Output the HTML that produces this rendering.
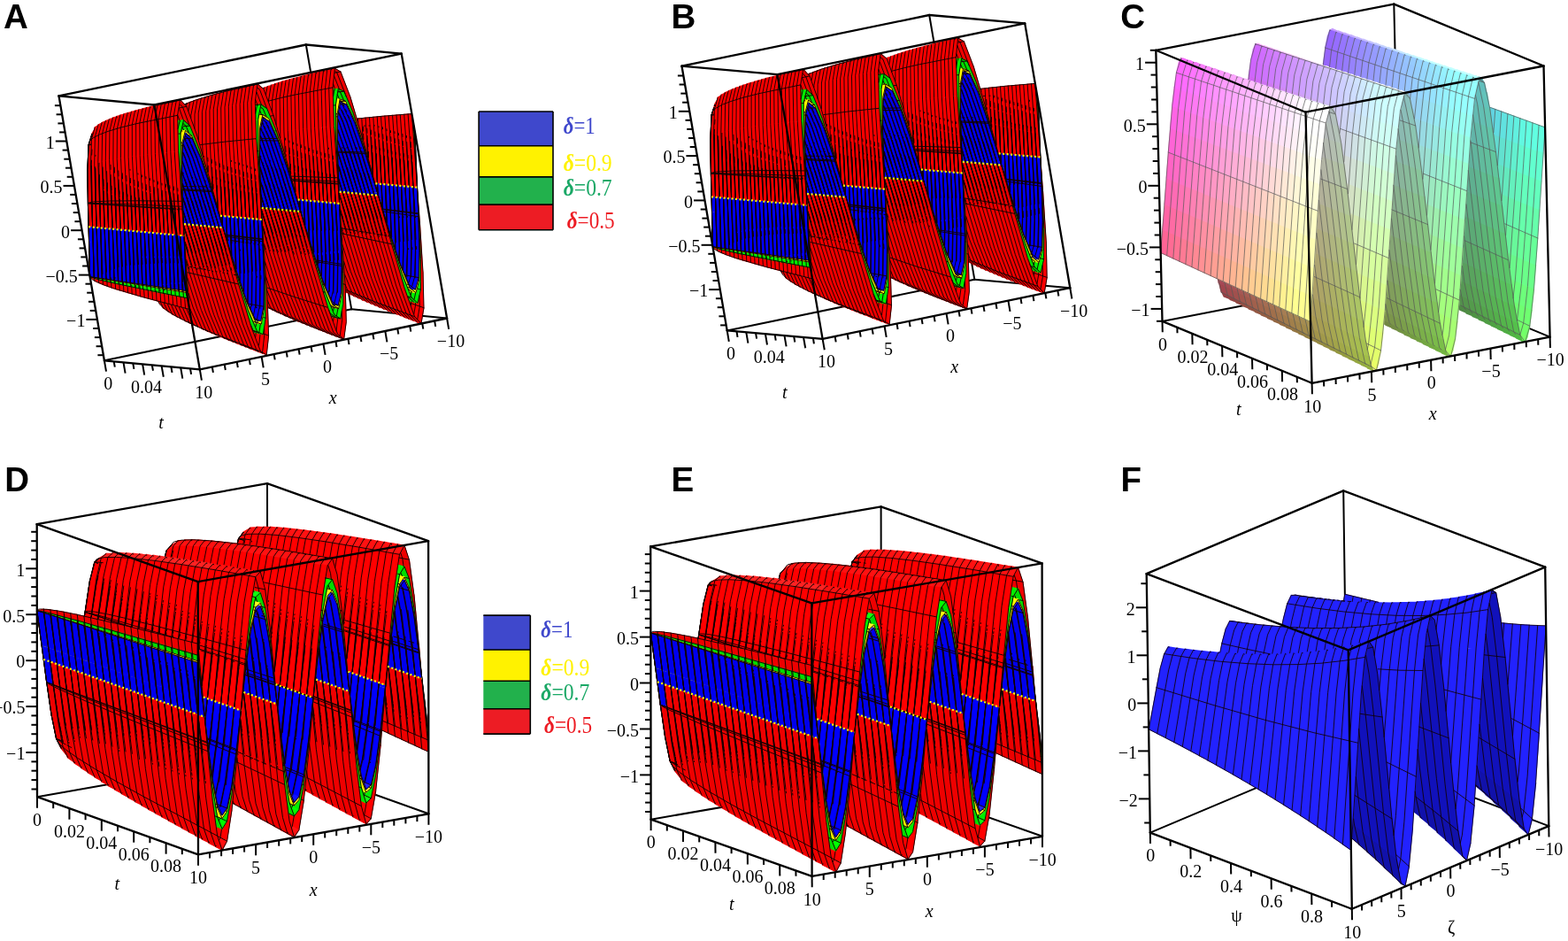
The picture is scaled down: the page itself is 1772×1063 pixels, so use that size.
<!DOCTYPE html><html><head><meta charset="utf-8"><title>Figure</title><style>html,body{margin:0;padding:0;background:#fff;overflow:hidden}svg{display:block}</style></head><body><svg width="1772" height="1063" viewBox="0 0 1772 1063"><g stroke="#000" stroke-width="2" stroke-linecap="round"><line x1="117.9" y1="407.3" x2="397.2" y2="349.3"/><line x1="397.2" y1="349.3" x2="345.8" y2="50.5"/><line x1="397.2" y1="349.3" x2="505.1" y2="359.5"/></g><g><path fill="#e00" d="M175.6 327.3l8.9 20.6-6.5-7.5-8.6-19.1zM180.5 330.3l9.1 21.5-5.8-3.5-9-20.8zM382.7 301.1l10.3 27.2-5.6-1.9-10.1-26.7zM185.3 332.8l9.3 22.1-5.7-2.8-9.2-21.5zM387.4 302.8l10.4 27.6-5.6-1.8-10.2-27.2zM190.1 335.1l9.4 22.6-5.6-2.5-9.3-22.1zM392.1 304.5l10.5 27.9-5.6-1.7-10.3-27.6zM386.4 303.9l-13.1-43.2 5.4 .8 13.2 43.8zM194.9 337.2l9.5 23-5.6-2.2-9.4-22.6zM300.4 345.9l-9.9-25.3 5.4 1.5 10 25.7zM396.8 306.1l10.5 28.3-5.5-1.7-10.4-27.9zM391.1 305.5l-13.2-43.8 5.4 .8 13.3 44.4zM199.6 339.2l9.6 23.4-5.5-2-9.6-23.1zM305.2 348.1l-10-25.7 5.4 1.4 10.1 26.1zM401.5 307.7l10.6 28.7-5.5-1.7-10.5-28.3zM395.8 307.1l-13.3-44.3 5.4 .8 13.4 44.9zM204.4 341.1l9.7 23.8-5.6-1.9-9.6-23.5zM310 350.2l-10.1-26.1 5.5 1.4 10.1 26.5zM406.2 309.3l10.6 29-5.5-1.6-10.5-28.7zM374 215.2l13.7 49.1-5.4-.8-13.6-48.5zM292.1 283.5l13 42.8-5.5-1.4-12.9-42.2zM400.5 308.7l-13.4-44.9 5.4 .8 13.5 45.5zM209.1 342.9l9.8 24.2-5.6-1.8-9.7-23.9zM314.8 352.3l-10.2-26.5 5.5 1.4 10.2 26.8zM410.9 310.8l10.7 29.4-5.5-1.6-10.6-29zM378.5 215.6l13.8 49.8-5.4-.8-13.7-49.2zM296.7 284.6l13.1 43.4-5.5-1.4-13-42.8zM405.2 310.3l-13.5-45.5 5.4 .8 13.6 46zM213.8 344.7l9.9 24.6-5.6-1.8-9.7-24.2zM319.5 354.3l-10.2-26.8 5.5 1.3 10.2 27.2zM415.6 312.3l10.7 29.8-5.5-1.6-10.6-29.4zM383 216.1l13.9 50.3-5.4-.8-13.8-49.7zM301.3 285.7l13.2 43.9-5.4-1.4-13.2-43.3zM409.9 311.8l-13.6-46 5.4 .8 13.7 46.5zM218.6 346.5l9.8 24.9-5.5-1.8-9.8-24.6zM324.3 356.3l-10.3-27.2 5.5 1.3 10.3 27.5zM295.7 285.6l-14.7-52.4 5.2 .2 14.9 53.1zM420.3 313.8l10.8 30.1-5.5-1.6-10.8-29.7zM212.8 345.8l-12.7-41.2 5.4 .9 12.8 41.7zM387.5 216.5l14 50.9-5.4-.8-13.9-50.3zM305.9 286.8l13.3 44.4-5.4-1.4-13.3-43.9zM414.6 313.3l-13.7-46.5 5.4 .8 13.7 47zM223.3 348.2l9.9 25.2-5.5-1.7-9.9-24.9zM329.1 358.2l-10.4-27.5 5.5 1.3 10.4 27.8zM300.4 286.7l-14.9-53 5.2 .2 15 53.7zM425 315.3l10.8 30.4-5.5-1.5-10.8-30.1zM217.5 347.5l-12.8-41.7 5.4 .9 12.9 42.2zM392 216.9l14.1 51.5-5.4-.8-14-50.9zM310.5 287.8l13.4 45-5.4-1.4-13.4-44.4zM419.3 314.9l-13.8-47.1 5.4 .7 13.8 47.6zM228 349.8l10 25.6-5.5-1.7-10-25.2zM333.8 360.1l-10.4-27.8 5.4 1.2 10.5 28.2zM305 287.8l-15-53.7 5.2 .2 15.1 54.3zM429.6 316.8l10.9 30.7-5.4-1.5-10.9-30.4zM222.3 349.2l-13-42.3 5.4 .9 13 42.8zM396.5 217.3l14.2 52-5.4-.7-14.1-51.5zM315.1 288.9l13.5 45.4-5.4-1.3-13.5-44.9zM424 316.3l-13.9-47.5 5.3 .7 14 48.1zM232.7 351.5l10 25.8-5.4-1.6-10.1-25.6zM199.7 255.9l14.8 52.7-5.4-.9-14.7-52zM338.6 362l-10.5-28.2 5.4 1.3 10.5 28.4zM309.6 288.8l-15.1-54.3 5.2 .2 15.2 55zM434.3 318.2l11 31.1-5.5-1.5-10.9-30.7zM227 350.9l-13.1-42.9 5.4 .9 13.1 43.3zM401 217.8l14.3 52.5-5.4-.8-14.2-51.9zM319.7 289.9l13.6 46-5.5-1.3-13.4-45.5zM237.4 353.1l10.1 26.1-5.5-1.6-10.1-25.8zM428.6 317.8l-13.9-48.1 5.3 .8 14.1 48.5zM204.2 256.4l14.9 53.3-5.3-.9-14.8-52.6zM343.3 363.8l-10.5-28.4 5.4 1.2 10.6 28.7zM314.2 289.9l-15.2-55 5.2 .2 15.3 55.6zM439 319.7l11 31.3-5.5-1.4-10.9-31.1zM231.7 352.5l-13.1-43.3 5.3 .8 13.2 43.9zM405.5 218.2l14.4 53.1-5.4-.8-14.3-52.5zM324.3 290.9l13.7 46.5-5.5-1.3-13.5-46zM242.1 354.7l10.2 26.4-5.5-1.6-10.2-26.1zM433.3 319.3l-14-48.6 5.3 .7 14.1 49.1zM208.7 256.9l15.1 53.9-5.4-.9-14.9-53.3zM348 365.6l-10.5-28.7 5.4 1.2 10.6 29.1zM318.8 290.9l-15.3-55.6 5.2 .2 15.4 56.2zM203.4 257.4l-1.2-5.1 5.3 .2 1.1 5.2zM443.6 321.1l11.1 31.7-5.5-1.5-11-31.3zM236.4 354.1l-13.2-43.8 5.3 .8 13.3 44.3zM410 218.6l14.5 53.6-5.4-.7-14.4-53.1zM328.9 291.9l13.8 47-5.5-1.3-13.7-46.4zM246.8 356.2l10.2 26.8-5.5-1.6-10.2-26.4zM438 320.7l-14.1-49 5.3 .7 14.2 49.5zM213.2 257.4l15.2 54.5-5.4-.9-15-53.9zM352.8 367.4l-10.6-29 5.4 1.2 10.7 29.3zM323.4 291.9l-15.4-56.1 5.2 .2 15.5 56.7zM207.9 257.9l-1.2-5.2 5.3 .2 1.2 5.3zM241.1 355.7l-13.3-44.4 5.4 .9 13.3 44.8zM414.5 219l14.5 54.2-5.3-.8-14.5-53.6zM333.5 292.9l13.8 47.5-5.4-1.3-13.8-46.9zM251.5 357.8l10.2 27-5.4-1.5-10.3-26.8zM217.7 257.8l15.3 55.2-5.4-.9-15.1-54.5zM357.5 369.2l-10.7-29.3 5.5 1.2 10.7 29.6zM328 292.9l-15.5-56.7 5.2 .2 15.6 57.3zM212.4 258.4l-1.2-5.3 5.3 .2 1.2 5.3zM245.8 357.3l-13.4-44.9 5.4 .8 13.4 45.4zM338.1 293.9l13.9 48-5.4-1.3-13.9-47.4zM256.2 359.3l10.3 27.4-5.5-1.6-10.3-27zM222.2 258.3l15.4 55.7-5.4-.8-15.2-55.2zM362.2 371l-10.7-29.6 5.4 1.1 10.8 30zM332.6 293.9l-15.7-57.3 5.3 .2 15.7 57.9zM216.9 258.8l-1.2-5.3 5.3 .3 1.2 5.3zM378.2 112.3l-10.8-28 5-1.2 10.9 28.3zM250.5 358.8l-13.5-45.3 5.4 .8 13.5 45.8zM342.7 294.9l14 48.4-5.4-1.2-14-47.9zM260.8 360.8l10.4 27.7-5.5-1.5-10.3-27.4zM226.8 258.8l15.4 56.3-5.4-.8-15.3-55.8zM221.4 259.3l-1.2-5.3 5.3 .2 1.2 5.4zM255.1 360.3l-13.5-45.8 5.4 .9 13.6 46.2zM382.6 111.6l-10.9-28.2 5-1.2 10.9 28.5zM265.5 362.3l10.4 28-5.4-1.5-10.4-27.7zM231.3 259.2l15.5 56.9-5.4-.8-15.4-56.3zM225.9 259.8l-1.2-5.4 5.3 .2 1.2 5.4zM259.8 361.9l-13.6-46.3 5.4 .8 13.7 46.7zM386.9 111l-11-28.5 5.1-1.2 10.9 28.8zM270.2 363.8l10.5 28.2-5.5-1.4-10.4-28zM235.8 259.7l15.6 57.5-5.4-.8-15.5-56.9zM285.4 102.7l11.2 30-5.1 .9-11.1-29.7zM230.4 260.2l-1.2-5.4 5.3 .2 1.2 5.5zM264.5 363.4l-13.7-46.8 5.4 .8 13.8 47.2zM391.2 110.4l-11-28.8 5-1.2 11 29zM240.3 260.2l15.7 58-5.4-.8-15.6-57.5zM234.9 260.7l-1.2-5.5 5.3 .2 1.2 5.6zM239.4 261.2l-1.2-5.5 5.3 .2 1.2 5.5zM204.8 155l-11.4-31.4 5-1.2 11.5 31.7z"/><path fill="#d00" d="M389.8 330.4l-6.7-6.8 5.3 1.7 6.8 6.9zM394.6 332.8l-6.7-6.9 5.3 1.5 6.8 7.1zM399.5 335.1l-6.8-7.1 5.3 1.5 6.8 7.2zM301.3 344.7l6.5 5.3-5.3-1.7-6.4-5.2zM404.3 337.3l-6.8-7.2 5.3 1.5 6.8 7.2zM306.1 346.9l6.5 5.3-5.3-1.6-6.4-5.2zM409.1 339.4l-6.9-7.2 5.3 1.4 6.9 7.3zM310.9 349l6.5 5.4-5.2-1.5-6.5-5.3zM413.8 341.5l-6.8-7.4 5.3 1.4 6.9 7.5zM315.7 351.1l6.5 5.5-5.2-1.5-6.5-5.4zM418.6 343.6l-6.9-7.5 5.3 1.3 6.9 7.6zM320.5 353.1l6.5 5.6-5.2-1.5-6.6-5.5zM423.4 345.6l-6.9-7.6 5.3 1.3 6.9 7.7zM325.2 355l6.6 5.7-5.3-1.4-6.5-5.6zM428.1 347.5l-6.9-7.6 5.3 1.3 7 7.7zM229.7 372.8l-6.2-3.7 5.1 1.3 6.2 3.8zM330 357l6.5 5.7-5.2-1.3-6.6-5.7zM432.9 349.5l-6.9-7.8 5.3 1.3 6.9 7.8zM234.5 374.9l-6.3-3.8 5.1 1.3 6.3 3.8zM334.7 358.9l6.6 5.8-5.2-1.3-6.6-5.8zM437.7 351.4l-7-7.8 5.3 1.2 7 7.9zM239.2 377l-6.2-3.8 5.1 1.2 6.2 3.9zM339.5 360.7l6.6 5.9-5.3-1.3-6.6-5.8zM442.4 353.3l-7-7.9 5.3 1.2 7 8zM244 379l-6.2-3.8 5.1 1.2 6.2 3.9zM344.2 362.6l6.6 6-5.2-1.3-6.6-5.9zM447.2 355.2l-7-8 5.3 1.2 7 8.1zM248.8 381l-6.3-3.9 5.1 1.2 6.3 4zM348.9 364.4l6.7 6.1-5.2-1.3-6.7-6zM451.9 357.1l-7-8.2 5.3 1.2 7 8.2zM253.5 383l-6.2-4 5.1 1.2 6.2 4zM353.7 366.2l6.6 6.1-5.2-1.2-6.6-6zM258.3 384.9l-6.3-4 5.1 1.1 6.3 4.1zM358.4 368l6.7 6.2-5.3-1.2-6.6-6.1zM263 386.8l-6.3-4 5.1 1.1 6.4 4.1zM363.1 369.8l6.7 6.2-5.2-1.2-6.7-6.1zM267.8 388.7l-6.3-4.1 5.1 1.1 6.3 4.2zM272.5 390.6l-6.3-4.2 5.1 1.1 6.3 4.2zM277.3 392.4l-6.4-4.2 5.1 1.1 6.4 4.3zM374.1 77.4l6.8 4.5-4.6 1.6-6.8-4.4zM378.4 76.5l6.8 4.5-4.6 1.6-6.9-4.5zM289.2 103l-7.2-6.4 4.8-1.6 7.2 6.5zM199.5 112.8l7.5 8.5-4.8 1.4-7.6-8.4z"/><path fill="#f00" d="M298.2 98.9l-2.7 18.3-4.9 1.4 2.7-18zM106 273.8l1 43.8-6-4.6-.5-40.8zM302.4 97.3l-2.7 18.6-5 1.2 2.8-18.3zM99.8 256.6l-.9-27.2 5-1.6 1.2 29.2zM102.6 186.6l1.5 41.9-4.9 1.6-1-39zM107.2 143.9l-3 13.6-4.1 6.2 3.2-12.7zM98.8 191.6l.6-28.1 4.1-6.5-.3 30.2zM110.6 274.8l1.3 45.2-5.6-2.3-1.1-43.9zM298.9 151.5l-.2-36.4 5-1.3 .4 37zM306.6 95.8l-2.7 18.9-5 1.1 2.7-18.6zM402.3 185.3l-2.6-51.1 5.1-.6 2.8 51.8zM104.3 257l-1.1-29.2 5.1-.5 1.3 30.1zM106.9 184.7l1.5 43.4-5.2 .5-1.2-42.1zM111.2 140.7l-3.2 14.3-4.7 2.4 3.3-13.8zM102.3 187.2l.5-30.3 4.8-2.7-.4 31.3zM203 134.7l3-16.4 4.9-1.7-3 16.8zM115.1 275.6l1.6 46.3-5.6-1.9-1.4-45.2zM303.2 150.8l-.3-37 5-1.1 .5 37.4zM310.8 94.4l-2.7 19.1-5 1 2.7-18.8zM406.8 185.4l-2.8-51.8 5.1-.5 2.9 52.4zM108.8 257.5l-1.3-30.2 5.2-.3 1.4 30.8zM111.1 183.4l1.6 44.4-5.1 .3-1.5-43.3zM115.3 138.3l-3.2 14.6-4.9 1.9 3.3-14.3zM106.4 185.5l.4-31.4 4.9-2-.3 32.1zM207.1 133.2l3-16.7 4.9-1.5-2.9 17zM119.7 276.4l1.7 47.3-5.5-1.7-1.6-46.3zM307.6 150.1l-.5-37.4 5.1-1.1 .5 37.9zM315 93l-2.6 19.4-5.1 1 2.7-19.2zM411.2 185.6l-2.9-52.4 5.2-.6 3 53.1zM113.3 257.9l-1.4-30.9 5.2-.2 1.5 31.5zM115.4 182.3l1.7 45.3-5.2 .2-1.6-44.4zM119.4 136.2l-3.2 15-4.9 1.5 3.3-14.6zM110.5 184.2l.4-32.1 5-1.8-.3 32.8zM216 129.9l.2 35.7-5.1 .7-.1-35.1zM211.3 131.8l3-17 4.9-1.4-2.9 17.3zM316.9 148.2l2.7 51.1-5.3-.1-2.5-50.4zM415.7 184.9l5.2 .1 1.4 22.4-5.3-.3zM124.2 277.2l1.9 48.1-5.5-1.6-1.7-47.2zM311.9 149.6l-.5-38 5-1.1 .6 38.5zM319.2 91.7l-2.6 19.6-5 1 2.6-19.4zM415.7 185.7l-3-53 5.1-.5 3.1 53.7zM117.8 258.3l-1.5-31.5 5.2-.2 1.6 32.1zM119.6 181.3l1.9 46.2-5.2 .1-1.7-45.3zM114.8 183.1l.3-32.8 4.9-1.5-.2 33.3zM123.5 134.4l-3.2 15.2-4.9 1.4 3.3-15zM220.3 128.7l.2 36.2-5.1 .7-.1-35.7zM215.5 130.6l2.9-17.3 5-1.3-2.9 17.5zM321.2 147.6l2.8 51.8-5.2-.1-2.7-51.1zM420.1 185.1l5.3 .1 1.4 22.6-5.3-.3zM128.8 278l2 48.9-5.5-1.5-1.9-48.1zM316.2 149l-.6-38.5 5.1-1 .6 38.9zM323.4 90.5l-2.6 19.8-5 .9 2.6-19.6zM420.1 185.9l-3.1-53.7 5.2-.4 3.2 54.2zM122.3 258.7l-1.6-32 5.2-.2 1.7 32.6zM123.9 180.4l2 46.9-5.2 .2-1.8-46.2zM119 182.1l.2-33.3 5-1.4-.1 33.8zM127.7 132.8l-3.2 15.4-5 1.2 3.3-15.2zM224.5 127.5l.3 36.7-5.1 .7-.2-36.2zM219.7 129.4l2.9-17.5 5-1.2-2.9 17.7zM325.6 147.1l2.8 52.4-5.2-.1-2.8-51.7zM424.6 185.3l5.2 .1 1.5 22.9-5.3-.4zM133.3 278.7l2.2 49.7-5.5-1.5-2-48.9zM320.5 148.5l-.6-39 5-1 .8 39.4zM424.6 186.1l-3.2-54.3 5.1-.4 3.3 54.8zM327.6 89.3l-2.5 20.1-5.1 .8 2.6-19.8zM126.8 259.1l-1.7-32.5 5.2-.1 1.8 33zM128.2 179.6l2.1 47.7-5.2 .1-2-46.9zM123.3 181.2l.1-33.9 5-1.3 0 34.4zM131.9 131.3l-3.2 15.6-5 1.1 3.2-15.4zM226.3 213.2l-2.4-49.7 5.1-.7 2.6 50.4zM329.3 225.3l-1.6-26.6 5.2 .1 1.7 26.8zM228.7 126.5l.4 37.1-5.1 .6-.3-36.7zM223.9 128.2l2.9-17.7 5-1.1-2.9 17.9zM329.9 146.6l3 53-5.3-.1-2.8-52.3zM429 185.5l5.3 .1 1.5 23.1-5.3-.4zM137.9 279.4l2.3 50.4-5.5-1.4-2.2-49.7zM324.9 147.9l-.8-39.4 5.1-.9 .8 39.8zM429 186.3l-3.3-54.9 5.2-.4 3.4 55.4zM331.8 88.1l-2.4 20.3-5.1 .8 2.5-20zM131.3 259.6l-1.8-33.1 5.2-.1 1.9 33.5zM132.5 178.9l2.2 48.3-5.2 .1-2.1-47.6zM127.6 180.4l0-34.4 5-1.2 .1 34.9zM136.1 129.8l-3.2 15.9-5 1 3.2-15.6zM230.8 213.2l-2.6-50.3 5.1-.7 2.7 51zM333.8 225.7l-1.7-26.9 5.2 .1 1.8 27.2zM233 125.4l.4 37.6-5.1 .6-.3-37.1zM228.1 127.2l2.9-18 5-1.1-2.8 18.2zM334.3 146.2l3 53.5-5.2-.1-3-52.9zM433.5 185.6l5.3 .2 1.5 23.3-5.3-.4zM142.4 280.1l2.5 51.1-5.5-1.4-2.3-50.4zM329.2 147.5l-.8-39.9 5.1-.9 .8 40.3zM433.5 186.4l-3.4-55.4 5.1-.4 3.5 56zM336.1 87l-2.5 20.5-5 .8 2.4-20.3zM135.8 260l-1.9-33.5 5.2-.1 2 34zM136.8 178.2l2.4 49-5.3 0-2.2-48.3zM131.9 179.7l0-34.9 5-1.2 .1 35.4zM140.3 128.5l-3.2 16-5 1 3.2-15.9zM235.2 213.3l-2.7-51 5.2-.6 2.7 51.6zM338.3 226.1l-1.8-27.1 5.3 0 1.7 27.5zM237.3 124.4l.5 38.1-5.2 .6-.4-37.7zM232.4 126.1l2.8-18.1 5-1.1-2.8 18.4zM338.6 145.7l3.2 54.1-5.3 0-3-53.6zM438 185.8l5.2 .2 1.6 23.5-5.3-.3zM147 280.8l2.5 51.7-5.4-1.3-2.5-51zM333.5 147l-.8-40.3 5-.9 1 40.7zM437.9 186.6l-3.4-56 5.1-.4 3.6 56.6zM340.3 85.9l-2.4 20.7-5.1 .8 2.5-20.5zM140.3 260.4l-2-34 5.3 0 2 34.4zM141.1 177.5l2.5 49.7-5.2 0-2.4-49zM239.6 212.5l5.3 .1 1.9 31.2-5.3-.3zM136.2 179l-.1-35.4 5-1.1 .2 35.9zM144.5 127.1l-3.2 16.3-5 .9 3.2-16zM239.6 213.3l-2.7-51.6 5.1-.6 2.9 52.3zM342.7 226.5l-1.7-27.4 5.2 .1 1.8 27.7zM241.5 123.4l.6 38.6-5.1 .5-.5-38.1zM236.6 125.1l2.8-18.3 5.1-1.1-2.8 18.6zM343 145.3l3.2 54.7-5.2-.1-3.2-54.1zM442.4 186l5.3 .2 1.6 23.7-5.3-.3zM151.5 281.5l2.7 52.4-5.5-1.3-2.5-51.8zM337.9 146.5l-1-40.7 5.1-.9 1 41.2zM442.4 186.8l-3.6-56.5 5.2-.5 3.6 57.2zM344.5 84.8l-2.3 21-5.1 .7 2.4-20.7zM144.8 260.8l-2-34.4 5.2-.1 2.1 34.9zM145.5 176.9l2.5 50.3-5.2 0-2.4-49.6zM244.1 212.6l5.2 0 2 31.7-5.3-.4zM140.5 178.4l-.2-35.9 5.1-1 .2 36.2zM148.7 125.9l-3.2 16.4-5 .9 3.2-16.2zM244.1 213.4l-2.9-52.2 5.1-.6 3 52.8zM347.2 227l-1.8-27.8 5.3 .1 1.8 28zM245.8 122.5l.6 38.9-5.1 .6-.6-38.5zM240.9 124.2l2.8-18.6 5-1-2.8 18.8zM347.3 144.8l3.4 55.3-5.3-.1-3.2-54.7zM446.9 186.2l5.2 .2 1.7 24-5.3-.4zM156 282.2l2.8 53-5.4-1.3-2.7-52.4zM342.2 146.1l-1-41.2 5.1-.8 1.1 41.6zM446.8 187l-3.6-57.1 5.1-.4 3.8 57.7zM348.8 83.8l-2.4 21.1-5 .7 2.4-20.9zM149.3 261.3l-2.1-34.9 5.2 0 2.2 35.2zM456.5 358.5l3.4-17.9 5.5 1.8-3.3 18.1zM464.6 302.9l.5 40.2-5.5-1.6-.4-39.9zM149.8 176.3l2.6 50.9-5.2 0-2.5-50.2zM248.5 212.7l5.2 0 2.1 32-5.3-.4zM144.8 177.7l-.2-36.2 5-1.1 .3 36.7zM152.9 124.7l-3.1 16.6-5 .9 3.1-16.5zM248.5 213.5l-3-52.8 5.2-.6 3 53.4zM351.7 227.4l-1.8-28 5.2 .1 1.9 28.2zM250 121.6l.8 39.4-5.2 .5-.6-39zM351.7 144.4l3.4 55.9-5.2-.1-3.4-55.3zM245.2 123.2l2.7-18.7 5-1-2.7 18.9zM451.3 186.4l5.3 .1 1.7 24.3-5.3-.4zM160.6 282.8l2.9 53.7-5.5-1.3-2.8-53zM346.6 145.7l-1.1-41.6 5.1-.9 1.1 42zM451.3 187.2l-3.8-57.7 5.2-.4 3.9 58.3zM353 82.7l-2.3 21.4-5.1 .7 2.4-21.1zM153.8 261.7l-2.2-35.3 5.2 0 2.3 35.7zM461.3 360.4l3.3-18.1 5.5 1.8-3.3 18.2zM469.3 304.2l.5 40.6-5.5-1.7-.5-40.2zM154.1 175.8l2.7 51.4-5.2 0-2.6-50.8zM252.9 212.8l5.3 0 2.1 32.3-5.3-.4zM149.1 177.1l-.3-36.7 5.1-.9 .3 37.1zM157.1 123.5l-3.1 16.8-5 .8 3.1-16.6zM252.9 213.6l-3-53.4 5.1-.5 3.2 53.9zM356.2 227.8l-1.9-28.3 5.3 .1 1.9 28.6zM254.3 120.7l.8 39.8-5.1 .5-.8-39.4zM356 144l3.6 56.4-5.3-.1-3.4-55.8zM249.4 122.3l2.7-18.9 5.1-1-2.7 19.2zM455.8 186.6l5.2 .1 1.8 24.5-5.3-.4zM165.1 283.5l3 54.2-5.4-1.2-2.9-53.6zM350.9 145.3l-1.1-42 5-.9 1.3 42.4zM455.8 187.4l-3.9-58.2 5.2-.4 3.9 58.8zM357.3 81.7l-2.3 21.6-5.1 .7 2.3-21.4zM158.3 262.1l-2.3-35.7 5.3 0 2.3 36.1zM466 362.2l3.3-18.2 5.5 1.8-3.3 18.3zM473.9 305.5l.6 40.9-5.5-1.6-.5-40.6zM158.4 175.2l2.9 52-5.3 0-2.7-51.4zM257.4 212.9l5.2 0 2.2 32.6-5.3-.3zM153.4 176.6l-.3-37.1 5-1 .5 37.5zM161.3 122.4l-3 17-5 .8 3-16.8zM257.4 213.7l-3.2-54 5.2-.5 3.2 54.5zM360.7 228.2l-1.9-28.5 5.2 .1 2 28.8zM258.6 119.8l.9 40.2-5.2 .5-.8-39.8zM360.4 143.6l3.6 57-5.2-.1-3.6-56.4zM169.7 284.2l3 54.8-5.4-1.2-3-54.2zM460.2 186.8l5.3 .2 1.8 24.6-5.3-.3zM253.7 121.4l2.7-19.1 5-.9-2.6 19.3zM377.7 358.2l-3 20-5.5-1.9 3-19.8zM371.9 357.3l-.7-41.3 5.5 1.2 .7 41.7zM355.3 144.9l-1.2-42.5 5-.8 1.3 42.8zM460.2 187.6l-3.9-58.8 5.1-.3 4.1 59.3zM361.5 80.7l-2.2 21.8-5.1 .7 2.3-21.6zM470.7 364l3.3-18.4 5.5 1.8-3.2 18.5zM162.8 262.5l-2.3-36.1 5.2 0 2.4 36.5zM478.5 306.8l.7 41.3-5.5-1.6-.6-41zM162.8 174.7l2.9 52.5-5.2 0-2.8-52zM261.8 212.9l5.3 .1 2.2 32.9-5.3-.3zM472.9 306.3l-3.4-56.8 5.3 .7 3.5 57.3zM157.7 176l-.4-37.5 5.1-.9 .5 37.9zM165.6 121.3l-3 17.1-5.1 .8 3.1-17zM261.8 213.7l-3.2-54.5 5.1-.5 3.3 55.1zM365.2 228.6l-2-28.8 5.3 .1 2 29.1zM471.8 211.3l2.9 39.7-5.4-.7-2.8-39.4zM262.9 119l.9 40.6-5.1 .4-.9-40.2zM174.2 284.8l3.2 55.4-5.5-1.2-3-54.8zM364.7 143.2l3.8 57.5-5.3-.1-3.6-56.9zM258 120.6l2.6-19.3 5.1-1-2.7 19.5zM382.4 359.9l-3 20.2-5.5-2 3-20zM376.6 359l-.7-41.8 5.4 1.3 .9 42.1zM359.6 144.5l-1.3-42.9 5.1-.8 1.4 43.3zM365.8 79.7l-2.2 22-5.1 .7 2.2-21.8zM167.3 262.9l-2.4-36.4 5.2 0 2.5 36.8zM167.1 174.1l3 53.2-5.2 0-2.9-52.6zM266.3 213l5.2 .1 2.3 33.3-5.3-.4zM162.1 175.5l-.5-37.9 5.1-1 .5 38.4zM169.8 120.2l-3 17.3-5 .8 3-17.2zM266.2 213.8l-3.3-55 5.2-.5 3.4 55.6zM369.7 229.1l-2-29.1 5.2 .1 2.1 29.3zM267.2 118.1l.9 41-5.1 .5-.9-40.6zM178.7 285.5l3.3 56-5.4-1.2-3.2-55.4zM262.2 119.7l2.7-19.5 5-.9-2.6 19.7zM387.1 361.5l-2.9 20.4-5.5-2 2.9-20.1zM381.4 360.6l-.9-42.1 5.5 1.2 .9 42.5zM364 144.1l-1.4-43.2 5.1-.8 1.5 43.6zM370.1 78.8l-2.2 22.1-5.1 .7 2.2-21.9zM171.8 263.4l-2.5-36.9 5.3 0 2.4 37.2zM171.5 173.6l3.1 53.7-5.3 0-3-53.1zM270.7 213.1l5.2 .1 2.4 33.6-5.3-.4zM166.4 175l-.5-38.4 5-.9 .6 38.8zM174.1 119.1l-3 17.5-5.1 .7 3-17.3zM270.7 213.9l-3.4-55.6 5.1-.4 3.5 56.1zM374.2 229.5l-2.1-29.4 5.3 .1 2.1 29.6zM281.8 393.9l2.7-21.7 5.5 1.7-2.7 21.9zM183.3 286.1l3.4 56.6-5.5-1.2-3.3-56zM271.4 117.3l1.1 41.4-5.2 .4-.9-40.9zM266.5 118.9l2.6-19.7 5.1-.9-2.6 19.9zM391.8 363.1l-2.9 20.5-5.5-1.9 2.9-20.3zM386.1 362.2l-1-42.5 5.5 1.3 1 42.8zM374.3 77.8l-2.2 22.3-5 .7 2.2-22.1zM176.3 263.8l-2.5-37.2 5.2-.1 2.5 37.7zM386.7 263.5l3.7 58.2-5.5-1.2-3.5-57.7zM175.8 173.1l3.2 54.3-5.2-.1-3.1-53.6zM275.1 213.2l5.3 .1 2.4 33.9-5.3-.4zM378.8 229.1l5.3 .4 2.5 34.8-5.4-.7zM170.7 174.5l-.6-38.7 5.1-.9 .7 39.1zM275.1 214l-3.5-56.1 5.2-.5 3.6 56.7zM178.3 118.1l-2.9 17.6-5.1 .8 3-17.5zM286.5 395.7l2.7-21.9 5.5 1.7-2.6 22.1zM187.8 286.8l3.5 57.1-5.4-1.2-3.4-56.5zM275.7 116.5l1.1 41.7-5.1 .5-1.1-41.4zM270.8 118.1l2.6-19.9 5-.9-2.5 20.1zM378.6 76.9l-2.2 22.5-5 .6 2.1-22.3zM180.7 264.2l-2.5-37.6 5.2 0 2.6 38zM279.6 213.4l5.2 0 2.5 34.2-5.3-.3zM180.1 172.7l3.3 54.7-5.2 0-3.2-54.2zM175.1 174l-.7-39.1 5.1-.9 .7 39.5zM182.6 117.1l-3 17.8-5 .7 2.9-17.7zM291.3 397.5l2.6-22.1 5.5 1.7-2.6 22.3zM298 333.8l1.1 44-5.5-1.6-1.1-43.5zM192.3 287.4l3.6 57.7-5.4-1.2-3.5-57.1zM280 115.7l1.2 42.1-5.2 .5-1.1-41.8zM275.1 117.2l2.5-20 5.1-.8-2.5 20.2zM185.2 264.6l-2.6-37.9 5.3 0 2.6 38.3zM184.5 172.2l3.4 55.3-5.3 0-3.3-54.8zM179.4 173.5l-.7-39.5 5.1-.8 .8 39.8zM186.8 116.1l-2.9 17.9-5.1 .7 3-17.8zM296 399.3l2.6-22.3 5.5 1.7-2.6 22.5zM302.6 335.1l1.2 44.3-5.5-1.5-1.1-44zM196.9 288.1l3.6 58.2-5.4-1.2-3.6-57.6zM297 334.7l-3.8-58.6 5.4 .7 3.8 59zM189.7 265.1l-2.6-38.4 5.2 0 2.7 38.7zM296.3 247.7l2.2 29.9-5.4-.7-2.1-29.6zM188.8 171.7l3.5 55.8-5.2 0-3.4-55.3zM183.8 173l-.8-39.8 5-.9 .9 40.2zM191.1 115.1l-2.9 18.1-5.1 .7 2.9-18zM201.4 288.7l3.8 58.8-5.5-1.2-3.6-58.2zM194.2 265.5l-2.7-38.7 5.2 0 2.8 39zM188.1 172.6l-.9-40.3 5.1-.8 1 40.6zM195.3 114.1l-2.8 18.3-5.1 .6 2.9-18.1zM205.9 289.4l3.9 59.2-5.4-1.1-3.8-58.7zM199.6 113.1l-2.8 18.5-5.1 .6 2.8-18.2zM210.5 290l3.9 59.8-5.4-1.1-3.9-59.3zM203.3 265.5l5.3 .4 1.7 24.9-5.3-.6z"/><path fill="#0e0" d="M105.8 273l.8 41.8-5.5-1.8-.7-40.8zM110.3 273.6l1 42.4-5.4-1.2-.9-41.8zM114.9 274.3l1 42.9-5.4-1.1-1-42.5zM119.4 274.9l1.1 43.4-5.4-1.1-1-42.9zM123.9 275.5l1.3 43.9-5.5-1.1-1.1-43.4zM128.4 276.1l1.4 44.3-5.4-1-1.3-43.9zM133 276.7l1.4 44.7-5.4-1-1.4-44.3zM137.5 277.3l1.4 45.1-5.3-1-1.4-44.7zM142 277.8l1.5 45.6-5.4-1-1.4-45.1zM146.5 278.4l1.6 45.9-5.4-.9-1.5-45.5zM151.1 279l1.6 46.3-5.4-1-1.6-45.9zM155.6 279.6l1.7 46.6-5.4-.9-1.6-46.3zM160.1 280.1l1.8 47-5.4-.9-1.7-46.6zM457.6 338.7l3.7-15.7 5.4 1.4-3.7 15.8zM164.6 280.7l1.9 47.4-5.4-.9-1.8-47zM462.2 340l3.7-15.8 5.4 1.4-3.6 15.8zM169.1 281.3l2 47.7-5.4-.9-1.9-47.4zM466.9 341.3l3.6-15.9 5.4 1.4-3.6 15.9zM476 292.3l-.3 35.1-5.4-1.2 .3-34.9zM470.5 292.1l-2-48.4 5.3 .6 2.1 48.7zM471.8 211.3l1.9 33.8-5.4-.6-1.8-33.6zM173.7 281.8l1.9 48.1-5.3-.9-2-47.7zM379 340.5l-3.3 17.4-5.5-1.4 3.4-17.3zM178.2 282.4l2 48.4-5.4-.8-1.9-48.1zM383.7 341.7l-3.4 17.5-5.4-1.4 3.4-17.5zM182.7 283l2.1 48.7-5.4-.8-2-48.5zM388.3 342.9l-3.3 17.6-5.5-1.4 3.4-17.6zM382.7 342.4l.1-36.3 5.4 .9-.1 36.6zM385.8 258.3l2.2 49.5-5.4-.9-2.1-49.1zM378.8 229.1l5.3 .4 1.6 29.6-5.3-.5zM187.2 283.5l2.2 49.2-5.4-.9-2.1-48.8zM282.9 374.1l3.1-18.9 5.4 1.3-3.1 19.1zM191.7 284.1l2.3 49.5-5.4-.9-2.2-49.1zM287.5 375.4l3.1-19 5.4 1.3-3 19.2zM292.2 376.7l3-19.1 5.5 1.2-3.1 19.3zM196.3 284.6l2.2 49.9-5.3-.9-2.3-49.5zM300.3 321.8l.2 37.8-5.5-1.2-.1-37.6zM294.8 321.6l-2.3-49.8 5.3 .5 2.3 50.2zM296.3 247.7l1.4 25.4-5.3-.5-1.4-25.3zM200.8 285.2l2.3 50.2-5.4-.9-2.2-49.8zM205.3 285.8l2.4 50.5-5.4-.9-2.3-50.2zM209.8 286.3l2.5 50.8-5.4-.8-2.4-50.5zM203.3 265.5l5.3 .4 1.1 21.2-5.3-.5z"/><path fill="#ff0" d="M105.7 272.7l.8 41.2-5.3-.8-.8-40.9zM110.3 273.2l.8 41.5-5.4-.8-.8-41.2zM114.8 273.7l.9 41.7-5.4-.7-.8-41.5zM119.3 274.3l.9 41.9-5.3-.8-.9-41.6zM123.8 274.8l1 42.1-5.4-.7-.9-41.9zM128.3 275.3l1 42.4-5.3-.7-1-42.2zM132.8 275.8l1.1 42.6-5.4-.7-1-42.4zM137.3 276.3l1.1 42.9-5.3-.8-1.1-42.6zM141.8 276.8l1.2 43.1-5.4-.7-1.1-42.9zM146.3 277.3l1.2 43.3-5.3-.7-1.2-43zM150.9 277.9l1.2 43.5-5.4-.7-1.2-43.3zM155.4 278.4l1.2 43.7-5.3-.7-1.2-43.5zM159.9 278.9l1.3 43.9-5.4-.7-1.2-43.7zM164.4 279.4l1.3 44.2-5.3-.7-1.3-44zM460.4 329l3.8-14.6 5.3 1.2-3.8 14.6zM168.9 279.9l1.4 44.4-5.4-.7-1.3-44.2zM474.8 285l-.8 32.2-5.4-.9 .8-32.1zM465 330l3.8-14.6 5.3 1.1-3.8 14.7zM469.3 285.1l-1.3-44.3 5.3 .6 1.3 44.4zM471.8 211.3l1.4 30.8-5.3-.5-1.4-30.7zM173.4 280.4l1.4 44.6-5.3-.7-1.4-44.4zM177.9 280.9l1.5 44.9-5.4-.8-1.4-44.6zM382 331.9l-3.6 16.1-5.4-1.1 3.6-16.1zM182.4 281.4l1.5 45.1-5.3-.7-1.5-44.8zM386.5 332.8l-3.5 16.2-5.4-1.1 3.6-16.2zM381 332.6l.6-33.2 5.4 .7-.6 33.4zM385.4 255.8l1.4 45.1-5.3-.7-1.5-45zM378.8 229.1l5.3 .4 1.2 27.1-5.4-.6zM186.9 281.9l1.6 45.3-5.4-.7-1.5-45zM191.5 282.5l1.5 45.4-5.3-.7-1.6-45.2zM285.7 364.6l3.3-17.6 5.4 1.1-3.3 17.6zM196 283l1.6 45.7-5.4-.7-1.5-45.5zM290.3 365.6l3.3-17.7 5.3 1.1-3.2 17.7zM299.2 315.1l-.4 34.6-5.4-.9 .4-34.4zM293.7 315.2l-1.6-45.6 5.3 .5 1.6 45.8zM296.3 247.7l1 23.2-5.3-.5-1-23.1zM200.5 283.5l1.6 45.9-5.3-.7-1.6-45.7zM205 284l1.7 46.1-5.4-.7-1.6-45.9zM209.5 284.5l1.7 46.4-5.3-.7-1.7-46.2zM203.3 265.5l5.3 .4 .8 19.4-5.3-.5z"/><path fill="#00f" d="M105.7 272.6l.8 41.1-5.3-.6-.8-40.9zM99.9 255.8l5.3 .4 .4 17.2-5.3-.4zM110.2 273.1l.9 41.2-5.4-.6-.8-41zM104.4 256.2l5.3 .4 .4 17.3-5.3-.4zM114.7 273.6l.9 41.4-5.3-.6-.9-41.2zM108.9 256.7l5.3 .4 .5 17.3-5.4-.5zM119.2 274.1l.9 41.6-5.3-.7-.9-41.4zM113.4 257.1l5.3 .4 .5 17.4-5.3-.5zM123.8 274.6l.9 41.7-5.4-.6-.9-41.6zM117.9 257.5l5.3 .4 .5 17.5-5.3-.5zM426.9 207.1l1 28.8-5.4-.6-.9-28.6zM128.3 275.1l.9 41.9-5.3-.7-.9-41.7zM122.4 257.9l5.3 .4 .5 17.6-5.3-.5zM431.4 207.5l1 28.9-5.3-.5-1-28.8zM132.8 275.6l.9 42-5.3-.6-.9-41.9zM126.9 258.3l5.3 .4 .5 17.7-5.3-.5zM432.6 277.2l-.9-41.6 5.3 .5 .9 41.8zM435.9 207.9l1 29-5.3-.5-1-28.9zM137.3 276.1l1 42.2-5.4-.7-.9-42zM131.4 258.8l5.3 .4 .5 17.7-5.3-.5zM333.8 224.9l5.3 .4 .9 25.2-5.3-.5zM437.1 277.9l-.9-41.7 5.3 .5 .9 41.9zM440.4 208.3l1 29.2-5.3-.5-1-29.1zM141.8 276.6l1 42.3-5.3-.6-1-42.2zM135.9 259.2l5.3 .4 .5 17.7-5.3-.4zM344.6 250.3l1 42.2-5.4-.7-.9-42zM447.1 278.5l-1 30.5-5.4-.8 1.1-30.4zM338.3 225.3l5.3 .4 .9 25.3-5.3-.4zM441.6 278.6l-.9-41.9 5.3 .5 1 42.1zM444.9 208.7l1 29.3-5.3-.5-1-29.1zM146.3 277l1 42.6-5.3-.6-1-42.4zM140.4 259.6l5.3 .4 .5 17.8-5.3-.4zM349.1 250.8l1 42.4-5.3-.7-1-42.2zM451.7 279.3l-1.1 30.6-5.3-.9 1-30.5zM342.8 225.7l5.3 .4 .9 25.5-5.3-.5zM446.2 279.3l-1-42.1 5.3 .5 1 42.3zM449.3 209.2l1.1 29.3-5.3-.5-1-29.2zM150.8 277.5l1.1 42.7-5.4-.6-1-42.5zM144.9 260l5.2 .4 .6 17.9-5.3-.4zM251.4 243.5l.7 21.7-5.3-.5-.7-21.6zM353.6 251.3l1.1 42.6-5.4-.7-1-42.4zM456.2 280l-1 30.7-5.4-.9 1.1-30.6zM347.3 226.1l5.3 .4 .9 25.6-5.3-.5zM450.7 280l-1-42.2 5.4 .5 1 42.4zM453.8 209.6l1.2 29.5-5.4-.5-1-29.4zM155.3 278l1.1 42.9-5.3-.6-1.1-42.7zM149.3 260.5l5.3 .3 .6 18-5.3-.4zM252.5 307.1l-1.1-42.7 5.3 .5 1.1 42.8zM353.1 324.6l.9-31.5 5.3 .7-.8 31.6zM255.9 243.9l.7 21.8-5.3-.5-.7-21.7zM358.1 251.8l1.1 42.8-5.3-.7-1.1-42.6zM460.7 280.7l-1 30.8-5.3-.8 1-30.8zM450.7 323.9l3.8-14.1 5.4 1-3.9 14.2zM351.8 226.6l5.3 .4 .9 25.6-5.3-.5zM455.3 280.7l-1-42.4 5.3 .5 1 42.6zM458.3 210l1.2 29.6-5.3-.5-1.2-29.5zM159.8 278.5l1.2 43.1-5.4-.7-1.1-42.9zM153.8 260.9l5.3 .4 .6 18-5.3-.5zM257 307.8l-1.1-42.9 5.3 .5 1.2 43zM357.7 325.4l.8-31.6 5.4 .7-.9 31.8zM260.4 244.3l.7 21.9-5.3-.5-.7-21.8zM362.7 252.3l1.1 43-5.4-.7-1.1-42.8zM465.3 281.4l-1 31-5.4-.9 1-30.9zM455.2 324.8l3.9-14.2 5.3 1.1-3.8 14.2zM356.3 227l5.3 .4 1 25.7-5.4-.5zM459.8 281.5l-1-42.7 5.3 .6 1.1 42.7zM462.8 210.4l1.2 29.7-5.3-.5-1.2-29.6zM164.3 279l1.2 43.2-5.3-.6-1.2-43.1zM158.3 261.3l5.3 .4 .6 18.1-5.3-.5zM261.6 308.4l-1.2-43 5.3 .5 1.2 43.2zM362.2 326.2l.9-31.7 5.3 .7-.8 31.9zM264.9 244.7l.7 22-5.3-.5-.7-21.8zM367.2 252.9l1.1 43.1-5.3-.7-1.1-42.9zM469.8 282.1l-.9 31.1-5.4-.9 1-30.9zM459.8 325.7l3.9-14.3 5.3 1.1-3.8 14.3zM360.8 227.4l5.3 .4 1 25.9-5.3-.5zM464.4 282.2l-1.1-42.8 5.3 .5 1.1 43zM467.3 210.8l1.2 29.9-5.3-.5-1.2-29.7zM168.8 279.5l1.2 43.4-5.3-.6-1.2-43.3zM271.6 309l-.7 32.7-5.4-.8 .7-32.6zM162.8 261.7l5.3 .4 .6 18.2-5.3-.5zM266.1 309.1l-1.2-43.2 5.3 .5 1.2 43.4zM372.3 327.2l-3.6 15.6-5.4-1.1 3.7-15.5zM366.8 327.1l.8-31.9 5.4 .7-.8 32zM269.4 245.2l.8 22-5.4-.5-.7-21.9zM371.7 253.4l1.1 43.3-5.3-.7-1.1-43.1zM474.4 282.8l-1 31.2-5.3-.8 .9-31.1zM464.4 326.5l3.8-14.2 5.4 1-3.9 14.3zM468.9 282.9l-1.1-43 5.3 .5 1.2 43.2zM471.8 211.3l1.2 29.9-5.3-.5-1.2-29.8zM465.7 192.9l5.3 .3 .8 18.9-5.3-.4zM173.3 280l1.3 43.6-5.4-.7-1.2-43.4zM465.7 193.7l-1.5-44.8 5.2 .2 1.6 44.9zM276.1 309.7l-.7 32.8-5.3-.8 .7-32.7zM167.3 262.1l5.3 .4 .7 18.3-5.4-.5zM270.6 309.8l-1.2-43.4 5.4 .5 1.2 43.6zM376.9 328l-3.7 15.7-5.3-1.1 3.6-15.6zM371.4 327.9l.8-32 5.3 .7-.8 32.1zM273.9 245.6l.8 22.1-5.3-.5-.8-22zM376.2 253.9l1.2 43.5-5.4-.7-1.1-43.3zM369.8 228.2l5.3 .4 1 26.1-5.3-.5zM365.3 227.8l5.3 .4 1 26-5.3-.5zM177.8 280.5l1.3 43.7-5.3-.6-1.3-43.6zM280.6 310.4l-.6 33-5.4-.9 .7-32.8zM171.8 262.6l5.3 .4 .7 18.3-5.3-.5zM275.2 310.5l-1.2-43.6 5.3 .5 1.2 43.7zM381.4 328.8l-3.6 15.8-5.3-1.1 3.6-15.7zM375.9 328.7l.8-32.1 5.3 .7-.7 32.2zM278.4 246l.8 22.2-5.3-.5-.8-22.1zM380.7 254.4l1.2 43.7-5.3-.7-1.2-43.5zM374.3 228.7l5.3 .4 1 26.1-5.3-.5zM182.4 281l1.2 43.9-5.3-.6-1.3-43.8zM276 359.5l3.4-17 5.3 1-3.4 17zM285.2 311l-.6 33.2-5.4-.9 .6-33zM176.3 263l5.3 .4 .7 18.4-5.3-.5zM279.7 311.2l-1.2-43.7 5.3 .4 1.3 43.9zM386 329.7l-3.6 15.7-5.4-1 3.7-15.7zM380.5 329.5l.7-32.2 5.4 .7-.7 32.4zM282.9 246.4l.8 22.3-5.3-.4-.8-22.3zM385.2 255l1.3 43.8-5.4-.7-1.2-43.6zM378.8 229.1l5.3 .4 1 26.3-5.3-.5zM186.9 281.5l1.3 44.1-5.4-.7-1.2-43.9zM280.5 360.3l3.4-17 5.4 1-3.4 17.1zM289.7 311.7l-.6 33.3-5.3-.8 .6-33.2zM180.8 263.4l5.3 .4 .7 18.5-5.3-.5zM284.3 311.8l-1.3-43.8 5.3 .4 1.3 44.1zM287.3 246.8l.9 22.4-5.3-.4-.8-22.3zM191.4 282l1.3 44.2-5.3-.6-1.3-44.1zM285.1 361.2l3.4-17.1 5.3 1-3.3 17.2zM294.3 312.4l-.6 33.4-5.4-.8 .6-33.3zM185.3 263.8l5.3 .4 .7 18.6-5.3-.5zM288.8 312.5l-1.3-44 5.3 .5 1.3 44.2zM291.8 247.3l.9 22.4-5.3-.4-.9-22.4zM195.9 282.5l1.4 44.4-5.4-.6-1.3-44.3zM289.7 362.1l3.3-17.2 5.4 1-3.4 17.2zM298.8 313.1l-.5 33.5-5.4-.8 .6-33.4zM189.8 264.2l5.3 .4 .7 18.6-5.3-.4zM293.3 313.2l-1.3-44.2 5.3 .5 1.4 44.4zM296.3 247.7l.9 22.6-5.3-.5-.9-22.5zM200.4 282.9l1.4 44.7-5.3-.7-1.4-44.4zM194.3 264.7l5.3 .4 .7 18.6-5.3-.4zM204.9 283.4l1.4 44.8-5.3-.6-1.4-44.6zM198.8 265.1l5.3 .4 .7 18.7-5.3-.4zM209.4 283.9l1.5 45-5.4-.6-1.4-44.8zM203.3 265.5l5.3 .4 .7 18.8-5.3-.4z"/><path fill="#f22" d="M230.3 371.3l-6.5-3-4.8-2.1 6.5 2.9z"/><path fill="#00e" d="M382.1 217.1l-1-4.2 5.3 .1 1 4.3zM381.1 213.6l-13.2-42.4 5.3 0 13.1 42.6zM386.6 217.5l-1-4.2 5.3 .1 1 4.3zM385.6 214.1l-13.2-42.7 5.2 0 13.2 42.8zM391.1 217.9l-1-4.2 5.3 .1 1 4.3zM390.1 214.5l-13.2-42.9 5.2 0 13.2 43zM395.6 218.4l-1-4.3 5.3 .1 1 4.3zM286.4 192.5l13.3 43-5.3-.2-13.2-42.8zM394.6 214.9l-13.3-43 5.3-.1 13.2 43.2zM374.6 137.5l11.9 35.1-5.2 .1-11.9-35zM400.1 218.8l-1-4.3 5.3 .1 1 4.4zM290.9 192.7l13.3 43.2-5.3-.2-13.2-43zM399 215.3l-13.2-43.2 5.2 0 13.3 43.3zM379.1 137.6l11.9 35.3-5.2 0-11.9-35.1zM404.6 219.2l-1-4.3 5.3 .2 1 4.3zM295.4 193l13.2 43.3-5.2-.2-13.3-43.1zM403.5 215.7l-13.2-43.4 5.2 0 13.3 43.5zM290.1 193.8l-12-35.7 5.2-.2 12 35.9zM206.7 253.5l-12.2-39.6 5.2 0 12.2 39.8zM383.5 137.7l11.9 35.4-5.2 0-11.9-35.2zM409.1 219.6l-1-4.3 5.3 .2 1 4.3zM299.8 193.2l13.3 43.6-5.2-.2-13.3-43.4zM378.3 138.7l-9.5-21.1 5.1-.3 9.6 21.1zM408 216.1l-13.3-43.6 5.2 0 13.4 43.8zM294.6 194l-12.1-35.8 5.2-.2 12.1 36zM211.1 253.9l-12.1-39.8 5.2 .1 12.2 39.9zM387.9 137.7l12 35.6-5.2 0-12-35.4zM413.6 220l-1-4.3 5.3 .2 1 4.3zM304.3 193.5l13.3 43.7-5.2-.2-13.3-43.5zM382.7 138.8l-9.5-21.2 5.2-.3 9.5 21.2zM412.5 216.5l-13.3-43.7 5.2-.1 13.4 44zM299 194.3l-12-36 5.2-.2 12.1 36.2zM452.8 297.8l9.9 24.1-5.3-.5-9.8-24.1zM215.6 254.4l-12.2-40 5.3 0 12.2 40.1zM392.4 137.8l12 35.7-5.3 .1-11.9-35.6zM418.1 220.5l-1-4.4 5.2 .2 1.1 4.4zM308.8 193.7l13.3 43.9-5.2-.2-13.4-43.7zM447.4 298.1l-12.2-37.6 5.3 .3 12.2 37.8zM196.4 178.5l12.2 36.7-5.2 0-12.2-36.6zM417 216.9l-13.4-43.9 5.3 0 13.4 44.1zM303.5 194.5l-12.1-36.1 5.2-.2 12.1 36.3zM427.9 220.3l12.5 41.3-5.3-.4-12.4-41.1zM220.1 254.8l-12.2-40.2 5.2 .1 12.3 40.3zM396.8 137.9l12 35.8-5.2 .1-12-35.7zM286.9 136.5l9.7 22.4-5.2 .3-9.7-22.4zM313.2 193.9l13.4 44.1-5.2-.2-13.4-43.9zM200.9 178.6l12.2 36.8-5.2 .1-12.2-36.8zM308 194.7l-12.1-36.3 5.2-.1 12.1 36.4zM224.6 255.2l-12.2-40.3 5.2 0 12.3 40.5zM291.3 136.5l9.7 22.5-5.1 .3-9.8-22.5zM317.7 194.2l13.4 44.2-5.2-.1-13.4-44.1zM205.3 178.7l12.2 37-5.2 0-12.2-36.9zM370.4 340.7l-9.7-22.7 5.3 .4 9.7 22.8zM312.4 195l-12.1-36.5 5.2-.2 12.1 36.7zM229.1 255.6l-12.3-40.5 5.3 .1 12.3 40.6zM353.8 282.3l12.1 36.9-5.3-.5-12.1-36.7zM322.2 194.4l13.4 44.5-5.2-.2-13.5-44.3zM209.8 178.8l12.2 37.1-5.2 .1-12.2-37.1zM348.4 282.7l-13.5-44.4 5.3 .2 13.5 44.6zM316.9 195.2l-12.2-36.6 5.2-.2 12.2 36.8zM204.6 179.8l-10-23.7 5.2-.3 9.9 23.7zM233.6 256l-12.3-40.6 5.2 0 12.4 40.8zM214.2 178.9l12.3 37.3-5.2 0-12.3-37.2zM209 179.9l-10-23.8 5.2-.3 10 23.8zM238.1 256.5l-12.3-40.9 5.2 .1 12.4 40.9zM279.1 339l9.5 21.4-5.3-.5-9.4-21.4zM218.6 179l12.3 37.5-5.2 0-12.3-37.4zM273.7 339.3l-11.9-35.9 5.3 .4 11.9 36zM242.6 256.9l-12.4-41 5.3 0 12.4 41.2zM253.5 260.3l13.5 44.3-5.3-.4-13.4-44.1zM223.1 179.1l12.3 37.6-5.2 0-12.3-37.5z"/><path fill="#d00" d="M456.6 358.9l-7-8.2 5.3 1.2 7 8.3zM461.4 360.7l-7.1-8.3 5.3 1.2 7.1 8.4zM466.1 362.5l-7-8.3 5.3 1.2 7 8.4zM367.9 371.6l6.7 6.3-5.3-1.2-6.7-6.3zM470.8 364.4l-7-8.5 5.3 1.2 7.1 8.5zM372.6 373.3l6.7 6.4-5.2-1.2-6.7-6.3zM377.3 375.1l6.7 6.4-5.2-1.2-6.7-6.4zM282 394.3l-6.3-4.3 5.1 1.1 6.3 4.3zM382 376.8l6.8 6.5-5.3-1.2-6.7-6.4zM286.8 396.1l-6.4-4.3 5.1 1.1 6.4 4.3zM291.5 397.9l-6.4-4.3 5.1 1 6.4 4.4zM296.2 399.7l-6.4-4.4 5.2 1.1 6.3 4.4zM293.5 102.1l-7.2-6.4 4.8-1.6 7.1 6.5zM203.7 111.8l7.6 8.6-4.9 1.4-7.5-8.5z"/><path fill="#e00" d="M448.3 322.6l11.1 31.9-5.4-1.4-11.1-31.7zM442.6 322.1l-14.2-49.5 5.4 .7 14.3 50zM453 324l11.2 32.2-5.5-1.4-11.1-32zM419 219.4l14.6 54.7-5.3-.7-14.6-54.2zM447.3 323.6l-14.3-50.1 5.4 .8 14.4 50.5zM423.4 219.9l14.8 55.2-5.3-.8-14.7-54.6zM367 372.8l-10.8-30 5.4 1.2 10.8 30.2zM337.2 294.9l-15.8-57.9 5.3 .2 15.8 58.5zM347.3 295.9l14.1 48.9-5.5-1.2-14-48.4zM422.6 220.9l-1.2-5.7 5.2 .2 1.3 5.7zM421.3 216l-16-59.1 5.1-.4 16.2 59.7zM341.8 295.9l-15.9-58.5 5.3 .3 15.9 59zM396.1 108.7l14.4 48.6-5.2 .4-14.2-48.2zM346.4 296.9l-16-59 5.3 .2 16 59.6zM274.9 365.3l10.5 28.5-5.5-1.5-10.4-28.2zM289.7 101.8l11.2 30.2-5.1 .9-11.2-29.9zM269.2 364.9l-13.8-47.2 5.4 .8 13.8 47.6zM323.9 179.1l16.2 60.2-5.2-.2-16.2-59.7zM244.8 260.6l15.8 58.7-5.4-.9-15.7-58zM293.9 100.9l11.3 30.5-5.1 .9-11.2-30.2zM318.8 180.3l-14.5-49.4 5.1-.8 14.5 49.8zM249.3 261.1l15.9 59.2-5.4-.8-15.8-58.6zM298.2 100l11.3 30.8-5 .9-11.3-30.5zM243.9 261.6l-1.2-5.5 5.3 .2 1.2 5.6zM209.1 154.4l-11.5-31.7 5.1-1.2 11.5 32zM247.1 257.3l-14.9-55.2 5.2-.3 15 55.7zM213.4 153.8l-11.5-32 5-1.2 11.6 32.3zM222.7 151.6l14.7 51-5.1 .3-14.7-50.5zM217.7 153.2l-11.5-32.3 5-1.1 11.6 32.6z"/><path fill="#0c0" d="M462.4 340.4l-6.9-7.1 5.1 .7 6.9 7.1zM467 341.7l-6.9-7.1 5.2 .6 6.9 7.2zM368.9 352.2l6.6 5.3-5.1-.6-6.6-5.3zM373.5 353.4l6.6 5.4-5-.6-6.6-5.4zM378 100l6.6 3.7-4.7 1.1-6.6-3.6zM378.2 354.7l6.6 5.4-5.1-.6-6.6-5.4zM382.4 99.5l6.6 3.8-4.7 1.1-6.6-3.7zM283.1 374.6l-6.3-3.6 5 .5 6.3 3.6zM287.8 375.9l-6.4-3.7 5 .5 6.3 3.7zM292.8 124.2l-6.9-5.4 4.8-1.1 6.9 5.4zM292.4 377.2l-6.3-3.7 5 .5 6.3 3.7zM297.2 123.8l-6.9-5.5 4.8-1.1 6.9 5.5zM203.4 135.5l7.2 7.1-4.9 1-7.2-7.1zM207.8 135l7.2 7.2-4.9 1-7.2-7.1z"/><path fill="#dd0" d="M460.5 329.5l-6.8-6.5 5.1 .4 6.8 6.4zM465.1 330.4l-6.8-6.4 5.1 .3 6.8 6.5zM371.7 342.7l6.5 4.9-5-.3-6.5-4.9zM376.3 343.7l6.5 4.9-5-.3-6.6-4.9zM285.9 365l-6.3-3.3 4.9 .2 6.3 3.4zM290.5 366l-6.3-3.3 4.9 .2 6.3 3.3z"/><path fill="#00d" d="M464.5 327l-6.8-6.3 5.1 .3 6.8 6.2zM371.1 339.4l6.5 4.7-4.9-.2-6.6-4.7zM375.7 340.3l6.5 4.7-5-.2-6.5-4.7zM285.4 361.7l-6.3-3.2 4.8 .1 6.3 3.2zM289.9 362.6l-6.3-3.3 4.9 .2 6.3 3.2z"/><path fill="#ff0" d="M465.6 192.4l5.3 .3 .9 19.4-5.3-.4zM465.6 193.2l-1.7-46.2 5.2 .1 1.8 46.4z"/><path fill="#0e0" d="M465.3 190.6l5.3 .2 1.2 21.3-5.3-.4zM465.3 191.4l-2.5-50.5 5.2-.1 2.6 50.8zM203.5 135.9l-3.3 15.9-5.2 .2 3.4-15.9z"/><path fill="#f00" d="M464.7 187l5.3 .2 1.8 24.9-5.3-.4zM464.7 187.8l-4.1-59.3 5.2-.4 4.1 59.9zM369.1 142.9l3.8 58-5.2-.1-3.8-57.5zM373.4 142.5l4 58.5-5.3-.1-3.8-58zM279.6 214.1l-3.6-56.6 5.1-.5 3.7 57.2zM284 213.5l5.3 0 2.5 34.6-5.3-.4zM284 214.3l-3.7-57.2 5.2-.5 3.8 57.7zM279.4 116.4l2.5-20.2 5-.8-2.5 20.4zM283.6 115.7l2.5-20.4 5.1-.9-2.5 20.6zM193.2 171.3l3.5 56.3-5.2 0-3.5-55.8zM198.7 265.9l-2.8-39.1 5.3 0 2.8 39.5zM197.5 170.8l3.7 56.8-5.3 0-3.5-56.3zM192.5 172.1l-1-40.6 5.1-.8 1 40.9zM203.9 112.2l-2.9 18.5-5 .7 2.8-18.4z"/><path fill="#ee0" d="M453.3 300.4l10 24.9-5.3-.7-10-24.8zM447.8 300.6l-12.4-38.8 5.3 .3 12.5 39.1zM427.9 220.3l12.7 42.6-5.3-.4-12.6-42.4zM422.6 220.9l-1-4.5 5.2 .2 1.1 4.5zM370.9 344l-9.7-23.4 5.3 .5 9.7 23.5zM354 283.8l12.3 38.1-5.3-.6-12.3-37.9zM348.6 284.2l-13.7-45.9 5.3 .2 13.7 46.1zM279.6 341.7l9.6 22.2-5.4-.6-9.5-22.1zM274.2 341.9l-12.2-37 5.3 .4 12.2 37.2zM253.6 260.4l13.6 45.7-5.3-.4-13.6-45.5z"/><path fill="#0d0" d="M454.7 308.7l10.5 27.4-5.4-.9-10.4-27.3zM449.2 308.7l-13.1-42.7 5.4 .5 13.1 43zM385.4 128.2l-10.1-23.9 5.1-.8 10.1 24.2zM427.9 220.3l13.4 47-5.3-.5-13.3-46.7zM421.4 216.8l-14.4-50 5.2-.2 14.5 50.4zM389.8 128l-10.1-24.2 5-.7 10.2 24.3zM368.1 353.4l-10.1-25.6 5.3 .8 10.2 25.8zM399.2 126.4l13 41-5.2 .2-12.9-40.7zM394.1 127.7l-10.1-24.3 5.1-.7 10.2 24.5zM372.7 354.7l-10.1-25.8 5.4 .7 10.1 26zM354.8 288.5l13 42-5.4-.9-12.9-41.7zM293.3 122.9l10.4 25.6-5.1 .5-10.4-25.4zM349.4 288.7l-14.5-50.4 5.3 .2 14.5 50.8zM325.6 188.5l14.5 50.8-5.2-.2-14.5-50.4zM297.7 122.5l10.4 25.8-5.2 .5-10.3-25.6zM276.5 349.4l9.9 24.3-5.4-.9-9.8-24.1zM320.3 189.5l-13-41.7 5.1-.5 13.1 42zM302 122.1l10.4 26-5.1 .5-10.4-25.8zM281.1 350.5l9.9 24.5-5.3-1-9.9-24.2zM275.6 350.5l-12.7-40.7 5.3 .6 12.8 40.9zM211.8 170l-10.6-26.9 5.1-.7 10.6 27.1zM253.6 260.8l14.5 50.4-5.4-.6-14.3-50zM248.3 261.4l-1.1-4.9 5.3 .2 1.1 4.9zM247.1 257.3l-13.4-46.7 5.2-.1 13.5 47zM216.1 169.8l-10.6-27.1 5.1-.7 10.7 27.3zM225.6 168.3l13.3 43-5.2 .1-13.2-42.7zM220.5 169.6l-10.6-27.3 5.1-.7 10.7 27.5z"/><path fill="#e00" d="M457.6 325.4l11.3 32.6-5.5-1.5-11.2-32.3zM452 325l-14.4-50.5 5.4 .7 14.4 51zM427.9 220.3l14.9 55.7-5.4-.7-14.7-55.2zM371.7 374.5l-10.8-30.2 5.4 1.2 10.9 30.5zM351.9 296.9l14.1 49.3-5.4-1.2-14.1-48.8zM376.4 376.3l-10.9-30.6 5.4 1.2 11 30.8zM356.5 297.9l14.2 49.8-5.4-1.2-14.2-49.4zM350.9 297.9l-16-59.6 5.3 .2 16.1 60.2zM279.6 366.8l10.5 28.8-5.4-1.5-10.6-28.5zM273.9 366.4l-13.9-47.7 5.4 .8 13.9 48.1zM284.2 368.3l10.7 29-5.5-1.4-10.6-28.8zM278.6 367.8l-14-48.1 5.4 .8 14 48.6zM253.8 261.6l16 59.7-5.4-.8-15.9-59.2zM248.4 262.1l-1.2-5.6 5.3 .2 1.2 5.7z"/><path fill="#00e" d="M387.2 138.8l-9.6-21.2 5.2-.4 9.5 21.4zM422.6 220.9l-1-4.4 5.2 .2 1.1 4.4zM295.7 136.5l9.8 22.6-5.2 .3-9.8-22.6zM213.4 180l-9.9-23.9 5.1-.3 10 23.9zM217.9 180l-10-23.9 5.1-.3 10.1 24z"/><path fill="#ee0" d="M391.2 136.3l-9.7-22 5.1-.4 9.7 22.1zM421.5 217.2l-13.7-45.5 5.3-.1 13.6 45.8zM400.8 135.2l12.2 37.2-5.2 .1-12.2-37zM395.6 136.3l-9.7-22.1 5.1-.4 9.7 22.2zM299.5 133.1l10 23.5-5.2 .3-9.9-23.3zM326.4 193.2l13.7 46.1-5.2-.2-13.8-45.9zM321.1 194l-12.4-37.9 5.2-.3 12.4 38.2zM303.9 133l10 23.6-5.2 .3-9.9-23.4zM247.1 257.3l-12.6-42.5 5.2 0 12.7 42.7zM227.1 176.6l12.6 39-5.3 0-12.5-38.8zM221.9 177.6l-10.2-24.8 5.2-.4 10.2 24.9z"/><path fill="#00e" d="M391.6 138.9l-9.5-21.3 5.1-.4 9.6 21.4zM421.5 217.3l-13.4-44.1 5.2 0 13.5 44.3zM401.2 137.9l12.1 36.1-5.2 0-12.1-35.9zM396 139l-9.5-21.4 5.1-.4 9.6 21.5zM300.1 136.4l9.8 22.8-5.2 .2-9.7-22.6zM326.6 194.6l13.5 44.7-5.2-.2-13.5-44.5zM321.4 195.5l-12.2-36.8 5.2-.2 12.2 36.9zM304.5 136.4l9.8 22.9-5.1 .2-9.8-22.7zM247.1 257.3l-12.4-41.2 5.2 .1 12.5 41.3zM227.5 179.1l12.4 37.8-5.2 .1-12.4-37.7zM222.3 180.1l-10-24 5.2-.3 10 24.1z"/><path fill="#00d" d="M380.5 114.6l6.5 3.2-4.7 .8-6.5-3.2zM385 114.6l6.4 3.2-4.7 .8-6.4-3.3zM295.1 137.8l-6.7-4.7 4.8-.8 6.8 4.8zM206 150.2l6.9 6.2-4.9 .7-6.9-6.2z"/><path fill="#dd0" d="M379.9 111.1l6.5 3.4-4.7 .9-6.5-3.4zM384.3 111l6.5 3.4-4.7 .8-6.5-3.3zM294.6 134.6l-6.8-4.9 4.8-.8 6.8 4.9zM299 134.4l-6.8-4.9 4.8-.8 6.8 4.9zM205.4 146.7l7 6.5-4.9 .7-7-6.4zM209.8 146.6l7 6.4-4.9 .8-7-6.5z"/><path fill="#0e0" d="M378.2 100.4l-2.8 19.2-5.1 .2 2.8-19.1zM282.7 135.8l3-17.4 5.2-.3-3.1 17.5z"/><path fill="#f00" d="M368.4 143.7l-1.5-43.6 5.1-.8 1.5 44zM284.3 114.9l1.2 42.5-5.1 .5-1.2-42.2z"/><path fill="#00f" d="M378.7 229.9l-.9-22.5 5.3 .3 .9 22.6zM381.6 164.1l1.5 44.4-5.3-.3-1.4-44.2zM376.3 164.8l.5-33.4 5.2 0-.4 33.5zM385.2 115l-3.2 17.3-5.2-.2 3.2-17.2zM289.9 221.9l5.3 .3 1.1 26.3-5.3-.4zM289.9 222.7l-1.3-43.6 5.2 .1 1.4 43.8zM294.4 147.6l-.6 32.4-5.2-.1 .6-32.3zM203.2 266.3l-1.2-29.8 5.3 .2 1.2 30zM206 194.4l1.3 43.1-5.3-.2-1.2-43zM200.8 195.1l.8-31.1 5.2 0-.8 31.2z"/><path fill="#ff0" d="M378.7 229.9l-1-23.1 5.3 .2 1 23.3zM381.3 162l1.6 45.8-5.2-.3-1.7-45.5zM376 162.8l.3-34.4 5.2-.1-.2 34.6zM384.6 111.4l-3.1 17.8-5.2-.1 3.1-17.7zM289.8 221.2l5.3 .2 1.2 27.1-5.3-.4zM289.7 221.9l-1.5-44.9 5.3 .1 1.5 45.1zM205.5 147.1l-3.6 14.7-5.2-.1 3.6-14.6zM203.2 266.3l-1.3-30.7 5.2 .2 1.4 30.9zM205.7 192.2l1.4 44.4-5.3-.2-1.4-44.3z"/><path fill="#0e0" d="M378.7 229.9l-1.4-25.3 5.3 .2 1.4 25.5zM380.1 155.4l2.5 50.2-5.3-.2-2.4-49.9zM374.9 156.3l-.3-37.5 5.2-.4 .3 37.8zM382.6 100l-2.8 19.3-5.1 .2 2.8-19.2zM289.4 218.6l5.2 .2 1.7 29.7-5.3-.4zM203.2 266.3l-1.8-33.6 5.2 .2 1.9 33.8zM207.9 135.4l-3.4 16-5.1 .2 3.4-15.9z"/><path fill="#f00" d="M378.7 229.9l-2.1-29.6 5.2 .1 2.2 29.9zM377.8 142.1l4 59.1-5.2-.1-4-58.6zM372.7 143.3l-1.5-44 5.1-.8 1.6 44.4z"/><path fill="#00d" d="M299.6 137.8l-6.8-4.8 4.9-.7 6.7 4.8zM210.4 150.1l6.9 6.3-4.9 .7-6.9-6.3z"/><path fill="#00f" d="M289.2 148.3l3.5-15.7 5.2 .1-3.5 15.8zM210.5 150.6l-3.7 14.3-5.2-.2 3.7-14.3z"/><path fill="#ff0" d="M293.9 144.5l-.5 33.4-5.2-.1 .5-33.2zM288.7 145.3l3.3-16.2 5.2 0-3.3 16.3zM209.9 147l-3.6 14.7-5.2-.1 3.6-14.7zM200.4 192.9l.7-32 5.2-.1-.7 32.2z"/><path fill="#0e0" d="M289.3 219.4l-2.3-49.1 5.3-.2 2.3 49.5zM292.1 134.4l.2 36.6-5.2 .1-.1-36.3zM287 135.5l3.1-17.6 5.1-.3-3 17.7zM204.4 184.9l2.2 48.8-5.3-.2-2.1-48.4zM199.2 185.9l.1-35 5.2-.4-.1 35.3z"/><path fill="#f00" d="M288.5 213.6l5.2 0 2.6 34.9-5.3-.4zM288.5 214.4l-3.8-57.7 5.1-.5 3.9 58.2zM288.6 114.1l1.3 42.9-5.2 .4-1.2-42.5zM203.2 266.3l-2.8-39.4 5.2 0 2.9 39.8zM201.9 170.4l3.7 57.3-5.2 0-3.7-56.8zM196.8 171.7l-1-41 5.1-.8 1.1 41.3z"/></g><path d="M104 151.3l-3.9 12.4-1.2 27.6 .5 38.4 2.2 83M103.5 188.4l.4 41.7 2.3 83.2M107.8 190.6l.6 39.8 2.3 83.6M112.3 197.9l.2 10.3M112.6 211.2l2.6 103.4M116.9 203l.1 7M117.1 216l2.7 99.3M121.4 207.2l.1 5M121.6 219.2l2.7 96.7M125.9 210.4l.1 4.1M126.1 220.5l2.8 96.1M130.4 212.7l.1 4M130.6 223.8l2.8 93.4M134.9 216l.1 3M135.1 225.1l2.8 92.8M139.4 217.2l.1 3.1M139.6 227.4l2.9 91.1M143.9 219.9l.1 2M144.1 228.9l2.9 90.3M148.4 221.1l.1 3M148.6 229.2l2.9 90.7M416.3 171.4l.1 6M328.4 185.9l.1 2M328.6 194l.1 2M240.8 208.5l.1 5.2M152.9 223.4l.1 2M153.1 231.5l3 89M420.8 172.7l.8 26.1M388.7 250l-.3-.9M387.2 245.3l-.9-2.9M385.7 240.5l-1.2-3.9M332.9 187.1l.1 2.1M333.1 195.3l.8 21.2M299.2 262.6l-2.1-6.8M245.3 210.1l.8 25.1M212.2 283l-3-9.6M157.4 223.7l.1 3M157.6 231.8l3 89.4M425.3 174l1.5 43.3M391.8 245.8l-.9-2.9M390.2 241l-6.9-22.1M337.4 188.4l.1 2.1M337.6 196.6l1.5 39.4M303.2 261.5l-7.5-23.8M249.8 211.4l1.5 42.3M216.7 283.6l-.9-2.9M215.2 278.7l-7.7-24.2M161.9 226l.1 2M162.1 233.1l3 88.7M429.8 175.3l2.1 58.7M396.3 246.3l-.3-.9M394.8 241.5l-12.2-38.7M341.9 190.1l.1 2M342.1 197.1l2.1 55.6M308.4 264l-13.6-43.2M254.3 211.7l2.1 58.6M221.2 284.1l-.3-.9M219.7 279.3l-12.5-39.8M166.4 227.3l.1 3M166.6 234.4l3.1 88.1M434.3 176.6l2.6 73.3M400.8 246.9l-.3-1M399.9 244l-17.9-56.8M346.4 191.4l.1 2M346.6 198.4l2.6 71.1M312.3 262.6l-18.2-57.8M258.8 214l2.6 72.9M225.3 283.1l-.9-2.9M223.8 278.3l-17.3-54.9M170.9 227.5l.1 4.1M171.1 234.7l3.1 88.5M438.8 177.9l2.3 59.2 .7 29.1M404.4 244.5l-22.7-72.4M350.9 191.7l.1 3M351.1 199.7l3 85.6M317.7 266l-.3-.9M316.8 263.1l-22.5-71.5M263.3 214.3l3.1 88.4M229.8 283.7l-.9-2.9M228.3 278.9l-22-69.8M175.4 229l.1 4M175.6 235l3.2 88.8M443.3 178.5l2.3 59.1 1 43.4M408.7 244.4l-.3-1M407.8 241.5l-21.6-69.1-4.7-13.4M355.4 194l.1 2M355.6 200l2.1 52.2 1.1 46.1M320.7 261.7l-21.3-68-5.8-17.1M267.8 215.6l2 51.2 1.3 42.6-.1 6.2M233.7 282.3l-.3-1M232.8 279.4l-20.1-64.2-7.1-20.9M179.9 230.3l.1 3M180.1 236.3l3.2 88.2M447.8 179.8l2.3 58.4 1.1 41.4-.4 13.4M413.2 244.9l-22.6-72.3-8.9-25.9M359.9 194.2l.1 3.1M360.1 201.4l2.1 51.4 1.2 42.1-.4 16.5M325.2 262.2l-21.3-68.2-10.1-29.6M272.2 216l3.4 94.1-.3 19M236.7 278l-19.5-62.6-11-32.4M184.4 230.6l.1 4M184.6 237.6l3.2 87.6M452.3 180.1l2.3 58.6 1.1 41.6-.7 23.8M417.7 245.5l-22.6-72.7-12-34.6-1.3-2.8M364.4 195.6l.1 2M364.6 201.7l2.1 51.6 1.3 42.3-.6 27.1M330.7 266l-.9-2.8M329.3 261.3l-20.9-67.1-12.2-35.5-2.1-4.7M276.7 217.3l3.5 93.4-.5 31.3M241.2 278.5l-19.5-62.8-12.3-36.4-3.2-7.3M188.9 231.9l.1 4M189.1 239l3.3 86.8M456.8 181.4l2.3 57.8 1.2 41.8-1.2 31.1M421.9 245l-22.4-72-12-34.7-4.7-10.2M368.9 196.1l.1 3M369.1 203.1l2.1 50.7 1.3 42.5-.7 31.2-.7 3M335.3 266.6l-.3-1M333.8 261.8l-21-67.3-12.1-35.7-6-13.2M281.2 217.6l3.5 93.8-.5 32.4-1 5M245.7 279l-19.6-63.1-12.3-36.5-6.8-15.7M193.4 233.2l.1 4.1M193.6 239.3l3.3 87.2M461.2 181.7l2.4 58.1 1.2 42-.8 30.1-2 7.3M426.8 246.5l-22.8-73.2-12-35-7.8-16.8M373.4 197.4l.1 3M373.6 204.4l2.1 49.9 1.3 42.7-.6 31.3-2.3 9.9M339.8 267.1l-.3-.9M338.3 262.3l-21-67.6-12.2-35.8-8.9-20M285.7 218.9l3.6 93.2-.5 32.5-2.2 11.2M251.3 282.9l-20.7-66.7-12.3-36.7-9.6-22.2M197.8 233.5l.2 4.1M198.1 239.6l3.4 87.6M465.8 183.3l2.4 57 1.2 42.2-.8 30.3-2.9 10.3M431.3 247.1l-22.8-73.6-12.1-35.1-9.6-20.6-1-.4M377.9 197.7l.1 4M378.1 204.8l2.2 50 1.3 42.9-.6 31.4-3 13M377.5 344.1l-.9-.6M344.3 267.7l-.3-1M342.8 262.8l-21-67.9-12.3-35.9-9.7-22-2-1.1M290.2 219.3l3.6 93.5-.4 32.6-3.2 16.4-1.1-.4M255.2 281.5l-20.1-65.1-12.4-36.8-10-23.3-2.6-2M202.3 234.8l.2 4.1M202.6 240.9l3.4 87M469 149.5l3.7 91.3 1.2 42.4-.8 30.4-3.7 13.5-7-5.4-10-23.4-12.4-37-27.1-87.6-12.1-35.2-9.5-20.7-6.5-2.5-3.2 16.5-.4 32.7 4.9 133.9-.6 31.6-3.4 15-6.7-4-9.8-22-12.3-36.2-27.1-87.6-12.2-36.2-9.8-22-6.7-4-3.5 15-.6 31.6 4.9 133.9-.4 32.7-3.2 16.5-6.4-2.5-9.6-20.7-12.1-35.2-27.1-87.6-12.4-37-10-23.4-7-5.4-3.7 13.5-.8 30.4 1.3 42.4 3.6 91.3M104 151.3l-3.9 12.4-1.2 27.6 .5 38.4 2.2 83M103.5 187.1l.4 42.9 2.3 83.5M107.8 190.3l.6 39.9 2.4 84.1M112.2 197.3l.6 33.2 2.5 84.5M116.8 202.5l.2 11.1M117 215.6l2.9 100.2M121.3 206.6l.2 9.2M121.5 218.8l2.9 97.7M125.8 209.8l.2 9.2M126 221.1l3 96.2M130.3 212.5l.2 8M130.5 222.5l3 95.5M134.8 214.7l.2 8.1M135 224.8l3.1 94M139.3 217.9l.2 7.1M139.5 227l3.1 92.5M143.8 219.1l.2 7.2M144 228.3l3.2 91.9M148.3 221.4l.2 6.1M148.5 229.6l3.2 91.4M415.9 162.5l.1 3.1M416.2 171.7l.2 6.2M328.3 185.5l.2 6.1M328.5 193.6l.1 3M240.4 200l.1 1M240.7 208.1l.1 5.1M152.8 222.9l3.5 98.8M420.4 164.4l.1 3M420.7 172.4l.9 27.1M387.7 247.1l-3.3-10.5M332.8 186.8l.2 6M333 194.9l.8 21.1M301.3 269.3l-.3-.9M299.7 264.5l-2.7-8.8M244.9 200.6l.1 2M245.2 209.6l.9 26M212.7 285l-3.6-11.6M157.3 224.1l3.5 98.3M424.9 165.6l.1 3M425.2 173.6l1.7 44.4M393.4 251.5l-.6-1.9M392.2 247.7l-8.9-28.9M337.3 188l.2 6.1M337.5 196.2l1.6 40.4M305.2 268.2l-.8-2.8M303.8 263.4l-8.1-25.7M249.4 202.8l.1 2M249.7 210.8l1.7 43.4M217.3 285.6l-9.7-31M161.8 225.4l3.6 97.8M429.4 167.8l.1 2M429.7 174.9l2.4 60.7M398.3 253.1l-.3-1M396.8 248.3l-14.2-45.6M341.8 189.6l.2 6M342 197.6l2.3 55.7M309.8 268.8l-.3-.9M308.3 264l-13.8-44.2M253.9 204l.1 2M254.2 212.1l2.3 59.7M221.8 286.2l-.9-2.9M220.3 281.3l-13-41.7M166.3 226.6l3.6 97.3M433.9 168l.1 3.1M434.2 176.2l2.9 75.4M401.3 248.8l-.9-2.9M399.8 244l-17.7-57M346.3 190.9l.2 6M346.5 198.9l2.8 70.1M313.4 266.5l-.6-1.9M312.2 262.7l-18-58M258.4 205.3l.1 2M258.7 213.4l2.9 75M226.7 288.1l-.3-1M225.2 283.3l-.9-2.9M223.7 278.5l-17.1-55.1M170.8 227.9l3.7 96.7M438.4 169.7l.1 3.1M438.6 176.8l2.6 61 .9 30.1M406.5 251.5l-.6-1.9M405.3 247.7l-23.5-75.8M350.8 192.1l3.5 92.9M318.2 268.1l-.9-2.9M316.7 263.2l-22.9-73.7M262.9 206.5l.1 2M263.1 213.6l3.5 90.6M229.7 283.8l-.9-2.8M228.2 279l-22.1-70.9M175.3 229.3l3.7 96.1M442.9 171l.1 3M443.1 178l2.6 60.4 1.3 42.4M411.3 253.1l-.3-1M409.2 246.4l-23.3-75.3-4.2-12.4M355.3 193.4l2.5 59.5 1.3 47.1M322.8 268.7l-1-3M321.2 263.8l-22-71.2-5.4-16.2M267.4 207l.1 3M267.6 215.1l2.3 52.3 1.4 49.8M234.3 284.4l-21.8-70.3-7-20.9M179.7 229.5l3.9 96.6M447.4 172.2l.1 2M447.6 179.3l2.6 59.6 1.3 42.6-.3 13.3M413.7 246.9l-23.3-75.6-8.5-25M359.8 193.6l2.5 59.8 1.4 43.3-.2 14.4M326.8 267.6l-23.1-74.8-10-29.7M271.9 209.3l.1 2M272.1 216.3l3.8 95.5-.2 18.5M238.8 285l-21.8-70.7-10.8-32.5M184.2 230.8l3.9 96M451.9 173.5l.1 2M452.1 179.6l2.6 59.9 1.4 42.8-.6 22.6M418.3 247.5l-23.5-76.1-12.5-36.5M364.3 195.2l2.5 58.8 1.5 43.5-.4 25.7M331.3 268.2l-1.5-4.8M329.2 261.4l-21.1-68.5-12.3-36.5-1.2-2.8M276.4 209.5l.1 3.1M276.6 216.6l3.9 96-.3 30M243.4 286l-.6-2M242.2 282.1l-20.7-67.6-12.5-37.5-2-4.7M188.7 231.1l4 96.5M456.4 173.7l.1 3.1M456.6 180.9l2.7 59.2 1.3 43-.7 29.9M424 252l-.6-2M422.8 248.1l-23.5-76.5-12.2-35.8-3.8-8.3M368.8 196.4l2.6 58.1 1.4 43.7-.5 31.1M335.2 266.8l-.3-.9M333.7 262l-21.1-68.9-12.3-36.7-3.3-7.5M296.1 147l-.8-1.8M280.9 210.8l.1 3M281.1 217.9l3.9 95.4-.3 32.3M248.2 287.5l-.8-2.9M246.8 282.7l-20.9-68-12.5-37.6-6-14.3M193.2 232.4l4 95.9M460.9 175.4l.1 3M461.1 182.4l2.7 58.2 1.4 43.3-.7 29M426.8 247l-23.1-75.2-12.2-36-2.1-4.6M388.6 129.3l-2.1-4.6M373.2 196.7l2.7 58.4 1.5 43.9-.5 32.3M339.7 267.4l-.3-1M338.2 262.5l-21.1-69.2-12.4-36.9-3.7-8.5M300.1 146l-1.6-3.7M297.7 140.4l-.9-1.9M285.4 212l.1 3.1M285.6 218.2l4 95.8-.3 33.5M252.8 288.1l-.9-2.9M251.3 283.3l-20.9-68.4-12.6-37.8-6.8-16.3M210.1 158.9l-.8-1.9M197.7 233.7l4.1 95.3M465.3 175.6l.2 4.1M465.6 182.7l2.7 58.5 1.4 43.4-.6 29.3M465.4 329.7l-3.5-2.8M431.9 249.5l-23.7-77.5-12.2-36.2M395.1 133.9l-1.7-3.7M391.7 126.5l-1.2-2.8M388.8 120l-.8-1.8M387.1 116.3l-.8-1.8-2.2-.9M377.7 198l2.7 57.6 1.5 44.2-.4 30.4M378.1 347.6l-3.8-2.4M343.8 266.4l-22.3-72.9-12.4-37.1-4.1-9.5M304.1 145l-1.6-3.7M301.7 139.4l-.5-1M299.2 133.7l-1.9-1.2M289.8 212.5l.2 4M290.1 218.5l4 96.3-.2 33.6M291.3 362.3l-.5 2.9-2.2-.8M257.3 288.7l-.3-1M255.2 281.9l-20.4-66.8-12.5-38-5.9-13.9M215.6 161.4l-1.9-4.6M206 148.1l-.9-.7-.5 2M202.2 235l4.1 94.8M468.7 147.5l4.1 94.3 1.5 43.6-.6 31.4-3.7 13.9-7-5.7-10.1-24.1-12.6-38.2-27.6-90.6-12.3-36.4-9.7-21.4-6.5-2.5-3.1 16.9-.2 33.8 5.6 138-.4 32.6-3.4 15.4-6.7-4.1-10-22.8-12.4-37.3-27.6-90.6-12.5-37.3-9.9-22.8-6.7-4.1-3.4 15.4-.5 32.6 5.7 138-.2 33.8-3.2 16.9-6.4-2.5-9.7-21.4-12.3-36.4-27.6-90.6-12.6-38.2-10.2-24.1-7-5.7-3.6 13.9-.7 31.4 1.5 43.6 4.2 94.3M104 151.3l-3.9 12.4-1.2 27.6 .5 38.4 2.2 83M104 169l-.3 6.1M103.5 181.1l-.4 9.1 .7 39.3 2.6 84.9M108 175.3l-.1 1.1M107.5 188.7l.8 40.9 2.7 86.1M112 184.2l-.2 5.1 .9 40.3 2.9 87.2M116.1 188.9l1 40.9 3.1 88.1M120.6 193.6l1 36.3 3.2 89.1M125 186.3l0 5.1M125.1 197.5l.9 32.5 3.4 90M129.3 189.1l.2 6M129.6 200.1l4.4 120.9M133.8 192.9l.2 6.1M134.1 203l4.5 119M138.3 195.8l.2 6.1M138.6 206l4.6 117M230.4 176.4l0 1M142.8 198.5l.2 6M143.1 208.5l4.7 115.4M410.3 143.2l.2 5M410.6 151.3l.3 6M322.4 156.1l.1 2M322.7 165.3l.3 6.1M323.1 174.5l.1 2M234.8 178.2l.2 4M235.2 187.2l.2 7.1M147 191.3l0 1M147.3 201.4l.2 5.1M147.6 210.5l4.8 114.4M414.8 145.1l.2 5.1M415.1 153.3l1 25.4M388.3 263.7l-.4-1M387.3 260.8l-1.2-3.9M326.9 159l.1 2M327.2 167l.3 7.1M327.6 176.1l.8 20.1M300.3 281.5l-1.8-5.8M239.3 180.1l.2 4.1M239.7 189.2l.9 24.4M214 304l-.7-1.9M212.7 300.2l-2-6.8M151.8 203.4l.2 6.1M152.1 212.6l4.9 113.2M419.3 147l.2 5M419.6 155l1.8 42.3M392.2 262.5l-8-26M331.4 160.9l.1 2M331.7 169l.3 6.1M332 177.1l1.8 39.5M305.2 283.3l-.3-1M304.2 280.3l-7.5-24.9M243.8 182.8l.2 4M244.2 191.8l1.9 44.2M217.3 301l-8.6-28.2M155.9 195.9l.1 1.1M156.3 205l.2 6M156.6 214.1l5 112.7M423.8 149l.2 5M424.1 157.1l3 62.8M396.7 263.3l-.3-1M395.8 260.4l-12.6-41.8M335.9 162.7l.1 2M336.2 170.7l.3 6M336.5 178.7l2.7 57.6M309.8 284l-1-2.9M308.2 279.2l-12.5-41.5M248.3 184.8l.2 4M248.6 192.9l2.8 60.7M222.8 304.7l-.3-1M221.3 299.9l-13.7-45M160.4 197.9l.1 2M160.8 207l.2 6.1M161.1 216.1l5.1 111.6M427.9 142.8l.1 1M428.3 151l.2 4.1M428.6 158.1l3.8 77.8M401.3 264.1l-18.6-61.6M340.3 163.7l.2 3M340.7 172.8l.3 6M341.1 180.8l3.5 73.4M314.3 284.8l-.9-2.9M312.8 280l-18.2-60.4M252.8 186.8l.2 4.1M253.2 194.9l3.7 77.6M226.7 303.6l-.9-2.9M225.2 298.8l-18-59.8M164.9 199.6l.1 2M165.2 208.6l.3 6M165.6 217.5l5.1 111.1M432.4 143.7l.1 2M432.7 151.8l.3 5M433.1 159.8l4.4 91.8M405.2 262.9l-.3-1M404.3 260l-22.1-73.7M344.8 165.7l.2 3M345.2 173.8l4.6 97M318.2 283.7l-.8-2.9M316.8 278.9l-22.5-75M257.3 188.4l.2 4M257.6 196.5l4.4 91.8M231.3 304.4l-.3-.9M230.4 301.5l-23.6-78.6M169.4 201.5l.1 2M169.7 210.6l.3 6M170.1 218.6l5.2 110.9M436.9 145.7l.1 2M437.3 153.8l.2 5.1M437.6 161.9l5.1 105.7M409.7 263.6l-27.5-91.9M349.3 167.4l.2 3.1M349.7 175.5l5.2 109.2M322.8 284.5l-28.7-95.9M261.4 181.4l.1 1M261.8 189.5l.2 5M262.1 197.5l5.1 106.2M235.3 303.3l-.9-2.9M233.8 298.5l-27.2-91M173.9 203.5l.1 2M174.2 211.6l5.3 109.7M179.6 323.4l.3 7.1M441.4 147.6l.1 2M441.7 154.6l.3 5M442.1 162.6l5.4 111.2M414.3 264.4l-28.8-96.6M353.9 169.5l.1 3M354.2 176.5l5.3 109M359.6 288.5l.4 9.2M326.8 283.3l-1.5-4.9M324.7 276.5l-25.9-86.9M298.2 187.7l-.3-1M297.3 184.8l-.3-1M294.8 177.1l-.3-1M265.9 183.4l.1 1M266.3 191.5l.2 4.1M266.6 198.6l5.4 109.9M240.7 307l-.3-.9M239.2 302.2l-27.3-91.7M211.3 208.5l-.9-2.9M209.8 203.7l-.4-.9M207.3 196l-.3-.9M178.4 205.1l.1 3M178.7 213.1l5.3 107.3M184.1 322.4l.4 9M445.9 148.6l.1 2M446.2 156.6l.3 5M446.6 163.7l5.4 109M419.8 268.1l-.3-1M418.2 263.2l-27.4-92.4M390.2 168.9l-.3-1M358.3 170.5l.2 3M358.6 177.6l5.4 107.1M364.1 288.7l.4 8M332.2 287l-.9-2.9M330.7 282.2l-28.3-95.4M270.4 184.1l.1 2M270.8 192.1l.2 5M271.1 200.1l5.4 108.3M243.8 303l-29.3-98.3M182.9 207.1l.1 2M183.2 215.2l5.3 105M188.6 322.2l.5 10.1M450.4 150.6l.1 2M450.7 157.7l.3 5M451.1 164.8l5.4 107.7M422.8 264l-27.9-94.2M362.8 172.2l.2 3M363.2 179.2l5.3 105.3M368.6 287.5l.4 8.1M334.7 281l-27.3-92.2M305.3 182.1l-.3-1M274.9 186.1l.1 1M275.3 194.2l.2 5M275.6 201.2l5.4 106.2M249.2 306.7l-.3-.9M247.2 300l-27.3-92.2M219.3 205.9l-.3-1M217.7 201.1l-.3-1M187.4 208.2l.1 3M187.7 216.3l5.3 102.7M193 321l.6 12.2M454.9 151.4l.1 3M455.2 159.4l.3 5M455.6 166.4l5.4 105.4M461.4 280.7l0 1M428.3 267.6l-1-2.9M426.8 262.8l-26.9-91M367.3 173.2l.2 4.1M367.6 180.3l5.4 103M373.1 287.3l.4 7.2M340.7 286.6l-.8-2.9M339.3 281.8l-26.9-91M279.4 187.1l.1 2M279.7 195.2l.3 5.1M280.1 203.3l5.4 103M253.2 305.6l-.8-2.9M251.8 300.7l-26-88M225.2 210.7l-.3-.9M222.8 203l-.3-.9M191.8 209.7l.2 3M192.2 217.7l5.3 101.4M197.6 321.1l.6 13M459.4 153.4l.1 2M459.7 160.5l5.8 110.1M465.9 279.6l.1 2.1M465 329.7l-.9 4M431.9 265.5l-27.5-93.6M403.2 168l-.3-1M383.3 111.5l-2-4.6M371.4 167.2l.1 1M371.8 174.3l.2 4M372.2 182.4l5.3 101.1M377.6 286.5l.4 7M377.2 348.1l-.6 3.1M375.4 357.5l-.9-.6M345.3 287.4l-.3-.9M344.4 284.5l-1.1-3.8M342.7 278.7l-25.8-87.9M295.4 129.2l-1.6-3.9M283.9 188.8l.1 2M284.3 196.8l.2 5M284.6 203.8l5.4 102.3M290.3 312.2l0 1M289.5 366l-.5 3M288 375.1l-.9-.4M257.8 306.4l-.3-1M255.8 299.5l-26.4-89.7M207.5 146.7l-1.2-2.8M196.3 210.8l.2 4M196.7 218.8l5.3 100.1M202.1 320.9l.7 14.1M463.9 154.5l.1 2M464.2 160.5l.3 6.1M464.6 168.7l5.4 101.7M470.4 278.5l.1 3M469.7 330.9l-1.6 7.1M467.4 341l-6.4-5.7M436.8 267.2l-1.5-4.8M434.8 260.5l-25.5-86.7M408.8 171.9l-.3-1M388.4 113.1l-4-9.4-1.9-.9M378.8 101.2l-.9-.4-1.3 8.1M376.3 176l.2 4M376.6 183l5.4 99.3M382.2 286.3l.3 7.1M381.9 348.9l-1.5 7.9M380 358.8l-6.8-4.7-.4-.9M372.1 351.4l-.4-1M349.3 286.3l-1.5-4.9M347.3 279.4l-25.4-86.5M319.8 186l-.3-.9M300.8 131.4l-3.5-8.4-2.5-1.7M291.4 119l-.9-.6-1.8 9.9M288.4 190.8l.1 2M288.7 197.9l.3 5M289.1 204.9l5.4 100.3M294.8 311.2l.1 4M294.3 366.2l-1.6 10.2-6.6-2.9-2.8-6.6M261.8 305.3l-.9-2.9M259.8 298.5l-25.4-86.6M233.8 209.9l-.3-.9M232.3 205.1l-.3-1M213.3 150.1l-3-7.6-3.2-2.8M204 136.9l-.8-.7-2.1 9.1M200.8 212.8l.2 3.1M201.2 219.9l5.3 98.7M206.6 320.7l.8 15.2M467.6 141.2l5.7 103.5 2.2 47.9-.1 34.5-3.4 15.2-7.1-6.4-10.6-26.7-13.3-42.2-29.2-99.9-12.9-40.2-10.1-23.7-6.6-2.9-2.8 18.5 .3 37.1 8 151.5 .1 35.8-3.1 16.8-6.9-4.6-10.3-25.2-13.1-41.2-29.2-100-13.1-41.2-10.4-25.2-6.8-4.6-3.2 16.8 .2 35.8 7.9 151.5 .4 37.1-2.9 18.5-6.5-2.9-10.1-23.7-12.9-40.2-29.3-99.9-13.2-42.2-10.6-26.7-7.2-6.4-3.4 15.2-.1 34.5 2.2 47.9 5.7 103.5M104 151.3l-3.9 12.4-1.2 27.6 .5 38.4 2.2 83M185.5 348.2l-1.1-.4-3-6.4M107.2 144l-3.7 13.2-1 29.7 1.1 41.3 3.3 89.1M190.6 352l-1.1-.4-4.4-9.5M111.1 140.9l-3.7 13.6-.7 30.6 1.2 42.6 3.8 91.9M195.5 355.1l-1.1-.4-5-11.1M115.1 138.5l-3.6 13.9-.7 31.4 1.5 43.6 3.7 82M116.2 314.5l.2 7.1M200.4 357.9l-1.1-.4-5.9-13.3M120 137.2l-.8-.7-3.6 14.2-.5 32 1.6 44.5 3.8 80M120.8 314.2l.4 9.1M298.9 99.6l-.9-.4-.2 1.1M211.5 117.4l-.9-.5-.4 2M204.2 360l-6.2-13.9M123.3 134.7l-3.5 14.4-.5 32.6 1.8 45.4 3.9 77.7M125.4 313.9l.1 2M125.6 317.9l.3 7.1M302.1 97.6l-1.6 9.9M214.8 115.3l-2 10.1M212.8 364l-1-.4M210 362.8l-1-.4-6.6-15.1M127.5 133.1l-3.6 14.6-.3 33.1 1.9 46.2 4 76.4M130 313.5l0 1M130.2 318.5l.4 8M395.1 332.1l-4-3.4M306.3 96.1l-2.9 18.1M307.7 349.9l-4.2-2.8M219 113.7l-3.2 16.6 0 3M220.4 367.6l-1-.4M215.7 365.6l-1.8-.9-7.2-16.6M132.4 132.2l-.8-.7-3.5 14.9-.2 33.7 2 46.8 4.1 74.6M134.8 318.8l.4 9.2M399.9 334.4l-7.1-6.3-2.7-6.6M311.4 95.1l-.9-.4-2.9 18.3 .1 13.3M312.6 352.2l-6.9-4.6-3.4-8.3M224 112.9l-.9-.6-3.1 16.8 0 16.2M223.3 369l-1.8-.8M219.6 367.4l-.9-.5-7.7-17.8M135.8 130.1l-3.4 15.1-.2 34.1 2.1 47.5 4.2 74.3M139.4 319.3l.5 10.1M404.7 336.6l-7.1-6.4-8-20.1M314.7 93.3l-2.8 18.6 .2 29.2M317.4 354.4l-3.5-2.4M312.2 350.9l-1.7-1.2-8.8-21.6M227.3 111l-3.1 16.9 .1 29.8M230 372l-1.9-.8M224.4 369.5l-.9-.4-9.4-21.9M140 128.7l-3.4 15.3-.1 34.6 2.2 48.2 4.2 72.8M144.2 323.8l.4 7M404.4 134l.3 4M409.5 338.8l-7.2-6.6-10.7-27.2-2.9-9.5M318.9 92l-2.8 18.9 .8 44.7M322.1 356.5l-4.2-3M316.2 352.4l-.9-.6-10.4-25.7-4.3-13.4M232.4 110.3l-.9-.6-3.1 17.1 .3 36.4 .6 12.2M234.8 374.2l-2.8-1.3M230.1 372l-1.9-.8-10.1-24.2-5-15.6M145 128.2l-.8-.8-3.4 15.5 0 35.1 2.4 48.8 4.3 72.4M148.7 322.2l.5 10M408.8 133.5l1.3 23.3M414.3 340.8l-7.2-6.6-10.8-27.6-9.3-30M323.1 90.8l-2.8 19.1 .6 38.2 1.4 25.9M326.9 358.6l-6.8-4.8-10.5-26.1-10-31.9M235.7 108.4l-3 17.4 .3 36.9 1.6 31.1M234.9 374.1l-1.9-.9-10.2-24.5-11-34.8M148.4 126.2l-3.3 15.7 0 35.4 2.5 49.5 4.4 72.3M153.3 322.4l.6 11.1M413.1 133.1l2.5 44.2M419 342.9l-7.1-6.7-10.9-28-15-49M327.3 89.6l-2.7 19.3 .6 38.6 2.6 46.5M331.7 360.7l-4.3-3.1M325.7 356.3l-.9-.6-10.5-26.4-16.2-52.8M240.8 107.8l-.9-.6-3 17.6 .4 37.3 2.8 51.8M244.3 378.3l-1.8-.9M239.6 376.1l-1.8-.9-10.3-24.8-13.3-42.1-3.6-12.7M153.4 125.7l-.8-.7-3.3 15.8 .1 35.9 2.6 50.1 4.5 71.9M157.8 322.8l.7 12M417.5 132.6l3.8 65M423.8 344.9l-7.2-6.8-10.9-28.3-13.7-44.7-8-28.1M332.5 88.9l-1-.5-2.6 19.6 .7 39.1 4 69.3M336.5 362.7l-6.9-5-10.6-26.8-13.6-43.6-8.8-30.8M244.2 106.1l-3 17.7 .5 37.8 4.1 71.6M244.4 378l-1.9-.9-10.3-25.1-13.4-42.6-9.7-34M156.8 123.8l-3.2 16 .2 36.4 2.6 50.6 4.1 62.6M160.6 291.4l.4 7.1M162.6 327l.6 9.1M421.8 132.2l5.4 87.5M428.6 346.9l-7.2-6.9-11-28.7-13.8-45.2-13.4-47.2M335.8 87.3l-2.7 19.8 .8 39.5 5.5 89.9M341.2 364.6l-6.9-5-10.6-27.1-13.7-44.2-14.4-50.6M248.4 104.9l-2.9 18 .5 38.2 5.7 94.1M253.9 382.2l-1.9-.9M248.2 379.5l-.9-.5-10.4-25.4-13.4-43.1-15.7-55M161.9 123.5l-.8-.8-3.3 16.2 .3 36.7 2.8 51.2 4.1 62.2M165.1 292l.4 6M167.3 328.3l.5 9.1M426.2 131.8l6.6 103.7M433.3 348.8l-7.2-7-11-28.9-13.9-45.8-18.4-65.3M340.9 86.7l-.9-.5-2.6 20 .8 39.9 6.9 108.1M346 366.6l-6.9-5.2-10.7-27.3-13.8-44.7-19.7-69.7M252.6 103.8l-2.9 18.2 .6 38.6 3 52.5 4 58.9M258.6 384.2l-6.6-3.3-10.4-25.7-13.5-43.6-20.8-73.2M165.3 121.6l-3.2 16.3 .3 37.2 2.9 51.7 4.7 70.8M171.8 328.6l.7 10M430.5 131.4l7 106.9M438.1 350.8l-7.3-7.1-11-29.3-14-46.3-22.4-79.4M344.2 85.2l-2.5 20.1 .9 40.4 7.4 114.3M350.7 368.5l-6.9-5.2-10.8-27.7-13.8-45.2-22.8-81.2M256.9 102.8l-2.9 18.3 .7 39 3.1 53.1 4.2 61.4M263.4 386.1l-6.6-3.3-10.5-26-13.6-44.1-23.8-84.4M170.3 121.2l-.8-.7-3.2 16.5 .5 37.6 2.9 52.3 4.3 62.4M174.1 291.3l.4 6.1M176.4 328.7l.7 11.2M434.9 131l7.1 107.2M442.8 352.7l-7.2-7.2-11.1-29.7-14.1-46.8-21.6-76.9M349.4 84.6l-.9-.5-2.5 20.4 .9 40.8 7.6 114.5M355.5 370.4l-6.9-5.3-10.9-28-13.9-45.7-22.9-81.6M262 102.4l-.9-.7-2.8 18.5 .7 39.4 3.2 53.7 4.3 61.1M267.2 387.5l-5.7-2.9-10.5-26.3-13.7-44.5-23.4-83.4M213.3 228.5l-.5-2M212.2 224.6l-.2-1M174.5 120.2l-.7-.8-3.2 16.7 .5 38 3.1 52.8 4.3 62M178.6 291.9l.4 5M180.8 327l.2 2.1M181.1 331.1l.6 10M439.2 130.6l7.2 107.3M447.6 354.5l-7.3-7.2-11.2-30-14.1-47.3-21.2-75.8M393.3 192.2l-.9-2.9M352.7 83.1l-2.5 20.5 1.1 41.3 7.6 114.6M360.2 372.3l-6.9-5.4-10.9-28.3-14-46.2-22.1-79.1M305.2 209.5l-.8-2.9M265.4 100.7l-2.8 18.7 .8 39.8 3.3 54.2 4.2 60.7M271.4 282.1l.1 1M272.9 389.9l-1.9-1M267.2 386.9l-.9-.5-10.6-26.6-13.8-45-24.5-87.6M178.7 119.1l-.7-.7-3.1 16.9 .5 38.3 3.2 53.4 4.4 62.6M183.1 291.6l.3 5.1M185.4 327.1l.1 1M185.6 331.2l.8 11.1M443.6 130.3l7.4 108.4M451.4 244.8l.1 1M452.3 356.4l-7.3-7.4-11.2-30.2-14.2-47.8-21.8-78.2M357.9 82.6l-.9-.5-2.5 20.7 1.1 41.6 7.9 115.9M365 374.1l-7-5.4-10.9-28.6-14.1-46.6-21.7-78.1M310.8 213.5l-1.4-4.9M270.5 100.3l-.9-.7-2.8 18.9 .9 40.2 3.4 54.8 4.4 61.3M277.6 391.7l-6.6-3.4-10.7-26.9-13.8-45.5-23.7-85.1M222.3 228.9l-.3-1M183 118.1l-.7-.7-3.1 17 .6 38.7 3.2 53.9 4.5 62.2M187.6 291.2l.4 6.1M190.3 332.5l.7 11M448 129.9l7.5 108.5M455.9 244.5l.1 1M457.1 358.2l-7.3-7.4-11.3-30.6-14.3-48.3-21.4-77M402.3 192.9l-.3-1M361.2 81.1l-2.4 20.9 1.2 42.1 8 115.9M369.7 376l-6.9-5.5-11-28.9-14.2-47.2-22.8-82.3M273.9 98.6l-2.8 19.1 1 40.6 3.4 55.3 4.5 60.8M282.3 393.6l-6.6-3.6-10.7-27.1-13.9-46-23.3-84M227.2 231l-1.3-4.9M187.2 117.1l-.7-.7-3.1 17.2 .7 39 3.4 54.5 4.4 61.8M192.1 291.9l.4 5.1M194.9 333.5l.7 11.2M452.3 129.6l7.6 108.7M460.4 244.3l.1 1M464.8 340.7l-.3 4.1M461.8 360.1l-7.3-7.6-11.4-30.9-14.4-48.7-21.3-77.5M378.4 99.7l-1.8-4.7M366.4 80.6l-.9-.5-2.4 21.1 1.3 42.5 8 116M377.2 358.6l-.6 4M374.5 377.8l-7-5.5-11.1-29.2-14.2-47.7-22.4-81.1M319.3 212.3l-.3-1M290.8 118.3l-2.1-5.7M279 98.4l-.9-.7-2.7 19.2 1 41 3.6 55.8 4.4 60.4M289.2 376.3l-.5 5M285.2 394.4l-4.8-2.6-10.7-27.4-14-46.5-23.9-86.3M230.8 227.8l-.3-1M202.7 135.5l-2.1-5.8M190.8 115.4l-3.1 17.3 .8 39.5 3.4 54.9 4.6 62.4M196.6 291.5l.3 5.1M199.5 334.8l.7 11.1M456.7 129.2l7.8 109.9M464.9 244.1l0 1M469.5 342.4l.1 2-1.8 10.3M466.5 361.9l-7.3-7.6-11.4-31.2-14.5-49.3-21.5-78.2M383.5 100.9l-6-15.3M369.7 79.1l-2.3 21.4 1.3 42.8 8.3 117.2M381.9 359.2l-1.9 14.3M379.2 379.6l-7-5.6-11.1-29.5-14.3-48.1-22.4-81.6M322.8 209l-.3-1M295.1 117.5l-5-13.3M282.4 96.7l-2.7 19.4 1.1 41.3 3.6 56.4 4.6 61M294 377.9l-1.4 12.2M291.8 397.2l-6.6-3.6-10.8-27.7-14.1-46.9-23.5-85.2M235.8 229.9l-.3-1M207.2 135.3l-4.8-13.3M195.8 115.2l-.8-.8-3 17.5 .8 39.8 3.5 55.5 4.6 61.9M201.1 292.1l.4 5M204.1 335.1l.8 12M461.1 128.9l7.9 109.9M469.4 244.8l.1 1M474 334l.3 12.1-2.5 14.5M471.3 363.7l-7.4-7.7-11.4-31.5-14.6-49.7-21.5-78.7M391.1 108.9l-.3-.9M390.1 106.1l-9.4-24.3-1.9-1M375 78.7l-1-.5-2.3 21.5 1.4 43.2 8.4 117.3M386.3 351.7l.3 10.1-2.4 17.6M383.9 381.4l-7-5.7-11.1-29.7-14.4-48.6-22.5-82M328.4 213.5l-.5-1.9M301.5 122.5l-7.9-21.1-3.1-2.5M287.4 96.4l-.8-.7-2.6 19.6 1.1 41.7 3.8 56.9 4.5 60.6M293.9 281.6l.1 1M298.6 369.4l.3 8.1-2.4 21.5-1.9-1.1M292.7 396.9l-2.8-1.6-10.8-28-14.2-47.3-24.6-89.5M213.9 141.2l-7.3-20-2.9-3.1M199.3 113.5l-3 17.6 .9 40.2 3.6 56 4.7 62.5M205.6 291.8l.4 5M208.7 336.2l.8 12.1M465.4 128.6l9 122.1 3.6 56.5 1 40.5-3 17.8-7.4-7.8-11.4-31.8-14.7-50.2-32.4-118.7-14.3-47.8-10.9-28.3-6.6-3.7-2.3 21.7 1.4 43.6 12.7 178.9 1.2 42.1-2.6 19.7-7.1-5.7-11.1-30.1-14.5-49-32.5-118.8-14.4-49-11.2-30.1-7-5.7-2.6 19.7 1.2 42.1 12.6 178.9 1.5 43.6-2.3 21.7-6.7-3.7-10.9-28.3-14.2-47.8-32.5-118.7-14.6-50.2-11.5-31.8-7.4-7.8-2.9 17.8 .9 40.5 3.7 56.5 8.9 122.1" fill="none" stroke="#100" stroke-width="0.95" stroke-linejoin="round" stroke-linecap="round"/><path d="M467.9 149.4l1.1 .1M433.2 236.1l39.5 4.7M458.3 310.9l14.8 2.7M460.2 321.2l2.2 .5M438.9 261.2l1.1 .1M381.7 172.1l31.2 1.6M385.7 117.8l5.6 0M380.5 131.8l1.1 0M331.1 204.3l51.6 3.8M357.7 294l28.4 4.4M376.4 343.9l5.7 1.1M364.4 318.8l1.2 .2M295.9 234.9l43.9 4.1M294 158.7l20 .3M296.4 133l1.1 0M292.3 179.6l1.1 0M255.1 265.2l41.8 4.7M280.8 343.2l17.1 3M287.1 360l1.2 .2M265.5 304.1l1.1 .2M206 214.8l33.5 1.9M209.4 156.4l7.7-.1M100.1 163.7l2.3 0M205.3 164.4l1.1 0M99.4 229.7l79.5 5.6M181.1 235.4l2.3 .2M185.6 235.7l3.4 .2M191.2 236.1l2.3 .1M195.7 236.4l2.2 .1M200.2 236.7l2.2 .2M205.8 237.1l1.1 .1M101.6 312.7l108.9 15.8M467.6 147.5l1.1 0M433.3 236.8l39.5 5M472.5 316.6l1.2 .2M460.7 324.6l2.3 .4M439.1 262.5l1.2 .2M382.6 171l30.1 1.1M384.1 114.5l6.6-.2M380 128.7l1.1 0M331.1 203.8l51.5 3.6M358 295.8l28.5 4.7M374.7 346.8l8 1.7M364.9 321.4l1.1 .2M295.9 234.9l43.9 4.1M294.7 156.4l18.8 0M293.6 129.6l3.3-.1M291.9 177.5l1.1 0M255.2 265.7l41.8 4.9M289.3 347.5l1.1 .2M297.3 349.1l1.2 .2M286.6 363.2l2.3 .5M265.8 305.7l1.1 .2M207 213.8l32.3 1.5M213.2 153l3.3 0M100.1 163.7l2.2-.2M204.8 161.2l1.1 0M99.4 229.7l99.5 6.1M201.1 235.9l5.6 .3M101.6 312.7l109.3 17.8M411.4 142.1l1.1 0M416.9 142l1.1 0M422.4 141.9l1.1 0M466.5 141.2l1.1 0M433.7 239l39.6 5.7M472 326.2l3.4 .9M461.4 335l3.5 .9M386.4 257.9l17 2.9M405.7 261.2l5.7 .9M413.7 262.5l5.7 .9M421.7 263.8l2.2 .4M426.2 264.6l5.7 .9M434.2 265.9l2.3 .3M438.7 266.6l2.3 .4M386.3 166.9l1.1 0M391.9 166.9l1.1 0M401.8 167l1.1 0M407.4 167.1l1.1 0M410.7 167.1l1.1 0M382.2 103.9l6.6-.7M377.2 119l2.2-.2M329.7 202.3l52.5 2.9M386.5 307.2l1.2 .2M375.4 357.5l9.3 2.5M365.2 329.7l2.3 .5M295.9 234.9l43.9 4.1M311 147.9l1.1-.1M289.4 118.5l5.5-.5M290.8 170.6l1.1 0M255.5 267.3l41.9 5.5M297.8 358.6l2.4 .6M286.1 373.5l4.7 1.3M214.1 301.3l2.3 .5M218.7 302.2l2.3 .4M223.3 303l1.1 .2M226.7 303.6l2.3 .4M231.3 304.4l1.1 .2M234.7 305l2.3 .5M243.8 306.7l1.2 .2M251.8 308.1l1.1 .2M256.4 308.9l1.1 .2M264.3 310.3l3.5 .6M207.5 210.4l4.4 .1M214.1 210.5l7.8 .2M224.1 210.7l3.3 .1M229.7 210.8l3.3 .1M236.3 211l2.2 0M207 142.8l7.7-.7M100.1 163.7l2.1-1.1M201.9 151.1l2.2-.2M99.4 229.7l8.9-.1 20 .5 77.9 3.2M101.6 312.7l9.4 3 20.7 4.8 80.2 16.3M404.4 134l26.1-2.6 34.9-2.8M473.2 250.5l1.2 .2M463.7 342.3l15.3 5.4M391.6 327.6l32.1 13.3 44.9 16.8M386.3 263.8l56.2 11.9M409 157l1.1 0M378.5 82.3l6.4-1.4M303.4 114.2l13.8-3.6 15.9-3.5 42.9-8.2M329.2 199.1l52.2 1.7M387.8 320.7l2.3 .7M304.1 348.2l1.2 .6M307.7 349.9l9.7 4.5M319.7 355.5l29.9 12.5 39.1 15.2M302.5 325.2l29.4 10 38.6 12.2M295.9 234.9l43.9 4.1M305.9 131l3.2-.4M208.6 117.8l13.5-5.1 17.8-5.5 22.3-5.8 28.7-6.6M226.5 163.5l27.1-3.3 35.9-3.6M257.2 270.9l1.2 .2M260.7 271.5l10.2 1.6M273.1 273.4l2.3 .4M277.7 274.1l2.3 .3M282.2 274.8l1.2 .2M286.8 275.5l1.1 .2M291.3 276.2l1.2 .1M295.9 276.9l2.2 .3M297.7 377.1l5.9 2M179.1 340.9l1.3 2.8 1.4 1.6 5.2 4.5 8.7 5.6 13.3 7 15.7 7.2 19 8 50.9 19.5M211.9 307.8l57.6 13.2M235.9 202.3l1.1 0M202.4 122l8.5-1.7M100.1 163.7l.6-3.3 .9-1.3 3.8-3.4 7.1-3.7 10.4-3.9 13.7-4.1 17-4.2 47-9.5M99.4 229.7l1-.8 1.1-.3 4.3-.7 18.6-.9 32-.2 48.8 .5M101.6 312.7l1.5 2.1 1.3 1 4.9 2.7 8.3 3.5 11.8 4.1 33.8 10 50.9 13.3" fill="none" stroke="#100" stroke-width="0.95" stroke-linejoin="round" stroke-linecap="round"/><path d="M424.4 207.3 425.4 207.4 426.4 207.5 427.4 207.6 428.4 207.7 429.4 207.8 430.4 207.8 431.4 207.9 432.4 208 433.4 208.1 434.4 208.2 435.4 208.3 436.4 208.4 437.4 208.5 438.4 208.6 439.4 208.7 440.4 208.8 441.4 208.9 442.4 209 443.4 209.1 444.4 209.2 445.4 209.3 446.4 209.3 447.4 209.4 448.4 209.5 449.4 209.6 450.4 209.7 451.4 209.8 452.4 209.9 453.4 210 454.4 210.1 455.4 210.2 456.4 210.3 457.4 210.4 458.4 210.5 459.4 210.6 460.4 210.7 461.4 210.7 462.4 210.8 463.4 210.9 464.4 211 465.4 211.1 466.4 211.2 467.4 211.3 468.4 211.4 469.4 211.5 470.4 211.6 471.4 211.7M383.6 216.7 384.6 216.8 385.6 216.9 386.6 217 387.6 217 388.6 217.1 389.6 217.2 390.6 217.3 391.6 217.4 392.6 217.5 393.6 217.6 394.6 217.7 395.5 217.8 396.5 217.9 397.5 218 398.5 218.1 399.5 218.2 400.5 218.3 401.5 218.4 402.5 218.4 403.5 218.5 404.5 218.6 405.5 218.7 406.5 218.8 407.5 218.9 408.5 219 409.5 219.1 410.5 219.2 411.5 219.3 412.5 219.4 413.5 219.5 414.5 219.6 415.5 219.7 416.5 219.8 417.5 219.9 418.5 219.9 419.5 220 420.5 220.1 421.5 220.2 422.5 220.3 423.5 220.4 424.5 220.5 425.5 220.6 426.5 220.7 427.5 220.8M336.7 225.5 337.7 225.6 338.7 225.7 339.7 225.8 340.7 225.9 341.7 226 342.7 226.1 343.7 226.1 344.7 226.2 345.7 226.3 346.7 226.4 347.7 226.5 348.7 226.6 349.7 226.7 350.7 226.8 351.7 226.9 352.7 227 353.7 227.1 354.7 227.2 355.7 227.3 356.7 227.4 357.7 227.5 358.7 227.6 359.7 227.6 360.7 227.7 361.7 227.8 362.7 227.9 363.7 228 364.7 228.1 365.7 228.2 366.7 228.3 367.7 228.4 368.7 228.5 369.7 228.6 370.7 228.7 371.7 228.8 372.7 228.9 373.7 229 374.7 229.1 375.7 229.1 376.7 229.2 377.7 229.3 378.7 229.4 379.7 229.5 380.7 229.6 381.6 229.7 382.6 229.8 383.6 229.9M295.8 234.9 296.8 235 297.8 235.1 298.8 235.2 299.8 235.3 300.8 235.3 301.8 235.4 302.8 235.5 303.8 235.6 304.8 235.7 305.8 235.8 306.8 235.9 307.8 236 308.8 236.1 309.8 236.2 310.8 236.3 311.8 236.4 312.8 236.5 313.8 236.6 314.8 236.7 315.8 236.8 316.8 236.8 317.8 236.9 318.8 237 319.8 237.1 320.8 237.2 321.8 237.3 322.8 237.4 323.8 237.5 324.8 237.6 325.8 237.7 326.8 237.8 327.8 237.9 328.8 238 329.8 238.1 330.8 238.2 331.8 238.3 332.8 238.3 333.8 238.4 334.8 238.5 335.8 238.6 336.8 238.7 337.8 238.8 338.8 238.9 339.8 239M248.9 243.7 249.9 243.8 250.9 243.9 251.9 244 252.9 244.1 253.9 244.2 254.9 244.3 255.9 244.4 256.9 244.5 257.9 244.5 258.9 244.6 259.9 244.7 260.9 244.8 261.9 244.9 262.9 245 263.9 245.1 264.9 245.2 265.9 245.3 266.9 245.4 267.9 245.5 268.9 245.6 269.9 245.7 270.9 245.8 271.9 245.9 272.9 246 273.9 246 274.9 246.1 275.9 246.2 276.9 246.3 277.9 246.4 278.9 246.5 279.9 246.6 280.9 246.7 281.9 246.8 282.9 246.9 283.9 247 284.9 247.1 285.9 247.2 286.9 247.3 287.9 247.4 288.9 247.4 289.9 247.5 290.9 247.6 291.9 247.7 292.9 247.8 293.9 247.9 294.9 248 295.9 248.1M208.1 253.1 209.1 253.2 210.1 253.3 211.1 253.4 212.1 253.5 213.1 253.6 214.1 253.7 215.1 253.7 216.1 253.8 217.1 253.9 218.1 254 219.1 254.1 220.1 254.2 221.1 254.3 222.1 254.4 223.1 254.5 224.1 254.6 225.1 254.7 226.1 254.8 227.1 254.9 228.1 255 229.1 255.1 230.1 255.1 231 255.2 232 255.3 233 255.4 234 255.5 235 255.6 236 255.7 237 255.8 238 255.9 239 256 240 256.1 241 256.2 242 256.3 243 256.4 244 256.5 245 256.6 246 256.6 247 256.7 248 256.8 249 256.9 250 257 251 257.1 252 257.2M100.3 256.2 101.3 256.3 102.3 256.4 103.3 256.5 104.3 256.6 105.3 256.7 106.3 256.8 107.3 256.9 108.3 257 109.2 257 110.2 257.1 111.2 257.2 112.2 257.3 113.2 257.4 114.2 257.5 115.2 257.6 116.2 257.7 117.2 257.8 118.2 257.9 119.2 258 120.2 258.1 121.2 258.2 122.2 258.3 123.2 258.4 124.2 258.4 125.2 258.5 126.2 258.6 127.2 258.7 128.2 258.8 129.2 258.9 130.2 259 131.2 259.1 132.2 259.2 133.2 259.3 134.2 259.4 135.2 259.5 136.2 259.6 137.2 259.7 138.2 259.8 139.2 259.9 140.2 259.9 141.2 260 142.2 260.1 143.2 260.2 144.2 260.3 145.2 260.4 146.2 260.5 147.2 260.6 148.2 260.7 149.2 260.8 150.2 260.9 151.2 261 152.2 261.1 153.2 261.2 154.2 261.3 155.2 261.4 156.2 261.4 157.2 261.5 158.2 261.6 159.2 261.7 160.2 261.8 161.2 261.9 162.2 262 163.2 262.1 164.2 262.2 165.2 262.3 166.2 262.4 167.2 262.5 168.2 262.6 169.2 262.7 170.2 262.8 171.2 262.8 172.2 262.9 173.2 263 174.2 263.1 175.2 263.2 176.2 263.3 177.2 263.4 178.2 263.5 179.2 263.6 180.2 263.7 181.2 263.8 182.2 263.9 183.2 264 184.2 264.1 185.2 264.2 186.2 264.3 187.2 264.3 188.2 264.4 189.2 264.5 190.2 264.6 191.2 264.7 192.2 264.8 193.2 264.9 194.2 265 195.2 265.1 196.2 265.2 197.2 265.3 198.2 265.4 199.2 265.5 200.2 265.6 201.2 265.7 202.2 265.8 203.2 265.8 204.2 265.9 205.2 266 206.2 266.1 207.2 266.2 208.2 266.3" fill="none" stroke="#ff0" stroke-width="2.2" stroke-dasharray="2 2.5"/><g stroke="#000" stroke-width="2.3" stroke-linecap="round"><line x1="117.9" y1="407.3" x2="66.5" y2="108.4"/><line x1="117.9" y1="407.3" x2="225.8" y2="417.4"/><line x1="66.5" y1="108.4" x2="345.8" y2="50.5"/><line x1="66.5" y1="108.4" x2="174.4" y2="118.5"/><line x1="345.8" y1="50.5" x2="453.7" y2="60.6"/><line x1="225.8" y1="417.4" x2="174.4" y2="118.5"/><line x1="225.8" y1="417.4" x2="505.1" y2="359.5"/><line x1="174.4" y1="118.5" x2="453.7" y2="60.6"/><line x1="505.1" y1="359.5" x2="453.7" y2="60.6"/></g><g stroke="#000" stroke-width="2"><line x1="116.9" y1="401.2" x2="110.4" y2="401.2"/><line x1="115.1" y1="391.2" x2="108.6" y2="391.2"/><line x1="113.4" y1="381.1" x2="106.9" y2="381.1"/><line x1="111.7" y1="371" x2="105.2" y2="371"/><line x1="109.9" y1="360.9" x2="97.4" y2="360.9"/><line x1="108.2" y1="350.9" x2="101.7" y2="350.9"/><line x1="106.5" y1="340.8" x2="100" y2="340.8"/><line x1="104.7" y1="330.7" x2="98.2" y2="330.7"/><line x1="103" y1="320.7" x2="96.5" y2="320.7"/><line x1="101.3" y1="310.6" x2="88.8" y2="310.6"/><line x1="99.6" y1="300.5" x2="93.1" y2="300.5"/><line x1="97.8" y1="290.4" x2="91.3" y2="290.4"/><line x1="96.1" y1="280.4" x2="89.6" y2="280.4"/><line x1="94.4" y1="270.3" x2="87.9" y2="270.3"/><line x1="92.6" y1="260.2" x2="80.1" y2="260.2"/><line x1="90.9" y1="250.2" x2="84.4" y2="250.2"/><line x1="89.2" y1="240.1" x2="82.7" y2="240.1"/><line x1="87.4" y1="230" x2="80.9" y2="230"/><line x1="85.7" y1="219.9" x2="79.2" y2="219.9"/><line x1="84" y1="209.9" x2="71.5" y2="209.9"/><line x1="82.2" y1="199.8" x2="75.7" y2="199.8"/><line x1="80.5" y1="189.7" x2="74" y2="189.7"/><line x1="78.8" y1="179.7" x2="72.3" y2="179.7"/><line x1="77.1" y1="169.6" x2="70.6" y2="169.6"/><line x1="75.3" y1="159.5" x2="62.8" y2="159.5"/><line x1="73.6" y1="149.4" x2="67.1" y2="149.4"/><line x1="71.9" y1="139.4" x2="65.4" y2="139.4"/><line x1="70.1" y1="129.3" x2="63.6" y2="129.3"/><line x1="68.4" y1="119.2" x2="61.9" y2="119.2"/><line x1="117.9" y1="407.3" x2="120" y2="419.6"/><line x1="128.7" y1="408.3" x2="129.8" y2="414.7"/><line x1="139.5" y1="409.3" x2="141.6" y2="421.7"/><line x1="150.3" y1="410.3" x2="151.4" y2="416.8"/><line x1="161.1" y1="411.4" x2="163.2" y2="423.7"/><line x1="171.8" y1="412.4" x2="173" y2="418.8"/><line x1="182.6" y1="413.4" x2="184.8" y2="425.7"/><line x1="193.4" y1="414.4" x2="194.5" y2="420.8"/><line x1="204.2" y1="415.4" x2="206.3" y2="427.7"/><line x1="215" y1="416.4" x2="216.1" y2="422.8"/><line x1="225.8" y1="417.4" x2="227.9" y2="429.7"/><line x1="239.8" y1="414.5" x2="240.9" y2="420.9"/><line x1="253.7" y1="411.6" x2="254.8" y2="418"/><line x1="267.7" y1="408.7" x2="268.8" y2="415.1"/><line x1="281.7" y1="405.8" x2="282.8" y2="412.2"/><line x1="295.6" y1="402.9" x2="297.7" y2="415.3"/><line x1="309.6" y1="400" x2="310.7" y2="406.4"/><line x1="323.6" y1="397.1" x2="324.7" y2="403.5"/><line x1="337.5" y1="394.2" x2="338.6" y2="400.6"/><line x1="351.5" y1="391.3" x2="352.6" y2="397.7"/><line x1="365.4" y1="388.4" x2="367.6" y2="400.8"/><line x1="379.4" y1="385.5" x2="380.5" y2="392"/><line x1="393.4" y1="382.6" x2="394.5" y2="389.1"/><line x1="407.3" y1="379.7" x2="408.4" y2="386.2"/><line x1="421.3" y1="376.9" x2="422.4" y2="383.3"/><line x1="435.3" y1="374" x2="437.4" y2="386.3"/><line x1="449.2" y1="371.1" x2="450.3" y2="377.5"/><line x1="463.2" y1="368.2" x2="464.3" y2="374.6"/><line x1="477.2" y1="365.3" x2="478.3" y2="371.7"/><line x1="491.1" y1="362.4" x2="492.2" y2="368.8"/><line x1="505.1" y1="359.5" x2="507.2" y2="371.8"/></g><g font-family="Liberation Serif, serif" font-size="20" fill="#000"><text x="96.4" y="369.2" text-anchor="end">−1</text><text x="87.8" y="318.9" text-anchor="end">−0.5</text><text x="79.1" y="268.5" text-anchor="end">0</text><text x="70.5" y="218.1" text-anchor="end">0.5</text><text x="61.8" y="167.8" text-anchor="end">1</text><text x="122.3" y="439.7" text-anchor="middle">0</text><text x="165.5" y="443.7" text-anchor="middle">0.04</text><text x="230.2" y="449.8" text-anchor="middle">10</text><text x="300" y="435.3" text-anchor="middle">5</text><text x="369.9" y="420.8" text-anchor="middle">0</text><text x="439.7" y="406.3" text-anchor="middle">−5</text><text x="509.5" y="391.8" text-anchor="middle">−10</text></g><g font-family="Liberation Serif, serif" font-size="20" fill="#000"><text x="182" y="484" text-anchor="middle" font-style="italic">t</text><text x="376.2" y="456.4" text-anchor="middle" font-style="italic">x</text></g><text x="4" y="31.9" font-family="Liberation Sans, Arial, sans-serif" font-weight="bold" font-size="38.5">A</text><g stroke="#000" stroke-width="2" stroke-linecap="round"><line x1="821.7" y1="373.4" x2="1101.3" y2="315.7"/><line x1="1101.3" y1="315.7" x2="1050.2" y2="17"/><line x1="1101.3" y1="315.7" x2="1209.3" y2="325.2"/></g><g><path fill="#e00" d="M879.5 293.4l8.8 20.7-6.5-7.5-8.5-19.1zM884.4 296.4l9.1 21.5-5.8-3.4-9-20.8zM1086.9 267.3l10.2 27.2-5.5-1.9-10.2-26.7zM889.2 298.9l9.3 22.1-5.7-2.7-9.2-21.6zM1091.6 269l10.3 27.5-5.5-1.7-10.3-27.2zM894 301.2l9.4 22.6-5.6-2.4-9.4-22.1zM1096.3 270.6l10.4 27.9-5.5-1.7-10.4-27.5zM1090.5 270l-13-43.2 5.4 .8 13.1 43.8zM898.8 303.3l9.5 23-5.6-2.2-9.4-22.6zM1004.4 312l-9.9-25.3 5.4 1.5 10 25.7zM1101 272.2l10.4 28.3-5.5-1.7-10.4-27.9zM1095.3 271.6l-13.2-43.8 5.4 .8 13.2 44.4zM903.5 305.2l9.6 23.5-5.5-2.1-9.6-23zM1009.2 314.2l-10-25.7 5.5 1.4 10 26.1zM1105.7 273.8l10.5 28.6-5.5-1.6-10.5-28.3zM1100 273.2l-13.3-44.3 5.4 .7 13.3 44.9zM908.3 307.1l9.7 23.9-5.6-2-9.6-23.4zM1014 316.3l-10.1-26.1 5.5 1.3 10.1 26.5zM1110.4 275.3l10.6 29-5.5-1.6-10.6-28.7zM1078.2 181.3l13.7 49.1-5.4-.8-13.6-48.5zM996.1 249.6l13 42.7-5.5-1.4-12.8-42.2zM1104.7 274.8l-13.4-44.9 5.4 .7 13.4 45.5zM913 308.9l9.8 24.2-5.6-1.8-9.6-23.9zM1018.8 318.3l-10.2-26.5 5.5 1.4 10.2 26.8zM1115.1 276.8l10.6 29.4-5.5-1.6-10.6-29zM1082.7 181.7l13.8 49.7-5.4-.8-13.7-49.1zM1000.8 250.6l13 43.4-5.4-1.4-13-42.8zM1109.4 276.3l-13.5-45.5 5.4 .8 13.5 46zM917.8 310.7l9.8 24.5-5.6-1.8-9.7-24.2zM1023.6 320.3l-10.2-26.8 5.4 1.3 10.3 27.1zM1119.7 278.3l10.8 29.7-5.5-1.5-10.7-29.4zM1087.2 182.1l13.9 50.3-5.4-.8-13.8-49.7zM1005.4 251.7l13.2 43.9-5.5-1.4-13.1-43.3zM1114.1 277.8l-13.6-46 5.4 .7 13.6 46.6zM922.5 312.4l9.8 24.9-5.5-1.7-9.8-24.6zM1028.3 322.2l-10.2-27.1 5.4 1.2 10.3 27.5zM999.8 251.6l-14.7-52.3 5.2 .1 14.9 53.1zM1124.4 279.8l10.8 30-5.5-1.5-10.7-29.7zM916.7 311.7l-12.7-41.1 5.4 .9 12.8 41.7zM1091.7 182.5l14 50.8-5.4-.7-13.9-50.3zM1010 252.7l13.3 44.4-5.5-1.3-13.2-43.9zM1118.7 279.3l-13.6-46.5 5.4 .7 13.7 47.1zM927.2 314.1l9.9 25.2-5.5-1.7-9.9-24.9zM1033.1 324.1l-10.3-27.5 5.4 1.3 10.4 27.8zM1004.4 252.7l-14.8-53.1 5.2 .2 15 53.7zM1129.1 281.2l10.9 30.4-5.5-1.5-10.8-30.1zM921.5 313.4l-12.8-41.7 5.3 .9 12.9 42.2zM1096.2 182.9l14.1 51.4-5.4-.7-14-50.9zM1014.6 253.7l13.4 45-5.5-1.3-13.3-44.4zM1123.4 280.8l-13.7-47.1 5.3 .8 13.9 47.5zM931.9 315.7l10 25.5-5.5-1.6-9.9-25.2zM1037.8 326l-10.3-27.8 5.4 1.2 10.4 28.1zM1009 253.7l-14.9-53.7 5.2 .2 15.1 54.3zM1133.8 282.7l10.9 30.7-5.5-1.5-10.8-30.4zM926.2 315.1l-12.9-42.3 5.4 .9 13 42.8zM1100.7 183.3l14.2 51.9-5.4-.7-14.1-51.4zM1019.2 254.8l13.5 45.4-5.5-1.3-13.4-44.9zM1128.1 282.2l-13.8-47.5 5.3 .7 14 48.1zM936.6 317.3l10.1 25.9-5.5-1.7-10-25.5zM903.7 221.8l14.8 52.7-5.4-.9-14.7-52zM1042.6 327.8l-10.5-28.1 5.5 1.2 10.5 28.5zM1013.6 254.8l-15-54.4 5.2 .2 15.2 54.9zM1138.5 284.1l10.9 31-5.5-1.5-10.9-30.7zM930.9 316.7l-13-42.8 5.4 .9 13.1 43.3zM1105.2 183.7l14.3 52.5-5.4-.7-14.2-52zM1023.8 255.8l13.5 45.9-5.4-1.3-13.5-45.4zM1132.8 283.7l-13.9-48.1 5.3 .7 14 48.6zM941.3 318.9l10.1 26.2-5.5-1.6-10-25.9zM908.2 222.3l14.9 53.3-5.4-.9-14.8-52.6zM1047.3 329.6l-10.5-28.4 5.5 1.2 10.5 28.8zM1018.2 255.8l-15.1-55 5.2 .2 15.3 55.5zM1143.1 285.5l11 31.3-5.4-1.4-11-31zM935.6 318.3l-13.1-43.3 5.4 .8 13.2 43.9zM1109.7 184.1l14.4 53-5.4-.7-14.3-52.5zM1028.4 256.8l13.6 46.4-5.4-1.2-13.6-46zM1137.5 285.1l-14-48.5 5.3 .7 14.1 49zM946 320.4l10.2 26.5-5.5-1.5-10.1-26.2zM912.7 222.7l15 53.9-5.4-.8-14.9-53.3zM1052.1 331.4l-10.6-28.7 5.4 1.2 10.7 29zM1022.9 256.8l-15.3-55.6 5.2 .2 15.4 56.1zM907.4 223.3l-1.2-5.1 5.3 .1 1.1 5.2zM1147.8 286.9l11.1 31.7-5.5-1.5-11-31.3zM940.3 319.9l-13.2-43.8 5.4 .8 13.3 44.3zM1114.2 184.4l14.5 53.6-5.4-.7-14.4-53zM1033 257.7l13.7 47-5.4-1.3-13.7-46.4zM1142.2 286.5l-14.1-49 5.3 .7 14.2 49.5zM950.7 322l10.2 26.8-5.5-1.6-10.1-26.5zM917.2 223.2l15.1 54.5-5.4-.8-14.9-54zM1056.8 333.2l-10.6-29 5.4 1.2 10.7 29.3zM1027.5 257.8l-15.4-56.2 5.2 .2 15.5 56.7zM911.9 223.7l-1.2-5.1 5.3 .1 1.2 5.3zM945 321.5l-13.3-44.4 5.4 .9 13.4 44.8zM1118.7 184.8l14.6 54.2-5.4-.7-14.5-53.6zM1037.6 258.7l13.8 47.4-5.4-1.2-13.8-46.9zM955.4 323.5l10.3 27.1-5.5-1.5-10.2-26.8zM921.7 223.6l15.2 55.1-5.3-.8-15.1-54.5zM1061.5 335l-10.6-29.4 5.4 1.2 10.7 29.7zM1032.1 258.7l-15.5-56.7 5.2 .2 15.6 57.3zM916.4 224.2l-1.2-5.3 5.3 .2 1.2 5.3zM949.7 323l-13.3-44.8 5.3 .8 13.5 45.3zM1042.2 259.7l13.9 47.9-5.5-1.2-13.8-47.5zM960.1 325l10.3 27.4-5.5-1.5-10.2-27.1zM926.3 224.1l15.3 55.7-5.4-.8-15.2-55.2zM1066.3 336.7l-10.7-29.6 5.4 1.1 10.8 30zM1036.7 259.7l-15.6-57.3 5.2 .2 15.7 57.9zM1082.6 78.2l-10.9-28 5.1-1.2 10.8 28.2zM920.9 224.6l-1.2-5.3 5.3 .2 1.2 5.4zM954.4 324.5l-13.4-45.3 5.3 .8 13.6 45.8zM1046.8 260.7l14 48.3-5.5-1.2-13.9-47.9zM964.8 326.5l10.3 27.6-5.4-1.4-10.4-27.4zM930.8 224.5l15.4 56.3-5.4-.8-15.3-55.7zM1041.3 260.7l-15.7-57.9 5.2 .2 15.8 58.4zM1086.9 77.5l-10.9-28.2 5-1.3 10.9 28.5zM925.4 225.1l-1.2-5.4 5.3 .2 1.2 5.4zM959.1 326l-13.5-45.7 5.3 .7 13.6 46.3zM969.5 328l10.4 27.9-5.5-1.5-10.4-27.6zM935.3 224.9l15.5 56.9-5.4-.8-15.4-56.3zM929.9 225.5l-1.2-5.4 5.3 .2 1.2 5.4zM1091.2 76.8l-10.9-28.5 5-1.2 11 28.8zM963.8 327.5l-13.6-46.2 5.3 .8 13.7 46.7zM974.1 329.5l10.5 28.2-5.5-1.5-10.4-27.9zM939.8 225.4l15.6 57.4-5.4-.8-15.5-56.8zM989.6 68.5l11.2 29.9-5.1 1-11.1-29.7zM934.4 225.9l-1.2-5.4 5.3 .2 1.2 5.5zM1095.5 76.2l-10.9-28.8 5-1.2 11 29zM968.5 329l-13.7-46.7 5.4 .8 13.7 47.2zM944.3 225.8l15.7 58.1-5.4-.8-15.6-57.5zM993.9 67.5l11.2 30.3-5.1 .9-11.1-30zM938.9 226.4l-1.2-5.5 5.3 .2 1.2 5.5zM943.4 226.8l-1.2-5.5 5.3 .2 1.2 5.6zM908.9 120.7l-11.4-31.4 5-1.2 11.5 31.7z"/><path fill="#d00" d="M1093.9 296.6l-6.7-6.8 5.3 1.6 6.8 7zM1098.8 299l-6.8-7 5.3 1.6 6.8 7zM1103.6 301.2l-6.8-7 5.3 1.5 6.8 7.1zM1005.3 310.8l6.5 5.3-5.3-1.7-6.4-5.2zM1108.4 303.4l-6.8-7.2 5.3 1.5 6.8 7.2zM1010.1 313l6.5 5.3-5.2-1.6-6.5-5.2zM1113.2 305.5l-6.9-7.3 5.3 1.4 6.9 7.4zM1014.9 315l6.5 5.5-5.2-1.5-6.5-5.4zM1118 307.6l-6.9-7.4 5.3 1.3 6.9 7.5zM1019.7 317.1l6.5 5.5-5.2-1.5-6.5-5.4zM1122.7 309.6l-6.8-7.5 5.3 1.3 6.9 7.6zM1024.5 319.1l6.5 5.5-5.2-1.4-6.6-5.5zM1127.5 311.6l-6.9-7.6 5.3 1.3 6.9 7.6zM929.1 335.8l-6.5-2.9 5.1 1.4 6.5 3zM1029.2 321l6.6 5.7-5.2-1.4-6.6-5.6zM1132.3 313.5l-6.9-7.6 5.3 1.2 6.9 7.8zM933.6 338.7l-6.3-3.7 5.2 1.3 6.2 3.8zM1034 322.9l6.6 5.7-5.3-1.3-6.5-5.7zM1137 315.4l-6.9-7.7 5.3 1.2 7 7.9zM938.4 340.8l-6.3-3.7 5.1 1.2 6.3 3.8zM1038.7 324.8l6.6 5.8-5.2-1.3-6.6-5.8zM1141.8 317.3l-7-7.8 5.3 1.2 7 7.9zM943.1 342.9l-6.2-3.8 5.1 1.2 6.3 3.9zM1043.5 326.6l6.6 5.9-5.2-1.3-6.6-5.8zM1146.6 319.2l-7-7.9 5.3 1.2 7 8zM947.9 344.9l-6.2-3.9 5.1 1.2 6.2 3.9zM1048.2 328.4l6.7 6-5.3-1.3-6.6-5.8zM1151.3 321.1l-7-8.1 5.3 1.2 7 8.1zM952.7 346.9l-6.3-4 5.1 1.2 6.3 4zM1053 330.2l6.6 6.1-5.2-1.3-6.7-5.9zM1156 322.9l-7-8.1 5.3 1.2 7.1 8.1zM957.5 348.8l-6.3-4 5.1 1.2 6.3 4zM1057.7 332l6.7 6.1-5.3-1.2-6.6-6zM962.2 350.7l-6.3-4 5.1 1.1 6.3 4.1zM1062.4 333.8l6.7 6.1-5.2-1.1-6.7-6.2zM967 352.6l-6.3-4.1 5.1 1.1 6.3 4.1zM1067.2 335.5l6.7 6.3-5.3-1.2-6.6-6.2zM971.7 354.4l-6.3-4.1 5.1 1.1 6.3 4.2zM976.5 356.3l-6.4-4.2 5.1 1.1 6.4 4.2zM981.2 358.1l-6.3-4.2 5.1 1 6.3 4.3zM1078.5 43.2l6.8 4.5-4.7 1.6-6.8-4.4zM1082.7 42.3l6.9 4.4-4.7 1.7-6.8-4.5zM993.4 68.8l-7.1-6.4 4.7-1.7 7.2 6.5zM997.7 67.8l-7.2-6.4 4.8-1.6 7.2 6.5zM903.6 78.4l7.5 8.5-4.8 1.5-7.5-8.4z"/><path fill="#f00" d="M1006.7 63.6l-2.8 18.6-4.9 1.2 2.7-18.3zM809.9 240l.9 43.7-6-4.6-.4-40.7zM803.7 222.8l-.9-27.2 5-1.6 1.2 29.2zM806.6 152.8l1.5 41.9-5 1.6-1-39zM811.2 110.2l-3 13.5-4.1 6.3 3.2-12.7zM802.7 157.8l.7-28.1 4.1-6.4-.3 30.1zM814.4 240.9l1.3 45.2-5.6-2.3-1.1-43.8zM1010.8 62l-2.6 18.9-5.1 1.1 2.8-18.6zM1106.6 151.5l-2.6-51.1 5.1-.6 2.7 51.7zM808.2 223.2l-1.1-29.2 5.1-.5 1.3 30.1zM810.9 150.9l1.4 43.4-5.1 .5-1.3-42.1zM815.3 106.9l-3.3 14.2-4.7 2.5 3.3-13.8zM806.3 153.4l.5-30.3 4.8-2.7-.4 31.3zM907.1 101l3-16.5 4.9-1.7-3 16.8zM1007.5 117l-.4-36.9 5.1-1.2 .4 37.4zM819 241.7l1.5 46.3-5.5-1.9-1.4-45.2zM1015 60.6l-2.6 19.1-5 1.1 2.6-18.9zM1111 151.6l-2.7-51.7 5.2-.6 2.8 52.4zM812.7 223.6l-1.3-30.1 5.2-.4 1.4 30.9zM815.1 149.6l1.6 44.3-5.2 .4-1.4-43.4zM819.3 104.5l-3.2 14.6-4.9 1.9 3.3-14.3zM810.3 151.7l.5-31.4 4.9-2-.4 32zM911.2 99.4l3-16.7 5-1.5-3 17zM823.6 242.5l1.7 47.2-5.6-1.6-1.5-46.3zM1011.8 116.3l-.4-37.4 5-1.2 .5 38zM1019.2 59.2l-2.6 19.4-5 1 2.6-19.2zM1115.5 151.7l-2.8-52.4 5.1-.5 2.9 53zM817.2 224l-1.4-30.8 5.2-.3 1.5 31.4zM819.4 148.4l1.7 45.3-5.2 .3-1.6-44.4zM823.4 102.4l-3.2 14.9-4.9 1.6 3.3-14.7zM814.5 150.3l.4-32.1 5-1.7-.3 32.7zM920.2 96l.1 35.7-5.1 .8 0-35.2zM915.4 98l3-17 5-1.4-3 17.3zM1021.1 114.3l2.6 51.1-5.2-.1-2.5-50.4zM1120 151.1l5.2 0 1.4 22.4-5.3-.3zM828.1 243.3l1.9 48-5.5-1.5-1.7-47.2zM1016.1 115.7l-.5-38 5.1-1.1 .5 38.5zM1023.4 57.9l-2.6 19.6-5 .9 2.6-19.3zM1119.9 151.9l-2.9-53.1 5.2-.5 3 53.7zM821.7 224.4l-1.5-31.5 5.2-.2 1.6 32zM823.6 147.4l1.9 46.1-5.2 .2-1.7-45.3zM827.6 100.6l-3.3 15.1-4.9 1.4 3.3-14.9zM818.7 149.2l.4-32.7 4.9-1.6-.2 33.3zM924.4 94.8l.2 36.2-5.1 .7-.1-35.7zM919.6 96.7l3-17.2 5-1.4-3 17.5zM1025.5 113.7l2.7 51.7-5.3 0-2.6-51.1zM1124.4 151.2l5.3 .1 1.4 22.6-5.3-.3zM832.7 244l2 48.9-5.5-1.5-1.9-48.1zM1020.4 115.1l-.5-38.4 5-1.1 .7 38.9zM1027.7 56.6l-2.6 19.8-5 1 2.6-19.6zM1124.4 152l-3-53.6 5.1-.5 3.2 54.2zM826.2 224.8l-1.6-32 5.2-.2 1.7 32.5zM827.9 146.5l2 46.9-5.2 .2-1.9-46.2zM823 148.2l.3-33.3 4.9-1.5-.1 33.9zM831.7 98.9l-3.2 15.4-5 1.2 3.3-15.1zM928.6 93.6l.3 36.7-5.1 .7-.2-36.2zM923.8 95.5l3-17.5 5-1.2-2.9 17.7zM1029.8 113.2l2.8 52.3-5.2 0-2.7-51.7zM1128.9 151.3l5.2 .1 1.5 22.9-5.3-.3zM837.2 244.7l2.2 49.6-5.5-1.4-2-48.9zM1024.8 114.6l-.7-39 5.1-1 .7 39.4zM1031.9 55.4l-2.5 20-5.1 .9 2.6-19.8zM1128.9 152.1l-3.2-54.2 5.2-.5 3.2 54.8zM830.7 225.2l-1.7-32.6 5.3-.1 1.7 33zM832.2 145.7l2.1 47.6-5.2 .1-2-46.9zM827.3 147.3l.1-33.9 5.1-1.3-.1 34.4zM835.9 97.3l-3.2 15.7-5 1.1 3.3-15.4zM930.4 179.2l-2.4-49.7 5.1-.6 2.5 50.3zM1033.4 191.3l-1.6-26.5 5.3 0 1.6 26.8zM932.9 92.5l.3 37.2-5.1 .6-.2-36.7zM928.1 94.3l2.9-17.7 5-1.2-2.9 18zM1034.1 112.7l3 52.9-5.3 0-2.8-52.4zM1133.3 151.5l5.3 .1 1.5 23.1-5.3-.3zM841.8 245.4l2.2 50.3-5.4-1.3-2.2-49.7zM1029.1 114l-.7-39.4 5.1-1 .7 39.9zM1133.3 152.3l-3.2-54.8 5.1-.5 3.4 55.4zM1036.1 54.2l-2.5 20.3-5 .8 2.5-20zM835.2 225.6l-1.7-33.1 5.2-.1 1.8 33.5zM836.5 144.9l2.2 48.3-5.2 .1-2.1-47.6zM831.6 146.5l.1-34.4 5-1.3 0 34.9zM840.1 95.9l-3.2 15.8-5 1.1 3.2-15.7zM934.8 179.3l-2.5-50.4 5.2-.6 2.6 50.9zM1037.9 191.7l-1.6-26.8 5.2 0 1.7 27.1zM937.1 91.5l.5 37.6-5.2 .6-.3-37.2zM932.3 93.2l2.9-17.9 5-1.1-2.9 18.1zM1038.5 112.2l3 53.5-5.2 0-3-53zM1137.8 151.7l5.3 .1 1.5 23.3-5.3-.4zM846.3 246l2.4 51.1-5.5-1.3-2.2-50.4zM1033.4 113.5l-.7-39.8 5-1 .9 40.3zM1137.8 152.5l-3.4-55.4 5.2-.5 3.4 56zM1040.4 53l-2.5 20.5-5.1 .9 2.5-20.3zM839.7 226l-1.8-33.6 5.2-.1 1.9 34zM840.8 144.2l2.3 48.9-5.2 .1-2.2-48.3zM835.9 145.7l0-34.9 5-1.1 .1 35.3zM844.3 94.5l-3.2 16-5 1 3.2-15.8zM939.3 179.3l-2.6-51 5.1-.6 2.7 51.6zM1042.4 192.1l-1.7-27.1 5.3 0 1.7 27.4zM941.4 90.4l.5 38.1-5.1 .6-.4-37.6zM936.5 92.2l2.9-18.2 5-1.1-2.8 18.4zM1042.8 111.7l3.2 54.1-5.3 0-3-53.6zM1142.3 151.8l5.2 .1 1.6 23.6-5.3-.4zM850.9 246.7l2.5 51.7-5.5-1.3-2.4-51zM1037.8 113l-.9-40.3 5.1-.9 .9 40.7zM1142.2 152.6l-3.4-56 5.2-.4 3.5 56.5zM1044.6 51.9l-2.4 20.7-5.1 .8 2.5-20.5zM844.2 226.4l-1.9-34 5.2-.1 2 34.4zM845.2 143.5l2.3 49.6-5.2 .1-2.3-49zM943.7 178.5l5.2 0 2 31.3-5.3-.4zM840.2 145l-.1-35.4 5.1-1.1 .1 35.8zM848.5 93.1l-3.1 16.3-5.1 .9 3.2-16zM943.7 179.3l-2.7-51.6 5.1-.6 2.8 52.2zM1046.9 192.5l-1.7-27.4 5.2 0 1.8 27.7zM945.7 89.4l.5 38.5-5.1 .6-.5-38.1zM940.8 91.1l2.8-18.3 5-1.1-2.7 18.6zM1047.2 111.2l3.2 54.7-5.2 0-3.2-54.2zM1146.7 152l5.3 .1 1.6 23.8-5.3-.4zM855.4 247.4l2.6 52.3-5.4-1.2-2.5-51.8zM1042.1 112.5l-.9-40.7 5.1-.9 1 41.1zM1146.7 152.8l-3.5-56.6 5.1-.4 3.7 57.1zM1048.9 50.8l-2.5 20.9-5 .8 2.4-20.7zM848.7 226.8l-2-34.5 5.3 0 2 34.8zM849.5 142.9l2.5 50.2-5.3 0-2.3-49.6zM948.1 178.5l5.3 0 2 31.7-5.3-.4zM844.5 144.3l-.1-35.8 5-1.1 .2 36.3zM852.7 91.9l-3.1 16.4-5 .9 3.1-16.2zM948.1 179.3l-2.8-52.1 5.2-.6 2.9 52.7zM1051.4 192.9l-1.8-27.7 5.3 0 1.8 28zM949.9 88.5l.7 38.9-5.2 .5-.5-38.5zM945.1 90.1l2.8-18.5 5-1-2.8 18.7zM1051.6 110.8l3.3 55.2-5.3 0-3.2-54.7zM1151.2 152.1l5.2 .2 1.7 24-5.3-.4zM859.9 248l2.8 53-5.5-1.2-2.6-52.4zM1046.5 112.1l-1-41.2 5.1-.9 1 41.6zM1151.2 152.9l-3.7-57 5.2-.5 3.7 57.7zM1053.1 49.7l-2.4 21.2-5 .7 2.4-20.9zM853.2 227.1l-2-34.8 5.2-.1 2.1 35.3zM1160.7 324.4l3.4-18 5.5 1.8-3.4 18.1zM1168.8 268.7l.5 40.2-5.5-1.6-.4-39.8zM853.8 142.2l2.6 50.8-5.2 .1-2.5-50.2zM952.6 178.6l5.2 0 2.1 31.9-5.3-.3zM848.8 143.7l-.2-36.3 5.1-1 .2 36.6zM857 90.6l-3.2 16.6-5 .9 3.2-16.4zM952.6 179.4l-2.9-52.8 5.1-.6 3 53.4zM1055.9 193.3l-1.8-28 5.2 0 1.9 28.3zM954.2 87.5l.7 39.4-5.1 .5-.7-38.9zM949.3 89.2l2.8-18.8 5-1-2.7 19zM1055.9 110.3l3.4 55.8-5.2 0-3.3-55.3zM1155.6 152.3l5.3 .1 1.7 24.3-5.3-.4zM864.5 248.7l2.8 53.6-5.4-1.3-2.7-52.9zM1050.8 111.6l-1-41.6 5.1-.8 1.1 41.9zM1155.6 153.1l-3.7-57.6 5.2-.5 3.8 58.2zM1057.4 48.7l-2.4 21.3-5.1 .8 2.4-21.2zM857.7 227.5l-2.1-35.2 5.2-.1 2.2 35.7zM1165.4 326.2l3.4-18.1 5.5 1.8-3.3 18.2zM1173.5 270l.5 40.5-5.5-1.6-.5-40.1zM858.1 141.6l2.7 51.4-5.2 .1-2.6-50.8zM957 178.6l5.3 0 2.1 32.3-5.3-.3zM853.1 143l-.2-36.6 5-1.1 .3 37.1zM861.2 89.4l-3.1 16.8-5 .9 3.1-16.6zM957 179.4l-3-53.3 5.2-.6 3.1 54zM1060.4 193.7l-1.9-28.3 5.3 .1 1.9 28.5zM958.5 86.6l.8 39.7-5.2 .6-.7-39.4zM1060.3 109.9l3.5 56.4-5.3-.1-3.4-55.8zM953.6 88.2l2.7-18.9 5.1-1-2.7 19.2zM1160.1 152.5l5.3 .1 1.7 24.4-5.3-.3zM869 249.3l3 54.2-5.5-1.2-2.8-53.6zM1055.2 111.2l-1.1-42 5.1-.9 1.2 42.4zM1160.1 153.3l-3.8-58.2 5.1-.4 3.9 58.7zM1061.6 47.6l-2.3 21.6-5.1 .7 2.4-21.3zM862.2 227.9l-2.2-35.6 5.2-.1 2.3 36.1zM1170.2 328l3.3-18.3 5.5 1.8-3.3 18.4zM1178.1 271.3l.6 40.9-5.5-1.6-.5-40.6zM862.5 141l2.7 52-5.2 .1-2.7-51.4zM961.5 178.7l5.2 0 2.2 32.6-5.3-.3zM857.4 142.4l-.3-37 5.1-1 .4 37.5zM865.4 88.3l-3 16.9-5.1 .8 3.1-16.7zM961.5 179.5l-3.1-53.9 5.1-.6 3.2 54.5zM1064.9 194l-1.9-28.5 5.2 .1 2 28.8zM962.8 85.7l.8 40.2-5.1 .5-.8-39.8zM1064.6 109.5l3.6 56.9-5.2-.1-3.5-56.3zM957.9 87.3l2.7-19.1 5-.9-2.7 19.3zM1164.6 152.7l5.2 .1 1.8 24.6-5.3-.3zM873.6 249.9l3 54.8-5.4-1.2-3-54.2zM1081.8 324l-3 19.9-5.6-1.9 3.1-19.8zM1059.6 110.7l-1.2-42.4 5-.8 1.3 42.8zM1164.5 153.5l-3.9-58.8 5.2-.4 4 59.3zM1076 323l-.7-41.3 5.5 1.2 .7 41.7zM1065.9 46.6l-2.3 21.7-5.1 .8 2.3-21.6zM866.7 228.3l-2.3-36 5.3-.1 2.3 36.5zM1174.9 329.7l3.3-18.3 5.5 1.7-3.3 18.5zM1182.8 272.5l.6 41.3-5.5-1.6-.6-40.9zM866.8 140.5l2.9 52.5-5.3 .1-2.7-52zM965.9 178.8l5.3 0 2.2 32.9-5.3-.3zM1177.1 272.1l-3.4-56.8 5.4 .7 3.5 57.3zM861.8 141.9l-.4-37.5 5.1-1 .4 37.9zM869.7 87.1l-3.1 17.2-5 .8 3-17zM965.9 179.6l-3.2-54.5 5.2-.5 3.2 55zM1069.4 194.4l-2-28.8 5.3 .1 2 29.1zM1176.1 177l2.9 39.8-5.4-.7-2.8-39.4zM967.1 84.8l.9 40.6-5.2 .5-.8-40.2zM1069 109.1l3.7 57.4-5.3-.1-3.6-56.9zM962.1 86.4l2.7-19.3 5.1-.9-2.7 19.5zM878.1 250.6l3.2 55.3-5.5-1.1-3-54.8zM1086.5 325.6l-3 20.1-5.5-1.9 3-20zM1080.7 324.7l-.7-41.7 5.4 1.2 .8 42.1zM1063.9 110.3l-1.3-42.8 5.1-.8 1.4 43.2zM1070.1 45.6l-2.2 21.9-5.1 .7 2.3-21.7zM871.2 228.7l-2.3-36.4 5.2-.1 2.4 36.9zM871.2 139.9l2.9 53.1-5.2 .1-2.9-52.6zM970.4 178.8l5.2 0 2.3 33.3-5.3-.3zM866.1 141.3l-.4-37.9 5-1 .6 38.3zM873.9 86l-3 17.3-5.1 .8 3.1-17.1zM970.3 179.6l-3.2-55 5.1-.5 3.4 55.6zM1073.9 194.8l-2-29 5.3 0 2 29.4zM971.3 84l1 40.9-5.1 .5-.9-40.6zM882.7 251.2l3.2 55.9-5.4-1.1-3.2-55.4zM966.4 85.6l2.7-19.5 5-1-2.6 19.7zM1091.2 327.2l-3 20.3-5.5-1.9 3-20.1zM1085.4 326.3l-.8-42.1 5.5 1.2 .8 42.5zM1074.4 44.6l-2.2 22.1-5.1 .7 2.2-21.9zM875.7 229.1l-2.4-36.8 5.3-.1 2.4 37.3zM875.5 139.4l3 53.6-5.2 .1-2.9-53.1zM974.8 178.9l5.3 0 2.3 33.6-5.3-.3zM870.5 140.8l-.6-38.3 5.1-1 .6 38.7zM878.2 84.9l-3 17.5-5.1 .8 3-17.3zM974.8 179.7l-3.4-55.6 5.2-.5 3.4 56.1zM1078.4 195.2l-2-29.3 5.2 .1 2.1 29.6zM985.7 359.5l2.8-21.7 5.5 1.7-2.7 21.9zM975.6 83.1l1.1 41.3-5.2 .5-.9-40.9zM887.2 251.8l3.3 56.5-5.4-1.1-3.2-56zM970.7 84.7l2.6-19.7 5.1-.9-2.6 19.9zM1095.9 328.8l-2.9 20.5-5.6-1.9 3-20.3zM1090.1 327.9l-.8-42.5 5.4 1.2 .9 42.9zM1078.7 43.6l-2.2 22.3-5.1 .7 2.2-22.1zM880.2 229.5l-2.4-37.2 5.2 0 2.5 37.5zM1090.9 229.2l3.6 58.2-5.4-1.2-3.6-57.6zM879.8 138.9l3.2 54.2-5.3 0-3-53.7zM979.3 179l5.2 0 2.4 33.9-5.3-.3zM1083 194.8l5.3 .4 2.5 34.8-5.4-.7zM874.8 140.2l-.6-38.7 5.1-.9 .6 39.1zM882.4 83.9l-3 17.6-5 .7 3-17.4zM979.2 179.8l-3.4-56.1 5.1-.5 3.6 56.6zM990.5 361.3l2.7-21.9 5.5 1.7-2.7 22.1zM979.9 82.3l1.1 41.7-5.1 .5-1.1-41.4zM891.7 252.4l3.5 57.1-5.5-1.1-3.3-56.5zM975 83.8l2.6-19.8 5.1-.9-2.6 20zM1082.9 42.7l-2.1 22.4-5.1 .7 2.2-22.3zM884.7 229.9l-2.5-37.6 5.2 0 2.6 37.9zM884.2 138.4l3.2 54.7-5.2 0-3.2-54.2zM983.7 179.1l5.2 0 2.5 34.2-5.3-.3zM879.1 139.7l-.6-39.1 5.1-.9 .7 39.5zM886.7 82.8l-3 17.8-5 .7 2.9-17.6zM995.2 363.1l2.7-22.1 5.5 1.7-2.7 22.3zM1002 299.4l1.1 44-5.5-1.6-1-43.5zM984.2 81.4l1.2 42.1-5.2 .5-1.1-41.7zM896.3 253l3.5 57.7-5.4-1.1-3.5-57.1zM979.3 83l2.6-20 5-.9-2.5 20.2zM889.2 230.3l-2.6-38 5.3 0 2.6 38.3zM888.5 137.9l3.4 55.2-5.3 0-3.2-54.7zM883.5 139.2l-.7-39.5 5.1-.8 .7 39.8zM890.9 81.8l-2.9 17.9-5.1 .8 3-17.8zM1000 364.9l2.6-22.3 5.5 1.7-2.6 22.4zM1006.6 300.6l1.2 44.4-5.5-1.6-1.1-43.9zM900.8 253.7l3.6 58.1-5.4-1.1-3.5-57.6zM983.6 82.2l2.5-20.2 5.1-.9-2.5 20.4zM1001 300.2l-3.7-58.4 5.4 .6 3.7 59zM893.7 230.7l-2.6-38.3 5.2-.1 2.7 38.7zM1000.4 213.3l2.1 29.9-5.3-.6-2.1-29.7zM892.9 137.4l3.4 55.7-5.2 .1-3.4-55.3zM887.8 138.7l-.7-39.8 5-.9 .9 40.2zM895.2 80.8l-2.9 18.1-5.1 .7 2.9-18zM905.3 254.3l3.8 58.7-5.5-1.1-3.6-58.2zM898.2 231.1l-2.7-38.7 5.2 0 2.8 39zM892.2 138.2l-.9-40.2 5.1-.9 .9 40.6zM899.5 79.8l-2.9 18.2-5.1 .7 2.9-18.1zM909.9 254.9l3.8 59.2-5.4-1.1-3.8-58.7zM903.7 78.8l-2.8 18.4-5.1 .7 2.9-18.3zM914.4 255.5l3.9 59.8-5.4-1.1-3.8-59.3zM907.3 231.1l5.3 .3 1.7 24.9-5.3-.6z"/><path fill="#0e0" d="M809.7 239.1l.8 41.8-5.6-1.7-.6-40.8zM814.2 239.8l.9 42.4-5.4-1.3-.8-41.8zM818.7 240.4l1.1 42.9-5.5-1.1-.9-42.4zM823.3 241l1.1 43.4-5.4-1.1-1.1-42.9zM827.8 241.5l1.2 43.9-5.4-1-1.1-43.4zM832.3 242.1l1.3 44.3-5.4-1-1.2-43.8zM836.9 242.7l1.3 44.7-5.4-1-1.3-44.3zM841.4 243.2l1.4 45.1-5.4-.9-1.3-44.7zM845.9 243.8l1.5 45.5-5.4-1-1.4-45.1zM850.4 244.3l1.6 45.9-5.4-.9-1.5-45.5zM855 244.9l1.6 46.2-5.4-.9-1.6-45.8zM859.5 245.4l1.7 46.6-5.4-.8-1.6-46.3zM864 246l1.8 46.9-5.4-.8-1.7-46.7zM1161.8 304.5l3.6-15.7 5.5 1.3-3.7 15.8zM868.5 246.5l1.9 47.3-5.4-.8-1.8-47zM1166.4 305.7l3.7-15.7 5.4 1.3-3.7 15.9zM873.1 247l1.8 47.7-5.3-.8-1.9-47.4zM1171.1 307l3.6-15.9 5.4 1.4-3.6 15.9zM1180.3 258l-.4 35.2-5.4-1.2 .4-35zM1174.7 257.9l-2-48.4 5.4 .6 2 48.7zM1176.1 177l1.9 33.8-5.4-.5-1.8-33.6zM877.6 247.6l1.9 48-5.4-.8-1.8-47.7zM1083.1 306.2l-3.4 17.4-5.4-1.4 3.4-17.3zM882.1 248.1l2 48.4-5.4-.8-1.9-48.1zM1087.8 307.3l-3.4 17.6-5.4-1.4 3.3-17.5zM886.6 248.6l2.1 48.8-5.4-.8-2-48.5zM1092.4 308.5l-3.4 17.6-5.4-1.4 3.4-17.5zM1086.8 308l.1-36.2 5.4 .9-.1 36.5zM1090 224l2.1 49.5-5.3-.9-2.2-49.1zM1083 194.8l5.3 .4 1.6 29.6-5.4-.5zM891.2 249.2l2.1 49.1-5.4-.9-2.1-48.7zM986.8 339.8l3.2-19 5.4 1.3-3.1 19.1zM895.7 249.7l2.2 49.5-5.4-.9-2.1-49.1zM991.5 341l3.1-19 5.4 1.2-3.1 19.2zM900.2 250.2l2.2 49.8-5.3-.8-2.2-49.5zM996.1 342.3l3.1-19.2 5.4 1.3-3 19.3zM1004.3 287.3l.1 37.8-5.4-1.1-.1-37.6zM998.8 287.2l-2.2-49.8 5.3 .5 2.3 50.2zM1000.4 213.3l1.4 25.4-5.3-.5-1.4-25.3zM904.7 250.8l2.3 50.1-5.4-.8-2.2-49.8zM909.3 251.3l2.3 50.5-5.4-.9-2.3-50.1zM913.8 251.8l2.4 50.8-5.4-.8-2.3-50.5zM907.3 231.1l5.3 .3 1.1 21.2-5.3-.5z"/><path fill="#ff0" d="M809.6 238.9l.8 41.1-5.4-.8-.7-40.8zM814.1 239.4l.8 41.4-5.3-.8-.8-41.1zM818.6 239.8l.9 41.7-5.4-.7-.8-41.4zM823.2 240.3l.9 41.9-5.4-.7-.9-41.6zM827.7 240.8l.9 42.2-5.3-.7-.9-41.9zM832.2 241.3l1 42.4-5.4-.7-.9-42.2zM836.7 241.8l1 42.6-5.3-.7-1-42.4zM841.2 242.3l1.1 42.8-5.4-.7-1-42.6zM845.7 242.8l1.1 43-5.3-.7-1.1-42.8zM850.3 243.3l1.1 43.2-5.4-.7-1.1-43zM854.8 243.7l1.1 43.5-5.3-.7-1.1-43.2zM859.3 244.2l1.2 43.7-5.4-.7-1.1-43.4zM863.8 244.7l1.2 43.9-5.3-.7-1.2-43.7zM868.3 245.2l1.3 44.1-5.4-.7-1.2-43.9zM1164.6 294.8l3.8-14.6 5.4 1.1-3.9 14.7zM872.8 245.7l1.3 44.3-5.3-.6-1.3-44.2zM1179 250.8l-.8 32.1-5.4-.9 .8-32zM1169.2 295.8l3.8-14.7 5.3 1.1-3.8 14.7zM1173.5 250.8l-1.3-44.2 5.4 .5 1.3 44.4zM1176.1 177l1.4 30.9-5.4-.5-1.3-30.7zM877.3 246.1l1.4 44.6-5.4-.6-1.3-44.4zM881.9 246.6l1.4 44.8-5.4-.6-1.4-44.6zM1086.1 297.5l-3.6 16.2-5.4-1.2 3.6-16zM886.4 247.1l1.4 45-5.3-.6-1.4-44.8zM1090.6 298.4l-3.5 16.2-5.4-1.1 3.6-16.1zM1085.1 298.2l.6-33.2 5.4 .8-.6 33.3zM1089.5 221.4l1.5 45.2-5.4-.8-1.4-44.9zM1083 194.8l5.3 .4 1.1 27-5.3-.5zM890.9 247.6l1.5 45.2-5.4-.6-1.4-45.1zM895.4 248.1l1.5 45.4-5.3-.6-1.5-45.3zM989.7 330.2l3.3-17.6 5.3 1-3.3 17.7zM899.9 248.6l1.6 45.6-5.4-.6-1.5-45.5zM994.2 331.1l3.4-17.6 5.3 1-3.3 17.7zM1003.2 280.7l-.4 34.5-5.4-.9 .4-34.3zM997.7 280.8l-1.5-45.5 5.3 .4 1.6 45.8zM1000.4 213.3l1 23.2-5.3-.4-1-23.2zM904.4 249l1.6 45.9-5.3-.6-1.6-45.7zM909 249.5l1.6 46.2-5.4-.7-1.6-45.9zM913.5 250l1.6 46.4-5.3-.7-1.6-46.1zM907.3 231.1l5.3 .3 .8 19.4-5.3-.4z"/><path fill="#00f" d="M809.6 238.8l.8 41-5.4-.6-.7-40.8zM803.8 222l5.3 .4 .4 17.2-5.3-.4zM814.1 239.3l.8 41.2-5.3-.6-.8-41.1zM808.3 222.4l5.3 .4 .4 17.3-5.3-.5zM818.6 239.7l.8 41.4-5.3-.6-.8-41.2zM812.8 222.8l5.3 .4 .4 17.3-5.3-.4zM823.1 240.2l.9 41.5-5.4-.6-.8-41.4zM817.3 223.2l5.3 .4 .4 17.4-5.3-.5zM827.6 240.6l.9 41.7-5.3-.6-.9-41.5zM821.8 223.6l5.3 .4 .5 17.4-5.3-.4zM1131.1 173.1l1 28.8-5.3-.5-1-28.6zM832.2 241.1l.8 41.9-5.3-.7-.9-41.6zM826.3 224l5.3 .3 .5 17.6-5.3-.4zM1135.6 173.5l1 28.9-5.3-.5-1-28.8zM836.7 241.6l.9 42-5.4-.6-.8-41.9zM830.8 224.4l5.3 .3 .5 17.7-5.3-.5zM1136.8 243.2l-.9-41.6 5.3 .5 .9 41.8zM1140.1 173.9l1.1 29-5.4-.5-1-28.9zM841.2 242l.9 42.2-5.3-.6-.9-42zM835.3 224.8l5.3 .3 .5 17.7-5.3-.4zM1038 190.9l5.3 .3 .8 25.3-5.3-.5zM1141.3 243.9l-.9-41.8 5.4 .5 .9 42zM1144.6 174.3l1.1 29.1-5.3-.5-1.1-29zM845.7 242.5l1 42.3-5.4-.6-.9-42.2zM839.8 225.2l5.3 .3 .5 17.8-5.3-.5zM1048.7 216.2l1 42.2-5.4-.6-.9-42.1zM1151.3 244.5l-1.1 30.4-5.3-.8 1.1-30.3zM1042.5 191.3l5.3 .3 .9 25.4-5.4-.5zM1145.9 244.6l-.9-41.9 5.3 .4 .9 42.1zM1149.1 174.7l1.1 29.2-5.3-.4-1.1-29.2zM850.2 242.9l1 42.6-5.3-.6-1-42.4zM844.3 225.6l5.3 .3 .5 17.8-5.3-.4zM1053.3 216.7l.9 42.4-5.3-.7-1-42.2zM1155.9 245.1l-1.1 30.6-5.4-.8 1.1-30.5zM1047 191.7l5.3 .3 .9 25.5-5.3-.5zM1150.4 245.2l-.9-42 5.3 .5 1 42.2zM1153.6 175.1l1.1 29.3-5.3-.4-1.1-29.3zM854.7 243.4l1.1 42.7-5.4-.6-1-42.5zM848.8 225.9l5.3 .4 .5 17.9-5.3-.4zM955.4 209.4l.8 21.7-5.4-.5-.7-21.6zM1057.8 217.2l1 42.5-5.4-.6-.9-42.4zM1160.4 245.8l-1 30.7-5.4-.8 1.1-30.6zM1051.5 192.1l5.3 .3 .9 25.6-5.3-.5zM1155 245.9l-1-42.2 5.3 .5 1 42.4zM1158.1 175.5l1.1 29.4-5.3-.4-1.1-29.4zM859.2 243.9l1.1 42.8-5.3-.6-1.1-42.7zM853.3 226.3l5.3 .4 .5 18-5.3-.5zM956.5 272.9l-1.1-42.6 5.4 .4 1 42.9zM1057.2 290.4l.9-31.4 5.3 .6-.8 31.7zM959.9 209.8l.8 21.7-5.3-.4-.8-21.7zM1062.3 217.7l1 42.7-5.3-.6-1-42.6zM1165 246.5l-1 30.8-5.4-.8 1-30.7zM1056 192.5l5.3 .3 .9 25.7-5.3-.5zM1154.8 289.7l3.9-14.1 5.4 1-3.9 14.2zM1159.5 246.6l-1-42.4 5.3 .5 1.1 42.6zM1162.6 175.9l1.1 29.6-5.3-.5-1.1-29.5zM863.7 244.3l1.1 43.1-5.3-.6-1.1-42.9zM857.8 226.7l5.3 .4 .6 18-5.4-.4zM961 273.6l-1-42.8 5.3 .4 1.1 43zM1061.8 291.2l.8-31.6 5.4 .7-.9 31.7zM964.4 210.2l.8 21.8-5.3-.4-.8-21.8zM1066.8 218.2l1.1 42.9-5.4-.7-1-42.7zM1169.5 247.2l-1 30.9-5.3-.8 1-30.8zM1159.4 290.6l3.9-14.2 5.3 1-3.8 14.2zM1060.5 192.8l5.3 .4 .9 25.8-5.3-.5zM1164.1 247.3l-1.1-42.6 5.4 .5 1 42.7zM1167.1 176.3l1.2 29.7-5.3-.5-1.2-29.6zM868.2 244.8l1.2 43.2-5.4-.6-1.1-43zM862.3 227.1l5.3 .4 .6 18.1-5.3-.4zM965.6 274.2l-1.1-43 5.3 .5 1.1 43.2zM1066.3 292l.9-31.7 5.3 .7-.8 31.8zM968.9 210.5l.8 22-5.3-.5-.8-21.8zM1071.3 218.7l1.1 43-5.3-.6-1.1-42.9zM1174.1 247.9l-1 31-5.4-.8 1-31zM1164 291.4l3.9-14.2 5.3 1-3.9 14.3zM1065 193.2l5.3 .4 .9 25.9-5.3-.5zM1168.6 248l-1-42.8 5.3 .5 1.1 42.9zM1171.6 176.7l1.2 29.8-5.3-.5-1.2-29.7zM872.8 245.3l1.1 43.3-5.3-.6-1.2-43.2zM975.6 274.7l-.7 32.8-5.4-.8 .7-32.6zM866.8 227.5l5.3 .4 .6 18.2-5.3-.5zM970.1 274.9l-1.1-43.2 5.3 .5 1.1 43.3zM1070.9 292.8l.8-31.9 5.4 .7-.8 32zM1076.4 292.9l-3.6 15.6-5.4-1 3.6-15.6zM973.4 210.9l.8 22.1-5.3-.5-.8-21.9zM1075.8 219.2l1.2 43.2-5.4-.6-1.1-43.1zM1178.6 248.5l-.9 31.2-5.4-.8 1-31.1zM1168.6 292.3l3.8-14.3 5.4 1-3.9 14.4zM1069.5 193.6l5.3 .4 1 25.9-5.4-.4zM1173.2 248.6l-1.1-42.9 5.3 .5 1.1 43.1zM1176.1 177l1.2 30-5.3-.5-1.2-29.8zM1170.1 158.7l5.2 .3 .8 18.8-5.3-.3zM1170 159.5l-1.4-44.7 5.2 .1 1.5 44.9zM877.3 245.7l1.2 43.6-5.4-.6-1.1-43.4zM980.1 275.4l-.7 32.8-5.3-.8 .7-32.7zM871.3 227.9l5.3 .4 .6 18.2-5.3-.4zM974.6 275.5l-1.1-43.3 5.3 .5 1.2 43.5zM1075.5 293.6l.8-32 5.3 .7-.8 32.1zM1081 293.7l-3.7 15.7-5.3-1.1 3.6-15.6zM977.9 211.3l.8 22.1-5.3-.4-.8-22zM1080.4 219.7l1.1 43.4-5.3-.7-1.2-43.2zM1074 194l5.3 .4 1 26-5.3-.4zM881.8 246.2l1.2 43.7-5.3-.6-1.2-43.5zM984.6 276l-.6 33-5.4-.8 .7-32.8zM875.8 228.3l5.3 .4 .6 18.3-5.3-.4zM979.2 276.2l-1.2-43.5 5.3 .4 1.2 43.7zM1080 294.4l.8-32.1 5.4 .7-.8 32.2zM1085.5 294.5l-3.6 15.7-5.3-1 3.6-15.7zM982.4 211.7l.8 22.2-5.3-.4-.8-22.1zM1084.9 220.1l1.2 43.6-5.4-.6-1.1-43.4zM1078.5 194.4l5.3 .4 1 26.1-5.3-.4zM886.3 246.7l1.2 43.9-5.3-.7-1.2-43.7zM979.9 325.1l3.4-17 5.4 1-3.4 17zM989.2 276.7l-.6 33.1-5.4-.8 .6-33zM880.3 228.7l5.3 .4 .6 18.3-5.3-.4zM983.7 276.8l-1.2-43.6 5.3 .4 1.3 43.9zM1084.6 295.2l.8-32.2 5.3 .6-.7 32.4zM1090.1 295.3l-3.6 15.8-5.4-1.1 3.6-15.7zM986.9 212.1l.9 22.3-5.4-.4-.8-22.2zM1089.4 220.6l1.2 43.8-5.3-.6-1.2-43.6zM1083 194.8l5.3 .4 1 26.2-5.3-.4zM890.8 247.1l1.3 44.1-5.4-.6-1.2-43.9zM984.5 326l3.4-17.1 5.4 1-3.4 17.1zM993.7 277.4l-.6 33.2-5.3-.8 .6-33.1zM884.8 229.1l5.3 .4 .6 18.4-5.3-.4zM988.3 277.5l-1.3-43.9 5.4 .5 1.2 44zM991.4 212.5l.9 22.4-5.3-.5-.9-22.2zM895.3 247.6l1.3 44.2-5.3-.6-1.3-44.1zM989.1 326.8l3.4-17.1 5.3 1-3.3 17.1zM998.3 278l-.6 33.4-5.4-.8 .6-33.3zM889.3 229.5l5.3 .3 .6 18.6-5.3-.5zM992.8 278.2l-1.2-44.1 5.3 .5 1.3 44.2zM995.9 212.9l.9 22.5-5.3-.5-.9-22.4zM899.8 248.1l1.4 44.4-5.4-.6-1.3-44.3zM993.7 327.7l3.3-17.2 5.4 1-3.4 17.2zM1002.8 278.7l-.5 33.5-5.4-.8 .6-33.4zM893.8 229.9l5.3 .3 .7 18.6-5.4-.4zM997.4 278.8l-1.3-44.2 5.3 .5 1.3 44.3zM1000.4 213.3l.9 22.5-5.3-.4-.9-22.5zM904.3 248.5l1.4 44.6-5.3-.6-1.4-44.4zM898.3 230.3l5.3 .3 .7 18.7-5.3-.4zM908.9 249l1.4 44.8-5.4-.7-1.4-44.6zM902.8 230.7l5.3 .3 .7 18.8-5.3-.5zM913.4 249.4l1.4 45-5.3-.6-1.4-44.8zM907.3 231.1l5.3 .3 .7 18.8-5.3-.4z"/><path fill="#00e" d="M1086.4 183.1l-1-4.2 5.2 .1 1 4.3zM1085.3 179.7l-13.1-42.5 5.2 0 13.2 42.6zM1090.9 183.5l-1-4.3 5.2 .2 1 4.3zM1089.8 180l-13.1-42.6 5.2 0 13.2 42.8zM1095.4 183.9l-1-4.3 5.2 .2 1 4.3zM1094.3 180.4l-13.2-42.8 5.3 0 13.2 43zM1074.5 103.4l11.8 35-5.2 0-11.8-34.8zM1099.9 184.3l-1-4.3 5.2 .1 1 4.3zM990.6 158.4l13.2 43-5.3-.2-13.2-42.8zM1098.8 180.8l-13.2-43 5.2 0 13.2 43.1zM1078.9 103.4l11.9 35.1-5.2 .1-11.9-34.9zM1104.4 184.7l-1-4.3 5.2 .1 1 4.3zM995.1 158.6l13.2 43.2-5.3-.2-13.2-42.9zM1103.3 181.2l-13.2-43.2 5.2 0 13.2 43.3zM1083.3 103.5l11.9 35.2-5.2 .1-11.9-35.1zM1108.9 185.1l-1.1-4.3 5.3 .1 1 4.3zM999.5 158.8l13.3 43.4-5.3-.2-13.2-43.1zM1107.8 181.6l-13.3-43.4 5.3 0 13.2 43.5zM994.3 159.7l-12-35.7 5.2-.2 12 35.8zM910.7 219.4l-12.2-39.7 5.3 0 12.1 39.8zM1087.8 103.5l11.9 35.4-5.2 .1-11.9-35.2zM1113.4 185.5l-1.1-4.4 5.3 .2 1 4.3zM1004 159.1l13.3 43.5-5.3-.2-13.2-43.3zM1082.6 104.6l-9.5-21.1 5.1-.3 9.6 21.1zM1112.3 181.9l-13.3-43.5 5.2-.1 13.3 43.8zM998.7 159.9l-12-35.9 5.2-.2 12 36zM915.2 219.8l-12.2-39.8 5.2 0 12.2 39.9zM1092.2 103.6l12 35.5-5.2 .1-12-35.4zM1117.9 185.9l-1.1-4.4 5.3 .2 1 4.3zM1008.5 159.3l13.3 43.7-5.3-.2-13.3-43.5zM1087 104.6l-9.5-21.1 5.2-.4 9.5 21.2zM1116.8 182.3l-13.3-43.7 5.2-.1 13.3 44zM1003.2 160.1l-12-36 5.2-.2 12 36.2zM919.7 220.1l-12.2-39.9 5.2 0 12.2 40.1zM1157.1 263.5l9.8 24.1-5.3-.5-9.8-24zM1096.7 103.6l11.9 35.7-5.2 .1-11.9-35.6zM1122.4 186.3l-1.1-4.4 5.3 .1 1 4.4zM1012.9 159.5l13.4 43.9-5.3-.2-13.3-43.7zM1151.6 263.8l-12.2-37.6 5.3 .3 12.2 37.8zM900.5 144.3l12.2 36.7-5.3 0-12.1-36.5zM1121.3 182.7l-13.4-43.9 5.2-.1 13.4 44.1zM1007.7 160.3l-12.1-36.1 5.2-.2 12.1 36.3zM1132.2 186l12.4 41.3-5.3-.3-12.4-41.1zM924.2 220.5l-12.3-40.1 5.3 0 12.2 40.3zM1101.1 103.7l12 35.8-5.2 .1-12-35.7zM991 102.3l9.8 22.4-5.2 .3-9.7-22.4zM1017.4 159.7l13.4 44.1-5.3-.2-13.3-43.9zM905 144.3l12.1 36.9-5.2 0-12.2-36.7zM1012.1 160.5l-12.1-36.3 5.2-.2 12.2 36.5zM928.7 220.9l-12.3-40.3 5.2 0 12.3 40.5zM995.5 102.2l9.7 22.6-5.1 .3-9.8-22.5zM1021.9 159.9l13.4 44.2-5.3-.1-13.4-44.1zM909.4 144.4l12.2 37-5.2 0-12.2-36.8zM1074.5 306.4l-9.7-22.8 5.3 .4 9.7 22.9zM1016.6 160.7l-12.1-36.4 5.2-.2 12.1 36.6zM933.2 221.3l-12.3-40.4 5.2-.1 12.3 40.7zM1057.9 248l12.1 36.9-5.3-.5-12.1-36.8zM1026.3 160.1l13.5 44.4-5.3-.1-13.4-44.3zM913.8 144.5l12.3 37.1-5.3 .1-12.2-37zM1052.5 248.4l-13.4-44.4 5.2 .1 13.5 44.7zM1021.1 160.9l-12.2-36.6 5.2-.2 12.2 36.8zM908.6 145.5l-9.9-23.6 5.2-.4 9.9 23.7zM937.7 221.7l-12.4-40.6 5.3 0 12.3 40.8zM918.3 144.5l12.2 37.4-5.2 0-12.2-37.2zM913.1 145.6l-10-23.8 5.2-.3 10 23.8zM942.2 222.1l-12.4-40.8 5.2 0 12.4 41zM983.1 304.5l9.5 21.5-5.4-.5-9.4-21.4zM922.7 144.6l12.3 37.5-5.2 0-12.3-37.3zM977.7 304.8l-11.9-35.8 5.3 .3 11.9 36zM946.7 222.5l-12.4-41 5.2 0 12.4 41.2zM957.6 225.9l13.4 44.2-5.3-.3-13.4-44.1zM927.2 144.7l12.3 37.6-5.3 0-12.2-37.4z"/><path fill="#d00" d="M1160.8 324.7l-7-8.2 5.3 1.2 7 8.3zM1165.5 326.5l-7-8.3 5.3 1.2 7 8.3zM1170.3 328.3l-7.1-8.4 5.3 1.2 7.1 8.4zM1071.9 337.3l6.7 6.3-5.2-1.2-6.7-6.2zM1175 330.1l-7.1-8.5 5.3 1.2 7.1 8.5zM1076.6 339l6.8 6.4-5.3-1.2-6.7-6.3zM1081.4 340.7l6.7 6.4-5.2-1.1-6.8-6.4zM986 359.9l-6.4-4.2 5.1 1 6.4 4.3zM1086.1 342.4l6.7 6.5-5.2-1.1-6.7-6.5zM990.7 361.7l-6.4-4.3 5.1 1 6.4 4.4zM995.4 363.5l-6.3-4.4 5.1 1.1 6.3 4.4zM1000.2 365.3l-6.4-4.4 5.1 1 6.4 4.4zM907.9 77.4l7.5 8.6-4.8 1.5-7.6-8.5z"/><path fill="#e00" d="M1152.5 288.3l11.1 32-5.5-1.5-11-31.6zM1146.8 287.9l-14.2-49.5 5.4 .7 14.3 50zM1157.2 289.7l11.1 32.3-5.4-1.5-11.2-31.9zM1123.2 185.2l14.7 54.7-5.4-.7-14.6-54.1zM1151.5 289.3l-14.3-50 5.4 .7 14.3 50.5zM1127.7 185.6l14.7 55.2-5.3-.7-14.7-54.7zM1071 338.5l-10.8-30 5.5 1.2 10.8 30.2zM1051.4 261.6l14 48.9-5.4-1.2-14-48.4zM1126.9 186.6l-1.3-5.6 5.3 .2 1.2 5.6zM1125.6 181.8l-16-59.1 5.1-.5 16.1 59.7zM1045.9 261.7l-15.8-58.5 5.2 .2 15.9 59zM1100.5 74.5l14.3 48.5-5.2 .5-14.2-48.2zM1050.5 262.6l-15.9-59 5.2 .2 16 59.6zM978.8 330.9l10.5 28.5-5.4-1.5-10.5-28.2zM973.2 330.5l-13.8-47.2 5.4 .8 13.8 47.6zM1028.1 144.8l16.2 60.1-5.3-.1-16.1-59.7zM948.8 226.3l15.8 58.6-5.4-.8-15.7-58.1zM998.2 66.6l11.2 30.5-5 1-11.3-30.3zM1023 146l-14.4-49.4 5.1-.8 14.4 49.8zM953.3 226.7l15.9 59.2-5.4-.8-15.8-58.6zM1002.4 65.7l11.4 30.8-5.1 .9-11.3-30.5zM947.9 227.3l-1.2-5.6 5.3 .2 1.2 5.6zM913.2 120l-11.4-31.6 5-1.2 11.5 32zM951.1 222.9l-14.8-55.2 5.2-.3 14.9 55.7zM917.5 119.4l-11.5-32 5.1-1.1 11.5 32.2zM926.8 117.2l14.7 51-5.2 .3-14.6-50.5zM921.9 118.8l-11.6-32.3 5-1.1 11.6 32.6z"/><path fill="#0c0" d="M1166.5 306.1l-6.9-7 5.2 .6 6.9 7.1zM1171.2 307.4l-6.9-7.1 5.1 .6 7 7.2zM1073 317.8l6.6 5.4-5.1-.6-6.6-5.3zM1077.6 319.1l6.6 5.4-5.1-.6-6.6-5.4zM1082.3 65.8l6.7 3.7-4.7 1.2-6.6-3.7zM1082.2 320.3l6.7 5.4-5.1-.6-6.6-5.4zM1086.7 65.3l6.6 3.7-4.7 1.2-6.6-3.7zM987.1 340.2l-6.3-3.6 4.9 .5 6.3 3.6zM991.7 341.5l-6.3-3.7 5 .5 6.3 3.7zM997 89.9l-6.9-5.4 4.8-1.1 6.9 5.4zM996.4 342.7l-6.4-3.7 5 .5 6.3 3.7zM1001.4 89.5l-6.9-5.5 4.8-1.1 6.9 5.5zM907.5 101.1l7.2 7.1-4.9 1.1-7.2-7.1zM911.9 100.6l7.2 7.2-4.9 1-7.2-7.1z"/><path fill="#dd0" d="M1164.7 295.2l-6.8-6.4 5.1 .3 6.8 6.5zM1075.7 308.4l6.6 4.9-5-.3-6.6-4.9zM1080.3 309.3l6.6 4.9-5-.3-6.6-4.8zM989.9 330.6l-6.3-3.3 4.9 .2 6.3 3.3zM994.5 331.6l-6.3-3.4 4.9 .2 6.3 3.4z"/><path fill="#00d" d="M1164.1 291.9l-6.8-6.3 5.1 .2 6.8 6.3zM1168.7 292.7l-6.8-6.2 5.1 .2 6.8 6.2zM1075.2 305.1l6.5 4.7-5-.2-6.5-4.7zM1079.7 305.9l6.6 4.7-5-.1-6.5-4.8zM989.3 327.3l-6.3-3.2 4.9 .1 6.3 3.2zM993.9 328.1l-6.3-3.2 4.9 .1 6.3 3.2z"/><path fill="#dd0" d="M1169.3 296.2l-6.8-6.5 5.1 .3 6.8 6.5z"/><path fill="#ff0" d="M1170 158.2l5.2 .3 .9 19.3-5.3-.3zM1169.9 159l-1.7-46.1 5.3 0 1.7 46.4z"/><path fill="#0e0" d="M1169.7 156.4l5.2 .2 1.2 21.2-5.3-.3zM1169.6 157.2l-2.4-50.5 5.2-.1 2.5 50.8zM907.6 101.5l-3.3 15.9-5.2 .2 3.4-15.8z"/><path fill="#f00" d="M1169 152.8l5.3 .1 1.8 24.9-5.3-.3zM1169 153.6l-4-59.2 5.2-.4 4.1 59.7zM1073.4 108.7l3.7 57.9-5.2 0-3.7-57.5zM1068.3 109.9l-1.4-43.2 5.1-.8 1.4 43.6zM1077.7 108.3l3.9 58.5-5.3-.1-3.7-58zM983.7 179.9l-3.6-56.7 5.2-.5 3.6 57.2zM988.1 179.1l5.3 .1 2.5 34.5-5.3-.3zM988.1 179.9l-3.6-57.1 5.1-.5 3.8 57.7zM987.9 81.4l2.5-20.4 5-.9-2.4 20.6zM897.2 136.9l3.5 56.3-5.2 0-3.4-55.8zM902.7 231.5l-2.8-39.1 5.3 0 2.8 39.4zM901.6 136.4l3.6 56.8-5.3 0-3.5-56.2zM896.5 137.7l-.9-40.5 5.1-.9 1 40.9zM908 77.8l-2.8 18.5-5.1 .7 2.8-18.4z"/><path fill="#ee0" d="M1157.5 266.1l10 24.9-5.3-.6-10-24.8zM1152 266.3l-12.4-38.8 5.3 .4 12.5 39zM1132.2 186l12.6 42.7-5.3-.4-12.6-42.4zM1075 309.7l-9.8-23.5 5.4 .5 9.7 23.6zM1058.1 249.4l12.3 38.1-5.3-.5-12.3-38zM1052.7 249.8l-13.6-45.8 5.2 .1 13.7 46.1zM983.6 307.2l9.5 22.2-5.3-.6-9.5-22.1zM978.1 307.5l-12.1-37 5.3 .4 12.2 37.2zM957.6 226l13.6 45.7-5.3-.4-13.6-45.5z"/><path fill="#0d0" d="M1158.9 274.4l10.4 27.4-5.3-.9-10.4-27.3zM1153.4 274.4l-13-42.7 5.3 .5 13.1 43zM1089.7 94.1l-10.1-24 5.1-.8 10.1 24.2zM1132.2 186l13.4 47-5.4-.5-13.3-46.7zM1126.9 186.6l-1.1-4.8 5.2 .1 1.1 4.9zM1125.7 182.6l-14.4-50 5.2-.3 14.4 50.4zM1094.1 93.8l-10.1-24.1 5.1-.8 10.1 24.3zM1072.2 319.1l-10.1-25.6 5.3 .7 10.1 25.8zM1103.5 92.2l13 40.9-5.2 .3-12.9-40.7zM1098.5 93.5l-10.2-24.3 5.1-.7 10.2 24.4zM1076.8 320.3l-10.1-25.8 5.3 .8 10.2 25.9zM1058.9 254.1l13 42-5.4-.8-12.9-41.7zM997.5 88.6l10.4 25.6-5.1 .6-10.4-25.4zM1053.5 254.4l-14.4-50.4 5.2 .1 14.5 50.8zM1029.7 154.2l14.6 50.7-5.3-.1-14.5-50.4zM1001.9 88.2l10.4 25.8-5.2 .5-10.3-25.6zM980.5 315l9.9 24.3-5.4-.9-9.8-24.1zM1024.5 155.2l-13-41.7 5.1-.5 13.1 42zM1006.3 87.7l10.4 26-5.2 .6-10.3-25.8zM985.1 316.1l9.9 24.4-5.4-.9-9.8-24.3zM979.6 316.1l-12.7-40.7 5.3 .5 12.8 41zM915.8 135.6l-10.5-26.9 5.1-.7 10.6 27.1zM957.7 226.4l14.4 50.3-5.4-.5-14.3-50zM952.3 227l-1.1-4.9 5.3 .2 1.1 4.9zM951.2 222.9l-13.4-46.7 5.2-.1 13.4 47zM920.2 135.4l-10.6-27.1 5.1-.7 10.7 27.3zM929.7 133.9l13.3 43-5.2 .1-13.2-42.7zM924.6 135.2l-10.6-27.3 5.1-.7 10.7 27.4z"/><path fill="#e00" d="M1161.8 291.1l11.2 32.6-5.4-1.5-11.2-32.2zM1156.2 290.7l-14.4-50.5 5.4 .7 14.4 51zM1132.2 186l14.8 55.7-5.3-.7-14.8-55.2zM1075.7 340.2l-10.8-30.2 5.4 1.1 10.9 30.5zM1056 262.6l14.1 49.3-5.4-1.2-14.1-48.9zM1080.5 341.9l-10.9-30.5 5.4 1.1 10.9 30.8zM1060.6 263.5l14.2 49.8-5.4-1.2-14.2-49.3zM1055 263.6l-15.9-59.6 5.2 .1 16.1 60.2zM983.5 332.4l10.6 28.7-5.5-1.4-10.5-28.5zM977.8 331.9l-13.8-47.6 5.4 .8 13.9 48.1zM988.2 333.8l10.6 29-5.5-1.4-10.5-28.7zM982.5 333.4l-13.9-48.1 5.4 .8 14 48.5zM957.8 227.1l16 59.7-5.4-.7-15.9-59.2zM952.5 227.7l-1.3-5.6 5.3 .2 1.2 5.6z"/><path fill="#00e" d="M1091.5 104.7l-9.6-21.2 5.2-.4 9.5 21.3zM1126.9 186.6l-1.1-4.3 5.3 .1 1 4.4zM999.9 102.2l9.8 22.6-5.2 .3-9.8-22.5zM1004.3 102.2l9.8 22.7-5.2 .3-9.7-22.7zM917.5 145.6l-9.9-23.8 5.1-.4 10 24zM922 145.7l-10-23.9 5.1-.4 10 24z"/><path fill="#ee0" d="M1095.5 102.1l-9.7-21.9 5.1-.5 9.7 22.1zM1125.8 183l-13.7-45.5 5.2-.1 13.7 45.7zM1105.1 101l12.2 37.2-5.2 .1-12.2-37zM1099.9 102.1l-9.7-22.1 5.2-.5 9.7 22.2zM1030.5 158.9l13.8 46-5.3-.1-13.7-45.9zM1025.3 159.7l-12.4-37.9 5.2-.3 12.4 38.1zM1008.2 98.7l9.9 23.6-5.2 .3-9.9-23.4zM951.2 222.9l-12.7-42.5 5.3 0 12.6 42.7zM931.2 142.2l12.5 39-5.2 .1-12.5-38.9zM926 143.3l-10.2-24.8 5.2-.5 10.2 24.9z"/><path fill="#00e" d="M1095.9 104.7l-9.5-21.3 5.1-.4 9.6 21.4zM1125.8 183.1l-13.4-44.1 5.2-.1 13.4 44.3zM1105.5 103.7l12.1 36-5.2 .1-12.1-35.9zM1100.4 104.8l-9.6-21.4 5.1-.4 9.6 21.5zM1030.8 160.3l13.5 44.6-5.3-.1-13.4-44.5zM1025.5 161.1l-12.1-36.7 5.2-.2 12.2 36.9zM1008.7 102.1l9.8 22.8-5.1 .3-9.8-22.7zM951.2 222.9l-12.4-41.2 5.2 0 12.4 41.4zM931.6 144.7l12.3 37.8-5.2 .1-12.3-37.7zM926.4 145.8l-10-24.1 5.2-.3 10 24.1z"/><path fill="#00d" d="M1084.9 80.4l6.4 3.2-4.7 .8-6.4-3.2zM1089.3 80.3l6.4 3.3-4.7 .8-6.4-3.3zM999.3 103.5l-6.7-4.7 4.9-.8 6.7 4.8zM910.1 115.8l6.9 6.2-4.9 .7-7-6.2z"/><path fill="#dd0" d="M1084.3 76.9l6.5 3.4-4.7 .9-6.5-3.3zM1088.7 76.8l6.5 3.3-4.7 .9-6.5-3.3zM998.8 100.3l-6.8-4.9 4.9-.8 6.7 4.9zM1003.2 100.2l-6.8-4.9 4.9-.9 6.7 4.9zM909.5 112.3l7 6.5-4.9 .7-7-6.4zM913.9 112.1l7 6.5-4.9 .8-7-6.5z"/><path fill="#0e0" d="M1082.6 66.2l-2.8 19.2-5.2 .2 2.8-19zM986.9 101.6l3.1-17.5 5.1-.3-3.1 17.5z"/><path fill="#f00" d="M1072.6 109.5l-1.4-43.6 5.1-.8 1.5 44zM988.5 80.6l1.2 42.5-5.1 .5-1.2-42.1z"/><path fill="#00f" d="M1082.9 195.6l-.9-22.5 5.3 .3 .9 22.6zM1085.9 129.8l1.4 44.4-5.3-.3-1.4-44.2zM1080.6 130.5l.5-33.4 5.2 0-.4 33.5zM1089.5 80.8l-3.2 17.2-5.2-.1 3.2-17.2zM994 187.6l5.3 .2 1.1 26.3-5.3-.4zM994 188.4l-1.3-43.6 5.3 .1 1.3 43.7zM998.6 113.3l-.6 32.4-5.3-.1 .7-32.3zM907.2 231.9l-1.2-29.9 5.3 .3 1.2 29.9zM910.1 160l1.2 43.1-5.3-.3-1.2-42.9zM904.8 160.7l.9-31.1 5.2 0-.8 31.2z"/><path fill="#ff0" d="M1082.9 195.6l-1-23.1 5.3 .2 1 23.3zM1085.5 127.8l1.7 45.7-5.3-.2-1.6-45.6zM1080.3 128.5l.3-34.3 5.2-.1-.3 34.5zM1088.9 77.2l-3.1 17.7-5.2 0 3.1-17.7zM993.9 186.8l5.3 .2 1.2 27.1-5.3-.4zM993.9 187.6l-1.5-44.9 5.2 0 1.5 45.1zM909.6 112.7l-3.6 14.7-5.2-.1 3.6-14.6zM907.2 231.9l-1.3-30.8 5.3 .3 1.3 30.8zM909.7 157.7l1.4 44.5-5.3-.3-1.3-44.2z"/><path fill="#0e0" d="M1082.9 195.6l-1.3-25.3 5.2 .2 1.4 25.5zM1084.4 121.2l2.4 50.1-5.3-.2-2.3-49.8zM1079.2 122.1l-.3-37.6 5.2-.3 .3 37.8zM1086.9 65.7l-2.8 19.3-5.1 .3 2.8-19.2zM993.5 184.3l5.2 .1 1.7 29.7-5.3-.4zM907.2 231.9l-1.8-33.6 5.2 .1 1.9 33.8zM912 101l-3.4 16-5.1 .2 3.4-15.9z"/><path fill="#f00" d="M1082.9 195.6l-2.1-29.6 5.3 .1 2.1 29.9zM1082.1 107.9l3.9 59-5.2-.1-3.9-58.5zM1077 109.1l-1.5-44 5.1-.8 1.6 44.4z"/><path fill="#00d" d="M1003.8 103.5l-6.8-4.8 4.9-.7 6.7 4.7zM914.5 115.7l7 6.3-5 .7-6.9-6.3z"/><path fill="#00f" d="M993.4 114l3.5-15.7 5.2 .1-3.5 15.8zM914.6 116.1l-3.7 14.4-5.2-.2 3.7-14.3z"/><path fill="#ff0" d="M998.1 110.2l-.5 33.3-5.2 0 .5-33.2zM992.9 111l3.4-16.2 5.1 0-3.3 16.3zM914 112.6l-3.6 14.7-5.2-.1 3.6-14.7zM904.5 158.5l.7-32 5.2-.1-.7 32.1z"/><path fill="#0e0" d="M993.4 185.1l-2.2-49.1 5.2-.2 2.3 49.5zM996.3 100.1l.1 36.5-5.2 .1-.1-36.2zM991.2 101.2l3.1-17.6 5.1-.3-3 17.7zM908.5 150.5l2.1 48.7-5.2-.1-2.1-48.4zM903.3 151.5l.1-35 5.2-.4-.1 35.2z"/><path fill="#f00" d="M992.6 179.2l5.2 .1 2.6 34.8-5.3-.4zM992.6 180l-3.7-57.7 5.1-.4 3.8 58.2zM992.8 79.8l1.3 42.9-5.2 .4-1.2-42.5zM907.2 231.9l-2.8-39.4 5.2 0 2.9 39.7zM905.9 136l3.7 57.3-5.2 0-3.6-56.8zM900.9 137.3l-1-41 5.1-.8 1 41.3z"/></g><path d="M807.7 118.6l-.3 1M806.7 121.7l-2.6 8.2-1.3 27.7 .6 38.4 2.1 82.8M807.5 153.6l.3 42.6 2.2 83.2M811.7 157.8l.6 38.7 2.2 83.6M816.3 165.1l.2 12.3M816.5 179.4l2.6 101.3M820.8 170.1l.2 9M821.1 183.1l2.5 98.2M825.4 174.3l.1 7M825.6 186.3l2.6 95.6M829.9 177.5l.1 6M830.1 188.6l2.6 94M834.4 179.7l.1 5.1M834.6 190.9l2.6 92.3M838.9 183l.1 4M839.1 192.1l2.7 91.7M843.4 184.2l.1 4.1M843.6 194.4l2.7 90.1M847.9 186.5l.1 3.1M848.1 194.7l2.8 90.4M852.4 187l.1 4M852.6 196.1l2.8 89.6M1120.4 132.5l.1 2M1120.7 140.6l0 3M1032.7 157l.1 4M944.8 173.5l.2 5.1M856.9 189.3l.1 3M857.1 197.3l2.8 89.1M1124.9 133.8l.1 2M1125.2 141.8l.7 22.1M1091.7 212.2l-.9-2.8M1090.2 207.5l-1.2-3.9M1037.2 158.3l.9 25.2M1003.3 228.5l-2.4-7.8M949.3 174l.9 27.1M916.8 250.8l-.3-.9M915.3 246l-2.2-6.8M861.4 190.5l.1 3.1M861.6 197.6l2.9 89.4M1129.4 135l.1 2M1129.7 143.1l1.4 41.3M1096.3 212.8l-.3-1M1094.8 208l-7.3-23.1M1041.8 159.5l1.4 41.5M1008.2 230.3l-.3-1M1006.7 225.5l-7.2-22.9M953.8 175.3l1.6 44.3M919.8 246.5l-8.3-26.1M865.9 191.8l.1 3M866.1 198.9l2.9 88.7M1133.9 136.3l.1 2M1134.2 144.4l2 55.6M1100.8 213.3l-.3-1M1099.3 208.5l-12.8-40.6M1046.2 160.1l2.1 57.5M1012.8 230.8l-.3-.9M1011.3 226l-12.1-38.3M958.3 176.5l2.1 59.7M923.7 245.1l-12.5-39.8M870.4 193.1l.1 3M870.6 200.2l3 88.1M1138.4 137.5l.1 2.1M1138.7 144.7l2.4 72.2M1103.8 209l-17.5-55.8M1050.7 161.3l2.6 73M1017.3 231.3l-.3-.9M1015.8 226.5l-17.2-54.8M962.8 177.8l2.6 73.9M928.4 246l-17.9-56.8M874.9 194.3l.1 3.1M875.1 201.5l3 87.4M1142.9 138.8l.1 1M1143.2 146l2.1 57 .7 29.1M1108.3 209.5l-22.7-72.4M1055.3 162.6l2.9 87.6M1021.8 231.9l-.3-1M1020.3 227l-22.2-70.5M967.3 179.1l3.1 89.3M932.9 246.5l-22.6-71.6M879.4 194.7l.1 4M879.6 201.8l3.1 87.7M1147.5 140.5l0 1M1147.7 147.5l2.1 56 1 42.4M1113.2 211.2l-.9-2.8M1111.7 206.5l-21.3-68.2-4.6-13.4M1059.8 163.9l2 54.2 1.1 45M1025.4 229.5l-21.8-69.9-5.9-17.1M971.8 180.4l2.1 52.2 1.2 42.5-.1 6.2M937.4 247l-20.6-66.1-7.1-20.9M883.9 196l.1 4M884.1 202l3.1 88.2M1151.9 140.7l.1 1M1152.2 147.8l2.2 56.3 1 41.4-.4 12.4M1117.7 211.7l-.9-2.8M1116.2 207l-21.3-68.5-9.3-26.8M1064.2 164.2l2.2 54.4 1.1 42.1-.4 16.5M1029.9 230l-21.8-70.2-9.8-28.7M976.3 180.8l3.3 95-.3 19M942.2 248.5l-.9-2.9M940.7 243.7l-19.5-62.6-10.9-32.4M888.4 196.3l.1 5M888.6 203.3l3.1 87.5M1156.4 142l.1 1M1156.6 148.1l2.3 56.5 1.1 41.6-.8 23.7M1122.3 212.3l-.9-2.9M1120.8 207.4l-21.4-68.7-12-34.6-1.3-2.8M1068.7 165.5l2.2 53.6 1.2 42.3-.6 26M1034.3 229.9l-.3-1M1033.4 227l-20.9-67-12.1-35.5-2.1-4.7M980.8 181l3.4 95.4-.5 30.2M946.7 249l-.9-2.9M945.2 244.2l-19.5-62.8-12.2-36.4-2.9-6.7M892.9 197.5l.1 4.1M893.1 203.6l3.2 87.8M1160.9 142.2l.1 2.1M1161.2 149.3l2.2 55.8 1.1 41.8-.9 30-.6 2.1M1126.8 212.8l-.9-2.9M1125.3 207.9l-21.5-69-12-34.8-4.7-10.2M1073.2 165.9l2.2 53.7 1.2 42.4-.7 31.2-.7 3M1038.8 230.4l-.3-1M1037.9 227.5l-20.9-67.3-12.1-35.7-5.5-12.2M985.3 182.3l3.4 94.8-.5 32.3-1 5.1M951.3 249.5l-1-2.9M949.7 244.7l-19.5-63.1-12.3-36.5-6.8-15.7M897.4 198.8l.1 4.1M897.6 204.9l3.2 87.2M1165.4 143.5l.1 1M1165.7 150.7l2.2 54.9 1.2 42-.9 30.1-2 7.3M1131.3 213.3l-.9-2.9M1129.8 208.4l-21.5-69.3-12-34.9-8.3-17.8M1077.7 167.2l2.2 52.9 1.3 42.6-.7 31.3-2.3 9.9M1042.4 228l-20.9-67.6-12.2-35.8-8.5-19M989.8 182.6l3.5 95.1-.5 32.5-2.2 11.2M954.7 246.6l-20.1-64.8-12.3-36.7-9.5-22.2M901.9 199.1l.1 4.1M902.1 205.2l3.3 87.5M1169.9 144.1l.1 2M1170.2 151.1l2.2 55 1.2 42.1-.8 30.3-3.2 11.4M1135.2 211.8l-.3-.9M1133.7 207l-21-67.7-12-35.1-9.5-20.6-2.2-.8M1082.2 167.5l2.2 53.1 1.3 42.8-.6 31.4-3 12.9M1081.6 309.7l-1.9-1.1M1046.9 228.5l-21-67.9-12.2-35.9-9.7-22-2.9-1.7M994.3 183.9l3.5 94.5-.4 32.6-3.3 16.4-1-.5M959.2 247.1l-20.1-65.1-12.3-36.8-10-23.2-2.6-2.1M906.4 200.4l.1 3M906.6 206.4l3.3 87M1173.4 115.3l3.6 91.3 1.2 42.3-.9 30.4-3.7 13.6-7-5.5-10-23.4-12.3-37-27.1-87.6-12-35.2-9.6-20.7-6.5-2.4-3.2 16.4-.4 32.7 4.8 133.8-.7 31.6-3.4 15-6.7-4-9.8-22-12.2-36.1-27.1-87.7-12.2-36.1-9.8-22-6.7-4-3.5 15-.6 31.6 4.8 133.8-.5 32.7-3.2 16.4-6.4-2.4-9.6-20.7-12.1-35.2-27-87.6-12.4-37-10-23.4-7-5.5-3.7 13.6-.8 30.4 1.2 42.3 3.6 91.3M807.7 118.6l-.3 1M806.7 121.7l-2.6 8.2-1.3 27.7 .6 38.4 2.1 82.8M807.5 152.3l-.3 5.2 .6 38.7 2.2 83.4M811.7 158.5l.6 37.9 2.3 84M816.2 165.5l.6 31.1 2.4 84.5M820.8 169.6l2.9 112.2M825.3 173.7l3 108.9M829.8 176.9l3 106.4M834.3 179.6l3.1 104.4M838.8 181.7l3.1 103M843.3 183.9l3.2 101.5M847.8 185.1l3.2 101M852.3 187.3l3.3 99.5M1120.3 132.8l.2 5.1M1120.6 140.9l.1 3.1M1032.4 147.5l.1 4.1M1032.6 156.6l.2 5.1M944.7 172l.2 7.2M856.8 188.8l3.4 98.7M1124.8 134.5l.2 5M1125.1 142.5l.7 21M1092.2 214.1l-3.3-10.5M1036.9 149.7l.1 3.1M1037.1 157.9l.8 23.1M1004.7 233.4l-.3-1M1003.2 228.5l-2.4-7.8M949 165.1l0 1M949.2 174.3l.9 26.3M916.7 250.9l-.3-1M915.8 248l-3-9.7M861.3 191l3.4 97.2M1129.3 134.7l.2 6M1129.6 142.7l1.5 41.3M1096.7 214.6l-8.9-28.8M1041.4 150.9l.1 3.1M1041.6 159.1l1.7 42.4M1010.2 237l-.3-.9M1008.7 232.2l-.9-2.8M1007.3 227.5l-7.8-24.9M953.5 166.7l0 1M953.7 175.7l1.7 43.3M921.2 251.4l-9.6-31M865.8 191.2l3.5 97.7M1133.8 136.9l.2 5.1M1134.1 144l2.2 56.7M1102.8 220l-.3-.9M1101.3 215.2l-14.8-47.4M1045.9 151.6l.1 4M1046.1 159.6l2.3 58.6M1014.8 237.6l-.3-1M1013.3 232.8l-.9-2.9M1011.8 228l-12.6-40.3M958.2 177l2.4 60.6M925.8 252l-14.5-46.6M870.3 193.4l3.5 96.2M1138.3 137.1l.2 5.1M1138.6 145.2l2.7 71.3M1105.8 215.8l-.9-2.9M1104.3 210.9l-18.2-58.9M1050.4 153.8l.1 3M1050.7 161.8l2.7 73.1M1017.8 233.4l-.9-2.9M1016.3 228.5l-17.6-56.9M962.5 169.1l0 1M962.7 177.2l2.9 76M929.2 249.1l-18.5-59.9M874.8 193.7l3.6 96.7M1142.8 138.7l.2 5M1143.1 145.7l2.3 58.1 .9 29.1M1109.7 214.4l-.3-1M1108.2 209.5l-22.5-72.6M1054.9 155l.1 3M1055.1 162.1l3.3 88.7M1021.7 232l-23.4-75.7M967.2 178.4l3.4 90.6M933.7 249.6l-23.5-75.8M879.2 194l3.7 97.1M1147.3 140l.2 5M1147.6 147l2.4 57.3 1.2 43.4M1115.2 218l-.3-.9M1113.7 213.2l-23.5-76.2-4.6-13.3M1059.4 155.2l.1 3M1059.6 163.3l2.4 55.4 1.2 46.1M1026.3 232.5l-22.9-74.1-5.8-17.1M971.5 171.8l0 1M971.7 179.8l2.2 53.3 1.4 49.8M938.3 250.1l-21.7-70.3-7-20.9M883.7 195.2l3.8 96.6M1151.8 140.2l.2 5M1152 147.3l2.5 57.5 1.2 42.6-.3 12.3M1118.3 213.8l-23.6-76.6-8.9-25.9M1063.9 156.4l.1 3.1M1064.1 163.6l2.4 55.7 1.3 43.2-.2 14.4M1030.3 231.5l-22.5-72.9-9.6-28.8M976 173l0 1M976.2 180.1l3.7 97.4-.2 18.5M944.3 255.6l-.3-1M942.8 250.7l-21.8-70.7-10.8-32.5M888.2 196.5l3.8 96M1156.3 141.4l.2 5.1M1156.6 148.5l2.4 56.9 1.3 42.8-.6 22.5M1122.8 214.3l-23.7-77-12.5-36.5M1068.4 158l.1 3M1068.6 165l2.4 54.8 1.4 43.4-.5 25.8M1034.2 230.1l-21.9-71.4-12.3-36.5-1.2-2.8M980.5 174.3l0 1M980.7 181.3l3.8 96.9-.3 30.1M947.7 252.6l-.3-1M946.2 247.8l-20.7-67.6-12.4-37.5-2-4.7M892.7 197.7l3.9 95.5M1160.8 142.7l.2 5.1M1161.1 149.8l2.4 56.1 1.4 43-.7 28.9M1126.7 212.9l-23.1-75.5-12.2-35.8-3.8-8.2M1072.9 158.2l.1 4M1073.1 166.3l2.4 54 1.5 43.7-.6 32.1M1039.9 234.5l-.6-2M1038.7 230.6l-21.9-71.7-12.4-36.8-4.5-10.2M985 175.5l0 1M985.2 181.6l3.9 97.4-.4 32.2M952.2 253.1l-.2-.9M950.8 248.3l-20.8-67.9-12.5-37.7-5.7-13.3M897.2 198l3.9 95.9M1165.3 143.2l.2 5M1165.6 150.2l2.5 56.2 1.3 43.3-.7 29M1132.8 218.5l-.9-2.8M1130.7 211.8l-22.7-74.2-12.2-36-3.3-7.4M1091.6 92.4l-1.6-3.7M1077.4 159.4l.1 3.1M1077.6 166.5l2.4 54.3 1.5 43.9-.5 30.2M1044.8 236l-.9-2.9M1043.3 231.1l-22.1-72.1-12.3-36.9-5-11.3M1002.7 108l-1.2-2.8M989.4 175.7l.1 2M989.7 182.8l3.9 96.9-.3 32.4M956.8 253.7l-.3-1M955.3 248.9l-20.9-68.4-12.5-37.8-2-4.8M919.1 136l-3.6-8.6M914.6 125.5l-1.2-2.8M901.7 199.3l4 95.3M1169.8 144.5l2.8 62.5 1.4 43.4-.7 29.2M1169.6 295.5l-3.9-3.2M1136.7 217.2l-.3-1M1135.3 212.3l-22.8-74.6-13.1-38M1098.2 96.9l-1.7-3.7M1095.2 90.4l-1.2-2.7M1091 81.2l-.4-1-1.1-.4M1081.9 160.7l.1 3M1082.1 167.8l2.5 53.5 1.5 44.1-.5 30.4M1082.9 310.1l-.3 1.1M1082.2 313.2l-3.9-2.3M1048.5 234l-22.8-74.8-12.4-37.1-5.4-12.3M1006.7 107l-1.2-2.9M1003.4 99.4l-2.9-1.7M993.9 177.2l.1 1M994.1 183.2l4.1 97.2-.3 33.6M995.3 327.8l-.6 3-3.2-1.3M959.2 247.5l-20.3-66.8-12.5-38-5.5-12.9M920.1 127.9l-2.3-5.5M910 113.7l-.8-.7-.5 2M906.2 199.5l4 95.8M1173.1 113.3l4 94.2 1.4 43.7-.6 31.3-3.7 13.9-7-5.7-10.1-24.1-12.6-38.2-27.6-90.5-12.2-36.4-9.7-21.4-6.5-2.6-3.1 17-.3 33.7 5.5 138-.4 32.5-3.4 15.5-6.8-4.2-9.9-22.7-12.4-37.4-27.6-90.5-12.4-37.4-9.9-22.7-6.7-4.2-3.4 15.5-.5 32.5 5.5 138-.2 33.7-3.2 17-6.5-2.6-9.6-21.4-12.3-36.4-27.5-90.5-12.6-38.2-10.2-24.1-7-5.7-3.6 13.9-.7 31.3 1.4 43.7 4.1 94.2M807.7 118.6l-.3 1M806.7 121.7l-2.6 8.2-1.3 27.7 .6 38.4 2.1 82.8M808 135.2l-.3 5.1M807.5 146.3l-.4 10.1 .7 39.3 2.4 84.8M811.5 153.8l.7 41.9 2.6 86.1M815.9 150.4l-.1 5 .8 40.4 2.9 87.1M820.1 155l1 40.8 3 88.2M824.6 159.7l.9 36.2 3.2 89.1M828.9 152.3l.1 6.1M829.1 163.5l.9 32.6 3.3 89.9M833.3 156.1l.2 6M833.6 167.1l4.3 119.9M837.8 159.9l.2 6.1M838.1 170l4.4 117.9M842.3 161.8l.2 6.1M842.6 173l4.5 115.9M934.4 140.4l.1 2M846.5 154.4l0 1M846.8 164.4l.2 6.1M847.1 175.5l4.6 114.3M1114.7 112.4l.3 6M1115.1 121.5l.1 2M1026.8 127.3l.2 5.1M1027.1 136.5l.2 5.1M938.9 142.2l.1 3M939.2 152.2l.3 7.1M851 157.2l0 1M851.3 167.3l.2 6.1M851.6 177.5l4.7 113.2M1119.2 114.3l.3 6.1M1119.6 123.5l.8 20.4M1092.7 230.7l-.3-1M1091.8 227.8l-1.3-3.8M1031.3 129.1l.2 5M1031.6 138.1l.9 23.2M1003.8 245.5l-1.2-3.9M943.4 144l.1 4.1M943.7 153.2l.3 8.1M944 163.3l.7 17.2M917.3 268l-2.7-8.7M855.4 159.1l.1 1M855.8 169.3l.2 6.1M856.1 178.5l4.8 113.2M1123.4 108.1l.1 2M1123.7 116.1l.3 6M1124.1 124.2l1.7 40.2M1097 230.5l-.6-1.9M1095.7 226.6l-7-23.1M1035.8 131l.2 5.1M1036.1 140.1l1.8 41.5M1009.3 249.2l-1-2.9M1007.7 244.4l-6.9-23M947.9 147l.1 3.1M948.2 155.2l1.9 45.7M921.2 266.9l-.8-3M919.8 262l-7.1-23.3M859.9 161.8l.1 1M860.3 170.9l.2 7M860.6 180.9l4.8 111.7M1127.9 110l.1 2M1128.2 117.1l.3 7.1M1128.6 126.2l2.6 57.8M1101.2 230.2l-.3-.9M1100.3 227.3l-12.6-41.7M1040 124.8l0 1M1040.3 133l.2 5.1M1040.6 141.1l2.7 60.1M1013.2 248l-13.7-45.4M952.4 148.7l.1 3M952.7 156.8l2.8 63.7M926.7 270.5l-.9-2.8M925.2 265.8l-13.6-45.1M864.4 163.7l.1 2M864.8 172.8l.2 6.1M865.1 182l4.9 111.5M1132.4 110.9l.1 3.1M1132.7 119.1l.3 6.1M1133.1 127.2l3.5 74.7M1105.5 230l-18.8-62.4M1044.4 126.7l.1 1M1044.8 134.7l.2 5M1045.1 142.8l3.7 77.3M1017.8 248.8l-18.8-62.3M956.8 149.6l.2 4.1M957.2 158.8l3.6 78.5M931.3 271.3l-.3-.9M929.2 264.6l-18-59.8M868.9 165.7l.1 2M869.3 174.9l.2 6.1M869.6 183l5 111.4M1136.9 112.8l.1 3M1137.2 120.8l.3 6.1M1137.6 128.9l4.1 87.7M1109.7 229.8l-.3-.9M1108.8 226.9l-22.3-74.6M1048.9 127.6l.1 2M1049.3 136.7l.2 4.1M1049.6 144.8l4.3 90.9M1023 251.5l-.7-1.9M1021.7 247.6l-23-76.8M961.4 152.3l.1 3M961.7 160.3l4.3 92.8M935.2 270.2l-.8-2.9M933.8 265.3l-23-76.6M873.4 167.3l.1 2M873.7 176.4l.3 6M874 184.4l5.2 110.9M1141.3 113.7l.2 3.1M1141.7 121.8l.3 6.1M1142.1 129.9l4.8 102.6M1114.3 230.5l-28.1-93.9M1053.4 130.4l.1 1M1053.8 138.4l.2 4M1054.1 146.4l5 105.1M1026.3 248.4l-27.4-92M965.8 153.3l.2 4M966.2 161.3l5 108.1M939.2 269.1l-1.4-4.8M937.2 262.3l-26.6-89M877.9 169.3l.1 2M878.2 177.4l.3 7.1M878.6 186.5l5.2 109.6M1145.8 115.6l.2 2.9M1146.2 123.5l5.3 110.8M1151.7 240.5l.3 6.1M1118.2 229.3l-.9-2.8M1116.8 224.5l-26.5-88.8M1089.8 133.8l-.3-1M1057.9 131.3l.1 1M1058.3 139.4l.2 5M1058.6 147.4l4.9 100.9M1063.6 250.3l.4 10.2M1031.8 252l-1-2.9M1030.3 247.2l-27-90.8M1002.7 154.5l-1.2-3.9M970.3 155.3l.2 3M970.7 163.4l5.3 110.9M943.2 267.9l-.3-1M942.3 265l-27-90.7M914.7 172.4l-.3-1M913.8 169.5l-.9-2.9M912.3 164.7l-.3-1M882.4 170.2l.1 3.1M882.7 179.4l5.3 108.6M888.1 291l.3 6M1150.3 116.5l.2 3M1150.7 124.6l5.3 108.9M1156.2 238.6l.3 7M1122.8 230.1l-28.3-95.3M1062.4 133.3l.1 1M1062.7 140.4l.3 5.1M1063.1 148.5l4.9 99M1068.1 250.5l.4 9M1035.7 250.9l-.3-1M1034.8 248l-26.5-89.6M1007.7 156.4l-.9-2.9M1006.2 151.6l-.3-1M1005.3 148.7l-.3-1M974.8 156.9l.2 3M975.1 163.9l5.4 109.2M949.3 273.5l-.4-.9M947.8 268.7l-1.5-4.9M945.7 261.8l-26.2-88.4M917.3 166.6l-.3-1M886.9 171.8l.1 3M887.2 180.9l.3 6M887.6 188.9l4.9 98.9M892.6 290.9l.4 7M1154.8 118.5l.2 3.1M1155.2 125.6l5.3 106.7M1160.7 238.4l.3 6.1M1126.7 228.9l-27.8-94.2M1066.9 134l.1 2M1067.2 141l.3 6M1067.6 149l4.9 98.3M1072.6 249.3l.4 9M1040.3 251.6l-1.5-4.8M1038.3 244.8l-25.8-87.3M1011.3 153.6l-.3-1M979.3 157.9l.2 4M979.7 165.9l5.3 106.2M952.4 269.5l-.6-1.9M951.2 265.6l-26.4-89.3M924.2 174.4l-.9-2.8M922.7 169.7l-.3-1M920.3 162l-.3-.9M891.4 173.8l.1 2.1M891.7 181.9l5.3 104.7M897.1 289.7l.4 9.1M1159.3 119.3l.2 4M1159.7 127.3l5.3 103.8M1165.2 237.2l.3 6.1M1131.9 231.5l-28-94.8M1071.4 135l.1 2M1071.7 143.1l.3 5M1072.1 150.1l4.9 95.9M1077.1 248l.4 9.2M1044.2 250.4l-.8-2.9M1042.8 245.5l-26.5-89.9M1015.7 153.6l-.3-.9M1014.8 150.7l-.3-.9M983.8 158.9l.2 4.1M984.1 166l5.4 105.9M957.8 273.1l-.9-2.9M955.8 266.4l-25.9-88.1M929.3 176.4l-.3-1M927.8 171.6l-.3-1M895.8 174.8l.2 3.1M896.2 183l5.3 103.7M901.6 289.7l.5 10M1163.4 113.2l.1 1.1M1163.8 121.3l.2 3M1164.2 128.3l5.3 102.1M1169.7 236.4l.3 6M1169 296.4l-.7 3M1136.7 233.2l-.9-2.9M1135.3 228.4l-26.9-91.7M1087.6 77.4l-2-4.7M1075.9 137l.1 2M1076.2 144.1l.3 5.1M1076.6 151.2l4.9 94.1M1081.6 247.3l.4 9M1081.2 313.8l-.6 3.1M1079.5 323.1l-.9-.5M1050.3 256l-.3-1M1048.2 249.3l-1.4-4.9M1046.3 242.5l-24.4-83.1M1020.8 155.6l-.3-1M999.6 94.9l-1.6-3.8M987.9 152.5l.1 1M988.3 160.5l.2 4M988.6 167.5l5.4 103.2M994.2 276.8l.1 2M993.6 330.6l-.6 4M992 340.7l-.9-.4M961.5 271l-27.2-92.6M933.7 176.5l-.9-3M932.2 171.6l-.3-1M931.3 168.7l-.3-1M911.6 112.3l-1.5-3.7M900.3 176.4l.2 3M900.7 184.4l5.3 101M906.2 289.4l.5 11.1M1168.3 122.3l.2 3.1M1168.7 129.4l5.3 100.7M1174.2 235.2l.3 6M1173.8 296.6l-1.6 7.1M1171.5 306.7l-6.3-5.6M1164.1 299.4l-.4-.9M1141.3 233.9l-.3-.9M1140.4 231l-27-92.4M1092.8 78.9l-4.1-9.4-1.8-.9M1083.2 67l-1-.5-1.6 10.3M1080.4 137.7l.1 2M1080.7 144.7l.3 6M1081.1 152.7l4.9 92.3M1086.1 247l.4 9.1M1086 314.6l-1.5 7.8M1084.1 324.4l-6.8-4.6-1.5-3.7M1052.2 248l-27.3-93.3M1024.3 152.7l-.3-1M1005 97.1l-3.4-8.4-2.6-1.7M994.7 84.1l-1.6 8.9M992.8 161.5l.2 4M993.1 168.6l5.4 102.2M998.7 275.8l.3 5M998.2 331.8l-1.6 10.2-6.5-2.9-2.8-6.6M965.8 270.8l-.9-2.9M964.4 266l-25.1-85.6M938.7 178.4l-.8-2.9M937.3 173.6l-.4-1M917.4 115.7l-3-7.6-3.1-2.8M907.3 101.8l-2.3 10.1M904.8 177.4l.2 3M905.2 185.5l5.3 99.7M910.6 288.2l.7 13.2M1172 107l5.6 103.5 2.2 47.9-.2 34.4-3.4 15.2-7.1-6.4-10.6-26.7-13.3-42.2-29.1-99.8-12.9-40.2-10.1-23.7-6.5-2.9-2.9 18.5 .3 37 7.8 151.5 .1 35.7-3.1 16.9-6.9-4.7-10.3-25.2-13.1-41.2-29.2-99.9-13-41.2-10.4-25.2-6.8-4.7-3.1 16.9 0 35.7 7.8 151.5 .3 37-2.8 18.5-6.6-2.9-10-23.7-12.9-40.2-29.2-99.8-13.2-42.2-10.6-26.7-7.1-6.4-3.5 15.2-.1 34.4 2.1 47.9 5.7 103.5M807.7 118.6l-.3 1M806.7 121.7l-2.6 8.2-1.3 27.7 .6 38.4 2.1 82.8M888.3 314l-3.4-7.3M811.2 110.2l-3.8 13.2-.9 29.7 1 41.3 3.2 89M894.4 318.2l-1-.4-4.4-9.5M815.1 107.1l-3.7 13.6-.8 30.6 1.3 42.6 3.6 91.8M899.4 321.3l-1.1-.5-5.4-12M819.9 105.3l-.8-.6-3.6 13.9-.7 31.3 1.4 43.6 3.8 86.1M820 281.6l.3 6.1M904.3 324l-1.1-.4-5.9-13.3M823.2 102.7l-3.6 14.1-.5 32 1.5 44.5 3.9 83M824.7 282.3l.3 7.1M914.8 83.1l-.2 1M908.1 326.1l-6.6-14.9M827.3 100.8l-3.5 14.5-.5 32.5 1.7 45.3 4 80.8M829.4 282.9l.3 8.1M1006.4 63.9l-1.5 8.9M918.9 81.5l-1.8 9.1M913.9 328.9l-1-.4-7-16.1M831.5 99.2l-3.5 14.6-.4 33.1 1.8 46.1 3.6 68.4M833.1 263.4l.4 9.1M834 283.5l.4 9M1099.2 298.3l-4-3.4M1010.6 62.3l-3 19.1M1011.7 316l-.8-.5M1009.2 314.3l-1.7-1.1M924 80.5l-.9-.6-3.2 16.5 0 2.1M924.3 333.6l-1-.4M919.6 331.6l-1.8-.8-7.6-17.6M836.4 98.3l-.7-.7-3.5 14.9-.3 33.6 2 46.8 3.6 67.5M837.6 262.4l.4 8.1M838.6 284.8l.5 9.2M1104 300.6l-7.1-6.4-2.6-6.6M1014.8 60.9l-2.9 18.3 0 12.3M1016.6 318.3l-2.6-1.8M1012.3 315.4l-2.6-1.7-3-7.4M927.3 78.5l-3.2 16.7 0 16.2M926.3 334.6l-3.7-1.7-8.1-18.7M839.8 96.1l-3.4 15.1-.2 34.1 2.1 47.5 3.7 66.1M842.1 262l.4 7.1M843.3 285.2l.5 10.2M1108.8 302.7l-7.1-6.4-8-20.1M1019.9 59.9l-.9-.4-2.9 18.6 .2 27.2M1021.4 320.4l-3.5-2.3M1016.2 316.9l-1.7-1.2-8.8-21.5M931.5 77.1l-3.1 16.9 0 28.7M933 337.6l-1-.5M928.3 335.5l-.9-.5-9.3-21.9M844.8 95.5l-.8-.7-3.4 15.2-.1 34.6 2.2 48.2 3.8 65.7M846.6 261.5l.4 7.1M847.9 285.7l.5 11M1108.8 100.2l.1 3M1113.6 304.9l-7.1-6.6-10.7-27.2-3.3-10.5M1023.2 58.2l-2.8 18.8 .4 37.7 .4 8.1M1026.2 322.5l-4.3-2.9M1020.2 318.4l-.9-.6-10.4-25.7-4.2-13.4M935.7 75.7l-3.1 17.2 .2 36.4 .5 11.1M938.7 340.1l-3.8-1.7M933.1 337.5l-1-.4-10.1-24.2-5.3-16.6M848.2 93.4l-3.3 15.5-.1 35 2.3 48.8 3.9 65.4M851.1 261.1l.4 6M852.7 290.1l.4 8M1113.1 99.7l1.2 22.3M1118.4 306.9l-7.2-6.6-10.7-27.6-8.7-28.1M1027.4 56.9l-2.8 19.1 .5 38.2 1.3 25.4M1029.2 323.4l-5.1-3.7-10.5-26-10-31.9M939.9 74.5l-3.1 17.3 .3 36.9 1.5 30.1M943.5 342.1l-1-.4M937.8 339.5l-.9-.4-10.2-24.5-11-34.7M852.5 92.2l-3.4 15.6 0 35.5 2.5 49.4 3.9 65.2M855.7 261.9l.3 5.1M857.2 290.3l.5 9.1M1117.5 99.2l2.4 43.2M1123.2 308.9l-7.2-6.7-10.8-27.9-15-49M1031.6 55.7l-2.7 19.3 .5 38.6 2.5 45.5M1035.7 326.6l-6.9-4.9-10.5-26.4-16.2-52.8M945 73.9l-.9-.7-3 17.6 .3 37.3 2.7 50.8M948.2 344.2l-3.7-1.8M942.6 341.5l-.9-.5-10.3-24.8-13.2-42-3.7-12.7M857.5 91.7l-.8-.8-3.3 15.9 .1 35.8 2.5 50.1 4 64.8M860.2 261.5l.3 5M861.7 288.6l.7 12M1121.8 98.8l3.8 64.9M1127.9 310.9l-7.2-6.8-10.8-28.3-13.7-44.7-7.4-26.1M1035.8 54.5l-2.7 19.5 .7 39.1 3.9 68.3M1040.5 328.6l-6.9-5-10.6-26.7-13.5-43.7-8.8-30.8M948.4 72.1l-3 17.7 .4 37.7 4 71.6M953 346.1l-6.6-3.2-10.3-25.1-13.3-42.5-9.7-34M860.9 89.7l-3.3 16 .2 36.3 2.6 50.6 4.1 64.6M864.7 260.2l.3 5.1M866.3 289.7l.7 12.2M1126.2 98.3l5.2 85.5M1132.7 312.9l-7.2-7-10.9-28.6-13.8-45.2-13.1-46.2M1040.1 53.4l-2.7 19.7 .7 39.5 5.5 90.8M1045.3 330.5l-6.9-5-10.7-27.1-13.6-44.1-14.3-50.7M953.5 71.5l-.9-.6-3 18 .5 38.1 5.6 94.1M957.8 348.1l-6.6-3.3-10.4-25.4-13.4-43-15.6-55.1M865.9 89.3l-.8-.7-3.2 16.1 .2 36.8 2.7 51.1 4.2 64.2M869.2 260.8l.3 4M870.9 290l.1 1M871.2 294.1l.5 9M1130.5 97.9l6.6 104.6M1137.5 314.8l-7.3-7-10.9-29-13.9-45.7-18.4-65.3M1044.3 52.3l-2.6 19.9 .8 39.9 6.7 108.1M1050 332.5l-6.9-5.2-10.7-27.4-13.7-44.6-19.4-68.7M956.8 69.8l-2.9 18.1 .6 38.6 2.9 52.5 3.9 58.8M961.6 349.5l-5.7-2.8-10.4-25.7-13.5-43.6-20.7-73.2M869.4 87.4l-3.3 16.4 .4 37.1 2.8 51.7 4.2 63.8M873.7 260.4l.3 4M875.7 294.4l.6 10M1134.9 97.4l7.1 110.9M1142.2 316.7l-7.2-7.1-11.1-29.3-13.9-46.3-20.7-73.5M1088.8 158.5l-1.4-4.8M1049.5 51.6l-.9-.4-2.6 20.1 .8 40.4 7.2 112.2M1054.8 334.3l-7-5.2-10.7-27.6-13.8-45.2-22.5-80.2M1000.2 174.1l-.8-2.9M961.9 69.3l-.8-.6-2.9 18.3 .6 39 3.1 53.1 4 60.4M966.4 247.6l.1 1.1M967.3 351.9l-2.8-1.5M961.6 349l-.9-.5-10.5-26-13.6-44-24.2-86.3M874.3 87l-.7-.7-3.2 16.5 .4 37.6 2.9 52.2 4.3 63.4M878.2 260.1l.3 4M880.4 295.5l.6 10.1M1139.2 97l7.3 111.1M1147 318.6l-7.3-7.2-11.1-29.7-14-46.7-21.8-77.9M1092.3 155.1l-.3-.9M1052.8 50.1l-2.5 20.3 .9 40.8 7.3 112.5M1059.5 336.2l-6.9-5.3-10.8-28-13.9-45.6-23.1-82.6M1004.3 172.8l-.3-1M965.3 67.6l-2.8 18.5 .7 39.4 3.1 53.6 4.2 61.1M970.9 247.2l.1 1M972 353.7l-6.6-3.4-10.5-26.3-13.6-44.5-23.9-85.2M916.3 190.3l-.3-.9M877.9 85.2l-3.2 16.7 .4 37.9 3.1 52.9 4.2 62.9M882.7 259.6l.2 4M884.9 295.7l.7 11.1M1143.6 96.6l7.4 111.3M1151.7 320.4l-7.2-7.3-11.2-29.9-14.1-47.3-21.4-76.8M1097.2 157.2l-.2-1M1057.1 49l-2.6 20.6 1.1 41.2 7.4 112.6M1064.3 338.1l-7-5.4-10.8-28.3-14-46.2-23.1-82.9M970.4 67.2l-.8-.7-2.9 18.7 .8 39.8 3.3 54.2 4.2 60.6M975.4 246.8l.1 1M976.8 355.6l-6.6-3.5-10.6-26.6-13.7-45-23.1-82.7M922.2 195.9l-.8-2.9M882.9 84.9l-.8-.7-3.1 16.8 .5 38.3 3.1 53.4 4.4 63.6M887.2 259.3l.2 4.1M889.4 294.8l.1 1M889.6 297.8l.6 10.2M1148 96.2l7.5 111.4M1156.5 322.2l-7.3-7.3-11.2-30.3-14.2-47.8-21.5-77.2M1061.3 48l-2.5 20.7 1.1 41.6 7.5 112.8M1069 339.9l-6.9-5.4-11-28.6-14-46.7-22.7-81.9M973.8 65.5l-2.8 18.9 .9 40.1 3.3 54.8 4.3 60.2M979.9 246.6l.1 1M977.8 355.4l-2.9-1.5-10.6-26.9-13.8-45.5-23.1-83.1M926.8 196.5l-.5-1.9M925.8 192.6l-.3-.9M886.4 83.1l-3.1 17 .5 38.7 3.2 53.9 4.5 63.2M891.7 259.9l.3 4M893.9 294.1l.1 1M894.2 298.1l.7 11M1152.3 95.8l7.7 111.5M1161.2 324.1l-7.3-7.5-11.2-30.6-14.3-48.2-21.6-78.1M1106.3 157.8l-.3-1M1065.6 47l-2.5 20.9 1.2 42 7.7 113.9M1073.8 341.7l-7-5.5-11-28.9-14.1-47.1-22.7-82.3M1018.4 176l-.5-2M979 65.1l-.9-.7-2.8 19.1 .9 40.5 3.4 55.4 4.3 59.7M984.4 246.2l.1 1M986.3 359.2l-6.7-3.5-10.6-27.2-13.9-45.9-23.8-85.9M930.7 194.7l-.2-1M891.4 82.8l-.8-.7-3.1 17.2 .7 39 3.3 54.4 4.4 62.8M896.1 258.5l.4 5.1M898.8 299.1l.7 11.2M1156.7 95.5l7.7 111.6M1169 306.5l-.3 4.1M1166 325.9l-7.4-7.6-11.3-30.9-14.3-48.7-21.6-78.5M1082.8 65.6l-1.9-4.7M1069.8 46l-2.4 21.1 1.2 42.4 7.9 114M1081.2 324.3l-.7 5M1078.5 343.5l-7-5.5-11-29.2-14.2-47.6-23.4-85.1M994.7 83.1l-1.8-4.7M982.3 63.4l-2.7 19.3 1 40.9 3.5 55.8 4.4 60.4M988.9 245.9l.1 1M993.2 341.9l-.6 5M985.3 357.9l-.9-.5-10.7-27.4-14-46.4-23.8-86.3M906.8 101.2l-1.8-4.9M894.9 81.1l-3.1 17.3 .7 39.4 3.4 55 4.6 63.3M900.7 259.1l.3 4M903.4 300.4l.7 11.1M1161.1 95.1l7.9 112.8M1173.7 308.1l0 2.1-1.7 10.3M1170.7 327.7l-7.3-7.7-11.4-31.2-14.5-49.2-21.1-77.3M1087.4 65.8l-5.5-14.4M1074.1 45l-2.4 21.3 1.3 42.8 7.9 114.1M1086 325.9l-1.8 12.2M1083.2 345.3l-7-5.6-11-29.5-14.3-48.1-23.4-85.4M999.3 83.3l-5-13.3M987.5 63.1l-.9-.7-2.7 19.4 1 41.4 3.6 56.3 4.5 60M993.4 246.5l.1 1M997.9 343.5l-1.3 12.2M995.8 362.8l-6.7-3.6-10.8-27.8-14-46.8-23.4-85.2M939.3 193.5l-.3-.9M911.3 100.9l-4.8-13.2M899.9 80.8l-.7-.7-3.1 17.4 .8 39.8 3.4 55.5 4.7 62.9M905.2 258.7l.3 5M908 300.6l.8 12M1165.5 94.7l8 112.9M1178.2 299.8l.3 12-2.5 14.5M1175.4 329.4l-7.3-7.7-11.4-31.5-14.6-49.7-21.2-77.7M1095.1 73.8l-.3-1M1094 71l-9-23.4-1.9-1M1079.3 44.5l-.9-.5-2.4 21.5 1.4 43.2 8.1 115.2M1090.4 318.3l.3 9.2-2.3 16.5M1088 347.1l-7-5.7-11.1-29.8-14.4-48.5-23-84.3M1005.8 88.3l-7.9-21.2-3.1-2.5M990.9 61.4l-2.7 19.6 1.1 41.7 3.7 56.9 4.5 60.5M997.9 245.2l.1 2M1002.6 334l.2 9-2.3 21.5-1.9-1M995.7 361.9l-1.9-1-10.8-28-14.1-47.3-24.5-89.5M918 106.8l-7.2-20-3.7-3.9M903.4 79.1l-3 17.6 .8 40.1 3.6 56 4.7 63.5M909.7 259.3l.3 4.1M912.6 301.7l.8 12.1M1169.8 94.4l8.8 122 3.7 56.5 .9 40.5-3 17.8-7.4-7.8-11.5-31.8-14.6-50.2-32.3-118.7-14.2-47.7-10.9-28.3-6.7-3.7-2.3 21.7 1.4 43.6 12.5 178.7 1.2 42.1-2.7 19.7-7-5.7-11.2-30.1-14.4-49-32.4-118.7-14.4-49-11.1-30.1-7.1-5.7-2.6 19.7 1.1 42.1 12.5 178.7 1.4 43.6-2.3 21.7-6.6-3.7-10.9-28.3-14.2-47.7-32.4-118.7-14.6-50.2-11.5-31.8-7.3-7.8-3 17.8 .9 40.5 3.6 56.5 8.8 122" fill="none" stroke="#100" stroke-width="0.95" stroke-linejoin="round" stroke-linecap="round"/><path d="M1172.3 115.2l1.1 .1M1137.4 202.2l39.6 4.4M1162.5 276.7l14.8 2.6M1164.4 287l2.2 .4M1143.1 226.9l1.2 .1M1086 138.1l31.2 1.3M1089 83.6l6.6-.1M1084.8 97.5l1.1 0M1035.3 170.3l51.6 3.5M1061.9 259.9l28.4 4.1M1080.4 309.5l5.8 1.1M1068.5 284.4l1.2 .2M1000 200.8l43.9 3.8M998.2 124.5l20 .2M1000.6 98.7l1.1 0M996.5 145.2l1.1 .1M959.2 231l41.7 4.5M984.8 308.8l17.1 3M990 325.3l2.3 .5M969.5 269.7l1.1 .2M911.2 180.6l32.4 1.7M913.5 122l7.7-.1M804.1 129.9l2.2 0M909.4 130l1.1 0M803.4 196l70.5 4.4M876.2 200.5l2.2 .2M880.7 200.8l2.2 .2M885.1 201.1l3.4 .2M890.7 201.4l2.3 .2M895.2 201.7l2.3 .2M899.7 202l2.2 .1M904.2 202.3l2.2 .1M909.8 202.6l1.1 .1M805.5 278.8l109 15.2M1172 113.3l1.1 0M1137.5 202.8l39.6 4.7M1176.7 282.3l1.2 .2M1164.9 290.3l2.3 .4M1096.9 222l1.1 .2M1143.4 228.2l1.1 .2M1085.7 136.9l31.2 1M1089.5 80.3l5.5-.2M1084.3 94.5l1.1 0M1035.3 169.9l51.5 3.2M1062.1 261.6l28.5 4.6M1079.9 312.7l6.9 1.5M1069 287.1l1.1 .2M1000 200.8l43.9 3.8M998.9 122.2l18.8-.2M997.8 95.3l3.3-.2M996.1 143.1l1.1 0M959.3 231.5l41.8 4.7M989.9 312.4l1.1 .2M1001.3 314.6l1.2 .2M990.6 328.7l2.2 .5M969.8 271.3l1.1 .1M911 179.6l32.4 1.3M917.3 118.7l3.3-.1M804.1 129.9l2.2-.1M908.9 126.8l1.1 0M803.4 196l80.5 4.3M886.1 200.4l16.8 .9M905.1 201.5l2.3 .1M909.6 201.7l1.1 .1M805.5 278.8l109.3 17.2M1111.3 108.4l2.2 0M1117.9 108.2l1.1 0M1170.9 107.1l1.1-.1M1137.9 205l39.7 5.5M1176.2 291.9l3.4 .9M1165.6 300.7l3.5 .9M1090.5 224l11.4 1.8M1104.2 226.2l21.7 3.4M1128.1 230l10.3 1.6M1141.8 232.2l3.4 .5M1087.3 132.8l2.2 0M1092.8 132.8l1.1 0M1098.3 132.8l1.2 0M1115 132.9l1.1 0M1086.6 69.7l6.5-.7M1081.5 84.8l2.2-.2M1035 168.4l51.4 2.5M1090.7 272.9l1.1 .2M1079.5 323.1l9.3 2.6M1070.4 295.5l1.2 .3M1000 200.8l43.9 3.8M1014.1 113.6l2.2-.1M992.6 84.3l6.5-.7M994.9 136.2l1.1 0M959.5 233.1l41.9 5.3M1001.8 324.1l2.3 .6M882.5 306.2l1.3 .9M990.1 339.1l4.6 1.2M915.8 266.8l4.6 .8M922.7 268l5.7 1M931.8 269.6l1.2 .2M935.2 270.2l1.2 .2M939.8 271l1.1 .2M943.2 271.6l1.2 .2M947.8 272.4l1.1 .2M955.8 273.7l1.1 .2M960.3 274.5l1.2 .2M963.8 275.1l1.1 .2M969.5 276.1l2.3 .3M911.5 176.1l8.9 .2M922.6 176.3l3.4 0M928.2 176.4l2.2 0M933.7 176.5l8.9 .1M910.1 108.6l8.7-.9M804.1 129.9l2.1-1.1M906 116.7l2.2-.2M803.4 196l8.8-.3 20 .4 78 2.7M805.5 278.8l9.3 3 20.8 4.7 80.3 15.8M1107.7 100.4l27.2-3 34.9-3M1177.5 216.2l1.1 .2M1167.9 308.1l15.3 5.3M1095.7 293.7l32.2 13.2 44.9 16.5M1091.6 230.1l55.1 11.3M1113.3 122.8l1.1-.1M1082.9 48.1l6.4-1.4M1007.6 80.4l13.8-3.6 16-3.7 42.9-8.4M1033.3 165.2l52.4 1.3M1093 286.7l1.2 .3M1008.1 314.3l1.2 .6M1011.7 316l9.7 4.4M1023.8 321.5l29.8 12.4 39.1 14.9M1006.5 291.2l29.4 9.9 38.6 11.9M1000 200.8l43.9 3.8M1010.1 96.7l3.2-.4M913.8 83.6l13.5-5.1 17.9-5.6 22.3-5.9 27.6-6.5M930.6 129.6l27.1-3.5 35.9-3.8M961.3 236.8l9.1 1.3M972.6 238.5l2.3 .3M977.2 239.2l2.3 .3M981.7 239.8l1.2 .2M986.3 240.5l1.1 .1M990.8 241.1l1.2 .2M994.2 241.6l1.2 .2M998.8 242.3l3.4 .5M1001.7 342.6l5.8 2M882.5 306.2l1.8 3.7 1.4 1.6 5.2 4.5 8.7 5.6 12.1 6.3 15.7 7.1 19 7.9 52.2 19.7M915.9 273.6l57.6 13M940 167.9l1.1 0M906.5 87.7l8.5-1.8M804.1 129.9l.6-3.2 .9-1.4 3.8-3.3 7.1-3.9 10.4-3.9 13.7-4.2 17-4.3 47.1-9.8M803.4 196l.9-.9 1.1-.3 4.3-.7 18.6-1.1 32.1-.4 48.8 .3M805.5 278.8l1.4 2.2 1.3 1 4.9 2.7 8.4 3.4 11.7 4 33.8 9.8 51 13" fill="none" stroke="#100" stroke-width="0.95" stroke-linejoin="round" stroke-linecap="round"/><path d="M1128.7 173.4 1129.7 173.4 1130.7 173.5 1131.7 173.6 1132.7 173.7 1133.7 173.8 1134.7 173.9 1135.7 174 1136.7 174.1 1137.7 174.1 1138.7 174.2 1139.7 174.3 1140.7 174.4 1141.7 174.5 1142.7 174.6 1143.7 174.7 1144.7 174.8 1145.7 174.8 1146.7 174.9 1147.7 175 1148.7 175.1 1149.7 175.2 1150.7 175.3 1151.7 175.4 1152.7 175.5 1153.7 175.5 1154.7 175.6 1155.7 175.7 1156.7 175.8 1157.7 175.9 1158.7 176 1159.7 176.1 1160.7 176.2 1161.7 176.2 1162.7 176.3 1163.7 176.4 1164.7 176.5 1165.7 176.6 1166.7 176.7 1167.7 176.8 1168.7 176.9 1169.7 176.9 1170.7 177 1171.7 177.1 1172.7 177.2 1173.7 177.3 1174.7 177.4 1175.7 177.5M1087.8 182.7 1088.8 182.8 1089.8 182.9 1090.8 182.9 1091.8 183 1092.8 183.1 1093.8 183.2 1094.8 183.3 1095.8 183.4 1096.8 183.5 1097.8 183.6 1098.8 183.6 1099.8 183.7 1100.8 183.8 1101.8 183.9 1102.8 184 1103.8 184.1 1104.8 184.2 1105.8 184.3 1106.8 184.3 1107.8 184.4 1108.8 184.5 1109.8 184.6 1110.8 184.7 1111.8 184.8 1112.8 184.9 1113.8 185 1114.8 185 1115.8 185.1 1116.8 185.2 1117.8 185.3 1118.8 185.4 1119.8 185.5 1120.8 185.6 1121.8 185.7 1122.8 185.7 1123.8 185.8 1124.8 185.9 1125.8 186 1126.8 186.1 1127.8 186.2 1128.8 186.3 1129.8 186.4 1130.8 186.4 1131.8 186.5M1040.9 191.5 1041.9 191.6 1042.9 191.7 1043.9 191.7 1044.9 191.8 1045.9 191.9 1046.9 192 1047.9 192.1 1048.9 192.2 1049.9 192.3 1050.9 192.4 1051.9 192.4 1052.9 192.5 1053.9 192.6 1054.9 192.7 1055.9 192.8 1056.9 192.9 1057.9 193 1058.9 193.1 1059.9 193.1 1060.9 193.2 1061.9 193.3 1062.9 193.4 1063.9 193.5 1064.9 193.6 1065.9 193.7 1066.9 193.8 1067.9 193.8 1068.9 193.9 1069.9 194 1070.9 194.1 1071.9 194.2 1072.9 194.3 1073.9 194.4 1074.9 194.5 1075.9 194.5 1076.9 194.6 1077.9 194.7 1078.9 194.8 1079.9 194.9 1080.9 195 1081.9 195.1 1082.9 195.2 1083.9 195.2 1084.9 195.3 1085.9 195.4 1086.9 195.5 1087.9 195.6M999.9 200.8 1000.9 200.9 1001.9 201 1002.9 201.1 1003.9 201.2 1004.9 201.2 1005.9 201.3 1006.9 201.4 1007.9 201.5 1008.9 201.6 1009.9 201.7 1010.9 201.8 1011.9 201.9 1012.9 201.9 1013.9 202 1014.9 202.1 1015.9 202.2 1016.9 202.3 1017.9 202.4 1018.9 202.5 1019.9 202.6 1020.9 202.6 1021.9 202.7 1022.9 202.8 1023.9 202.9 1024.9 203 1025.9 203.1 1026.9 203.2 1027.9 203.3 1028.9 203.3 1029.9 203.4 1030.9 203.5 1031.9 203.6 1032.9 203.7 1033.9 203.8 1034.9 203.9 1035.9 204 1036.9 204 1037.9 204.1 1038.9 204.2 1039.9 204.3 1040.9 204.4 1041.9 204.5 1042.9 204.6 1043.9 204.7M953 209.6 954 209.7 955 209.8 956 209.9 957 210 958 210 959 210.1 960 210.2 961 210.3 962 210.4 963 210.5 964 210.6 965 210.7 966 210.7 967 210.8 968 210.9 969 211 970 211.1 971 211.2 972 211.3 973 211.4 974 211.4 975 211.5 976 211.6 977 211.7 978 211.8 979 211.9 980 212 981 212.1 982 212.1 983 212.2 984 212.3 985 212.4 986 212.5 987 212.6 988 212.7 989 212.8 990 212.8 991 212.9 992 213 993 213.1 994 213.2 995 213.3 996 213.4 997 213.4 998 213.5 999 213.6 1000 213.7M912.1 218.9 913.1 219 914.1 219.1 915.1 219.2 916.1 219.3 917.1 219.4 918.1 219.5 919.1 219.5 920.1 219.6 921.1 219.7 922.1 219.8 923.1 219.9 924.1 220 925.1 220.1 926.1 220.2 927.1 220.2 928.1 220.3 929.1 220.4 930.1 220.5 931.1 220.6 932.1 220.7 933.1 220.8 934.1 220.9 935.1 220.9 936.1 221 937.1 221.1 938.1 221.2 939.1 221.3 940.1 221.4 941.1 221.5 942.1 221.5 943.1 221.6 944.1 221.7 945.1 221.8 946.1 221.9 947.1 222 948.1 222.1 949.1 222.2 950.1 222.2 951.1 222.3 952.1 222.4 953.1 222.5 954.1 222.6 955.1 222.7 956.1 222.8M804.1 222.4 805.1 222.5 806.1 222.6 807.1 222.7 808.1 222.7 809.1 222.8 810.1 222.9 811.1 223 812.1 223.1 813.1 223.2 814.1 223.3 815.1 223.4 816.1 223.4 817.1 223.5 818.1 223.6 819.1 223.7 820.1 223.8 821.1 223.9 822.1 224 823.1 224.1 824.1 224.1 825.1 224.2 826.1 224.3 827.1 224.4 828.1 224.5 829.1 224.6 830.1 224.7 831.1 224.8 832.1 224.8 833.1 224.9 834.1 225 835.1 225.1 836.1 225.2 837.1 225.3 838.1 225.4 839.1 225.5 840.1 225.5 841.1 225.6 842.1 225.7 843.1 225.8 844.1 225.9 845.1 226 846.1 226.1 847.1 226.2 848.1 226.2 849.1 226.3 850.1 226.4 851.1 226.5 852.1 226.6 853.1 226.7 854.1 226.8 855.1 226.9 856.1 226.9 857.1 227 858.1 227.1 859.1 227.2 860.1 227.3 861.1 227.4 862.1 227.5 863.1 227.6 864.1 227.6 865.1 227.7 866.1 227.8 867.1 227.9 868.1 228 869.1 228.1 870.1 228.2 871.1 228.3 872.1 228.3 873.1 228.4 874.1 228.5 875.1 228.6 876.1 228.7 877.1 228.8 878.1 228.9 879.1 229 880.1 229 881.1 229.1 882.1 229.2 883.1 229.3 884.1 229.4 885.1 229.5 886.1 229.6 887.1 229.6 888.1 229.7 889.1 229.8 890.1 229.9 891.1 230 892.1 230.1 893.1 230.2 894.1 230.3 895.1 230.3 896.1 230.4 897.1 230.5 898.1 230.6 899.1 230.7 900.1 230.8 901.1 230.9 902.1 231 903.1 231 904.1 231.1 905.1 231.2 906.1 231.3 907.1 231.4 908.1 231.5 909.1 231.6 910.1 231.7 911.1 231.7 912.1 231.8" fill="none" stroke="#ff0" stroke-width="2.2" stroke-dasharray="2 2.5"/><g stroke="#000" stroke-width="2.3" stroke-linecap="round"><line x1="821.7" y1="373.4" x2="770.5" y2="74.7"/><line x1="821.7" y1="373.4" x2="929.6" y2="382.9"/><line x1="770.5" y1="74.7" x2="1050.2" y2="17"/><line x1="770.5" y1="74.7" x2="878.5" y2="84.1"/><line x1="1050.2" y1="17" x2="1158.2" y2="26.4"/><line x1="929.6" y1="382.9" x2="878.5" y2="84.1"/><line x1="929.6" y1="382.9" x2="1209.3" y2="325.2"/><line x1="878.5" y1="84.1" x2="1158.2" y2="26.4"/><line x1="1209.3" y1="325.2" x2="1158.2" y2="26.4"/></g><g stroke="#000" stroke-width="2"><line x1="820.6" y1="367.4" x2="814.1" y2="367.4"/><line x1="818.9" y1="357.3" x2="812.4" y2="357.3"/><line x1="817.2" y1="347.2" x2="810.7" y2="347.2"/><line x1="815.4" y1="337.2" x2="808.9" y2="337.2"/><line x1="813.7" y1="327.1" x2="801.2" y2="327.1"/><line x1="812" y1="317" x2="805.5" y2="317"/><line x1="810.3" y1="307" x2="803.8" y2="307"/><line x1="808.6" y1="296.9" x2="802.1" y2="296.9"/><line x1="806.8" y1="286.8" x2="800.3" y2="286.8"/><line x1="805.1" y1="276.8" x2="792.6" y2="276.8"/><line x1="803.4" y1="266.7" x2="796.9" y2="266.7"/><line x1="801.7" y1="256.6" x2="795.2" y2="256.6"/><line x1="799.9" y1="246.6" x2="793.4" y2="246.6"/><line x1="798.2" y1="236.5" x2="791.7" y2="236.5"/><line x1="796.5" y1="226.4" x2="784" y2="226.4"/><line x1="794.8" y1="216.4" x2="788.3" y2="216.4"/><line x1="793.1" y1="206.3" x2="786.6" y2="206.3"/><line x1="791.3" y1="196.2" x2="784.8" y2="196.2"/><line x1="789.6" y1="186.2" x2="783.1" y2="186.2"/><line x1="787.9" y1="176.1" x2="775.4" y2="176.1"/><line x1="786.2" y1="166" x2="779.7" y2="166"/><line x1="784.5" y1="156" x2="778" y2="156"/><line x1="782.7" y1="145.9" x2="776.2" y2="145.9"/><line x1="781" y1="135.8" x2="774.5" y2="135.8"/><line x1="779.3" y1="125.8" x2="766.8" y2="125.8"/><line x1="777.6" y1="115.7" x2="771.1" y2="115.7"/><line x1="775.8" y1="105.6" x2="769.3" y2="105.6"/><line x1="774.1" y1="95.5" x2="767.6" y2="95.5"/><line x1="772.4" y1="85.5" x2="765.9" y2="85.5"/><line x1="821.7" y1="373.4" x2="823.8" y2="385.8"/><line x1="832.5" y1="374.4" x2="833.5" y2="380.8"/><line x1="843.3" y1="375.3" x2="845.4" y2="387.6"/><line x1="854.1" y1="376.3" x2="855.1" y2="382.7"/><line x1="864.9" y1="377.2" x2="867" y2="389.5"/><line x1="875.7" y1="378.2" x2="876.7" y2="384.6"/><line x1="886.5" y1="379.1" x2="888.6" y2="391.4"/><line x1="897.2" y1="380" x2="898.3" y2="386.5"/><line x1="908" y1="381" x2="910.2" y2="393.3"/><line x1="918.9" y1="381.9" x2="919.9" y2="388.3"/><line x1="929.6" y1="382.9" x2="931.8" y2="395.2"/><line x1="943.6" y1="380" x2="944.7" y2="386.4"/><line x1="957.6" y1="377.1" x2="958.7" y2="383.5"/><line x1="971.6" y1="374.2" x2="972.7" y2="380.6"/><line x1="985.6" y1="371.3" x2="986.7" y2="377.7"/><line x1="999.6" y1="368.5" x2="1001.7" y2="380.8"/><line x1="1013.5" y1="365.6" x2="1014.6" y2="372"/><line x1="1027.5" y1="362.7" x2="1028.6" y2="369.1"/><line x1="1041.5" y1="359.8" x2="1042.6" y2="366.2"/><line x1="1055.5" y1="356.9" x2="1056.6" y2="363.3"/><line x1="1069.5" y1="354" x2="1071.6" y2="366.4"/><line x1="1083.5" y1="351.1" x2="1084.6" y2="357.6"/><line x1="1097.4" y1="348.3" x2="1098.5" y2="354.7"/><line x1="1111.4" y1="345.4" x2="1112.5" y2="351.8"/><line x1="1125.4" y1="342.5" x2="1126.5" y2="348.9"/><line x1="1139.4" y1="339.6" x2="1141.5" y2="351.9"/><line x1="1153.4" y1="336.7" x2="1154.5" y2="343.1"/><line x1="1167.4" y1="333.8" x2="1168.4" y2="340.2"/><line x1="1181.3" y1="331" x2="1182.4" y2="337.4"/><line x1="1195.3" y1="328.1" x2="1196.4" y2="334.5"/><line x1="1209.3" y1="325.2" x2="1211.4" y2="337.5"/></g><g font-family="Liberation Serif, serif" font-size="20" fill="#000"><text x="800.2" y="335.4" text-anchor="end">−1</text><text x="791.6" y="285" text-anchor="end">−0.5</text><text x="783" y="234.7" text-anchor="end">0</text><text x="774.4" y="184.3" text-anchor="end">0.5</text><text x="765.8" y="134" text-anchor="end">1</text><text x="826" y="405.8" text-anchor="middle">0</text><text x="869.2" y="409.6" text-anchor="middle">0.04</text><text x="934" y="415.3" text-anchor="middle">10</text><text x="1003.9" y="400.8" text-anchor="middle">5</text><text x="1073.9" y="386.4" text-anchor="middle">0</text><text x="1143.8" y="372" text-anchor="middle">−5</text><text x="1213.7" y="357.6" text-anchor="middle">−10</text></g><g font-family="Liberation Serif, serif" font-size="20" fill="#000"><text x="886.8" y="449.5" text-anchor="middle" font-style="italic">t</text><text x="1078.7" y="421.3" text-anchor="middle" font-style="italic">x</text></g><text x="758.4" y="31.9" font-family="Liberation Sans, Arial, sans-serif" font-weight="bold" font-size="38.5">B</text><g stroke="#000" stroke-width="2" stroke-linecap="round"><line x1="1313.5" y1="362.9" x2="1582.4" y2="310.7"/><line x1="1582.4" y1="310.7" x2="1575.3" y2="4.6"/><line x1="1582.4" y1="310.7" x2="1751.6" y2="380.6"/></g><g><path fill="#9764ef" d="M1495 71.6l7.8 2.6-2.5 23.3-7.9-2.7z"/><path fill="#9665fb" d="M1494.7 72.4l2.7-18.8 7.8 2.5-2.6 18.9z"/><path fill="#924044" d="M1382.7 335.5l-2.6-5.5 7.7 3.1 2.6 5.5z"/><path fill="#9665ff" d="M1507.7 43.1l-2.7 13.8-7.9-2.6 2.8-13.7z"/><path fill="#c69bff" d="M1505.6 31.8l7.3 3.1-3 2-7.4-3z"/><path fill="#9667ff" d="M1502.6 33.3l7.8 2.6-2.9 8.1-7.8-2.7z"/><path fill="#a1454d" d="M1384.8 322.6l2.7 11.3-7.8-3.3-2.7-11.2z"/><path fill="#976bef" d="M1502 74.1l7.9 2.6-2.6 23.3-7.8-2.6z"/><path fill="#966cfc" d="M1501.8 74.8l2.6-18.8 7.9 2.5-2.7 18.9z"/><path fill="#a64755" d="M1376.6 320.1l-2.8-16.5 7.8 3.2 2.9 16.6z"/><path fill="#924543" d="M1389.7 339l-2.6-5.5 7.8 3 2.6 5.5z"/><path fill="#966dff" d="M1514.8 45.5l-2.8 13.8-7.8-2.6 2.7-13.7z"/><path fill="#c5a2ff" d="M1512.6 34.2l7.4 3-3.1 2.1-7.3-3.1z"/><path fill="#966fff" d="M1509.6 35.7l7.8 2.6-2.9 8-7.8-2.6z"/><path fill="#a14b4d" d="M1391.9 326.1l2.7 11.3-7.8-3.3-2.8-11.3z"/><path fill="#9773ef" d="M1509.1 76.6l7.8 2.6-2.5 23.4-7.9-2.6z"/><path fill="#9673fc" d="M1508.8 77.3l2.7-18.9 7.8 2.5-2.7 19z"/><path fill="#a64d54" d="M1383.7 323.5l-2.9-16.5 7.9 3.2 2.8 16.6z"/><path fill="#934943" d="M1396.8 342.5l-2.6-5.5 7.8 3 2.5 5.5z"/><path fill="#9675ff" d="M1521.8 47.9l-2.8 13.8-7.8-2.6 2.8-13.7z"/><path fill="#c5a9ff" d="M1519.6 36.5l7.4 3.1-3 2-7.4-3.1z"/><path fill="#9677ff" d="M1516.6 38l7.8 2.6-2.9 8.1-7.8-2.6z"/><path fill="#a1504d" d="M1398.9 329.5l2.7 11.3-7.8-3.2-2.7-11.3z"/><path fill="#977aef" d="M1516.1 79.1l7.8 2.5-2.5 23.6-7.8-2.7z"/><path fill="#967bfc" d="M1515.8 79.8l2.7-19 7.8 2.5-2.6 19.1z"/><path fill="#a65254" d="M1390.7 327l-2.8-16.7 7.8 3.2 2.9 16.7z"/><path fill="#934e43" d="M1403.8 346l-2.5-5.6 7.7 3.1 2.6 5.5z"/><path fill="#967cff" d="M1528.8 50.2l-2.7 13.9-7.9-2.6 2.8-13.8z"/><path fill="#c5b0ff" d="M1526.7 38.8l7.3 3.1-3 2-7.4-3z"/><path fill="#967eff" d="M1523.7 40.3l7.8 2.6-2.9 8.1-7.8-2.6z"/><path fill="#a1554c" d="M1406 332.9l2.7 11.4-7.8-3.2-2.7-11.4z"/><path fill="#9782ef" d="M1523.1 81.6l7.9 2.5-2.6 23.7-7.8-2.7z"/><path fill="#4f8445" d="M1642.5 347.3l-2.6-7.7 7.8 3.2 2.6 7.7z"/><path fill="#9682fc" d="M1522.9 82.3l2.6-19.1 7.9 2.5-2.7 19.2z"/><path fill="#a65754" d="M1397.8 330.4l-2.8-16.7 7.8 3.2 2.9 16.8z"/><path fill="#935343" d="M1410.9 349.5l-2.6-5.6 7.8 3.1 2.6 5.5z"/><path fill="#9684ff" d="M1535.9 52.6l-2.8 13.9-7.8-2.6 2.7-13.8z"/><path fill="#c5b7ff" d="M1533.7 41.2l7.4 3-3.1 2.1-7.3-3.1z"/><path fill="#cf64f1" d="M1418.7 87.4l-2.6 22.6-7.8-2.6 2.6-22.6z"/><path fill="#9686ff" d="M1530.7 42.7l7.8 2.6-2.9 8.1-7.8-2.6z"/><path fill="#a15a4c" d="M1413.1 336.3l2.7 11.5-7.9-3.3-2.7-11.4z"/><path fill="#9789f0" d="M1530.2 84l7.8 2.6-2.5 23.7-7.9-2.6z"/><path fill="#cf65fd" d="M1413.3 67.5l7.8 2.5-2.7 18.1-7.8-2.6z"/><path fill="#4f8945" d="M1649.6 350.8l-2.6-7.7 7.8 3.2 2.6 7.7z"/><path fill="#ffadff" d="M1428.8 51.7l-3.1 1-7.1-3.1 3-1zM1397.8 85.9l7.7 2.7-2.9 6.3-7.8-2.7z"/><path fill="#cf66ff" d="M1415.8 55.5l7.8 2.5-2.8 12.8-7.8-2.6z"/><path fill="#d168ff" d="M1415.6 56.1l2.9-7 7.8 2.6-2.9 7.1z"/><path fill="#a65d54" d="M1404.9 333.8l-2.9-16.8 7.9 3.2 2.8 16.9z"/><path fill="#968afd" d="M1529.9 84.8l2.7-19.2 7.8 2.5-2.6 19.3z"/><path fill="#935843" d="M1418 353l-2.6-5.6 7.7 3.1 2.6 5.5z"/><path fill="#54904d" d="M1651.7 333.2l2.7 13.8-7.8-3.3-2.8-13.7z"/><path fill="#968bff" d="M1542.9 54.9l-2.8 14-7.8-2.5 2.8-14z"/><path fill="#c5beff" d="M1540.7 43.5l7.4 3-3 2.1-7.4-3.1z"/><path fill="#cf6cf1" d="M1425.7 89.8l-2.5 22.8-7.9-2.7 2.6-22.6z"/><path fill="#968eff" d="M1537.7 45l7.8 2.6-2.9 8.1-7.8-2.6z"/><path fill="#a1604c" d="M1420.1 339.8l2.7 11.5-7.8-3.3-2.7-11.4z"/><path fill="#9791f0" d="M1537.2 86.5l7.9 2.6-2.6 23.8-7.8-2.6z"/><path fill="#4f8e44" d="M1656.7 354.4l-2.7-7.8 7.8 3.2 2.7 7.8z"/><path fill="#cf6cfe" d="M1420.3 69.9l7.8 2.5-2.6 18.2-7.9-2.6z"/><path fill="#579255" d="M1643.5 330.7l-2.9-19.1 7.8 3.2 2.9 19.2z"/><path fill="#ff6495" d="M1321.5 262l-2.6 27.1-7.8-3.3 2.5-27z"/><path fill="#ffb4ff" d="M1435.8 54l-3.1 1.1-7.1-3.2 3.1-1z"/><path fill="#cf6dff" d="M1422.8 57.8l7.9 2.5-2.8 12.9-7.8-2.5z"/><path fill="#d16fff" d="M1422.6 58.5l2.9-7.1 7.8 2.7-2.9 7.1z"/><path fill="#a66254" d="M1411.9 337.2l-2.8-16.8 7.8 3.2 2.9 16.9z"/><path fill="#9691fd" d="M1537 87.3l2.6-19.3 7.8 2.5-2.6 19.3z"/><path fill="#935d43" d="M1425 356.5l-2.5-5.6 7.7 3 2.6 5.7z"/><path fill="#54954c" d="M1658.7 336.7l2.8 13.8-7.8-3.3-2.8-13.8z"/><path fill="#9693ff" d="M1549.9 57.3l-2.7 14-7.8-2.5 2.7-14z"/><path fill="#c4c5ff" d="M1547.8 45.8l7.3 3.1-3 2-7.4-3z"/><path fill="#ff64a4" d="M1315.8 230.3l7.8 3.1-2.5 29.3-7.8-3.2z"/><path fill="#cf73f1" d="M1432.8 92.3l-2.6 22.8-7.8-2.6 2.5-22.7z"/><path fill="#9695ff" d="M1544.8 47.3l7.8 2.6-2.9 8.2-7.8-2.6z"/><path fill="#a1654c" d="M1427.2 343.2l2.7 11.6-7.8-3.3-2.8-11.5z"/><path fill="#9798f0" d="M1544.3 89l7.8 2.6-2.5 23.9-7.9-2.7z"/><path fill="#4f9344" d="M1663.7 357.9l-2.6-7.8 7.8 3.1 2.6 7.9z"/><path fill="#579855" d="M1650.5 334.1l-2.9-19.2 7.9 3.2 2.9 19.3z"/><path fill="#ce74fe" d="M1427.3 72.3l7.9 2.5-2.7 18.3-7.8-2.6z"/><path fill="#ff6b94" d="M1328.5 265.1l-2.5 27.3-7.9-3.3 2.6-27.2z"/><path fill="#ffbaff" d="M1442.8 56.3l-3 1.1-7.2-3.1 3.1-1.1z"/><path fill="#cf75ff" d="M1429.9 60.2l7.8 2.5-2.8 12.9-7.8-2.5z"/><path fill="#ff64b4" d="M1317.9 200.9l7.8 2.9-2.4 30.3-7.8-3.1z"/><path fill="#a66754" d="M1419 340.7l-2.9-16.9 7.9 3.2 2.8 17z"/><path fill="#d177ff" d="M1429.7 60.9l2.9-7.1 7.7 2.6-2.9 7.1z"/><path fill="#9699fd" d="M1544 89.7l2.6-19.3 7.9 2.5-2.7 19.4z"/><path fill="#936142" d="M1432.1 360l-2.6-5.6 7.8 3 2.5 5.7z"/><path fill="#549b4c" d="M1665.8 340.1l2.8 13.9-7.9-3.3-2.7-13.8z"/><path fill="#969aff" d="M1557 59.6l-2.8 14.1-7.8-2.5 2.7-14.1z"/><path fill="#c4ccff" d="M1554.8 48.1l7.4 3.1-3.1 2-7.3-3z"/><path fill="#ff6ba4" d="M1322.8 233.3l7.9 3.1-2.5 29.4-7.8-3.2z"/><path fill="#cf7af1" d="M1439.8 94.8l-2.6 22.9-7.8-2.7 2.6-22.8z"/><path fill="#969dff" d="M1551.8 49.6l7.8 2.6-2.9 8.2-7.8-2.6z"/><path fill="#59995e" d="M1647.3 315.6l-3-23.8 7.8 3.2 3 23.9z"/><path fill="#a16a4c" d="M1434.2 346.7l2.8 11.5-7.9-3.2-2.7-11.6z"/><path fill="#ff64c5" d="M1317.6 201.6l2.4-29.9 7.9 2.9-2.5 30z"/><path fill="#4f9844" d="M1670.8 361.4l-2.6-7.8 7.8 3.1 2.6 7.9z"/><path fill="#979ff0" d="M1551.3 91.5l7.8 2.5-2.5 24.1-7.8-2.7z"/><path fill="#579d54" d="M1657.6 337.6l-2.9-19.3 7.8 3.2 2.9 19.4z"/><path fill="#ce7bfe" d="M1434.4 74.7l7.8 2.5-2.7 18.4-7.8-2.6z"/><path fill="#ff7394" d="M1335.6 268.2l-2.5 27.4-7.9-3.3 2.5-27.3z"/><path fill="#ffc1ff" d="M1449.9 58.7l-3.1 1-7.1-3.1 3-1zM1424 101l-2.8 12.5-7.9-2.5 2.8-12.5z"/><path fill="#cf7cff" d="M1436.9 62.5l7.8 2.5-2.8 13-7.8-2.5z"/><path fill="#ff6bb4" d="M1324.9 203.8l7.9 2.9-2.4 30.4-7.9-3.1z"/><path fill="#a66d53" d="M1426 344.1l-2.8-17 7.8 3.2 2.9 17.1z"/><path fill="#d17fff" d="M1436.7 63.2l2.9-7.1 7.8 2.6-2.9 7.2z"/><path fill="#936642" d="M1439.2 363.5l-2.6-5.7 7.7 3.1 2.6 5.7z"/><path fill="#96a0fd" d="M1551 92.2l2.7-19.4 7.8 2.5-2.6 19.5z"/><path fill="#54a04c" d="M1672.9 343.6l2.7 13.9-7.8-3.3-2.8-13.9z"/><path fill="#ff64d6" d="M1330 146.9l-2.4 28.4-7.9-2.8 2.5-28.4z"/><path fill="#95a2ff" d="M1564 62l-2.8 14.1-7.8-2.5 2.8-14.1z"/><path fill="#728243" d="M1558.5 364.3l-2.6-6.8 7.8 3.2 2.6 6.7z"/><path fill="#ff72a4" d="M1329.9 236.3l7.8 3.1-2.4 29.5-7.9-3.1z"/><path fill="#c4d3ff" d="M1561.8 50.4l7.4 3.1-3 2-7.4-3z"/><path fill="#cf82f2" d="M1446.9 97.3l-2.6 22.9-7.9-2.6 2.6-22.9z"/><path fill="#599e5e" d="M1654.3 319l-3-23.9 7.9 3.1 3 24z"/><path fill="#96a5ff" d="M1558.8 52l7.8 2.5-2.9 8.3-7.8-2.6z"/><path fill="#a16f4b" d="M1441.3 350.1l2.7 11.6-7.8-3.2-2.7-11.6z"/><path fill="#ff6bc5" d="M1324.6 204.5l2.5-30 7.8 2.8-2.4 30.1z"/><path fill="#4f9d44" d="M1677.8 364.9l-2.6-7.8 7.8 3.1 2.6 8z"/><path fill="#ff64e5" d="M1324.4 119.3l7.9 2.6-2.6 25.7-7.8-2.7z"/><path fill="#57a354" d="M1664.7 341l-2.9-19.4 7.8 3.2 2.9 19.5z"/><path fill="#ce83fe" d="M1441.4 77.1l7.8 2.5-2.6 18.4-7.8-2.6z"/><path fill="#ff7a94" d="M1342.6 271.3l-2.5 27.5-7.8-3.3 2.5-27.4z"/><path fill="#ff72b4" d="M1332 206.6l7.8 3-2.4 30.5-7.8-3.1z"/><path fill="#a67253" d="M1433.1 347.6l-2.8-17.1 7.8 3.2 2.9 17.1z"/><path fill="#ffc8ff" d="M1456.9 61l-3.1 1.1-7.1-3.2 3.1-1zM1431 103.3l-2.8 12.6-7.8-2.6 2.8-12.5z"/><path fill="#cf84ff" d="M1444 64.9l7.8 2.5-2.8 13-7.8-2.5z"/><path fill="#936b42" d="M1446.2 367l-2.6-5.7 7.8 3.1 2.6 5.7z"/><path fill="#d186ff" d="M1443.7 65.6l2.9-7.2 7.8 2.7-2.9 7.1z"/><path fill="#96a8fe" d="M1558.1 94.7l2.6-19.5 7.8 2.5-2.6 19.6z"/><path fill="#ff64f3" d="M1326.7 98.1l7.9 2.6-2.6 21.9-7.9-2.6z"/><path fill="#54a54c" d="M1679.9 347l2.8 14-7.9-3.3-2.7-14z"/><path fill="#ff6bd6" d="M1337.1 149.5l-2.5 28.6-7.8-2.8 2.4-28.5z"/><path fill="#5b9f69" d="M1651 295.8l-3.1-27.5 7.8 3 3.1 27.6z"/><path fill="#64dabd" d="M1685.3 181.5l7.8 2.9-2.4 32.2-7.8-3z"/><path fill="#95a9ff" d="M1571 64.3l-2.7 14.2-7.8-2.5 2.7-14.2z"/><path fill="#728743" d="M1565.6 367.8l-2.6-6.8 7.7 3.2 2.6 6.8z"/><path fill="#ff7aa4" d="M1336.9 239.3l7.9 3.1-2.5 29.7-7.8-3.2z"/><path fill="#c4daff" d="M1568.9 52.8l7.3 3-3 2.1-7.4-3.1z"/><path fill="#cf89f2" d="M1453.9 99.7l-2.6 23.1-7.8-2.6 2.6-23z"/><path fill="#59a45e" d="M1661.4 322.3l-3-24 7.8 3.2 3.1 24.1z"/><path fill="#ff65ff" d="M1326.5 98.9l2.7-17.3 7.8 2.5-2.7 17.3z"/><path fill="#a1744b" d="M1448.4 353.5l2.7 11.7-7.9-3.2-2.7-11.7z"/><path fill="#96acff" d="M1565.9 54.3l7.8 2.6-2.9 8.2-7.8-2.6z"/><path fill="#61d3e0" d="M1680 149.1l2.5-28.7 7.8 2.6-2.4 28.9z"/><path fill="#ee70f7" d="M1337.7 65.5l6.9 3.1-3.1 .1-6.9-3.1z"/><path fill="#ff72c5" d="M1331.7 207.4l2.4-30.1 7.9 2.8-2.5 30.2z"/><path fill="#ff66ff" d="M1339.5 73l-2.8 11.9-7.8-2.6 2.8-11.9z"/><path fill="#66e1ab" d="M1698.1 218.8l-2.4 32.1-7.9-3.1 2.4-31.9z"/><path fill="#4fa244" d="M1684.9 368.5l-2.6-7.9 7.8 3.2 2.6 7.9z"/><path fill="#ff68ff" d="M1334.4 65l7.8 2.7-2.9 6.1-7.8-2.7z"/><path fill="#ff6be5" d="M1331.5 121.8l7.8 2.6-2.5 25.9-7.9-2.8z"/><path fill="#57a854" d="M1671.7 344.4l-2.9-19.4 7.9 3.2 2.9 19.5z"/><path fill="#7b8f4b" d="M1562.6 361.7l-2.8-12.9 7.9 3.3 2.7 12.9z"/><path fill="#ce8aff" d="M1448.5 79.5l7.8 2.5-2.7 18.5-7.8-2.6z"/><path fill="#ff8194" d="M1349.7 274.5l-2.5 27.6-7.9-3.3 2.5-27.5z"/><path fill="#63dacf" d="M1687.4 151.1l7.8 2.7-2.4 31.3-7.8-2.9z"/><path fill="#a67753" d="M1440.2 351l-2.9-17.1 7.9 3.2 2.8 17.2z"/><path fill="#ff7ab4" d="M1339 209.5l7.9 3-2.4 30.6-7.9-3z"/><path fill="#68e99a" d="M1692.8 280.6l2.4-30.5 7.8 3.2-2.4 30.5z"/><path fill="#ffceff" d="M1463.9 63.3l-3 1.1-7.2-3.1 3.1-1.1zM1425 133.2l2.7-18.2 7.8 2.5-2.7 18.2z"/><path fill="#cf8bff" d="M1451 67.2l7.8 2.5-2.8 13.1-7.8-2.5z"/><path fill="#937042" d="M1453.3 370.5l-2.6-5.7 7.8 3.1 2.5 5.7z"/><path fill="#d18eff" d="M1450.8 67.9l2.9-7.2 7.7 2.7-2.9 7.2z"/><path fill="#54aa4c" d="M1687 350.4l2.7 14.1-7.8-3.3-2.8-14z"/><path fill="#96affe" d="M1565.1 97.2l2.7-19.6 7.8 2.5-2.7 19.6z"/><path fill="#ff6cf3" d="M1333.8 100.6l7.8 2.5-2.6 22.1-7.8-2.7z"/><path fill="#ff72d6" d="M1344.1 152.2l-2.4 28.6-7.9-2.8 2.5-28.6z"/><path fill="#5ca076" d="M1652.2 242l3.2 30.1-7.8-3.1-3.2-29.9z"/><path fill="#5ba569" d="M1658.1 299l-3.2-27.6 7.9 3.1 3.1 27.7z"/><path fill="#64e1bd" d="M1692.3 184.3l7.8 2.9-2.3 32.4-7.9-3z"/><path fill="#7f9253" d="M1559.5 349.5l-2.9-18.3 7.8 3.2 2.9 18.4z"/><path fill="#728c43" d="M1572.6 371.3l-2.6-6.8 7.8 3.2 2.6 6.8z"/><path fill="#95b1ff" d="M1578.1 66.7l-2.8 14.2-7.8-2.5 2.8-14.2z"/><path fill="#ff81a4" d="M1344 242.3l7.8 3.1-2.4 29.8-7.9-3.2z"/><path fill="#6af18a" d="M1700.1 283l7.9 3.3-2.5 27.7-7.9-3.3z"/><path fill="#c4e1ff" d="M1575.9 55.1l7.4 3-3.1 2.1-7.3-3.1z"/><path fill="#59a95e" d="M1668.5 325.7l-3.1-24.1 7.9 3.1 3 24.2z"/><path fill="#a17a4b" d="M1455.4 357l2.7 11.7-7.8-3.3-2.7-11.6z"/><path fill="#cf91f2" d="M1460.9 102.2l-2.5 23.2-7.9-2.7 2.6-23.1z"/><path fill="#ff6cff" d="M1333.5 101.3l2.7-17.3 7.8 2.5-2.7 17.4z"/><path fill="#96b4ff" d="M1572.9 56.6l7.8 2.6-2.9 8.3-7.8-2.6z"/><path fill="#61dae0" d="M1687.1 151.8l2.4-28.8 7.8 2.6-2.4 29z"/><path fill="#ee75f7" d="M1344.8 67.8l6.8 3.1-3.1 .1-6.8-3.1z"/><path fill="#ff7ac5" d="M1338.7 210.3l2.5-30.3 7.8 2.9-2.4 30.3z"/><path fill="#66e9ab" d="M1705.1 221.8l-2.4 32.2-7.8-3.1 2.4-32.1z"/><path fill="#ff6dff" d="M1346.6 75.3l-2.8 12-7.9-2.6 2.9-11.9z"/><path fill="#4fa743" d="M1692 372l-2.7-7.9 7.8 3.2 2.7 7.9z"/><path fill="#57ad54" d="M1678.8 347.9l-2.9-19.6 7.8 3.3 2.9 19.6z"/><path fill="#ff70ff" d="M1341.5 67.3l7.7 2.7-2.9 6.2-7.8-2.7z"/><path fill="#ff73e5" d="M1338.5 124.4l7.8 2.6-2.5 25.9-7.8-2.7z"/><path fill="#7b954b" d="M1569.6 365.2l-2.7-12.9 7.8 3.2 2.8 13z"/><path fill="#ce92ff" d="M1455.5 81.9l7.8 2.5-2.6 18.6-7.9-2.6z"/><path fill="#ff8994" d="M1356.7 277.6l-2.5 27.7-7.8-3.3 2.5-27.6z"/><path fill="#6df97c" d="M1705 313.2l7.9 3.4-2.7 23.8-7.8-3.5z"/><path fill="#62e1cf" d="M1694.4 153.8l7.8 2.7-2.4 31.4-7.8-2.9z"/><path fill="#a67d53" d="M1447.2 354.4l-2.8-17.2 7.8 3.3 2.9 17.2z"/><path fill="#ff81b4" d="M1346.1 212.4l7.8 2.9-2.4 30.8-7.8-3z"/><path fill="#68f09a" d="M1699.8 283.8l2.5-30.6 7.8 3.2-2.4 30.6z"/><path fill="#ffd5ff" d="M1471 65.6l-3.1 1.1-7.1-3.1 3-1.1zM1432 135.6l2.7-18.3 7.8 2.5-2.6 18.4z"/><path fill="#cf93ff" d="M1458 69.6l7.8 2.5-2.7 13.1-7.9-2.5z"/><path fill="#937542" d="M1460.3 374l-2.5-5.7 7.7 3.1 2.6 5.7z"/><path fill="#d196ff" d="M1457.8 70.3l2.9-7.2 7.8 2.6-2.9 7.2z"/><path fill="#96b7fe" d="M1572.2 99.6l2.6-19.6 7.8 2.5-2.6 19.7z"/><path fill="#ff73f3" d="M1340.8 103l7.8 2.6-2.5 22.1-7.9-2.6z"/><path fill="#5ca576" d="M1659.3 245l3.2 30.2-7.9-3-3.2-30.1z"/><path fill="#ff7ad6" d="M1351.2 154.8l-2.5 28.8-7.8-2.8 2.4-28.7z"/><path fill="#5baa69" d="M1665.1 302.3l-3.1-27.7 7.8 3 3.2 27.9z"/><path fill="#64e9bd" d="M1699.3 187.1l7.9 2.9-2.4 32.5-7.8-3z"/><path fill="#7f9853" d="M1566.5 353l-2.8-18.4 7.8 3.2 2.9 18.5z"/><path fill="#72ff6a" d="M1704.5 370.3l2.9-12.8 7.9 3.6-2.9 12.9z"/><path fill="#729143" d="M1579.7 374.8l-2.6-6.8 7.8 3.2 2.6 6.8z"/><path fill="#ff89a3" d="M1351 245.3l7.9 3.1-2.5 29.9-7.8-3.2z"/><path fill="#95b8ff" d="M1585.1 69l-2.7 14.3-7.9-2.5 2.8-14.3z"/><path fill="#6af88a" d="M1707.2 286.2l7.8 3.3-2.5 27.8-7.8-3.3z"/><path fill="#a17f4b" d="M1462.5 360.4l2.7 11.8-7.8-3.3-2.8-11.7z"/><path fill="#59af5e" d="M1675.5 329.1l-3-24.3 7.9 3.2 3 24.3z"/><path fill="#c4e8ff" d="M1582.9 57.4l7.4 3-3 2.1-7.4-3.1z"/><path fill="#cf98f2" d="M1468 104.6l-2.6 23.3-7.8-2.6 2.5-23.2z"/><path fill="#ff74ff" d="M1340.5 103.8l2.7-17.4 7.9 2.5-2.7 17.5z"/><path fill="#96bcff" d="M1579.9 58.9l7.8 2.6-2.9 8.3-7.7-2.6z"/><path fill="#61e2e0" d="M1694.1 154.5l2.4-28.9 7.9 2.6-2.4 29.1z"/><path fill="#6fff71" d="M1717.7 343.1l-2.8 18.7-7.8-3.6 2.7-18.7z"/><path fill="#ff81c5" d="M1345.8 213.1l2.4-30.3 7.8 2.8-2.4 30.5z"/><path fill="#ed7bf7" d="M1351.8 70.1l6.8 3.1-3 .1-6.9-3.1z"/><path fill="#66f0ab" d="M1712.2 224.7l-2.4 32.4-7.9-3.1 2.4-32.3z"/><path fill="#4fac43" d="M1699 375.5l-2.6-7.9 7.8 3.2 2.6 8z"/><path fill="#ff75ff" d="M1353.6 77.7l-2.8 12-7.8-2.6 2.8-12z"/><path fill="#57b354" d="M1685.8 351.3l-2.9-19.6 7.9 3.2 2.9 19.7z"/><path fill="#54b04b" d="M1694 353.9l2.8 14.1-7.8-3.3-2.8-14.1z"/><path fill="#ff7ae5" d="M1345.5 126.9l7.9 2.6-2.5 26.1-7.9-2.8z"/><path fill="#ff77ff" d="M1348.5 69.7l7.8 2.7-3 6.1-7.7-2.7z"/><path fill="#7b9a4b" d="M1576.7 368.7l-2.7-13 7.8 3.3 2.7 13z"/><path fill="#ff9094" d="M1363.8 280.7l-2.5 27.8-7.9-3.3 2.5-27.7z"/><path fill="#ce99ff" d="M1462.5 84.3l7.9 2.5-2.7 18.6-7.8-2.6z"/><path fill="#6dff7c" d="M1712.1 316.5l7.8 3.4-2.6 23.9-7.9-3.5z"/><path fill="#62e9cf" d="M1701.4 156.5l7.9 2.7-2.4 31.5-7.9-2.8z"/><path fill="#a68253" d="M1454.3 357.9l-2.9-17.3 7.9 3.2 2.8 17.4z"/><path fill="#ff89b4" d="M1353.1 215.3l7.9 2.9-2.4 30.9-7.9-3z"/><path fill="#68f89a" d="M1706.9 287l2.4-30.7 7.9 3.1-2.5 30.8z"/><path fill="#81995d" d="M1568.2 315.3l3 23.2-7.9-3.2-3-23.2z"/><path fill="#937a42" d="M1467.4 377.5l-2.6-5.7 7.8 3.1 2.6 5.7z"/><path fill="#ffdbff" d="M1478 68l-3.1 1-7.1-3.1 3.1-1.1z"/><path fill="#cf9bff" d="M1465.1 71.9l7.8 2.5-2.8 13.2-7.8-2.5z"/><path fill="#54b54b" d="M1701.1 357.3l2.8 14.2-7.9-3.3-2.7-14.1z"/><path fill="#d19dff" d="M1464.8 72.6l2.9-7.2 7.8 2.6-2.9 7.3z"/><path fill="#5ea583" d="M1651.1 242.9l-3.2-31.2 7.9 2.8 3.2 31.3z"/><path fill="#ff7af4" d="M1347.8 105.5l7.9 2.5-2.6 22.3-7.8-2.7z"/><path fill="#96befe" d="M1579.2 102.1l2.6-19.7 7.9 2.5-2.7 19.8z"/><path fill="#5caa76" d="M1666.3 248.1l3.2 30.3-7.8-3.1-3.2-30.2z"/><path fill="#ff81d6" d="M1358.2 157.5l-2.4 28.9-7.9-2.9 2.5-28.8z"/><path fill="#77ff67" d="M1712 373l7.8 3.9-3.1 6.5-7.8-3.9z"/><path fill="#5baf69" d="M1672.2 305.6l-3.1-27.9 7.8 3.1 3.1 27.9z"/><path fill="#64f0bd" d="M1706.4 189.9l7.8 2.9-2.3 32.7-7.9-3z"/><path fill="#7f9d53" d="M1573.6 356.4l-2.9-18.5 7.9 3.3 2.8 18.5z"/><path fill="#72ff69" d="M1711.6 373.8l2.9-12.9 7.8 3.7-2.9 12.9zM1718.6 377.3l2.9-12.9 7.9 3.6-2.9 13z"/><path fill="#739642" d="M1586.7 378.4l-2.6-6.9 7.8 3.2 2.6 6.8z"/><path fill="#ff90a3" d="M1358.1 248.3l7.8 3.1-2.4 30-7.9-3.1z"/><path fill="#a1844b" d="M1469.5 363.9l2.8 11.8-7.9-3.3-2.7-11.8z"/><path fill="#6aff8a" d="M1714.2 289.4l7.9 3.3-2.5 27.9-7.9-3.3z"/><path fill="#95c0ff" d="M1592.1 71.3l-2.7 14.4-7.8-2.6 2.7-14.3z"/><path fill="#59b45d" d="M1682.6 332.4l-3-24.3 7.8 3.2 3 24.4z"/><path fill="#c3efff" d="M1590 59.7l7.3 3-3 2.1-7.4-3.1z"/><path fill="#cfa0f2" d="M1475 107.1l-2.6 23.4-7.8-2.7 2.6-23.2z"/><path fill="#ff7bff" d="M1347.6 106.2l2.7-17.4 7.8 2.5-2.7 17.5z"/><path fill="#96c3ff" d="M1587 61.2l7.8 2.6-2.9 8.3-7.8-2.5z"/><path fill="#6fff70" d="M1724.7 346.5l-2.7 18.8-7.9-3.6 2.8-18.8zM1731.8 349.9l-2.8 18.8-7.8-3.5 2.7-18.9z"/><path fill="#61e9e0" d="M1701.2 157.2l2.4-29.1 7.8 2.7-2.4 29.2z"/><path fill="#ff89c5" d="M1352.8 216l2.4-30.4 7.9 2.8-2.4 30.6z"/><path fill="#4fb243" d="M1706.1 379.1l-2.6-8 7.8 3.2 2.6 8z"/><path fill="#ed81f7" d="M1358.8 72.5l6.9 3.1-3.1 0-6.9-3.1z"/><path fill="#66f8ab" d="M1719.2 227.7l-2.4 32.5-7.8-3.2 2.4-32.3z"/><path fill="#57b853" d="M1692.9 354.8l-2.9-19.7 7.8 3.2 2.9 19.8z"/><path fill="#ff7dff" d="M1360.6 80l-2.8 12.1-7.8-2.6 2.8-12z"/><path fill="#ff81e6" d="M1352.6 129.4l7.8 2.7-2.5 26.1-7.8-2.7z"/><path fill="#ff7fff" d="M1355.5 72l7.8 2.7-2.9 6.2-7.8-2.7z"/><path fill="#7b9f4b" d="M1583.8 372.2l-2.8-13 7.9 3.2 2.7 13.1z"/><path fill="#97c5f1" d="M1586.5 103.8l7.8 2.6-2.5 24.5-7.8-2.7z"/><path fill="#ff9893" d="M1370.8 283.8l-2.5 28-7.8-3.3 2.5-27.9z"/><path fill="#cea0ff" d="M1469.6 86.7l7.8 2.5-2.7 18.7-7.8-2.6z"/><path fill="#6dff7b" d="M1719.1 319.9l7.9 3.3-2.6 24-7.9-3.5z"/><path fill="#a68752" d="M1461.4 361.3l-2.9-17.3 7.8 3.2 2.9 17.4z"/><path fill="#62f0cf" d="M1708.5 159.1l7.8 2.8-2.4 31.6-7.8-2.8z"/><path fill="#ff90b4" d="M1360.2 218.2l7.8 2.9-2.4 31-7.8-3z"/><path fill="#68ff9a" d="M1713.9 290.2l2.5-30.8 7.8 3.1-2.4 30.9z"/><path fill="#819e5c" d="M1575.2 318.6l3 23.3-7.8-3.2-3-23.3z"/><path fill="#947f41" d="M1474.5 381.1l-2.6-5.8 7.7 3.1 2.6 5.8z"/><path fill="#ffe2ff" d="M1485 70.3l-3 1-7.1-3.1 3-1z"/><path fill="#cfa2ff" d="M1472.1 74.3l7.8 2.5-2.8 13.2-7.8-2.6z"/><path fill="#54ba4b" d="M1708.2 360.8l2.7 14.3-7.8-3.4-2.8-14.2z"/><path fill="#5eab83" d="M1658.2 245.9l-3.2-31.3 7.8 2.8 3.2 31.4z"/><path fill="#d1a5ff" d="M1471.9 75l2.9-7.3 7.8 2.6-3 7.3z"/><path fill="#ff82f4" d="M1354.9 108l7.8 2.5-2.6 22.3-7.8-2.6z"/><path fill="#96c6ff" d="M1586.2 104.6l2.7-19.8 7.8 2.5-2.6 19.8z"/><path fill="#5cb076" d="M1673.4 251.1l3.2 30.4-7.9-3.1-3.2-30.2z"/><path fill="#ff89d6" d="M1365.2 160.1l-2.4 29-7.8-2.8 2.4-28.9z"/><path fill="#77ff66" d="M1719 376.5l7.8 3.9-3 6.6-7.8-3.9z"/><path fill="#5bb569" d="M1679.2 308.8l-3.1-27.9 7.9 3 3.1 28.1z"/><path fill="#98cbe2" d="M1591.3 130.1l7.8 2.6-2.4 28.2-7.9-2.7z"/><path fill="#7fa253" d="M1580.7 359.9l-2.9-18.6 7.8 3.2 2.9 18.7z"/><path fill="#64f7bd" d="M1713.4 192.7l7.9 2.9-2.4 32.8-7.8-3z"/><path fill="#739b42" d="M1593.8 381.9l-2.6-6.9 7.8 3.2 2.6 6.9z"/><path fill="#77f768" d="M1716.8 382.1l6.9 4.4-3.2-.1-6.9-4.3z"/><path fill="#ff97a3" d="M1365.1 251.3l7.9 3.1-2.5 30.2-7.8-3.2z"/><path fill="#a1894a" d="M1476.6 367.3l2.7 11.9-7.8-3.3-2.7-11.8z"/><path fill="#6aff89" d="M1721.3 292.6l7.9 3.3-2.6 28.1-7.8-3.4zM1728.4 295.8l7.8 3.3-2.5 28.2-7.9-3.4z"/><path fill="#59ba5d" d="M1689.6 335.8l-3-24.4 7.9 3.1 3 24.5z"/><path fill="#95c7ff" d="M1599.2 73.7l-2.8 14.4-7.8-2.6 2.8-14.3z"/><path fill="#cfa7f3" d="M1482 109.6l-2.5 23.4-7.8-2.6 2.5-23.4z"/><path fill="#c3f6ff" d="M1597 62l7.4 3-3.1 2.1-7.3-3z"/><path fill="#ff83ff" d="M1354.6 108.7l2.7-17.5 7.8 2.5-2.6 17.6z"/><path fill="#96cbff" d="M1594 63.5l7.8 2.6-2.9 8.4-7.8-2.6z"/><path fill="#61f0e0" d="M1708.2 159.9l2.4-29.2 7.9 2.6-2.5 29.3z"/><path fill="#ff90c5" d="M1359.9 218.9l2.4-30.6 7.8 2.8-2.4 30.8z"/><path fill="#4fb743" d="M1713.2 382.6l-2.7-8 7.8 3.2 2.7 8.1z"/><path fill="#66ffab" d="M1726.3 230.6l-2.4 32.6-7.9-3.1 2.4-32.5zM1733.3 233.6l-2.4 32.7-7.8-3.1 2.4-32.6zM1740.4 236.5l-2.4 32.9-7.9-3.1 2.4-32.8z"/><path fill="#ec87f6" d="M1365.9 74.8l6.8 3.1-3.1 .1-6.8-3.1z"/><path fill="#57bd53" d="M1700 358.2l-3-19.8 7.9 3.3 2.9 19.8z"/><path fill="#ff84ff" d="M1367.7 82.4l-2.8 12.1-7.8-2.6 2.8-12.1z"/><path fill="#9ad3d2" d="M1604 162.9l-2.4 30.8-7.9-2.8 2.4-30.8z"/><path fill="#7ba44b" d="M1590.8 375.7l-2.7-13.1 7.8 3.3 2.8 13.1z"/><path fill="#ff89e6" d="M1359.6 132l7.9 2.6-2.5 26.3-7.9-2.8z"/><path fill="#ff87ff" d="M1362.6 74.3l7.7 2.7-2.9 6.2-7.8-2.7z"/><path fill="#97ccf2" d="M1593.5 106.3l7.9 2.5-2.6 24.6-7.8-2.6z"/><path fill="#ff9f93" d="M1377.9 287l-2.5 28-7.9-3.3 2.5-27.9z"/><path fill="#839f68" d="M1567 316.1l-3.1-27 7.9 3.1 3.1 27.1z"/><path fill="#cea8ff" d="M1476.6 89.1l7.8 2.5-2.6 18.7-7.9-2.5z"/><path fill="#6cff7b" d="M1726.2 323.2l7.8 3.4-2.6 24-7.8-3.5z"/><path fill="#a68d52" d="M1468.4 364.8l-2.8-17.4 7.8 3.2 2.9 17.5z"/><path fill="#62f8cf" d="M1715.5 161.8l7.9 2.8-2.4 31.8-7.9-2.9z"/><path fill="#68ff99" d="M1721 293.4l2.4-31 7.9 3.2-2.5 31zM1728 296.6l2.5-31.1 7.8 3.1-2.4 31.2z"/><path fill="#ff97b4" d="M1367.2 221.1l7.9 2.9-2.4 31.1-7.9-3z"/><path fill="#948341" d="M1481.5 384.6l-2.6-5.8 7.8 3.1 2.6 5.8z"/><path fill="#81a45c" d="M1582.3 321.9l3 23.4-7.9-3.3-3-23.3z"/><path fill="#54c04b" d="M1715.2 364.2l2.8 14.4-7.8-3.4-2.8-14.2z"/><path fill="#ffe9ff" d="M1492.1 72.6l-3.1 1-7.1-3.1 3-1z"/><path fill="#cfaaff" d="M1479.1 76.6l7.8 2.5-2.7 13.3-7.9-2.6z"/><path fill="#9cdac0" d="M1598.7 225l2.4-32.1 7.8 2.9-2.4 32.2z"/><path fill="#5fab90" d="M1654.7 215.3l-3.3-31.1 7.9 2.7 3.2 31.2z"/><path fill="#5eb083" d="M1665.2 248.9l-3.2-31.4 7.8 2.8 3.3 31.5z"/><path fill="#d0adff" d="M1478.9 77.3l2.9-7.3 7.8 2.6-2.9 7.3z"/><path fill="#5cb576" d="M1680.4 254.1l3.2 30.6-7.8-3.1-3.2-30.4z"/><path fill="#ff89f4" d="M1361.9 110.4l7.9 2.6-2.6 22.4-7.9-2.7z"/><path fill="#96cdff" d="M1593.3 107l2.6-19.8 7.8 2.5-2.6 19.9z"/><path fill="#ff90d6" d="M1372.3 162.7l-2.5 29.2-7.8-2.8 2.4-29.1z"/><path fill="#5bba69" d="M1686.3 312.1l-3.1-28.1 7.8 3.1 3.1 28.2z"/><path fill="#7fa853" d="M1587.7 363.3l-2.9-18.6 7.9 3.2 2.9 18.7z"/><path fill="#73a042" d="M1600.9 385.4l-2.6-6.9 7.8 3.2 2.6 6.9z"/><path fill="#98d3e2" d="M1598.3 132.6l7.9 2.6-2.5 28.4-7.8-2.7z"/><path fill="#64ffbd" d="M1720.5 195.6l7.8 2.8-2.3 33-7.9-3zM1727.5 198.4l7.9 2.8-2.4 33.1-7.8-3zM1734.6 201.2l7.8 2.8-2.3 33.2-7.9-2.9z"/><path fill="#ff9fa3" d="M1372.2 254.3l7.8 3.1-2.4 30.3-7.9-3.2z"/><path fill="#a18f4a" d="M1483.7 370.8l2.7 11.9-7.8-3.3-2.8-11.9z"/><path fill="#59bf5d" d="M1696.7 339.2l-3-24.6 7.8 3.2 3.1 24.6z"/><path fill="#9ee1ae" d="M1606.1 227.2l7.8 3-2.4 32.2-7.8-3.1z"/><path fill="#95cfff" d="M1606.2 76l-2.7 14.5-7.9-2.6 2.8-14.4z"/><path fill="#cfaef3" d="M1489.1 112l-2.6 23.6-7.8-2.7 2.5-23.4z"/><path fill="#c3fdff" d="M1604 64.3l7.4 3-3 2.1-7.4-3z"/><path fill="#ff8aff" d="M1361.7 111.2l2.6-17.6 7.9 2.5-2.7 17.6z"/><path fill="#96d3ff" d="M1601 65.8l7.8 2.6-2.9 8.4-7.7-2.6z"/><path fill="#61f8e1" d="M1715.2 162.6l2.5-29.3 7.8 2.6-2.4 29.4z"/><path fill="#ff97c5" d="M1366.9 221.8l2.4-30.7 7.9 2.8-2.4 30.8z"/><path fill="#57c353" d="M1707 361.7l-2.9-19.9 7.9 3.2 2.9 20z"/><path fill="#ec8cf6" d="M1372.9 77.1l6.8 3.1-3 .1-6.9-3.1z"/><path fill="#7baa4a" d="M1597.9 379.2l-2.8-13.1 7.9 3.2 2.7 13.2z"/><path fill="#ff8cff" d="M1374.7 84.7l-2.8 12.2-7.8-2.6 2.8-12.1z"/><path fill="#85a074" d="M1563.6 289.9l-3.2-29.7 7.9 3 3.2 29.7z"/><path fill="#9adad2" d="M1611 165.5l-2.4 31-7.8-2.8 2.4-30.9z"/><path fill="#ff90e6" d="M1366.7 134.5l7.8 2.6-2.5 26.4-7.8-2.7z"/><path fill="#ff8eff" d="M1369.6 76.6l7.8 2.7-3 6.2-7.7-2.6z"/><path fill="#a0e99d" d="M1611 261.6l7.9 3.1-2.5 30.9-7.8-3.2z"/><path fill="#ffa793" d="M1385 290.1l-2.6 28.1-7.8-3.3 2.5-28z"/><path fill="#97d3f2" d="M1600.6 108.8l7.8 2.5-2.5 24.7-7.9-2.6z"/><path fill="#83a567" d="M1574.1 319.4l-3.1-27.1 7.8 3.1 3.1 27.2z"/><path fill="#ceafff" d="M1483.6 91.5l7.9 2.5-2.7 18.8-7.8-2.6z"/><path fill="#a69252" d="M1475.5 368.2l-2.9-17.5 7.9 3.3 2.8 17.5z"/><path fill="#62ffcf" d="M1722.6 164.5l7.8 2.8-2.4 31.9-7.8-2.9zM1729.6 167.2l7.9 2.7-2.4 32.1-7.9-2.9z"/><path fill="#948841" d="M1488.6 388.1l-2.6-5.8 7.8 3.1 2.5 5.8z"/><path fill="#ff9fb4" d="M1374.3 223.9l7.8 3-2.4 31.2-7.8-3z"/><path fill="#81a95c" d="M1589.3 325.1l3 23.6-7.8-3.3-3-23.4z"/><path fill="#9ce1c0" d="M1605.7 227.9l2.4-32.2 7.9 2.9-2.4 32.3z"/><path fill="#cfb1ff" d="M1486.2 78.9l7.8 2.5-2.8 13.4-7.8-2.6z"/><path fill="#ffefff" d="M1499.1 74.9l-3.1 1.1-7.1-3.2 3.1-1z"/><path fill="#5fb090" d="M1661.7 218.2l-3.2-31.2 7.8 2.7 3.2 31.3z"/><path fill="#5eb683" d="M1672.3 251.9l-3.2-31.5 7.8 2.8 3.2 31.7z"/><path fill="#5dbb75" d="M1687.5 257.1l3.2 30.7-7.9-3.1-3.2-30.5z"/><path fill="#d0b5ff" d="M1485.9 79.6l2.9-7.3 7.8 2.6-2.9 7.4z"/><path fill="#ff91f4" d="M1369 112.9l7.8 2.5-2.6 22.5-7.8-2.6z"/><path fill="#a2f18c" d="M1623.8 298.1l-2.5 28.3-7.8-3.4 2.5-28.2z"/><path fill="#96d5ff" d="M1600.3 109.5l2.6-19.9 7.9 2.5-2.7 20z"/><path fill="#ff97d6" d="M1379.3 165.4l-2.4 29.2-7.9-2.8 2.5-29.1z"/><path fill="#5bc069" d="M1693.3 315.4l-3.1-28.2 7.9 3 3.1 28.3z"/><path fill="#7fad52" d="M1594.8 366.8l-2.9-18.7 7.8 3.2 2.9 18.8z"/><path fill="#73a542" d="M1607.9 389l-2.6-7 7.8 3.2 2.6 7z"/><path fill="#a7fb73" d="M1618.6 349.2l7.9 3.5-2.8 19.5-7.8-3.6z"/><path fill="#98dae3" d="M1605.4 135.2l7.8 2.6-2.5 28.5-7.8-2.8z"/><path fill="#a1944a" d="M1490.7 374.2l2.7 12-7.8-3.3-2.7-11.9z"/><path fill="#ffa6a3" d="M1379.2 257.4l7.9 3-2.5 30.4-7.8-3.2z"/><path fill="#59c45d" d="M1703.8 342.5l-3.1-24.6 7.9 3.2 3 24.7z"/><path fill="#9ee9ae" d="M1613.1 230.1l7.8 3-2.3 32.4-7.9-3.1z"/><path fill="#95d6ff" d="M1613.3 78.3l-2.8 14.5-7.8-2.5 2.7-14.4z"/><path fill="#cfb6f3" d="M1496.1 114.5l-2.5 23.6-7.9-2.6 2.6-23.6z"/><path fill="#c3ffff" d="M1611.1 66.6l7.3 3-3 2.1-7.4-3zM1618.1 68.9l7.4 3-3.1 2.1-7.3-3z"/><path fill="#ff92ff" d="M1368.7 113.6l2.7-17.6 7.8 2.5-2.7 17.7z"/><path fill="#96daff" d="M1608.1 68.1l7.8 2.6-2.9 8.4-7.8-2.5z"/><path fill="#61ffe1" d="M1722.3 165.3l2.4-29.5 7.8 2.7-2.4 29.5zM1729.3 167.9l2.5-29.5 7.8 2.6-2.4 29.7zM1736.4 170.6l2.4-29.6 7.8 2.6-2.4 29.8z"/><path fill="#ff9fc5" d="M1374 224.7l2.4-30.9 7.8 2.9-2.4 30.9z"/><path fill="#ec92f6" d="M1379.9 79.4l6.9 3.1-3.1 .1-6.8-3.1z"/><path fill="#a4f97e" d="M1618.3 349.9l2.6-24.3 7.8 3.3-2.6 24.5z"/><path fill="#7baf4a" d="M1604.9 382.7l-2.7-13.2 7.8 3.3 2.8 13.2z"/><path fill="#85a574" d="M1570.7 293l-3.2-29.7 7.8 2.9 3.2 29.9z"/><path fill="#9ae1d2" d="M1618.1 168.2l-2.4 31.1-7.9-2.8 2.4-31z"/><path fill="#ff93ff" d="M1381.7 87l-2.8 12.3-7.8-2.6 2.8-12.2z"/><path fill="#ff98e6" d="M1373.7 137.1l7.8 2.6-2.5 26.4-7.8-2.7z"/><path fill="#a0f09d" d="M1618.1 264.7l7.8 3.1-2.4 31-7.9-3.2z"/><path fill="#ff96ff" d="M1376.7 79l7.7 2.6-2.9 6.3-7.8-2.7z"/><path fill="#ffae93" d="M1392 293.2l-2.5 28.3-7.8-3.3 2.5-28.2z"/><path fill="#83aa67" d="M1581.1 322.7l-3.1-27.2 7.9 3 3.1 27.4z"/><path fill="#97dbf2" d="M1607.6 111.2l7.8 2.6-2.5 24.8-7.8-2.7z"/><path fill="#ceb7ff" d="M1490.7 93.9l7.8 2.5-2.6 18.8-7.9-2.5z"/><path fill="#a79752" d="M1482.5 371.7l-2.8-17.6 7.8 3.3 2.9 17.6z"/><path fill="#948d41" d="M1495.6 391.6l-2.5-5.8 7.7 3.1 2.6 5.9z"/><path fill="#81af5c" d="M1596.4 328.4l3 23.6-7.9-3.2-3-23.6z"/><path fill="#ffa6b4" d="M1381.3 226.8l7.9 3-2.4 31.4-7.9-3.1z"/><path fill="#abff6a" d="M1623.3 371.4l7.8 3.6-2.8 13.8-7.9-3.6zM1630.4 374.8l7.8 3.6-2.9 13.9-7.8-3.6zM1637.4 378.3l7.9 3.6-2.9 14-7.8-3.7z"/><path fill="#61b09d" d="M1658.2 187.7l-3.2-29.6 7.8 2.5 3.2 29.8z"/><path fill="#9ce9c0" d="M1612.8 230.9l2.4-32.4 7.8 2.9-2.4 32.4z"/><path fill="#ceb9ff" d="M1493.2 81.3l7.8 2.5-2.8 13.3-7.8-2.5z"/><path fill="#fff6ff" d="M1506.1 77.2l-3 1.1-7.1-3.1 3-1.1zM1473.2 117.2l-2.8 12.8-7.8-2.5 2.8-12.8z"/><path fill="#5fb690" d="M1668.7 221.1l-3.2-31.3 7.9 2.6 3.2 31.5z"/><path fill="#5ebb83" d="M1679.3 254.9l-3.2-31.6 7.8 2.8 3.3 31.8z"/><path fill="#5dc075" d="M1694.5 260.2l3.2 30.8-7.8-3.1-3.2-30.7z"/><path fill="#a2f88c" d="M1630.9 301.3l-2.5 28.3-7.9-3.3 2.5-28.3z"/><path fill="#d0bcff" d="M1493 82l2.9-7.4 7.8 2.7-3 7.3z"/><path fill="#ff98f4" d="M1376 115.3l7.8 2.6-2.5 22.5-7.9-2.6z"/><path fill="#96dcff" d="M1607.3 112l2.7-20 7.8 2.4-2.6 20.1z"/><path fill="#ff9fd6" d="M1386.4 168l-2.5 29.4-7.8-2.8 2.4-29.3z"/><path fill="#5bc569" d="M1700.4 318.6l-3.1-28.3 7.8 3.1 3.1 28.4z"/><path fill="#7fb252" d="M1601.8 370.2l-2.8-18.8 7.8 3.3 2.9 18.8z"/><path fill="#73aa42" d="M1615 392.5l-2.6-7 7.8 3.2 2.6 7z"/><path fill="#a7ff72" d="M1625.7 352.6l7.8 3.5-2.7 19.6-7.9-3.6zM1632.7 356l7.9 3.5-2.7 19.6-7.9-3.5zM1639.8 359.4l7.8 3.5-2.7 19.7-7.8-3.6z"/><path fill="#98e2e3" d="M1612.4 137.7l7.8 2.7-2.4 28.5-7.9-2.7z"/><path fill="#a1994a" d="M1497.8 377.7l2.7 12-7.8-3.3-2.7-11.9z"/><path fill="#ffaea3" d="M1386.3 260.4l7.8 3-2.4 30.6-7.9-3.2z"/><path fill="#9ef0ae" d="M1620.1 233l7.9 3-2.4 32.5-7.8-3.1z"/><path fill="#95deff" d="M1620.3 80.7l-2.8 14.5-7.8-2.5 2.8-14.5z"/><path fill="#cfbdf3" d="M1503.2 116.9l-2.6 23.8-7.8-2.7 2.5-23.6z"/><path fill="#ff99ff" d="M1375.7 116.1l2.7-17.7 7.8 2.4-2.6 17.8z"/><path fill="#aa995b" d="M1479.3 354.8l-3-22.4 7.9 3.1 3 22.6z"/><path fill="#96e2ff" d="M1615.1 70.4l7.8 2.6-2.9 8.5-7.8-2.6z"/><path fill="#ffa6c5" d="M1381 227.6l2.4-31 7.9 2.8-2.4 31.1z"/><path fill="#87a581" d="M1567.2 264l-3.2-31.1 7.8 2.9 3.2 31.2z"/><path fill="#a4ff7e" d="M1625.3 353.3l2.6-24.4 7.9 3.3-2.6 24.6z"/><path fill="#7bb44a" d="M1612 386.2l-2.7-13.2 7.8 3.3 2.7 13.2z"/><path fill="#eb98f6" d="M1387 81.8l6.8 3.1-3.1 0-6.8-3.1z"/><path fill="#85aa74" d="M1577.7 296.2l-3.2-29.9 7.9 3 3.2 30z"/><path fill="#9ae9d2" d="M1625.1 170.9l-2.4 31.2-7.8-2.8 2.4-31.2z"/><path fill="#ff9bff" d="M1388.8 89.4l-2.8 12.2-7.8-2.5 2.8-12.2z"/><path fill="#ff9fe6" d="M1380.7 139.6l7.9 2.6-2.5 26.6-7.9-2.7z"/><path fill="#a0f89c" d="M1625.1 267.7l7.9 3.1-2.4 31.2-7.9-3.3z"/><path fill="#ffb593" d="M1399.1 296.4l-2.5 28.3-7.9-3.3 2.5-28.2z"/><path fill="#ff9eff" d="M1383.7 81.3l7.7 2.7-2.9 6.2-7.8-2.7z"/><path fill="#83af67" d="M1588.2 326l-3.1-27.4 7.8 3.1 3.2 27.4z"/><path fill="#97e2f2" d="M1614.6 113.7l7.9 2.5-2.5 24.9-7.9-2.6z"/><path fill="#cebeff" d="M1497.7 96.3l7.8 2.4-2.6 19-7.8-2.6z"/><path fill="#a79d52" d="M1489.6 375.1l-2.9-17.6 7.9 3.2 2.8 17.8z"/><path fill="#b1ff67" d="M1635.7 391.7l-3 7.6-7.8-3.9 3-7.5z"/><path fill="#62afa8" d="M1659.4 134.4l3.1 27-7.8-2.6-3.1-26.8z"/><path fill="#949241" d="M1502.7 395.2l-2.6-5.9 7.8 3.1 2.6 5.9z"/><path fill="#81b45c" d="M1603.4 331.7l3.1 23.7-7.9-3.2-3-23.7z"/><path fill="#62ffd0" d="M1736.7 169.9l7.8 2.7-2.4 32.2-7.8-2.9z"/><path fill="#ffaeb4" d="M1388.4 229.7l7.8 2.9-2.4 31.6-7.8-3.1z"/><path fill="#61b59d" d="M1665.2 190.5l-3.2-29.8 7.9 2.6 3.2 29.9z"/><path fill="#9cf0c0" d="M1619.8 233.8l2.4-32.5 7.9 2.9-2.4 32.6z"/><path fill="#5fbb90" d="M1675.8 224l-3.2-31.5 7.8 2.7 3.2 31.6z"/><path fill="#cec0ff" d="M1500.2 83.6l7.9 2.5-2.8 13.4-7.8-2.5z"/><path fill="#fffcff" d="M1513.2 79.5l-3.1 1.1-7.1-3.1 3-1.1z"/><path fill="#5ec083" d="M1686.4 258l-3.3-31.9 7.9 2.8 3.2 32z"/><path fill="#5dc675" d="M1701.6 263.2l3.2 30.9-7.9-3.1-3.2-30.7z"/><path fill="#a2ff8c" d="M1637.9 304.4l-2.5 28.5-7.8-3.3 2.5-28.4zM1645 307.6l-2.5 28.6-7.9-3.3 2.5-28.5zM1652 310.8l-2.5 28.7-7.8-3.3 2.5-28.6z"/><path fill="#d0c4ff" d="M1500 84.3l2.9-7.3 7.8 2.6-2.9 7.3z"/><path fill="#ffa0f5" d="M1383 117.8l7.9 2.5-2.6 22.7-7.8-2.6z"/><path fill="#ffa6d6" d="M1393.4 170.7l-2.4 29.5-7.9-2.9 2.5-29.3z"/><path fill="#96e3ff" d="M1614.4 114.4l2.6-20.1 7.8 2.5-2.6 20.2z"/><path fill="#73af41" d="M1622.1 396l-2.6-6.9 7.7 3.1 2.6 7z"/><path fill="#7fb852" d="M1608.9 373.7l-2.9-18.9 7.9 3.3 2.8 18.9z"/><path fill="#98e9e3" d="M1619.4 140.3l7.9 2.6-2.5 28.7-7.8-2.7z"/><path fill="#a29e4a" d="M1504.8 381.2l2.8 12-7.9-3.3-2.7-12z"/><path fill="#ffb5a3" d="M1393.3 263.4l7.9 3-2.5 30.7-7.8-3.2z"/><path fill="#ac9a66" d="M1476 333.1l-3.1-26.4 7.9 3.1 3.1 26.5z"/><path fill="#9ef7ae" d="M1627.2 236l7.8 2.9-2.3 32.7-7.9-3.1z"/><path fill="#95e5ff" d="M1627.3 83l-2.7 14.6-7.8-2.5 2.7-14.6z"/><path fill="#cfc5f4" d="M1510.2 119.4l-2.6 23.8-7.8-2.6 2.6-23.7z"/><path fill="#c2ffff" d="M1625.1 71.2l7.4 3-3 2.1-7.4-3zM1632.2 73.5l7.3 3-3 2.1-7.4-3zM1639.2 75.8l7.4 3-3 2.1-7.4-3.1zM1646.2 78l7.4 3.1-3 2-7.4-3zM1653.3 80.3l7.3 3-3 2.1-7.4-3z"/><path fill="#ffa1ff" d="M1382.8 118.5l2.7-17.8 7.8 2.5-2.7 17.9z"/><path fill="#aa9e5b" d="M1486.4 358.2l-3-22.5 7.9 3.1 2.9 22.7z"/><path fill="#96e9ff" d="M1622.1 72.7l7.8 2.6-2.8 8.5-7.8-2.6z"/><path fill="#ffaec6" d="M1388.1 230.4l2.4-31 7.8 2.8-2.4 31.2z"/><path fill="#87ab81" d="M1574.2 267.1l-3.2-31.2 7.9 2.8 3.2 31.3z"/><path fill="#a4ff7d" d="M1632.4 356.7l2.6-24.6 7.8 3.4-2.6 24.7zM1639.4 360.1l2.6-24.7 7.9 3.4-2.6 24.8z"/><path fill="#7bba4a" d="M1619.1 389.7l-2.8-13.2 7.9 3.2 2.7 13.3z"/><path fill="#85b074" d="M1584.8 299.3l-3.2-29.9 7.8 2.9 3.2 30.1z"/><path fill="#eb9df6" d="M1394 84.1l6.8 3.1-3 0-6.9-3.1z"/><path fill="#9af0d2" d="M1632.2 173.5l-2.4 31.4-7.9-2.9 2.4-31.2z"/><path fill="#ffa2ff" d="M1395.8 91.7l-2.8 12.3-7.8-2.5 2.8-12.3z"/><path fill="#ffa7e6" d="M1387.8 142.1l7.8 2.7-2.5 26.6-7.8-2.7z"/><path fill="#a0ff9c" d="M1632.2 270.8l7.8 3.1-2.4 31.3-7.8-3.3zM1639.2 273.8l7.9 3.1-2.4 31.4-7.9-3.2zM1646.3 276.9l7.8 3.1-2.4 31.5-7.8-3.2z"/><path fill="#ffbd93" d="M1406.1 299.5l-2.5 28.5-7.8-3.3 2.5-28.4z"/><path fill="#83b567" d="M1595.3 329.2l-3.1-27.4 7.8 3.1 3.1 27.5z"/><path fill="#ffa6ff" d="M1390.7 83.6l7.8 2.7-3 6.3-7.7-2.7z"/><path fill="#97eaf2" d="M1621.7 116.1l7.8 2.6-2.5 25-7.8-2.7z"/><path fill="#a7a251" d="M1496.7 378.6l-2.9-17.7 7.8 3.2 2.9 17.8z"/><path fill="#cec6ff" d="M1504.7 98.6l7.9 2.5-2.7 19.1-7.8-2.6z"/><path fill="#b1ff66" d="M1642.7 395.2l-3 7.6-7.8-3.8 3-7.6z"/><path fill="#949740" d="M1509.8 398.7l-2.6-5.9 7.8 3.1 2.5 5.9z"/><path fill="#62b5a9" d="M1666.4 137l3.2 27-7.9-2.5-3.1-27z"/><path fill="#82b95c" d="M1610.5 335l3 23.8-7.8-3.3-3-23.7z"/><path fill="#efffab" d="M1629.4 399l3.2-1 7.2 4.4-3.2 1z"/><path fill="#ffb5b4" d="M1395.4 232.6l7.9 2.9-2.4 31.7-7.9-3.1z"/><path fill="#d0cce5" d="M1504.7 170l2.4-27.6 7.9 2.6-2.5 27.7z"/><path fill="#61bb9d" d="M1672.3 193.3l-3.2-29.9 7.8 2.5 3.2 30z"/><path fill="#9cf7c0" d="M1626.9 236.7l2.4-32.6 7.8 2.8-2.4 32.8z"/><path fill="#5fc090" d="M1682.8 226.9l-3.2-31.6 7.8 2.6 3.3 31.8z"/><path fill="#5ec683" d="M1693.4 261l-3.2-32 7.8 2.8 3.3 32.1z"/><path fill="#cec8ff" d="M1507.3 85.9l7.8 2.5-2.8 13.5-7.8-2.5z"/><path fill="#ffffff" d="M1520.2 81.8l-3.1 1.1-7.1-3.1 3.1-1.1zM1527.2 84.1l-3 1.1-7.1-3.1 3-1.1zM1534.3 86.4l-3.1 1.1-7.1-3.1 3.1-1.1zM1541.3 88.7l-3.1 1.1-7.1-3.1 3.1-1.1zM1548.3 91l-3 1.1-7.1-3.1 3-1.1zM1555.4 93.3l-3.1 1-7.1-3 3.1-1.1zM1562.4 95.6l-3.1 1-7.1-3.1 3.1-1zM1569.4 97.9l-3 1-7.1-3.1 3-1zM1576.5 100.2l-3.1 1-7.1-3.1 3.1-1zM1583.5 102.4l-3.1 1.1-7.1-3.1 3.1-1zM1475.1 111.2l7.8 2.6-2.9 6.6-7.8-2.7zM1474.3 150.2l2.6-18.7 7.8 2.5-2.6 18.7zM1487.3 121.8l-2.8 12.9-7.8-2.5 2.7-12.8zM1482.2 113.5l7.7 2.6-2.9 6.6-7.8-2.7zM1494.3 124.1l-2.8 13-7.8-2.5 2.8-12.9z"/><path fill="#d0ccff" d="M1507 86.6l2.9-7.3 7.8 2.6-2.9 7.4z"/><path fill="#ffa7f5" d="M1390.1 120.2l7.8 2.6-2.6 22.7-7.8-2.6z"/><path fill="#ffaed7" d="M1400.4 173.3l-2.4 29.6-7.8-2.8 2.4-29.5z"/><path fill="#73b441" d="M1629.1 399.6l-2.6-7 7.8 3.2 2.6 7z"/><path fill="#96ebff" d="M1621.4 116.9l2.6-20.2 7.9 2.5-2.6 20.2z"/><path fill="#7fbd52" d="M1616 377.1l-2.9-18.9 7.8 3.2 2.9 19.1z"/><path fill="#a2a449" d="M1511.9 384.6l2.7 12.2-7.8-3.3-2.7-12.1z"/><path fill="#98f0e3" d="M1626.5 142.8l7.8 2.7-2.4 28.8-7.9-2.7z"/><path fill="#ffbca3" d="M1400.4 266.4l7.8 3-2.4 30.8-7.9-3.2z"/><path fill="#ac9f66" d="M1483.1 336.4l-3.1-26.5 7.8 3.1 3.1 26.6z"/><path fill="#9effae" d="M1634.2 238.9l7.9 3-2.4 32.7-7.8-3.1zM1641.3 241.8l7.8 3-2.3 32.9-7.9-3.1zM1648.3 244.7l7.9 3-2.4 33-7.8-3.1z"/><path fill="#d2d3d4" d="M1512 171.9l7.8 2.7-2.4 30.6-7.8-2.8z"/><path fill="#95edff" d="M1634.4 85.3l-2.8 14.7-7.8-2.5 2.7-14.7z"/><path fill="#cfccf4" d="M1517.2 121.8l-2.5 24-7.8-2.7 2.5-23.8z"/><path fill="#aaa45b" d="M1493.4 361.6l-2.9-22.6 7.8 3.1 3 22.8z"/><path fill="#ffa8ff" d="M1389.8 121l2.7-17.9 7.8 2.5-2.7 17.9z"/><path fill="#96f1ff" d="M1629.2 75l7.8 2.6-2.9 8.5-7.8-2.6z"/><path fill="#ffb5c6" d="M1395.1 233.3l2.4-31.2 7.9 2.8-2.4 31.4z"/><path fill="#88ab8e" d="M1575.3 208.1l3.3 31.3-7.9-2.8-3.2-31.2z"/><path fill="#7bbf49" d="M1626.1 393.2l-2.7-13.3 7.8 3.3 2.8 13.3z"/><path fill="#87b081" d="M1581.3 270.1l-3.2-31.3 7.8 2.8 3.2 31.4z"/><path fill="#85b573" d="M1591.8 302.5l-3.2-30.1 7.9 3 3.2 30.2z"/><path fill="#eba3f6" d="M1401 86.4l6.9 3.1-3.1 0-6.8-3z"/><path fill="#9af8d2" d="M1639.2 176.2l-2.4 31.5-7.8-2.9 2.4-31.3z"/><path fill="#63b4b2" d="M1658.3 135.3l-3-23 7.8 2.4 3.1 23z"/><path fill="#ffc492" d="M1413.2 302.6l-2.5 28.6-7.9-3.3 2.5-28.5z"/><path fill="#ffaaff" d="M1402.9 94l-2.8 12.4-7.9-2.6 2.8-12.3z"/><path fill="#ffaee7" d="M1394.8 144.7l7.9 2.6-2.5 26.8-7.9-2.7z"/><path fill="#83ba67" d="M1602.3 332.5l-3.1-27.5 7.9 3 3.1 27.7z"/><path fill="#97f1f3" d="M1628.7 118.6l7.9 2.5-2.6 25.1-7.8-2.6z"/><path fill="#d3dac3" d="M1516.9 204.4l7.9 2.8-2.4 32.1-7.9-2.9z"/><path fill="#a7a751" d="M1503.7 382.1l-2.8-17.8 7.8 3.2 2.9 17.9z"/><path fill="#cecdff" d="M1511.8 101l7.8 2.5-2.6 19.1-7.9-2.5z"/><path fill="#949c40" d="M1516.8 402.2l-2.5-5.9 7.7 3.2 2.6 5.9z"/><path fill="#82bf5b" d="M1617.6 338.3l3 23.9-7.9-3.3-3-23.8z"/><path fill="#62baa9" d="M1673.5 139.5l3.1 27.1-7.8-2.5-3.2-27z"/><path fill="#ffbcb4" d="M1402.5 235.5l7.8 2.9-2.4 31.8-7.8-3.1z"/><path fill="#d0d3e5" d="M1511.7 172.7l2.5-27.8 7.8 2.6-2.5 27.9z"/><path fill="#61c09d" d="M1679.3 196l-3.2-30 7.8 2.5 3.3 30.2z"/><path fill="#9cffc0" d="M1633.9 239.6l2.4-32.7 7.9 2.8-2.4 32.9zM1641 242.5l2.4-32.8 7.8 2.8-2.4 33zM1648 245.5l2.4-33 7.8 2.8-2.3 33.1z"/><path fill="#5fc690" d="M1689.9 229.8l-3.2-31.8 7.8 2.7 3.2 31.9z"/><path fill="#cecfff" d="M1514.3 88.3l7.8 2.4-2.8 13.6-7.8-2.6z"/><path fill="#d5e1b1" d="M1529.7 241.5l-2.4 32.3-7.8-3.1 2.4-32.2z"/><path fill="#7fc252" d="M1623 380.6l-2.9-19 7.9 3.2 2.9 19.1z"/><path fill="#ffb5d7" d="M1407.5 176l-2.4 29.7-7.9-2.8 2.5-29.6z"/><path fill="#d0d3ff" d="M1514.1 89l2.9-7.4 7.8 2.6-3 7.4z"/><path fill="#ffaff5" d="M1397.1 122.7l7.8 2.5-2.5 22.8-7.9-2.6z"/><path fill="#ae9f72" d="M1484.3 284.3l3.2 29.4-7.8-3.1-3.2-29.3z"/><path fill="#96f2ff" d="M1628.5 119.3l2.6-20.2 7.8 2.5-2.6 20.3z"/><path fill="#a2a949" d="M1519 388.1l2.7 12.2-7.8-3.3-2.8-12.2z"/><path fill="#98f8e3" d="M1633.5 145.4l7.9 2.6-2.5 28.9-7.8-2.7z"/><path fill="#aca466" d="M1490.1 339.7l-3.1-26.6 7.9 3.1 3.1 26.7z"/><path fill="#ffc4a3" d="M1407.4 269.4l7.9 3.1-2.5 30.8-7.8-3.1z"/><path fill="#d2dad5" d="M1519 174.6l7.9 2.7-2.4 30.7-7.9-2.9z"/><path fill="#95f4ff" d="M1641.4 87.6l-2.8 14.8-7.8-2.6 2.8-14.6z"/><path fill="#aaa95a" d="M1500.5 365l-3-22.7 7.9 3.1 3 22.9z"/><path fill="#cfd4f4" d="M1524.3 124.3l-2.6 24-7.8-2.6 2.5-23.9z"/><path fill="#d7e99f" d="M1524.4 304.1l2.5-31.1 7.8 3.1-2.4 31.3z"/><path fill="#ffb0ff" d="M1396.9 123.4l2.6-17.9 7.9 2.5-2.7 18z"/><path fill="#ffbcc6" d="M1402.2 236.2l2.4-31.3 7.8 2.8-2.4 31.4z"/><path fill="#88b08e" d="M1582.4 210.9l3.2 31.4-7.8-2.8-3.3-31.3z"/><path fill="#96f9ff" d="M1636.2 77.3l7.8 2.6-2.9 8.5-7.8-2.5z"/><path fill="#87b681" d="M1588.3 273.1l-3.2-31.4 7.9 2.8 3.2 31.6z"/><path fill="#85bb73" d="M1598.9 305.7l-3.2-30.2 7.8 2.9 3.2 30.4z"/><path fill="#eaa9f6" d="M1408.1 88.7l6.8 3.1-3.1 .1-6.8-3.1z"/><path fill="#9affd2" d="M1646.2 178.9l-2.3 31.6-7.9-2.9 2.4-31.5zM1653.3 181.5l-2.4 31.8-7.8-2.9 2.3-31.6zM1660.3 184.2l-2.4 31.9-7.8-2.9 2.4-31.7z"/><path fill="#ffcc92" d="M1420.2 305.8l-2.5 28.7-7.8-3.3 2.5-28.6z"/><path fill="#63bab2" d="M1665.4 137.8l-3.1-23 7.8 2.3 3.1 23.1z"/><path fill="#83c067" d="M1609.4 335.8l-3.1-27.7 7.8 3.1 3.1 27.8z"/><path fill="#ffb5e7" d="M1401.9 147.2l7.8 2.6-2.5 26.9-7.8-2.7z"/><path fill="#ffb2ff" d="M1409.9 96.4l-2.8 12.4-7.8-2.6 2.8-12.3z"/><path fill="#ffb5ff" d="M1404.8 88.2l7.7 2.7-2.9 6.3-7.7-2.7z"/><path fill="#a7ad51" d="M1510.8 385.5l-2.9-17.8 7.9 3.2 2.8 17.9z"/><path fill="#97f9f3" d="M1635.8 121.1l7.8 2.5-2.5 25.2-7.9-2.7z"/><path fill="#d3e1c3" d="M1524 207.2l7.8 2.8-2.4 32.2-7.8-2.9z"/><path fill="#94a140" d="M1523.9 405.8l-2.6-5.9 7.8 3.1 2.6 5.9z"/><path fill="#ced5ff" d="M1518.8 103.4l7.8 2.5-2.6 19.2-7.8-2.6z"/><path fill="#82c45b" d="M1624.6 341.5l3 24.1-7.8-3.3-3-23.9z"/><path fill="#daf18f" d="M1531.8 306.6l7.9 3.2-2.5 28.8-7.9-3.3z"/><path fill="#62c0a9" d="M1680.5 142l3.2 27.3-7.9-2.6-3.1-27.1z"/><path fill="#ffc4b4" d="M1409.5 238.4l7.9 2.9-2.4 31.9-7.9-3.1z"/><path fill="#dffa74" d="M1542.3 365.6l-2.7 20.4-7.8-3.6 2.7-20.3z"/><path fill="#d0dae5" d="M1518.7 175.3l2.5-27.8 7.8 2.6-2.4 27.9z"/><path fill="#61c69d" d="M1686.4 198.8l-3.3-30.2 7.9 2.6 3.2 30.3z"/><path fill="#ced7ff" d="M1521.3 90.6l7.9 2.5-2.8 13.6-7.8-2.6z"/><path fill="#d5e9b1" d="M1536.8 244.4l-2.4 32.5-7.9-3.1 2.4-32.4z"/><path fill="#ffbcd7" d="M1414.5 178.6l-2.4 29.8-7.8-2.8 2.4-29.7z"/><path fill="#aea572" d="M1491.4 287.4l3.2 29.5-7.9-3.1-3.2-29.4z"/><path fill="#ffb6f5" d="M1404.1 125.1l7.9 2.5-2.6 23-7.8-2.6z"/><path fill="#d0dbff" d="M1521.1 91.3l2.9-7.4 7.8 2.6-2.9 7.4z"/><path fill="#96faff" d="M1635.5 121.8l2.6-20.3 7.8 2.4-2.6 20.5z"/><path fill="#a2ae49" d="M1526 391.6l2.8 12.2-7.9-3.3-2.7-12.2z"/><path fill="#98ffe3" d="M1640.6 148l7.8 2.6-2.4 29-7.9-2.7z"/><path fill="#acaa65" d="M1497.2 343l-3.1-26.7 7.8 3.1 3.1 26.8z"/><path fill="#ffcba3" d="M1414.5 272.4l7.8 3.1-2.4 31-7.9-3.2z"/><path fill="#dcf980" d="M1536.7 337.8l7.9 3.3-2.6 25.2-7.9-3.4z"/><path fill="#63b8b9" d="M1662 115.5l-2.9-18 7.8 2.2 3 18.1z"/><path fill="#d2e1d5" d="M1526.1 177.2l7.8 2.7-2.4 30.8-7.8-2.8z"/><path fill="#95fcff" d="M1648.4 89.9l-2.7 14.8-7.8-2.5 2.7-14.7z"/><path fill="#aaae5a" d="M1507.6 368.4l-3-22.9 7.8 3.2 3 22.9z"/><path fill="#d7f09f" d="M1531.5 307.3l2.4-31.2 7.9 3.1-2.5 31.3z"/><path fill="#cfdbf4" d="M1531.3 126.7l-2.5 24.1-7.9-2.6 2.6-24z"/><path fill="#89b09b" d="M1574.2 208.9l-3.2-30 7.9 2.6 3.2 30.1z"/><path fill="#ffb7ff" d="M1403.9 125.9l2.7-18 7.8 2.5-2.7 18z"/><path fill="#ffc4c6" d="M1409.2 239.1l2.4-31.5 7.8 2.8-2.3 31.6z"/><path fill="#88b68e" d="M1589.4 213.6l3.2 31.6-7.8-2.8-3.2-31.5z"/><path fill="#96ffff" d="M1643.2 79.6l7.8 2.5-2.8 8.6-7.8-2.5zM1642.5 124.3l2.6-20.4 7.9 2.4-2.6 20.5zM1650.3 81.9l7.8 2.5-2.9 8.7-7.8-2.6zM1649.6 126.7l2.6-20.5 7.8 2.5-2.6 20.5zM1656.6 129.2l2.6-20.6 7.8 2.5-2.6 20.6z"/><path fill="#87bb81" d="M1595.4 276.2l-3.2-31.6 7.8 2.8 3.2 31.7z"/><path fill="#85c073" d="M1605.9 308.9l-3.1-30.4 7.8 2.9 3.2 30.5z"/><path fill="#e3ff6b" d="M1536.3 399.9l2.9-14.8 7.8 3.6-2.8 14.8zM1543.4 403.4l2.8-14.8 7.9 3.6-2.9 14.8zM1550.5 406.9l2.8-14.9 7.8 3.6-2.8 14.9z"/><path fill="#ffd392" d="M1427.3 308.9l-2.5 28.8-7.9-3.3 2.5-28.7z"/><path fill="#eaaef6" d="M1415.1 91l6.8 3.1-3 .1-6.9-3.1z"/><path fill="#83c567" d="M1616.4 339.1l-3.1-27.8 7.9 3.1 3.1 27.9z"/><path fill="#63bfb3" d="M1672.4 140.3l-3.1-23.1 7.9 2.3 3 23.2z"/><path fill="#ffbde7" d="M1408.9 149.7l7.8 2.6-2.4 27-7.9-2.7z"/><path fill="#ffb9ff" d="M1416.9 98.7l-2.8 12.4-7.8-2.5 2.8-12.4z"/><path fill="#a7b251" d="M1517.8 389l-2.8-17.9 7.8 3.2 2.9 18z"/><path fill="#ffbdff" d="M1411.8 90.5l7.8 2.7-3 6.3-7.7-2.6z"/><path fill="#d3e9c3" d="M1531 209.9l7.8 2.9-2.3 32.3-7.9-2.9z"/><path fill="#97fff3" d="M1642.8 123.5l7.8 2.5-2.5 25.3-7.8-2.6zM1649.8 126l7.9 2.5-2.5 25.4-7.9-2.7zM1656.9 128.4l7.8 2.5-2.5 25.5-7.8-2.6z"/><path fill="#94a640" d="M1531 409.3l-2.6-5.9 7.7 3.1 2.6 6z"/><path fill="#cedcff" d="M1525.9 105.8l7.8 2.4-2.7 19.3-7.8-2.6z"/><path fill="#daf88f" d="M1538.9 309.7l7.8 3.2-2.5 29-7.8-3.4z"/><path fill="#62c5a9" d="M1687.5 144.5l3.2 27.4-7.8-2.5-3.2-27.3z"/><path fill="#ffcbb4" d="M1416.6 241.2l7.8 3-2.4 32-7.8-3.1z"/><path fill="#dfff74" d="M1549.4 369l-2.7 20.4-7.9-3.5 2.7-20.4zM1556.4 372.3l-2.7 20.6-7.8-3.6 2.7-20.4z"/><path fill="#d0e2e5" d="M1525.8 178l2.4-28 7.9 2.6-2.5 28.1z"/><path fill="#cedeff" d="M1528.4 92.9l7.8 2.5-2.8 13.6-7.8-2.5z"/><path fill="#afa57f" d="M1483.2 285.1l-3.2-30.9 7.9 2.8 3.2 31.1z"/><path fill="#d5f0b1" d="M1543.8 247.3l-2.4 32.6-7.8-3.1 2.4-32.5z"/><path fill="#aeaa72" d="M1498.4 290.4l3.2 29.7-7.8-3.1-3.2-29.5z"/><path fill="#ffc4d7" d="M1421.6 181.2l-2.4 30-7.9-2.8 2.4-29.9z"/><path fill="#ffbdf6" d="M1411.2 127.6l7.8 2.5-2.5 23-7.9-2.6z"/><path fill="#d0e3ff" d="M1528.1 93.6l2.9-7.4 7.8 2.5-2.9 7.5z"/><path fill="#a2b349" d="M1533.1 395l2.7 12.3-7.8-3.3-2.7-12.2z"/><path fill="#acaf65" d="M1504.2 346.3l-3.1-26.8 7.9 3 3.1 27z"/><path fill="#ffd3a2" d="M1421.5 275.4l7.9 3.1-2.4 31.1-7.9-3.2z"/><path fill="#98ffe4" d="M1647.6 150.5l7.8 2.6-2.4 29.2-7.8-2.7zM1654.6 153.1l7.9 2.6-2.5 29.2-7.8-2.7z"/><path fill="#dcff80" d="M1543.8 341.1l7.8 3.3-2.6 25.3-7.8-3.5zM1550.8 344.3l7.9 3.4-2.6 25.3-7.9-3.4z"/><path fill="#63bdba" d="M1669.1 118l-3-18.2 7.8 2.3 3 18.2z"/><path fill="#8ab0a7" d="M1570.7 179.7l-3.1-27.4 7.8 2.4 3.2 27.5z"/><path fill="#d2e9d5" d="M1533.1 179.9l7.8 2.7-2.4 30.9-7.8-2.8z"/><path fill="#aab45a" d="M1514.6 371.8l-3-23 7.9 3.2 3 23z"/><path fill="#95ffff" d="M1655.5 92.2l-2.8 14.9-7.8-2.5 2.7-14.8zM1662.5 94.6l-2.7 14.9-7.9-2.5 2.8-14.9z"/><path fill="#d7f89f" d="M1538.5 310.5l2.5-31.4 7.8 3.1-2.4 31.5z"/><path fill="#cfe2f4" d="M1538.3 129.2l-2.5 24.2-7.8-2.6 2.5-24.1z"/><path fill="#89b59b" d="M1581.3 211.7l-3.2-30.1 7.8 2.5 3.2 30.3z"/><path fill="#eaff67" d="M1543.8 402.6l7.8 3.8-3 8.6-7.8-3.8zM1550.8 406.1l7.9 3.8-3 8.6-7.9-3.8z"/><path fill="#ffbfff" d="M1410.9 128.3l2.7-18.1 7.8 2.5-2.6 18.1z"/><path fill="#ffcbc6" d="M1416.3 242l2.3-31.6 7.9 2.8-2.4 31.7z"/><path fill="#88bb8e" d="M1596.5 216.4l3.2 31.7-7.8-2.8-3.3-31.6z"/><path fill="#87c081" d="M1602.4 279.2l-3.2-31.7 7.9 2.8 3.2 31.9z"/><path fill="#85c673" d="M1613 312l-3.2-30.5 7.8 3 3.2 30.6z"/><path fill="#ffda92" d="M1434.3 312l-2.5 29-7.8-3.4 2.5-28.8z"/><path fill="#e9b4f6" d="M1422.1 93.3l6.9 3.1-3.1 .1-6.8-3.1z"/><path fill="#63c4b3" d="M1679.4 142.9l-3-23.3 7.8 2.3 3.1 23.4z"/><path fill="#ffc4e7" d="M1415.9 152.3l7.9 2.6-2.5 27.1-7.8-2.7z"/><path fill="#a7b751" d="M1524.9 392.5l-2.9-18.1 7.9 3.3 2.8 18.1z"/><path fill="#d3f0c3" d="M1538 212.7l7.9 2.8-2.4 32.5-7.8-2.9z"/><path fill="#94ab40" d="M1538 412.8l-2.6-5.9 7.8 3.1 2.6 6z"/><path fill="#ffc4ff" d="M1418.9 92.8l7.7 2.7-2.9 6.4-7.8-2.7z"/><path fill="#daff8e" d="M1545.9 312.9l7.9 3.2-2.5 29-7.9-3.3z"/><path fill="#cee4ff" d="M1532.9 108.1l7.8 2.5-2.6 19.3-7.9-2.5z"/><path fill="#ffd2b4" d="M1423.6 244.1l7.9 3-2.4 32.1-7.9-3.1z"/><path fill="#62b9bc" d="M1665.9 100.6l-2.9-12.3 7.8 2.1 2.9 12.4z"/><path fill="#d0e9e5" d="M1532.8 180.6l2.5-28 7.8 2.6-2.4 28.1z"/><path fill="#afab7f" d="M1490.3 288.2l-3.2-31.1 7.8 2.9 3.2 31.2z"/><path fill="#cee6ff" d="M1535.4 95.2l7.8 2.5-2.7 13.7-7.9-2.5z"/><path fill="#d5f7b1" d="M1550.9 250.2l-2.4 32.7-7.9-3.1 2.4-32.6z"/><path fill="#aeb072" d="M1505.5 293.5l3.2 29.8-7.9-3.1-3.1-29.7z"/><path fill="#ffcbd7" d="M1428.6 183.9l-2.4 30-7.8-2.8 2.4-29.9z"/><path fill="#a2b948" d="M1540.2 398.5l2.7 12.3-7.8-3.3-2.8-12.3z"/><path fill="#ffc5f6" d="M1418.2 130l7.9 2.5-2.6 23.1-7.8-2.6z"/><path fill="#d0eaff" d="M1535.2 95.9l2.9-7.4 7.8 2.5-2.9 7.5z"/><path fill="#acb565" d="M1511.3 349.6l-3.1-27 7.9 3.1 3 27.1z"/><path fill="#ffdaa2" d="M1428.6 278.4l7.8 3.1-2.4 31.2-7.8-3.1z"/><path fill="#63c3ba" d="M1676.1 120.4l-3-18.2 7.9 2.2 2.9 18.3z"/><path fill="#8ab5a7" d="M1577.8 182.3l-3.2-27.5 7.9 2.5 3.1 27.6z"/><path fill="#d2f0d5" d="M1540.2 182.5l7.8 2.7-2.4 31.1-7.8-2.8z"/><path fill="#aab95a" d="M1521.7 375.2l-3-23.1 7.8 3.2 3 23.1z"/><path fill="#d7ff9f" d="M1545.6 313.6l2.4-31.5 7.9 3.1-2.5 31.6zM1552.6 316.8l2.5-31.6 7.8 3.1-2.4 31.7zM1559.7 319.9l2.4-31.7 7.9 3.1-2.5 31.9z"/><path fill="#cfeaf5" d="M1545.4 131.6l-2.6 24.3-7.8-2.6 2.5-24.2z"/><path fill="#89bb9b" d="M1588.3 214.5l-3.2-30.3 7.8 2.6 3.3 30.4z"/><path fill="#ffc6ff" d="M1418 130.7l2.6-18.1 7.9 2.5-2.7 18.2z"/><path fill="#ffd2c6" d="M1423.3 244.9l2.4-31.8 7.8 2.9-2.4 31.8z"/><path fill="#88c08e" d="M1603.5 219.2l3.2 31.9-7.8-2.9-3.2-31.7z"/><path fill="#c1ffff" d="M1660.3 82.6l7.4 3-3 2.1-7.4-3z"/><path fill="#ffff95" d="M1548.4 413.8l7.4 4.3-3.1 2-7.4-4.3z"/><path fill="#87c681" d="M1609.5 282.3l-3.2-31.9 7.8 2.8 3.2 32z"/><path fill="#96ffff" d="M1657.3 84.2l7.8 2.5-2.9 8.7-7.8-2.6z"/><path fill="#ffe292" d="M1441.4 315.2l-2.5 29-7.9-3.3 2.5-28.9z"/><path fill="#e9baf6" d="M1429.2 95.7l6.8 3-3.1 .1-6.8-3.1z"/><path fill="#ffcce7" d="M1423 154.8l7.8 2.6-2.5 27.2-7.8-2.7z"/><path fill="#a7bd50" d="M1532 395.9l-2.9-18.1 7.8 3.3 2.9 18.2z"/><path fill="#94b03f" d="M1545.1 416.4l-2.6-6 7.8 3.2 2.5 6z"/><path fill="#d3f7c3" d="M1545.1 215.5l7.8 2.8-2.3 32.6-7.9-2.9z"/><path fill="#ffccff" d="M1425.9 95.1l7.7 2.7-2.9 6.4-7.7-2.7z"/><path fill="#d9ff8e" d="M1553 316l7.8 3.3-2.5 29.1-7.8-3.3zM1560 319.2l7.9 3.2-2.5 29.3-7.9-3.3z"/><path fill="#ceebff" d="M1539.9 110.5l7.9 2.5-2.7 19.4-7.8-2.6z"/><path fill="#dfff73" d="M1563.5 375.7l-2.7 20.6-7.9-3.5 2.7-20.6z"/><path fill="#ffdab4" d="M1430.7 247l7.8 2.9-2.4 32.3-7.8-3z"/><path fill="#62bfbc" d="M1672.9 103l-2.8-12.4 7.8 2.1 2.8 12.4z"/><path fill="#d0f1e6" d="M1539.9 183.3l2.4-28.2 7.9 2.6-2.5 28.3z"/><path fill="#b1ab8c" d="M1486.8 257.9l-3.3-31.3 7.9 2.7 3.2 31.4z"/><path fill="#afb07f" d="M1497.3 291.3l-3.2-31.2 7.9 2.8 3.2 31.3z"/><path fill="#d5ffb1" d="M1557.9 253.1l-2.4 32.9-7.8-3.1 2.4-32.8zM1565 256l-2.4 33-7.9-3.1 2.4-32.9zM1572 258.9l-2.4 33.1-7.8-3.1 2.4-32.9z"/><path fill="#ceedff" d="M1542.4 97.6l7.9 2.4-2.8 13.8-7.8-2.6z"/><path fill="#aeb571" d="M1512.6 296.6l3.1 29.9-7.8-3.1-3.2-29.8z"/><path fill="#a2be48" d="M1547.2 402l2.7 12.4-7.8-3.4-2.7-12.3z"/><path fill="#ffd3d7" d="M1435.7 186.5l-2.5 30.2-7.8-2.8 2.4-30.1z"/><path fill="#ffccf6" d="M1425.3 132.4l7.8 2.6-2.6 23.2-7.8-2.6z"/><path fill="#d0f2ff" d="M1542.2 98.2l2.9-7.5 7.8 2.6-2.9 7.6z"/><path fill="#8bb4b1" d="M1574.4 155.6l-3.1-23.7 7.8 2.4 3.1 23.7z"/><path fill="#acba65" d="M1518.4 352.9l-3.1-27.1 7.8 3.1 3.1 27.2z"/><path fill="#ffe1a2" d="M1435.6 281.4l7.9 3.1-2.4 31.4-7.9-3.2z"/><path fill="#dcff7f" d="M1557.9 347.6l7.8 3.4-2.5 25.4-7.9-3.4z"/><path fill="#5db1b3" d="M1674.9 87.3l2.7 6.1-7.7-1.9-2.7-6.1z"/><path fill="#aabf5a" d="M1528.7 378.6l-3-23.2 7.9 3.2 3 23.2z"/><path fill="#8abaa7" d="M1584.8 185l-3.1-27.6 7.8 2.4 3.2 27.7z"/><path fill="#d2f8d5" d="M1547.2 185.2l7.8 2.7-2.4 31.2-7.8-2.9z"/><path fill="#95ffff" d="M1669.5 96.9l-2.7 14.9-7.8-2.5 2.7-14.9z"/><path fill="#cff1f5" d="M1552.4 134.1l-2.5 24.3-7.9-2.6 2.6-24.3z"/><path fill="#89c09b" d="M1595.4 217.3l-3.2-30.4 7.8 2.5 3.2 30.5z"/><path fill="#ffdac6" d="M1430.4 247.7l2.3-31.8 7.9 2.8-2.4 32z"/><path fill="#88c68e" d="M1610.6 222l3.2 32-7.8-2.8-3.3-31.9z"/><path fill="#c1ffff" d="M1667.3 84.9l7.4 3-3 2.1-7.4-3z"/><path fill="#96ffff" d="M1664.3 86.5l7.8 2.5-2.8 8.7-7.8-2.6z"/><path fill="#ffe992" d="M1448.4 318.3l-2.4 29.2-7.9-3.3 2.5-29.1z"/><path fill="#a7c250" d="M1539 399.4l-2.8-18.2 7.8 3.3 2.9 18.2z"/><path fill="#e9bff6" d="M1436.2 98l6.8 3-3 .1-6.9-3.1z"/><path fill="#ffd3e7" d="M1430 157.3l7.8 2.6-2.4 27.3-7.9-2.7z"/><path fill="#ffd0ff" d="M1438 105.7l-2.8 12.5-7.8-2.5 2.8-12.5z"/><path fill="#d3ffc3" d="M1552.1 218.3l7.9 2.8-2.4 32.7-7.8-2.9zM1559.2 221l7.8 2.9-2.3 32.8-7.9-2.9zM1566.2 223.8l7.9 2.8-2.4 33-7.8-2.9z"/><path fill="#ffd4ff" d="M1432.9 97.4l7.8 2.7-3 6.4-7.7-2.7z"/><path fill="#cef3ff" d="M1547 112.9l7.8 2.4-2.6 19.5-7.9-2.5z"/><path fill="#ffe1b4" d="M1437.7 249.9l7.8 2.9-2.3 32.4-7.9-3z"/><path fill="#d0f8e6" d="M1546.9 185.9l2.5-28.3 7.8 2.6-2.4 28.4z"/><path fill="#b2ab99" d="M1483.2 227.3l-3.2-30.2 7.9 2.6 3.2 30.3z"/><path fill="#b1b08c" d="M1493.8 260.8l-3.2-31.4 7.8 2.7 3.3 31.5z"/><path fill="#afb57f" d="M1504.4 294.3l-3.2-31.3 7.8 2.8 3.2 31.5z"/><path fill="#aebb71" d="M1519.6 299.6l3.2 30-7.9-3-3.1-29.9z"/><path fill="#cef5ff" d="M1549.5 99.9l7.8 2.4-2.8 13.8-7.8-2.5z"/><path fill="#ffdad7" d="M1442.7 189.1l-2.4 30.4-7.9-2.9 2.5-30.2z"/><path fill="#ffd4f6" d="M1432.3 134.9l7.8 2.5-2.5 23.3-7.9-2.6z"/><path fill="#acc065" d="M1525.4 356.2l-3.1-27.2 7.9 3.1 3.1 27.3z"/><path fill="#d0faff" d="M1549.2 100.6l2.9-7.6 7.8 2.6-2.9 7.6z"/><path fill="#8bbab1" d="M1581.4 158.1l-3.1-23.7 7.8 2.3 3.1 23.9z"/><path fill="#ffe9a2" d="M1442.7 284.4l7.8 3.1-2.4 31.5-7.8-3.2z"/><path fill="#aac45a" d="M1535.8 381.9l-3-23.2 7.9 3.2 3 23.3z"/><path fill="#8ac0a7" d="M1591.9 187.6l-3.2-27.7 7.8 2.5 3.2 27.8z"/><path fill="#d2ffd5" d="M1554.2 187.8l7.9 2.7-2.4 31.3-7.9-2.8zM1561.3 190.5l7.8 2.7-2.4 31.4-7.8-2.8zM1568.3 193.1l7.9 2.7-2.4 31.6-7.9-2.9z"/><path fill="#cff9f5" d="M1559.5 136.5l-2.6 24.5-7.8-2.6 2.5-24.4z"/><path fill="#89c69b" d="M1602.4 220l-3.2-30.5 7.8 2.6 3.3 30.6z"/><path fill="#ffe1c6" d="M1437.4 250.6l2.4-31.9 7.8 2.8-2.4 32.1z"/><path fill="#fff191" d="M1455.5 321.4l-2.5 29.3-7.8-3.3 2.4-29.2z"/><path fill="#e8c5f5" d="M1443.2 100.3l6.9 3-3.1 .1-6.8-3.1z"/><path fill="#ffdae8" d="M1437.1 159.9l7.8 2.6-2.5 27.4-7.8-2.7z"/><path fill="#ffd7ff" d="M1445.1 108l-2.8 12.6-7.8-2.5 2.7-12.6z"/><path fill="#ffdcff" d="M1440 99.7l7.7 2.7-2.9 6.4-7.8-2.6zM1439.1 138l2.6-18.3 7.9 2.5-2.7 18.4z"/><path fill="#ffe9b4" d="M1444.7 252.8l7.9 2.9-2.4 32.5-7.8-3z"/><path fill="#cefaff" d="M1554 115.2l7.8 2.5-2.6 19.6-7.8-2.6z"/><path fill="#8bb8b9" d="M1582.9 118.5l3 19-7.8-2.3-3-18.9z"/><path fill="#b2b099" d="M1490.3 230.1l-3.2-30.3 7.8 2.6 3.2 30.4z"/><path fill="#d0ffe6" d="M1554 188.6l2.4-28.4 7.8 2.6-2.4 28.5zM1561 191.2l2.4-28.5 7.9 2.6-2.5 28.6zM1568 193.9l2.5-28.7 7.8 2.6-2.4 28.8z"/><path fill="#b1b68c" d="M1500.9 263.7l-3.3-31.5 7.9 2.7 3.2 31.7z"/><path fill="#afbb7f" d="M1511.4 297.4l-3.2-31.5 7.9 2.9 3.2 31.6z"/><path fill="#aec071" d="M1526.7 302.7l3.1 30.1-7.8-3.1-3.2-30z"/><path fill="#cefdff" d="M1556.5 102.2l7.8 2.4-2.7 13.9-7.9-2.5z"/><path fill="#ffe1d7" d="M1449.7 191.8l-2.4 30.4-7.8-2.8 2.4-30.3z"/><path fill="#acc565" d="M1532.5 359.5l-3.1-27.3 7.8 3.1 3.1 27.4z"/><path fill="#ffdbf6" d="M1439.3 137.3l7.9 2.5-2.6 23.4-7.8-2.6z"/><path fill="#d0ffff" d="M1556.3 102.9l2.9-7.6 7.8 2.6-2.9 7.6zM1563.3 105.2l2.9-7.6 7.8 2.6-2.9 7.6zM1570.3 107.5l2.9-7.6 7.8 2.6-2.9 7.6z"/><path fill="#fff0a2" d="M1449.7 287.5l7.9 3-2.4 31.7-7.9-3.2z"/><path fill="#8bbfb1" d="M1588.4 160.7l-3.1-23.9 7.9 2.4 3.1 23.9z"/><path fill="#8ac5a7" d="M1598.9 190.3l-3.2-27.8 7.9 2.4 3.2 27.9z"/><path fill="#cffff5" d="M1566.5 138.9l-2.5 24.6-7.9-2.6 2.6-24.5z"/><path fill="#ffe9c6" d="M1444.4 253.5l2.4-32.1 7.9 2.8-2.4 32.2z"/><path fill="#fff891" d="M1462.5 324.6l-2.4 29.4-7.9-3.3 2.5-29.3z"/><path fill="#e8cbf5" d="M1450.3 102.6l6.8 3-3.1 .1-6.8-3.1z"/><path fill="#ffe2e8" d="M1444.1 162.4l7.8 2.6-2.4 27.5-7.9-2.7z"/><path fill="#ffdfff" d="M1452.1 110.3l-2.8 12.7-7.8-2.6 2.8-12.6z"/><path fill="#ffe3ff" d="M1447 102l7.7 2.7-2.9 6.4-7.7-2.6z"/><path fill="#fff0b4" d="M1451.8 255.6l7.8 3-2.3 32.7-7.9-3.1z"/><path fill="#ceffff" d="M1561 117.6l7.9 2.5-2.7 19.6-7.8-2.5zM1563.5 104.5l7.9 2.5-2.8 13.8-7.8-2.5zM1568.1 120l7.8 2.4-2.6 19.7-7.9-2.5zM1570.6 106.8l7.8 2.5-2.8 13.9-7.8-2.5zM1575.1 122.3l7.8 2.5-2.6 19.8-7.8-2.6z"/><path fill="#b3b0a5" d="M1491.5 175.2l3.1 27.9-7.8-2.5-3.2-27.9z"/><path fill="#8bbeb9" d="M1589.9 120.8l3 19.1-7.8-2.3-3-19z"/><path fill="#b2b599" d="M1497.3 232.9l-3.2-30.4 7.9 2.6 3.2 30.5z"/><path fill="#b1bb8c" d="M1507.9 266.7l-3.2-31.7 7.8 2.7 3.3 31.8z"/><path fill="#afc07f" d="M1518.5 300.5l-3.2-31.6 7.8 2.8 3.2 31.7z"/><path fill="#aec671" d="M1533.7 305.8l3.2 30.2-7.9-3.1-3.1-30.1z"/><path fill="#ffe9d7" d="M1456.8 194.4l-2.4 30.6-7.9-2.9 2.4-30.4z"/><path fill="#ffe3f7" d="M1446.4 139.7l7.8 2.6-2.5 23.4-7.9-2.6z"/><path fill="#fff8a2" d="M1456.8 290.5l7.8 3-2.4 31.8-7.8-3.2z"/><path fill="#8bc5b1" d="M1595.5 163.2l-3.1-23.9 7.8 2.3 3.1 24.1z"/><path fill="#8ababc" d="M1581.9 119.4l-2.9-13.3 7.8 2.1 2.9 13.4z"/><path fill="#cffff6" d="M1573.5 141.4l-2.5 24.6-7.8-2.6 2.5-24.5zM1580.6 143.8l-2.6 24.8-7.8-2.6 2.5-24.7z"/><path fill="#fff0c6" d="M1451.5 256.4l2.4-32.2 7.8 2.8-2.4 32.3z"/><path fill="#ffe4ff" d="M1446.1 140.5l2.7-18.4 7.8 2.4-2.7 18.5z"/><path fill="#ffff91" d="M1469.6 327.7l-2.5 29.5-7.8-3.3 2.4-29.4zM1476.7 330.8l-2.5 29.7-7.9-3.3 2.5-29.6zM1483.7 334l-2.5 29.8-7.8-3.4 2.5-29.6z"/><path fill="#ffe9e8" d="M1451.1 164.9l7.9 2.6-2.5 27.6-7.8-2.7z"/><path fill="#e8d0f5" d="M1457.3 104.9l6.8 3-3 0-6.9-3z"/><path fill="#ffe6ff" d="M1459.1 112.6l-2.8 12.7-7.8-2.5 2.8-12.7z"/><path fill="#ffebff" d="M1454 104.3l7.8 2.7-2.9 6.4-7.8-2.6zM1453.2 142.9l2.6-18.5 7.8 2.5-2.6 18.5z"/><path fill="#fff7b4" d="M1458.8 258.5l7.9 3-2.4 32.8-7.8-3.1z"/><path fill="#b3b5a5" d="M1498.5 177.7l3.2 28.1-7.9-2.6-3.1-27.9z"/><path fill="#8bc3b9" d="M1597 123.2l3 19.1-7.9-2.3-3-19z"/><path fill="#b2bb99" d="M1504.4 235.7l-3.2-30.5 7.8 2.5 3.2 30.7z"/><path fill="#b1c08c" d="M1515 269.6l-3.3-31.8 7.9 2.7 3.2 31.9z"/><path fill="#afc67e" d="M1525.5 303.5l-3.2-31.7 7.9 2.8 3.2 31.9z"/><path fill="#fff0d8" d="M1463.8 197l-2.4 30.7-7.8-2.8 2.4-30.6z"/><path fill="#ffffa2" d="M1463.8 293.5l7.9 3-2.4 31.9-7.9-3.2zM1470.9 296.5l7.8 3.1-2.4 32-7.8-3.2zM1477.9 299.5l7.9 3.1-2.4 32.1-7.9-3.2z"/><path fill="#ffeaf7" d="M1453.4 142.2l7.8 2.5-2.5 23.6-7.8-2.6z"/><path fill="#8ac0bc" d="M1588.9 121.8l-2.9-13.4 7.8 2.1 2.9 13.4z"/><path fill="#fff7c6" d="M1458.5 259.3l2.4-32.4 7.9 2.8-2.4 32.5z"/><path fill="#fff1e8" d="M1458.2 167.4l7.8 2.6-2.5 27.8-7.8-2.7z"/><path fill="#b4b4af" d="M1490.4 176l-3.1-24.3 7.8 2.3 3.1 24.5z"/><path fill="#e7d6f5" d="M1464.4 107.2l6.8 3-3.1 0-6.8-3z"/><path fill="#ffeeff" d="M1466.2 114.9l-2.8 12.8-7.8-2.5 2.7-12.8z"/><path fill="#fff3ff" d="M1461.1 106.6l7.7 2.7-2.9 6.5-7.8-2.7zM1460.2 145.3l2.6-18.5 7.9 2.5-2.7 18.6z"/><path fill="#ffffb4" d="M1465.9 261.4l7.8 2.9-2.3 33-7.9-3.1zM1472.9 264.3l7.9 2.9-2.4 33.1-7.8-3.1zM1480 267.2l7.8 2.9-2.3 33.2-7.9-3.1z"/><path fill="#b3bba5" d="M1505.5 180.3l3.2 28.2-7.8-2.6-3.2-28.1z"/><path fill="#84b5b6" d="M1585.8 109.3l-2.7-7.1 7.8 1.9 2.7 7.1z"/><path fill="#b2c099" d="M1511.4 238.5l-3.2-30.7 7.8 2.6 3.3 30.8z"/><path fill="#b1c68c" d="M1522 272.5l-3.2-31.9 7.8 2.7 3.3 32.1z"/><path fill="#ceffff" d="M1577.6 109.1l7.8 2.5-2.7 14-7.8-2.5z"/><path fill="#fff8d8" d="M1470.9 199.6l-2.4 30.9-7.9-2.8 2.4-30.7z"/><path fill="#ffffff" d="M1590.5 104.7l-3 1-7.1-3 3-1.1zM1481.3 152.6l2.7-18.8 7.8 2.5-2.7 18.8z"/><path fill="#fff1f7" d="M1460.4 144.6l7.9 2.5-2.6 23.7-7.8-2.6z"/><path fill="#d0ffff" d="M1577.4 109.8l2.9-7.6 7.8 2.5-2.9 7.7z"/><path fill="#ffffc6" d="M1465.6 262.1l2.4-32.4 7.8 2.8-2.4 32.6zM1472.6 265l2.4-32.6 7.8 2.8-2.3 32.8zM1479.7 267.9l2.4-32.7 7.8 2.8-2.4 32.8z"/><path fill="#fff8e8" d="M1465.2 170l7.8 2.5-2.4 27.9-7.9-2.7z"/><path fill="#b4bab0" d="M1497.4 178.6l-3.1-24.5 7.9 2.4 3.1 24.5z"/><path fill="#e7dcf5" d="M1471.4 109.5l6.8 3-3.1 0-6.8-3z"/><path fill="#fffaff" d="M1468.1 108.9l7.7 2.6-2.9 6.6-7.7-2.7zM1467.2 147.8l2.7-18.7 7.8 2.5-2.6 18.7z"/><path fill="#b3c0a5" d="M1512.6 182.8l3.2 28.4-7.9-2.6-3.2-28.2z"/><path fill="#b2c699" d="M1518.5 241.3l-3.3-30.8 7.9 2.6 3.2 30.9z"/><path fill="#ffffd8" d="M1477.9 202.3l-2.4 30.9-7.8-2.8 2.4-30.8zM1485 204.9l-2.4 31.1-7.9-2.8 2.4-31zM1492 207.5l-2.4 31.2-7.8-2.8 2.4-31.1z"/><path fill="#fff9f7" d="M1467.5 147l7.8 2.5-2.5 23.8-7.9-2.6z"/><path fill="#b4b9b8" d="M1494.1 154.9l-3-19.7 7.8 2.2 3 19.8z"/><path fill="#ffffe9" d="M1472.2 172.5l7.9 2.6-2.5 27.9-7.8-2.7zM1479.3 175l7.8 2.6-2.4 28.1-7.9-2.7zM1486.3 177.5l7.9 2.6-2.5 28.2-7.8-2.7z"/><path fill="#b4bfb0" d="M1504.5 181.1l-3.1-24.5 7.8 2.3 3.1 24.7z"/><path fill="#e6e1f5" d="M1478.4 111.7l6.8 3.1-3 0-6.9-3.1z"/><path fill="#fffdff" d="M1480.2 119.5l-2.8 12.9-7.8-2.5 2.8-12.8z"/><path fill="#b3c5a5" d="M1519.6 185.4l3.2 28.4-7.8-2.5-3.2-28.4z"/><path fill="#fffff8" d="M1474.5 149.5l7.9 2.5-2.6 23.8-7.8-2.6zM1481.6 151.9l7.8 2.5-2.5 23.9-7.9-2.6zM1488.6 154.3l7.8 2.5-2.5 24-7.8-2.6z"/><path fill="#b4beb8" d="M1501.1 157.4l-3-19.9 7.8 2.3 3 19.9z"/><path fill="#b4c5b0" d="M1511.5 183.7l-3.1-24.7 7.8 2.4 3.1 24.7z"/><path fill="#e6e7f5" d="M1485.5 114l6.8 3.1-3.1 0-6.8-3.1z"/><path fill="#b2bbbc" d="M1497.9 138.3l-2.9-14.2 7.8 2.1 2.9 14.3z"/><path fill="#b4c3b8" d="M1508.1 159.8l-3-19.9 7.9 2.3 3 19.9z"/><path fill="#acb3b8" d="M1499.8 118.8l2.7 8.1-7.7-2-2.8-8z"/><path fill="#e6ecf5" d="M1492.5 116.3l6.8 3.1-3.1 0-6.8-3.1z"/><path fill="#ffffff" d="M1489.2 115.8l7.8 2.6-3 6.6-7.7-2.7zM1488.3 155l2.7-18.8 7.8 2.4-2.6 19zM1501.3 126.4l-2.7 13-7.9-2.5 2.8-12.9z"/><path fill="#b3c0bc" d="M1504.9 140.7l-2.9-14.3 7.8 2.1 2.9 14.4z"/><path fill="#acb8b8" d="M1506.8 121.1l2.8 8.1-7.8-2-2.8-8.1z"/><path fill="#e5f2f5" d="M1499.5 118.6l6.8 3.1-3-.1-6.9-3z"/><path fill="#ffffff" d="M1496.2 118l7.8 2.6-2.9 6.7-7.8-2.7z"/></g><path d="M1503.8 34.4l-1-.5-5.1 20.1-2.3 19.2M1419.6 50.4l-.9-.8-5.2 18.4-2.6 22M1381.2 330.8l-.9-.6-3.5-14.6M1335.3 66.4l-.6-.8-5.3 16.5-4.7 37.6-4.4 52.4-8.6 113.4M1510.8 36.8l-1-.6-5.1 20.2-2.2 19.3M1426.6 52.7l-.8-.7-5.2 18.4-2.7 22.1M1388.3 334.2l-1-.6-3.5-14.6M1342.4 68.7l-.7-.8-5.2 16.6-4.8 37.7-4.4 52.7-8.6 113.8M1517.8 39.1l-.9-.6-5.2 20.3-2.1 18.9M1433.6 55.1l-.8-.8-5.2 18.5-2.6 22.2M1395.3 337.7l-.9-.6-3.5-14.7M1349.4 71l-.7-.8-5.2 16.6-4.7 38-4.4 52.9-8.6 114.3M1524.9 41.4l-1-.5-5.1 20.3-2.2 19M1440.7 57.4l-.9-.8-5.1 18.6-2.7 22.3M1402.4 341.2l-1-.6-3.4-14.8M1356.4 73.4l-.6-.8-5.3 16.6-4.7 38.1-4.4 53.1-8.6 114.8M1531.9 43.8l-.9-.6-5.2 20.4-2.2 19.1M1447.7 59.7l-.8-.7-5.2 18.6-2.7 22.4M1409.4 344.7l-.9-.6-3.7-15.9M1363.5 75.7l-.7-.8-5.2 16.7-4.8 38.3-4.3 53.3-8.6 115.2M1538.9 46.1l-.9-.6-5.2 20.5-2.1 19.2M1454.7 62.1l-.8-.8-5.2 18.7-2.6 21.9M1416.5 348.1l-.9-.6-3.7-15.9M1370.5 78l-.7-.8-5.2 16.8-4.7 38.4-4.4 53.6-8.6 115.7M1546 48.4l-1-.6-5.1 20.7-2.1 18.2M1461.8 64.4l-.8-.8-5.2 18.8-2.6 22M1423.6 351.6l-1-.6-3.7-16M1377.5 80.4l-.6-.9-5.3 16.9-4.7 38.5-4.4 53.8-8.5 116.2M1553 50.8l-.9-.6-5.2 20.7-2 18.2M1468.7 66.6l-.7-.7-5.2 18.9-2.5 21.1M1430.6 355.1l-.9-.6-3.7-16.1M1384.6 82.7l-.7-.9-5.2 17-4.7 38.7-4.4 54-8.6 116.6M1560 53.1l-.9-.6-5.2 20.8-1.9 17.9M1475.7 68.9l-.7-.7-5.2 18.9-2.4 21.2M1437.7 358.6l-1-.6-3.7-16.1M1391.6 85l-.6-.8-5.3 17-4.7 38.8-4.4 54.2-8.5 117.2M1567.1 55.4l-1-.6-5.1 20.9-2 17.9M1482.8 71.3l-.7-.7-5.2 18.9-2.5 21.3M1444.8 362.1l-1-.6-3.8-16.6M1398.6 87.3l-.6-.8-5.2 17.1-4.8 39-4.3 54.4-8.5 117.6M1574.1 57.7l-.9-.6-5.2 21-2 18M1489.8 73.6l-.7-.7-5.2 19-2.5 21.4M1451.8 365.6l-.9-.6-3.8-16.7M1405.7 89.6l-.7-.8-5.2 17.1-4.7 39.2-4.4 54.7-8.5 118M1581.1 60l-.9-.6-5.1 21-2 18.2M1496.8 75.9l-.7-.7-5.2 19.1-2.4 20.9M1458.9 369.1l-1-.6-3.8-16.8M1412.7 91.9l-.6-.8-5.3 17.2-4.7 39.3-4.3 54.9-8.5 118.6M1588.2 62.3l-1-.6-5.1 21.1-2 18.3M1503.9 78.2l-.7-.7-5.2 19.2-2.4 21M1465.9 372.6l-.9-.6-4-17.8M1419.7 94.3l-.6-.9-5.2 17.3-4.7 39.5-4.4 55.1-8.5 119M1595.2 64.7l-.9-.7-5.2 21.2-1.8 17.3M1510.9 80.5l-.7-.7-5.2 19.3-2.4 21.1M1474 376.7l-1.9-1.2-4.1-17.9M1426.8 96.6l-.7-.9-5.2 17.3-4.7 39.7-4.3 55.3-8.5 119.6M1602.3 67l-1-.7-5.1 21.3-2.6 23.9M1517.9 82.8l-.7-.7-5.2 19.3-2.9 26.3M1480.1 379.6l-1-.6-4-18M1433.8 98.9l-.6-.9-5.3 17.4-4.7 39.8-4.3 55.6-8.5 120M1656.8 350.2l-2.6-3.4-4-19.8M1609.3 69.3l-1-.7-5.1 21.4-4.7 44M1571.6 366.1l-1.4-1.4-4.4-20.9M1525 85.1l-.7-.7-5.2 19.4-5.1 46.6M1487.1 383.1l-.9-.6-5-22.1M1440.8 101.2l-.6-.9-5.2 17.5-4.7 39.9-4.4 55.8-8.4 120.6M1689.8 123.4l-1.9 26.2M1663.9 353.8l-2.6-3.5-6.4-31.7-2.4-18M1616.3 71.6l-.9-.7-5.2 21.5-4.6 43.2-2.3 31.4M1579.4 370.4l-2.1-2.2-6.4-30-2.9-20.9M1532 87.4l-.7-.7-5.2 19.5-4.6 41.7-2.7 34.9M1494.2 386.6l-1-.6-6.2-28.2-3.6-24.8M1447.9 103.5l-.7-.9-5.2 17.5-4.7 40.2-4.3 56-8.4 121M1696.8 126l-4.4 60.7M1670.9 357.3l-2.6-3.5-6.3-31.9-7.4-55.1M1623.4 73.9l-1-.7-5.1 21.6-4.6 43.3-4.7 64.1M1586.5 373.9l-2.2-2.2-6.3-30.1-8-59.1M1539 89.7l-.7-.7-5.1 19.6-4.7 41.8-5 68.3M1501.3 390.1l-1-.6-6.3-28.3-8.4-61.8M1454.9 105.8l-.6-.9-5.3 17.6-4.6 40.3-4.4 56.3-8.4 121.5M1703.9 128.5l-6.9 98M1678 360.8l-2.6-3.5-6.4-32-6.8-50.4-5.1-44M1630.4 76.2l-1-.7-5.1 21.7-4.6 43.5-7.2 102.3M1592.8 376.7l-1.4-1.5-6.3-30.2-6.8-49.2-5.8-48.7M1546.1 92l-.7-.7-5.2 19.6-4.7 42.1-7.5 106.4M1508.3 393.6l-.9-.6-6.3-28.4-6.8-48-6.3-53.1M1461.9 108.1l-.6-.9-5.2 17.7-4.7 40.4-4.3 56.5-8.4 122M1710.9 131.1l-9.3 134.7M1684.4 363.4l-1.9-2.6-6.4-32.2-6.8-50.6-10-85.4M1637.4 78.5l-.9-.7-5.2 21.7-4.6 43.8-9.7 138.9M1599.9 380.2l-1.4-1.5-6.4-30.3-6.8-49.5-10.5-89.7M1553.1 94.3l-.7-.7-5.2 19.7-4.6 42.2-10.1 143.1M1515.4 397.1l-1-.6-6.3-28.5-6.7-48.2-11-93.6M1469 110.3l-.7-.8-5.2 17.7-4.7 40.6-4.3 56.8-8.4 122.5M1717.9 133.7l-11.8 168.9M1691.5 366.9l-2-2.6-6.3-32.3-6.9-50.8-14.3-122.2M1644.5 80.8l-1-.7-5.1 21.8-4.6 43.9-12.3 174.2M1607 383.7l-1.5-1.5-6.3-30.5-6.8-49.6-14.9-126.2M1560.2 96.6l-.8-.8-5.1 19.9-4.7 42.3-12.6 179.2M1522.4 400.7l-.9-.7-6.3-28.7-6.8-48.3-15.5-131.1M1476 112.6l-.6-.9-5.3 17.9-4.6 40.8-4.3 56.9-8.4 123M1725 136.2l-8.4 123.6-4.3 57.1-2.3 20M1698.5 370.4l-1.9-2.6-6.4-32.4-6.8-51.1-14.1-120.6-4.7-33.7M1651.5 83l-1-.6-5.1 21.9-4.6 44.1-12.7 180.9-2.5 23.3M1614 387.2l-1.4-1.5-6.4-30.6-6.8-49.8-14-120.7-5.3-38.9M1567.2 98.9l-.7-.8-5.2 19.9-4.6 42.6-12.7 180.9-2.9 28M1529.5 404.2l-.9-.7-6.3-28.8-6.8-48.6-14.1-120.6-5.9-44M1483 114.9l-.6-.9-5.2 17.9-4.7 41-4.3 57.2-8.4 123.5M1732 138.8l-8.4 124-4.2 57.5-5 42.1M1705.6 374l-1.9-2.7-6.4-32.6-6.9-51.2-14-121.2-6.8-48.8-2.2-10M1658.5 85.3l-.9-.6-5.1 21.9-4.6 44.3-12.7 181.6-4.6 42.8-.8 3M1621.1 390.7l-1.5-1.5-6.3-30.7-6.8-50.1-14.1-121.2-6.8-50-2.6-12.9M1574.2 101.2l-.7-.8-5.2 20-4.6 42.7-12.6 181.6-4.6 44.3-1.4 6M1536.6 407.7l-1-.6-6.3-29-6.8-48.8-14-121.1-6.9-51.3-3.3-16.7M1490.1 117.2l-.7-.9-5.2 18-4.7 41.1-4.2 57.4-8.4 124M1739.1 141.4l-8.4 124.5-4.3 57.7-4.7 41.2-3.7 13.1M1712.7 377.5l-2-2.7-6.4-32.7-6.8-51.5-14.1-121.6-6.8-49.1-5.8-27M1665.6 87.6l-1-.6-5.1 22-4.6 44.5-12.6 182.3-4.7 42.9-4.1 16.1M1628.9 395l-2.2-2.2-6.3-30.9-6.8-50.3-14.1-121.7-6.8-50.3-6.4-30.9M1581.3 103.4l-.8-.7-5.1 20-4.7 42.9-12.6 182.4-4.6 44.5-4.4 19M1543.6 411.2l-.9-.6-6.3-29.1-6.8-49-14.1-121.7-6.8-51.4-6.4-32.7-.7-.9M1497.1 119.5l-.6-.9-5.2 18-4.7 41.3-4.3 57.7-8.3 124.5M1746.1 143.9l-8.3 125.1-4.3 57.9-4.7 41.4-5.2 18.1-5.8-8.1-6.4-32.8-6.8-51.7-14.2-122.2-6.7-49.2-6.3-29.2-5.8-4-5.1 22.2-4.6 44.6-12.6 183.1-4.6 43.1-5.2 20.1-5.7-6-6.4-31-6.8-50.5-14.1-122.3-6.8-50.5-6.4-31-5.7-6-5.2 20.1-4.6 43.1-12.6 183.1-4.6 44.6-5.1 22.2-5.8-4-6.3-29.2-6.7-49.2-14.2-122.2-6.8-51.7-6.4-32.8-5.8-8.1-5.2 18.1-4.7 41.4-4.3 57.9-8.3 125.1" fill="none" stroke="#555" stroke-width="0.7" stroke-linejoin="round" stroke-linecap="round"/><path d="M1684.5 121.5l61.6 22.4M1700.7 252.8l37.1 16.2M1714.7 361.4l14.1 6.9M1650.7 345l67.1 33.3M1655.2 271.7l49.4 22.1M1662.3 161l28.1 10.6M1672.1 91.5l5.3 1.7M1497.7 54l168.8 57.4M1608.4 196.1l49.3 19.6M1622.9 326.8l26.4 12.3M1636 400.6l3.5 1.7M1567.4 336.6l60 28.7M1573 236.9l40.5 16.7M1582.1 135.9l17.6 6.1M1418.7 49.6l168.9 55.4M1514.4 145.3l63.4 22.9M1530.6 275l38.8 16.6M1544.7 388.1l15.9 7.8M1380.3 330.2l169.4 83.9M1485.5 312.6l51.2 23.1M1492.6 202.1l29.9 11.4M1502.3 126.7l7 2.3M1329.4 82.1l168.9 56.9M1320.3 172.1l169 66.2M1311.7 285.5l169.3 77.9" fill="none" stroke="#555" stroke-width="0.7" stroke-linejoin="round" stroke-linecap="round"/><g stroke="#000" stroke-width="2.3" stroke-linecap="round"><line x1="1313.5" y1="362.9" x2="1306.3" y2="56.8"/><line x1="1313.5" y1="362.9" x2="1482.6" y2="432.8"/><line x1="1306.3" y1="56.8" x2="1575.3" y2="4.6"/><line x1="1306.3" y1="56.8" x2="1475.5" y2="126.7"/><line x1="1575.3" y1="4.6" x2="1744.5" y2="74.5"/><line x1="1482.6" y1="432.8" x2="1475.5" y2="126.7"/><line x1="1482.6" y1="432.8" x2="1751.6" y2="380.6"/><line x1="1475.5" y1="126.7" x2="1744.5" y2="74.5"/><line x1="1751.6" y1="380.6" x2="1744.5" y2="74.5"/></g><g stroke="#000" stroke-width="2"><line x1="1313.5" y1="362.8" x2="1307" y2="362.8"/><line x1="1313.1" y1="348.9" x2="1300.6" y2="348.9"/><line x1="1312.8" y1="335" x2="1306.3" y2="335"/><line x1="1312.5" y1="321.1" x2="1306" y2="321.1"/><line x1="1312.2" y1="307.2" x2="1305.7" y2="307.2"/><line x1="1311.8" y1="293.3" x2="1305.3" y2="293.3"/><line x1="1311.5" y1="279.4" x2="1299" y2="279.4"/><line x1="1311.2" y1="265.5" x2="1304.7" y2="265.5"/><line x1="1310.9" y1="251.6" x2="1304.4" y2="251.6"/><line x1="1310.5" y1="237.6" x2="1304" y2="237.6"/><line x1="1310.2" y1="223.7" x2="1303.7" y2="223.7"/><line x1="1309.9" y1="209.8" x2="1297.4" y2="209.8"/><line x1="1309.6" y1="195.9" x2="1303.1" y2="195.9"/><line x1="1309.2" y1="182" x2="1302.7" y2="182"/><line x1="1308.9" y1="168.1" x2="1302.4" y2="168.1"/><line x1="1308.6" y1="154.2" x2="1302.1" y2="154.2"/><line x1="1308.3" y1="140.3" x2="1295.8" y2="140.3"/><line x1="1307.9" y1="126.4" x2="1301.4" y2="126.4"/><line x1="1307.6" y1="112.5" x2="1301.1" y2="112.5"/><line x1="1307.3" y1="98.5" x2="1300.8" y2="98.5"/><line x1="1307" y1="84.6" x2="1300.5" y2="84.6"/><line x1="1306.6" y1="70.7" x2="1294.1" y2="70.7"/><line x1="1306.3" y1="56.8" x2="1299.8" y2="56.8"/><line x1="1313.5" y1="362.9" x2="1313.8" y2="375.3"/><line x1="1330.4" y1="369.8" x2="1330.5" y2="376.3"/><line x1="1347.3" y1="376.8" x2="1347.6" y2="389.3"/><line x1="1364.2" y1="383.8" x2="1364.4" y2="390.3"/><line x1="1381.1" y1="390.8" x2="1381.4" y2="403.3"/><line x1="1398" y1="397.8" x2="1398.2" y2="404.3"/><line x1="1415" y1="404.8" x2="1415.3" y2="417.3"/><line x1="1431.9" y1="411.8" x2="1432" y2="418.3"/><line x1="1448.8" y1="418.8" x2="1449.1" y2="431.3"/><line x1="1465.7" y1="425.8" x2="1465.9" y2="432.3"/><line x1="1482.6" y1="432.8" x2="1482.9" y2="445.2"/><line x1="1496.1" y1="430.1" x2="1496.2" y2="436.6"/><line x1="1509.5" y1="427.5" x2="1509.7" y2="434"/><line x1="1523" y1="424.9" x2="1523.1" y2="431.4"/><line x1="1536.4" y1="422.3" x2="1536.6" y2="428.8"/><line x1="1549.9" y1="419.7" x2="1550.2" y2="432.2"/><line x1="1563.3" y1="417.1" x2="1563.5" y2="423.6"/><line x1="1576.8" y1="414.5" x2="1576.9" y2="421"/><line x1="1590.2" y1="411.9" x2="1590.4" y2="418.4"/><line x1="1603.7" y1="409.3" x2="1603.8" y2="415.8"/><line x1="1617.1" y1="406.7" x2="1617.4" y2="419.2"/><line x1="1630.6" y1="404.1" x2="1630.7" y2="410.6"/><line x1="1644" y1="401.5" x2="1644.2" y2="408"/><line x1="1657.5" y1="398.9" x2="1657.6" y2="405.4"/><line x1="1670.9" y1="396.2" x2="1671.1" y2="402.7"/><line x1="1684.4" y1="393.6" x2="1684.7" y2="406.1"/><line x1="1697.8" y1="391" x2="1698" y2="397.5"/><line x1="1711.3" y1="388.4" x2="1711.4" y2="394.9"/><line x1="1724.7" y1="385.8" x2="1724.9" y2="392.3"/><line x1="1738.2" y1="383.2" x2="1738.3" y2="389.7"/><line x1="1751.6" y1="380.6" x2="1751.9" y2="393.1"/></g><g font-family="Liberation Serif, serif" font-size="20" fill="#000"><text x="1299.6" y="357.2" text-anchor="end">−1</text><text x="1298" y="287.6" text-anchor="end">−0.5</text><text x="1296.4" y="218.1" text-anchor="end">0</text><text x="1294.8" y="148.5" text-anchor="end">0.5</text><text x="1293.1" y="79" text-anchor="end">1</text><text x="1314.1" y="395.6" text-anchor="middle">0</text><text x="1347.9" y="409.6" text-anchor="middle">0.02</text><text x="1381.7" y="423.6" text-anchor="middle">0.04</text><text x="1415.6" y="437.5" text-anchor="middle">0.06</text><text x="1449.4" y="451.5" text-anchor="middle">0.08</text><text x="1483.2" y="465.5" text-anchor="middle">10</text><text x="1550.5" y="452.5" text-anchor="middle">5</text><text x="1617.7" y="439.4" text-anchor="middle">0</text><text x="1685" y="426.4" text-anchor="middle">−5</text><text x="1752.2" y="413.4" text-anchor="middle">−10</text></g><g font-family="Liberation Serif, serif" font-size="20" fill="#000"><text x="1399.8" y="468.7" text-anchor="middle" font-style="italic">t</text><text x="1619.3" y="474.3" text-anchor="middle" font-style="italic">x</text></g><text x="1266.2" y="31.9" font-family="Liberation Sans, Arial, sans-serif" font-weight="bold" font-size="38.5">C</text><g stroke="#000" stroke-width="2" stroke-linecap="round"><line x1="42" y1="900.2" x2="302.3" y2="854.3"/><line x1="302.3" y1="854.3" x2="302" y2="546.2"/><line x1="302.3" y1="854.3" x2="484.4" y2="919.3"/></g><g><path fill="#f00" d="M263.9 632.7l5-24.5 8.4-4.7-5 26.4zM271.3 629.7l5.4-26.4 8.4-.5-5.4 27.2zM278.9 629.9l5.4-27.3 8.4 .2-5.4 27.9zM286.5 630.5l5.4-27.9 8.4 .5-5.5 28.5zM294 631.4l5.5-28.4 8.4 .7-5.5 28.9zM195.9 616.7l-5 25-8.3 3 5-23.3zM301.6 632.5l5.5-28.9 8.4 .8-5.5 29.4zM309.2 633.6l5.5-29.3 8.4 .9-5.5 29.9zM203.7 615.9l-5.4 25.8-8.3-.2 5.3-25.1zM316.8 634.9l5.5-29.8 8.3 1-5.5 30.3zM211.3 615.9l-5.4 26.4-8.4-.7 5.5-25.9zM324.3 636.2l5.6-30.2 8.3 1.1-5.5 30.7zM218.9 616.2l-5.4 27-8.4-1.1 5.5-26.4zM331.9 637.6l5.5-30.6 8.4 1.2-5.5 31zM226.5 616.7l-5.5 27.5-8.3-1.2 5.4-27zM90.1 734.4l5.5-43.4 8.4-.7-5.5 46.7zM109.2 652.8l-5.2 38.3-8.3 .7 5.2-35.7zM339.5 639.1l5.5-31.1 8.4 1.3-5.5 31.4zM101.2 656.8l5-22.1 8.4-4.8-5.1 23.7zM234.1 617.4l-5.5 27.9-8.4-1.3 5.5-27.5zM97.7 736.9l5.6-46.7 8.3 1.3-5.5 48.1zM117 652.7l-5.5 39.6-8.3-1.3 5.4-38.3zM347.1 640.5l5.5-31.4 8.4 1.3-5.5 31.8zM105.3 739.5l5.6-48.1 8.3 1.5-5.5 49.3zM241.7 618.2l-5.5 28.3-8.4-1.4 5.5-27.9zM108.6 653.4l5.4-23.7 8.3-.6-5.3 24.5zM124.6 653.2l-5.5 40.5-8.4-1.6 5.5-39.5zM354.7 642.1l5.5-31.8 8.4 1.3-5.6 32.1zM112.9 742.1l5.6-49.3 8.3 1.7-5.5 50.3zM249.3 619.1l-5.5 28.7-8.4-1.4 5.5-28.4zM116.2 653.4l5.4-24.5 8.3 .1-5.4 25.1zM132.2 654l-5.5 41.3-8.4-1.7 5.5-40.5zM362.3 643.6l5.5-32.2 8.4 1.4-5.6 32.5zM120.5 744.7l5.6-50.3 8.3 1.8-5.6 51.2zM256.9 620l-5.6 29.2-8.3-1.5 5.5-28.8zM123.7 653.9l5.5-25.1 8.3 .5-5.4 25.6zM139.8 655l-5.5 42-8.4-1.8 5.5-41.3zM369.8 645.1l5.6-32.5 8.3 1.4-5.5 32.9zM128 747.3l5.6-51.1 8.4 1.8-5.6 52.1zM264.5 621.1l-5.6 29.4-8.3-1.5 5.5-29.1zM131.3 654.7l5.5-25.6 8.3 .7-5.4 26zM386 647.6l-5.6 50.7-8.4-2.2 5.6-50.1zM147.4 656.1l-5.6 42.7-8.3-1.9 5.5-42zM377.4 646.7l5.6-32.8 8.3 1.4-5.5 33.2zM135.6 750l5.6-52.1 8.4 2-5.6 52.8zM272 622.1l-5.5 29.9-8.4-1.6 5.6-29.5zM138.9 655.6l5.5-25.9 8.3 .8-5.5 26.4zM393.5 649.3l-5.5 51.2-8.4-2.2 5.6-50.7zM382.2 755.2l5.2-55.6 8.4 2.2-5.2 56.2zM155 657.3l-5.6 43.3-8.4-1.9 5.6-42.7zM385 648.3l5.5-33.2 8.4 1.4-5.5 33.6zM143.2 752.6l5.6-52.8 8.4 1.9-5.6 53.7zM279.6 623.3l-5.5 30.1-8.4-1.6 5.6-29.8zM146.5 656.7l5.5-26.4 8.3 1-5.5 26.8zM401.1 650.9l-5.5 51.7-8.4-2.2 5.5-51.2zM389.8 757.9l5.2-56.1 8.4 2.2-5.2 56.7zM162.5 658.5l-5.5 44-8.4-2 5.6-43.3zM150.8 755.3l5.6-53.6 8.4 2-5.6 54.3zM392.6 649.9l5.5-33.5 8.4 1.4-5.5 33.9zM287.2 624.4l-5.5 30.5-8.4-1.6 5.5-30.2zM154 657.9l5.5-26.8 8.4 1-5.5 27.2zM408.7 652.5l-5.6 52.3-8.3-2.3 5.5-51.7zM397.4 760.6l5.2-56.7 8.3 2.3-5.1 57.2zM417.7 889.4l-5.8 31.7-8.4-4.2 5.8-31.5zM170.1 659.8l-5.5 44.6-8.4-2 5.5-44zM158.4 757.9l5.6-54.3 8.4 2-5.6 55.1zM400.2 651.6l5.5-33.9 8.4 1.4-5.6 34.2zM294.8 625.6l-5.5 30.9-8.4-1.7 5.5-30.5zM161.6 659.2l5.5-27.2 8.4 1.1-5.5 27.5zM416.3 654.2l-5.6 52.7-8.4-2.2 5.6-52.2zM405 763.3l5.2-57.2 8.3 2.2-5.1 57.8zM425.3 893.2l-5.8 32-8.4-4.2 5.8-31.8zM177.7 661.2l-5.5 45.2-8.4-2.1 5.5-44.6zM166 760.6l5.6-55.1 8.3 2-5.6 55.8zM407.8 653.2l5.5-34.2 8.4 1.5-5.6 34.5zM416.5 890l5.7-51.8 8.4 3.5-5.7 52.1zM302.4 626.8l-5.6 31.2-8.3-1.7 5.5-30.8zM169.2 660.5l5.5-27.6 8.4 1.2-5.5 27.9zM423.9 655.9l-5.6 53.2-8.4-2.2 5.6-52.8zM412.6 766l5.1-57.7 8.4 2.2-5.2 58.3zM290.6 706.2l5.6-49.1 8.4 1.7-5.6 49.5zM306.8 709.6l-5.6 60.1-8.4-2.8 5.6-59.4zM185.3 662.6l-5.6 45.7-8.3-2 5.5-45.2zM173.5 763.2l5.7-55.7 8.3 2-5.6 56.5zM415.3 654.9l5.6-34.5 8.4 1.4-5.6 34.9zM310 628l-5.6 31.6-8.3-1.7 5.5-31.2zM176.8 661.8l5.5-27.9 8.4 1.2-5.6 28.3zM431.5 657.5l-5.6 53.8-8.4-2.3 5.6-53.2zM298.2 708.2l5.6-49.5 8.4 1.6-5.6 50.1zM314.4 711.7l-5.6 60.7-8.4-2.8 5.6-60zM192.9 664l-5.6 46.3-8.4-2.1 5.6-45.7zM181.1 765.9l5.6-56.4 8.4 2-5.6 57.1zM422.9 656.5l5.6-34.8 8.3 1.5-5.5 35.1zM317.5 629.3l-5.5 31.8-8.4-1.7 5.6-31.5zM184.4 663.2l5.5-28.2 8.4 1.2-5.6 28.6zM305.8 710.3l5.6-50.1 8.4 1.7-5.6 50.6zM322 713.8l-5.6 61.3-8.4-2.8 5.6-60.6zM200.5 665.5l-5.6 46.8-8.4-2.1 5.6-46.3zM188.7 768.5l5.6-57.1 8.4 2.1-5.6 57.8zM430.5 658.2l5.5-35.1 8.4 1.4-5.5 35.5zM325.1 630.6l-5.5 32.1-8.4-1.7 5.6-31.8zM191.9 664.7l5.6-28.6 8.3 1.3-5.5 28.9zM313.4 712.4l5.6-50.6 8.3 1.7-5.5 51.1zM329.6 716l-5.6 61.8-8.4-2.8 5.6-61.2zM322.2 929.8l5.7-33.3 8.4 3.9-5.8 33.6zM208.1 666.9l-5.6 47.4-8.4-2.1 5.6-46.8zM196.3 771.2l5.6-57.7 8.4 2.1-5.6 58.3zM332.7 631.9l-5.5 32.4-8.4-1.7 5.5-32.2zM199.5 666.1l5.6-28.9 8.3 1.4-5.5 29.2zM321 714.5l5.5-51 8.4 1.7-5.5 51.5zM337.2 718.1l-5.6 62.4-8.4-2.7 5.6-61.9zM329.8 933.8l5.7-33.6 8.4 3.9-5.8 33.9zM215.6 668.4l-5.5 47.9-8.4-2.1 5.6-47.4zM203.9 773.9l5.6-58.4 8.4 2.1-5.6 59zM340.3 633.2l-5.5 32.8-8.4-1.8 5.5-32.5zM207.1 667.6l5.5-29.2 8.4 1.4-5.5 29.5zM344.7 720.2l-5.6 63-8.3-2.7 5.6-62.5zM328.6 716.7l5.5-51.6 8.4 1.7-5.6 52.1zM223.2 670l-5.5 48.4-8.4-2.1 5.5-47.9zM211.5 776.5l5.6-59 8.4 2.1-5.6 59.7zM347.9 634.5l-5.6 33.1-8.3-1.8 5.5-32.7zM214.7 669.1l5.5-29.5 8.4 1.4-5.5 29.8zM336.2 718.8l5.5-52.1 8.4 1.7-5.6 52.6zM230.8 671.5l-5.6 48.9-8.3-2.1 5.5-48.4zM219.1 779.2l5.6-59.6 8.3 2.1-5.6 60.2zM355.5 635.9l-5.6 33.3-8.3-1.7 5.5-33.1zM226.9 781.1l8.4 2.7-.7 5.7-8.4-2.8zM222.3 670.6l5.5-29.8 8.4 1.4-5.6 30.1zM238.4 673.1l-5.6 49.4-8.3-2.2 5.5-48.9zM226.6 781.8l5.6-60.2 8.4 2.2-5.6 60.8zM363.1 637.2l-5.6 33.7-8.4-1.8 5.6-33.4zM234.5 783.7l8.4 2.8-.7 5.7-8.4-2.7zM229.9 672.2l5.5-30.1 8.4 1.4-5.6 30.4zM246 674.7l-5.6 49.8-8.4-2.1 5.6-49.4zM234.2 784.5l5.6-60.8 8.4 2.1-5.6 61.4zM254.9 911.2l-5.7 35.4-8.4-4.2 5.8-35zM242.1 786.4l8.4 2.7-.7 5.8-8.4-2.7zM237.4 673.8l5.6-30.5 8.4 1.5-5.6 30.7zM253.6 676.2l-5.6 50.4-8.4-2.1 5.6-49.9zM241.8 787.2l5.6-61.4 8.4 2.1-5.6 62zM262.5 915l-5.7 35.7-8.4-4.2 5.7-35.4zM249.7 789.1l8.3 2.7-.7 5.9-8.3-2.8zM245 675.3l5.6-30.7 8.3 1.5-5.5 31zM261.1 677.8l-5.5 50.9-8.4-2.2 5.6-50.3zM249.4 789.8l5.6-62 8.4 2.2-5.6 62.6zM257.2 791.7l8.4 2.8-.7 5.9-8.3-2.8zM252.6 676.9l5.5-31 8.4 1.5-5.5 31.3zM268.7 679.5l-5.5 51.3-8.4-2.2 5.5-50.8zM260.2 678.5l5.5-31.3 8.4 1.5-5.5 31.6z"/><path fill="#f11" d="M282.6 596l-4.9 8.4-8.3 4.3 5-7.9zM290.4 595.1l-5.3 8.6-8.3 .3 5.4-8.5zM298 594.9l-5.4 8.8-8.2-.4 5.4-8.7zM305.6 595.1l-5.4 9-8.3-.8 5.5-8.9zM313.2 595.5l-5.4 9.1-8.3-1 5.5-9zM188.1 621.9l5-6.5 8.2-4.7-5 6.8zM320.8 596.1l-5.5 9.3-8.2-1.2 5.5-9.1zM195.5 617l5.3-6.9 8.2-.4-5.3 7.2zM328.4 596.8l-5.5 9.4-8.2-1.3 5.5-9.3zM203 616.3l5.5-7.1 8.1 .4-5.4 7.2zM336 597.6l-5.5 9.5-8.3-1.4 5.5-9.3zM343.6 598.4l-5.5 9.7-8.3-1.4 5.5-9.5zM210.6 616.3l5.4-7.2 8.2 .7-5.4 7.3zM351.2 599.4l-5.5 9.7-8.3-1.5 5.5-9.6zM218.2 616.6l5.4-7.3 8.2 .9-5.4 7.5zM119.9 625.5l-5 5.3-8.1 4.3 5-5zM358.8 600.4l-5.6 9.8-8.2-1.5 5.5-9.7zM225.7 617.2l5.5-7.5 8.2 1.1-5.4 7.6zM366.4 601.4l-5.6 9.9-8.2-1.5 5.5-9.8zM233.3 617.9l5.5-7.6 8.2 1.2-5.5 7.7zM373.9 602.5l-5.5 10-8.3-1.6 5.6-9.9zM240.9 618.7l5.5-7.7 8.2 1.3-5.5 7.7zM381.5 603.6l-5.5 10.1-8.3-1.6 5.5-10zM248.5 619.6l5.5-7.8 8.2 1.4-5.5 7.8zM389.1 604.7l-5.5 10.2-8.3-1.6 5.5-10.1zM256.1 620.5l5.5-7.8 8.2 1.4-5.5 7.9zM396.7 605.9l-5.5 10.3-8.3-1.7 5.5-10.2zM263.6 621.5l5.6-7.9 8.2 1.5-5.5 8zM404.3 607.1l-5.6 10.4-8.2-1.7 5.5-10.3zM271.2 622.6l5.5-8 8.3 1.5-5.6 8.1zM411.9 608.3l-5.6 10.5-8.3-1.7 5.6-10.4zM278.8 623.7l5.5-8 8.3 1.5-5.6 8.2zM398.2 922.6l5.8-6.6 8.2 4.6-5.8 6.7zM419.5 609.5l-5.6 10.6-8.3-1.7 5.6-10.5zM286.4 624.9l5.5-8.2 8.2 1.6-5.5 8.2zM405.8 926.8l5.8-6.7 8.2 4.6-5.8 6.7zM427 610.7l-5.5 10.7-8.3-1.7 5.6-10.6zM294 626.1l5.5-8.2 8.2 1.6-5.5 8.3zM434.6 612l-5.5 10.7-8.3-1.7 5.5-10.7zM301.5 627.3l5.6-8.3 8.2 1.6-5.5 8.4zM442.2 613.3l-5.5 10.8-8.3-1.7 5.5-10.8zM309.1 628.5l5.6-8.3 8.2 1.6-5.5 8.5zM316.7 629.8l5.5-8.4 8.3 1.6-5.6 8.5zM330.9 933.4l-5.8 8.8-8.3-4.6 5.8-8.7zM324.3 631.1l5.5-8.5 8.3 1.7-5.6 8.5zM338.4 937.5l-5.7 8.8-8.3-4.6 5.8-8.7zM331.9 632.4l5.5-8.6 8.3 1.7-5.6 8.6zM339.4 633.7l5.6-8.7 8.2 1.8-5.5 8.7zM347 635l5.6-8.7 8.2 1.7-5.5 8.8zM249.1 638l-5.6 6.5-8.1-1.8 5.5-6.5zM235.4 952.4l5.8-10.8 8.3 4.4-5.8 10.9zM256.7 639.2l-5.6 6.6-8.1-1.9 5.5-6.5zM243 956.5l5.8-10.8 8.3 4.4-5.8 10.9zM264.3 640.4l-5.6 6.7-8.2-1.9 5.6-6.6zM271.8 641.7l-5.5 6.7-8.2-1.9 5.6-6.6zM279.4 643l-5.5 6.7-8.2-1.9 5.6-6.6z"/><path fill="#d00" d="M68.4 845.4l-4.8-11 8.3 9.4 4.8 12zM76 856.2l-4.9-12.1 8.3 5.6 4.9 12.4z"/><path fill="#e00" d="M66.4 815.5l4.9 28.9-8.4-9.6-4.8-26.9zM74 820.4l4.9 30-8.3-5.7-5-29.1zM83.6 862.5l-4.9-12.5 8.3 5 5 12.8zM57.5 808.5l-5-38 8.4 4.6 5 41zM81.5 824.9l5.1 30.8-8.4-5.1-5-30.1zM91.2 868.1l-5-12.8 8.4 4.6 5 13.1zM337.4 889.4l-5-18.8 8.3 3.8 5.1 19.1zM65.1 816.2l-5-41 8.3 3.5 5.1 42.4zM57.4 747.1l3.1 28.7-8.4-4.7-3-26.6zM433.9 772.6l5.1 56-8.4-3.5-5.1-55.4zM89.1 829.2l5.1 31.5-8.4-4.8-5.1-30.8zM98.8 873.3l-5-13.1 8.3 4.4 5 13.4zM345 893.7l-5-19.1 8.3 3.8 5.1 19.3zM72.7 821.2l-5.1-42.4 8.4 3.4 5.1 43.4zM441.4 775.5l5.2 56.6-8.4-3.4-5.1-56zM96.7 833.3l5 32.1-8.3-4.6-5.1-31.5zM106.4 878.3l-5-13.3 8.3 4.3 5 13.5zM352.6 897.9l-5.1-19.2 8.4 3.7 5.1 19.5zM46.8 729.2l-5.5-39.9 8.4-1.7 5.4 43zM342.8 839.1l5.1 40.1-8.3-3.9-5.1-39.7zM80.3 825.7l-5.1-43.4 8.4 3.2 5.1 44.4zM72.6 752.5l3.1 30.4-8.4-3.4-3.1-29.6zM449 778.5l5.2 57.1-8.4-3.4-5.1-56.6zM432.8 773.4l-1.8-23.4 8.4 2.7 1.8 23.6zM104.3 837.4l5 32.6-8.3-4.4-5.1-32.1zM114 883.2l-5-13.6 8.3 4.1 5 13.9zM360.2 902.2l-5.1-19.5 8.4 3.7 5 19.7zM350.4 842.6l5.1 40.6-8.3-3.9-5.2-40.1zM54.3 730.7l-5.3-43 8.4 .6 5.3 44.4zM87.9 830l-5.1-44.4 8.4 3.2 5.1 45.3zM80.2 755.3l3.1 30.9-8.4-3.2-3.1-30.4zM456.6 781.4l5.2 57.7-8.4-3.4-5.2-57.2zM440.4 776.3l-1.8-23.6 8.3 2.7 1.8 23.8zM111.9 841.4l5 33.1-8.3-4.3-5.1-32.7zM121.6 887.9l-5-13.9 8.3 4.2 5 14zM367.8 906.4l-5.1-19.7 8.4 3.7 5 19.9zM358 846.2l5.1 41-8.4-3.9-5.1-40.6zM95.5 834.2l-5.1-45.3 8.4 3.2 5.1 46zM61.9 732.8l-5.3-44.4 8.4 1.1 5.3 45.5zM87.8 758l3.1 31.5-8.4-3.2-3.1-31zM464.2 784.3l5.2 58.3-8.4-3.4-5.2-57.7zM341.7 839.9l-5.2-54.1 8.4 2.9 5.2 54.7zM447.9 779.3l-1.8-23.9 8.4 2.7 1.8 24.1zM119.4 845.3l5.1 33.6-8.4-4.2-5-33.2zM129.2 892.5l-5-14 8.3 4 5 14.2zM375.4 910.5l-5.1-19.9 8.4 3.8 5 20.1zM365.6 849.8l5.1 41.4-8.4-3.9-5.1-41zM103.1 838.2l-5.1-46 8.4 3.1 5.1 46.8zM69.5 735.1l-5.3-45.5 8.4 1.2 5.3 46.5zM259.4 891.1l5 17.2-8.3-4-5.1-17zM95.4 760.7l3.1 32.1-8.4-3.2-3.1-31.6zM471.8 787.3l5.2 58.8-8.4-3.4-5.2-58.3zM349.3 843.5l-5.2-54.7 8.4 2.9 5.2 55.2zM455.5 782.2l-1.8-24.1 8.4 2.7 1.8 24.3zM127 849.1l5.1 34.2-8.4-4.2-5-33.7zM136.8 897l-5.1-14.2 8.4 4 5 14.4zM382.9 914.7l-5-20.1 8.3 3.8 5.1 20.3zM373.2 853.3l5.1 41.9-8.4-3.9-5.1-41.4zM110.7 842.2l-5.1-46.8 8.3 3.1 5.2 47.5zM77.1 737.4l-5.3-46.5 8.4 1.4 5.2 47.3zM266.9 895.2l5.1 17.4-8.3-4-5.1-17.3zM102.9 763.4l3.1 32.6-8.3-3.1-3.1-32.1zM356.9 847l-5.2-55.2 8.4 2.9 5.2 55.8zM134.6 852.9l5.1 34.7-8.4-4.2-5.1-34.2zM144.4 901.5l-5.1-14.4 8.4 3.9 5 14.7zM463.1 785.2l-1.8-24.3 8.4 2.6 1.8 24.5zM390.5 918.9l-5-20.3 8.3 3.7 5.1 20.5zM380.8 856.9l5.1 42.2-8.4-3.8-5.1-41.9zM118.3 846.1l-5.2-47.5 8.4 3.1 5.2 48.2zM84.6 739.7l-5.2-47.3 8.3 1.4 5.3 48.2zM274.5 899.2l5.1 17.6-8.4-4-5-17.4zM258.2 892l-5.1-38.3 8.4 3.5 5.1 38.7zM110.5 766.1l3.1 33.1-8.3-3.1-3.1-32.6zM364.5 850.6l-5.2-55.8 8.4 2.9 5.1 56.4zM151.9 906l-5-14.7 8.3 3.9 5.1 14.9zM142.2 856.7l5.1 35.1-8.4-4.1-5.1-34.6zM398.1 923l-5-20.5 8.3 3.7 5.1 20.7zM357.6 767.1l2.2 28.3-8.4-2.9-2.2-28.1zM388.4 860.4l5.1 42.7-8.4-3.9-5.1-42.2zM125.9 849.9l-5.2-48.1 8.4 3 5.2 48.9zM282.1 903.2l5.1 17.8-8.4-4-5-17.6zM92.2 742.1l-5.2-48.2 8.3 1.5 5.3 49zM265.8 896l-5.1-38.7 8.4 3.6 5.1 39.1zM118.1 768.8l3.1 33.6-8.4-3.1-3.1-33.1zM372 854.1l-5.1-56.4 8.4 3 5.1 56.9zM159.5 910.3l-5-14.8 8.3 3.9 5.1 15zM149.8 860.5l5.1 35.5-8.4-4.1-5.1-35zM468.6 764.3l-3.1-39.2 8.4 2.3 3.1 39.6zM405.7 927.1l-5.1-20.7 8.4 3.8 5.1 20.8zM365.1 769.8l2.3 28.6-8.4-2.9-2.2-28.4zM133.5 853.8l-5.2-48.9 8.4 3.1 5.1 49.5zM289.7 907.2l5.1 18-8.4-3.9-5-17.8zM273.4 900.1l-5.1-39.1 8.4 3.5 5.1 39.5zM99.8 744.5l-5.3-49 8.4 1.6 5.3 49.7zM125.7 771.5l3.1 34.1-8.4-3.1-3.1-33.6zM167.1 914.7l-5-15 8.3 3.8 5.1 15.2zM157.4 864.2l5.1 36-8.4-4.1-5.1-35.5zM379.6 857.7l-5.1-57 8.3 2.9 5.2 57.5zM263.6 807.7l5.1 53.9-8.4-3.5-5.1-53.4zM372.7 772.5l2.3 28.9-8.4-2.9-2.3-28.6zM141 857.6l-5.1-49.5 8.4 3 5.1 50.1zM468.4 671.3l5.2 56.9-8.4-2.3-5.2-56.3zM297.3 911.2l5.1 18.2-8.4-4-5.1-17.9zM281 904.1l-5.1-39.5 8.3 3.5 5.1 39.9zM107.4 746.9l-5.3-49.7 8.4 1.6 5.3 50.4zM133.3 774.2l3.1 34.5-8.4-3-3.1-34.1zM174.7 919l-5-15.2 8.3 3.8 5 15.4zM165 867.9l5 36.4-8.3-4-5.1-36zM452.2 668.5l-5.3-39.6 8.4 1.4 5.3 40zM271.2 810.8l5.1 54.4-8.4-3.5-5.1-53.9zM380.3 775.2l2.3 29.2-8.4-2.9-2.3-28.9zM148.6 861.3l-5.1-50.1 8.4 3.1 5.1 50.7zM304.9 915.2l5 18.3-8.3-3.9-5.1-18.1zM288.6 908.1l-5.2-39.9 8.4 3.5 5.1 40.3zM115 749.3l-5.3-50.4 8.4 1.7 5.3 51.1zM140.9 776.9l3.1 35-8.4-3.1-3.1-34.5zM182.3 923.3l-5.1-15.4 8.4 3.8 5 15.6zM172.5 871.6l5.1 36.8-8.3-4-5.1-36.3zM459.8 670.4l-5.3-40 8.4 1.3 5.3 40.4zM449.8 614.2l5.3 16.8-8.3-1.2-5.3-16.6zM278.7 813.8l5.2 55-8.4-3.5-5.1-54.5zM156.2 865l-5.1-50.7 8.4 3.1 5.1 51.3zM312.5 919.2l5 18.5-8.3-3.9-5.1-18.4zM296.1 912.1l-5.1-40.3 8.4 3.4 5.1 40.8zM122.6 751.8l-5.3-51.2 8.4 1.7 5.2 51.8zM148.5 779.6l3.1 35.4-8.4-3.1-3.1-34.9zM189.9 927.5l-5.1-15.5 8.4 3.8 5 15.7zM180.1 875.3l5.1 37.2-8.4-4-5.1-36.7zM457.4 615.5l5.3 16.9-8.3-1.2-5.3-16.7zM286.3 816.8l5.2 55.6-8.4-3.5-5.2-55zM163.8 868.8l-5.1-51.3 8.3 3 5.2 51.9zM320 923.1l5.1 18.7-8.3-3.9-5.1-18.5zM270.1 811.6l-2.7-32.7 8.4 2.6 2.6 33zM303.7 916.1l-5.1-40.7 8.4 3.4 5.1 41.1zM156 782.4l3.2 35.7-8.4-3-3.1-35.4zM130.1 754.2l-5.2-51.8 8.4 1.7 5.2 52.4zM197.5 931.8l-5.1-15.7 8.4 3.7 5 15.9zM187.7 879l5.1 37.6-8.4-4-5.1-37.2zM293.9 819.9l5.2 56.1-8.4-3.5-5.2-55.6zM171.4 872.5l-5.2-51.9 8.4 3 5.2 52.5zM327.6 927.1l5.1 18.9-8.4-3.9-5-18.7zM277.6 814.6l-2.6-33 8.3 2.6 2.7 33.4zM163.6 785.1l3.1 36.1-8.3-3-3.2-35.8zM137.7 756.6l-5.2-52.4 8.3 1.8 5.3 53zM205.1 936l-5.1-15.9 8.3 3.8 5.1 16zM195.3 882.6l5.1 38-8.4-3.9-5.1-37.6zM301.5 822.9l5.2 56.7-8.4-3.5-5.2-56.2zM179 876.1l-5.2-52.4 8.4 3 5.2 53zM285.2 817.7l-2.7-33.4 8.4 2.6 2.7 33.7zM383.9 745.2l-5.3-57.3 8.4 1.8 5.3 57.8zM171.2 787.8l3.1 36.5-8.4-3-3.1-36.2zM212.6 940.2l-5-16.1 8.3 3.8 5.1 16.2zM145.3 759.1l-5.2-53.1 8.3 1.8 5.3 53.7zM202.9 886.3l5.1 38.4-8.4-4-5.1-37.9zM373.9 647l5.3 41.6-8.4-1.7-5.3-41.2zM186.6 879.8l-5.2-53 8.4 3 5.1 53.6zM292.8 820.7l-2.7-33.7 8.4 2.6 2.7 34zM178.8 790.5l3.1 36.9-8.4-3-3.1-36.5zM220.2 944.4l-5-16.2 8.3 3.7 5.1 16.4zM210.5 889.9l5.1 38.8-8.4-3.9-5.1-38.4zM152.9 761.5l-5.3-53.6 8.4 1.7 5.3 54.3zM381.5 648.5l5.3 42-8.4-1.8-5.3-41.6zM365.4 646.5l-5.3-18.6 8.4 1.1 5.3 18.8zM194.2 883.5l-5.2-53.6 8.4 3 5.1 54.1zM227.8 948.5l-5-16.3 8.3 3.7 5.1 16.5zM186.4 793.2l3.1 37.3-8.4-3-3.1-36.9zM218.1 893.5l5.1 39.2-8.4-3.9-5.1-38.8zM160.5 764l-5.3-54.3 8.4 1.8 5.3 54.9zM201.7 887.1l-5.1-54.1 8.4 3 5.1 54.6zM373 648l-5.3-18.8 8.3 1.1 5.3 18.9zM235.4 952.7l-5.1-16.5 8.4 3.7 5 16.7zM194 795.9l3.1 37.7-8.4-3-3.1-37.3zM225.6 897.1l5.1 39.6-8.3-3.9-5.1-39.2zM168.1 766.5l-5.3-54.9 8.4 1.8 5.2 55.5zM209.3 890.7l-5.1-54.7 8.3 3 5.2 55.3zM243 956.8l-5.1-16.7 8.4 3.7 5 16.9zM201.6 798.6l3.1 38.1-8.4-3-3.1-37.7zM175.7 768.9l-5.3-55.4 8.4 1.8 5.2 56zM216.9 894.3l-5.1-55.2 8.3 3 5.2 55.8zM209.1 801.3l3.1 38.5-8.3-3-3.1-38.1zM305.6 708.2l5.3 58.6-8.4-2.3-5.2-58.1zM183.2 771.4l-5.2-56 8.4 1.8 5.2 56.6zM289.5 705.3l-5.3-42.7 8.4 1.3 5.3 43.2zM216.7 804l3.1 38.9-8.3-3-3.2-38.5zM190.8 773.9l-5.2-56.6 8.3 1.8 5.3 57.2zM297.1 707.2l-5.3-43.2 8.3 1.4 5.3 43.6zM287.1 643.9l5.3 20.8-8.4-1.3-5.3-20.6zM198.4 776.4l-5.3-57.2 8.4 1.8 5.3 57.8zM294.7 645.2l5.3 21-8.4-1.3-5.3-20.8zM206 778.8l-5.3-57.7 8.4 1.8 5.3 58.3zM213.6 781.3l-5.3-58.3 8.4 1.9 5.3 58.8zM221.2 783.8l-5.3-58.9 8.4 1.9 5.2 59.4z"/><path fill="#00e" d="M57.4 747.1l3.1 26.8-8.3-2.7-3.1-26.7zM48.8 745.3l-1.8-16.8 8.4 2.5 1.8 16.9zM56.4 748l-1.8-16.9 8.3 2.6 1.9 16.9zM64 750.7l-1.9-16.9 8.4 2.5 1.8 17zM430.7 750.8l-3.1-28.7 8.4 2.5 3.1 28.8zM71.5 753.4l-1.8-17 8.4 2.5 1.8 17.1zM438.3 753.5l-3.1-28.9 8.3 2.5 3.2 29zM79.1 756.1l-1.8-17.1 8.4 2.6 1.8 17.1zM445.9 756.2l-3.2-29 8.4 2.5 3.2 29.1zM438.1 686.4l5.2 41.5-8.4-2.5-5.2-41.3zM86.7 758.8l-1.8-17.1 8.4 2.5 1.8 17.2zM453.5 758.9l-3.2-29.1 8.4 2.5 3.1 29.2zM445.6 688.8l5.3 41.7-8.4-2.5-5.2-41.5zM479.4 783.9l5.1 44.1-8.3-2.8-5.2-43.9zM94.3 761.5l-1.8-17.2 8.4 2.6 1.8 17.2zM461 761.6l-3.1-29.2 8.4 2.5 3.1 29.3zM453.2 691.2l5.3 41.9-8.4-2.5-5.2-41.7zM470.7 782l-1.8-18.4 8.4 2.6 1.8 18.5zM101.9 764.2l-1.8-17.2 8.3 2.5 1.9 17.3zM460.8 693.6l5.2 42.1-8.3-2.5-5.3-41.9zM348.9 765.2l-2.7-25.2 8.4 2.5 2.7 25.3zM444.6 689.7l-5.2-29.6 8.4 2.2 5.2 29.7zM109.5 766.9l-1.8-17.3 8.3 2.5 1.8 17.5zM356.5 767.9l-2.7-25.3 8.4 2.5 2.7 25.4zM452.2 692.1l-5.2-29.7 8.4 2.2 5.2 29.8zM117.1 769.6l-1.9-17.4 8.4 2.6 1.8 17.5zM364.1 770.6l-2.7-25.4 8.4 2.5 2.7 25.5zM449.9 652.8l5.2 12.4-8.3-1.9-5.2-12.4zM353.5 743.4l-5.2-42 8.4 2.3 5.2 42.2zM124.6 772.4l-1.8-17.5 8.4 2.5 1.8 17.6zM371.7 773.3l-2.7-25.5 8.4 2.5 2.6 25.6zM361.1 746l-5.2-42.2 8.4 2.3 5.2 42.4zM132.2 775.1l-1.8-17.6 8.4 2.6 1.8 17.6zM379.2 776l-2.6-25.6 8.3 2.5 2.7 25.8zM368.7 748.6l-5.2-42.4 8.4 2.4 5.2 42.5zM139.8 777.8l-1.8-17.6 8.4 2.5 1.8 17.7zM376.3 751.2l-5.2-42.5 8.4 2.3 5.2 42.7zM267.1 779.6l-2.2-21.6 8.3 2.5 2.3 21.7zM366.4 678.4l5.2 30.9-8.3-2.3-5.3-30.7zM147.4 780.5l-1.8-17.7 8.4 2.5 1.8 17.8zM274.7 782.3l-2.3-21.7 8.4 2.5 2.3 21.8zM374 680.7l5.2 31-8.4-2.3-5.2-30.8zM155 783.2l-1.8-17.8 8.3 2.6 1.9 17.8zM282.3 785l-2.3-21.8 8.4 2.5 2.3 22zM275.3 721.1l5.3 42.8-8.4-2.5-5.2-42.7zM365.4 679.4l-5.2-13.9 8.3 1.9 5.2 14zM162.6 785.9l-1.9-17.8 8.4 2.5 1.8 17.9zM289.9 787.8l-2.3-22 8.4 2.6 2.2 22zM282.9 723.5l5.2 43-8.3-2.5-5.2-42.8zM170.1 788.6l-1.8-17.9 8.4 2.5 1.8 18zM297.5 790.5l-2.3-22 8.4 2.5 2.2 22.1zM290.5 726l5.2 43.1-8.3-2.5-5.3-43zM177.7 791.3l-1.8-18 8.4 2.6 1.8 18zM274.3 722l-5.2-31.8 8.4 2.2 5.2 31.9zM298.1 728.4l5.2 43.3-8.4-2.5-5.2-43.1zM185.3 794l-1.8-18 8.4 2.5 1.8 18.2zM281.9 724.4l-5.2-31.9 8.3 2.2 5.3 32zM192.9 796.8l-1.8-18.2 8.4 2.6 1.8 18.2zM289.5 726.9l-5.2-32.1 8.3 2.2 5.3 32.2zM200.5 799.5l-1.8-18.2 8.3 2.5 1.9 18.3zM287.2 682.2l5.2 15.5-8.4-2-5.2-15.4zM208.1 802.2l-1.8-18.3 8.3 2.5 1.8 18.4zM215.7 804.9l-1.9-18.4 8.4 2.6 1.8 18.4z"/><path fill="#f22" d="M127.6 624.6l-5.3 5.5-8.1 .1 5.3-5.4zM135.2 624.4l-5.4 5.6-8.1-.5 5.4-5.5zM142.8 624.6l-5.4 5.7-8.1-.9 5.4-5.6zM150.4 625l-5.4 5.8-8.2-1.1 5.5-5.7zM158 625.6l-5.5 5.9-8.1-1.3 5.5-5.7zM165.6 626.4l-5.5 5.9-8.1-1.4 5.5-5.8zM173.2 627.2l-5.5 5.9-8.1-1.4 5.5-5.9zM180.8 628l-5.5 6.1-8.2-1.5 5.6-6zM188.4 629l-5.5 6.1-8.2-1.6 5.5-6zM196 630l-5.5 6.1-8.2-1.6 5.5-6.1zM203.6 631l-5.6 6.2-8.1-1.6 5.5-6.2zM211.2 632.1l-5.6 6.3-8.1-1.7 5.5-6.2zM218.7 633.2l-5.5 6.4-8.2-1.8 5.6-6.2zM226.3 634.4l-5.5 6.3-8.2-1.7 5.6-6.3zM233.9 635.6l-5.5 6.4-8.2-1.8 5.6-6.4zM241.5 636.7l-5.6 6.5-8.1-1.8 5.5-6.4z"/><path fill="#e00" d="M65 749.8l3.1 29.6-8.4-3.5-3.1-28.7z"/><path fill="#0d0" d="M46.7 729.2l-5.3-39.9 8.4 1.3 5.3 40.8zM54.3 731.6l-5.2-40.9 8.3 1.7 5.3 41.5zM61.9 734l-5.3-41.5 8.4 1.9 5.3 42zM69.5 736.5l-5.3-42 8.4 1.9 5.2 42.5zM77.1 739l-5.3-42.5 8.4 1.9 5.2 43zM84.6 741.5l-5.2-43 8.4 2 5.2 43.5zM92.2 744.1l-5.2-43.5 8.4 2 5.2 43.9zM468.6 764.3l-3.1-33.2 8.4 2.4 3.1 33.5zM99.8 746.6l-5.2-43.9 8.4 2.1 5.2 44.2zM468.4 686.3l5.2 48-8.4-2.4-5.2-47.7zM107.4 749.1l-5.2-44.2 8.3 2 5.3 44.7zM449.9 637.6l5.2 14.2-8.3-1.6-5.3-14.1zM115 751.7l-5.3-44.7 8.4 2.1 5.3 45zM459.8 685l-5.3-33.8 8.4 1.8 5.3 34.1zM457.4 639.4l5.3 14.3-8.3-1.6-5.3-14.2zM122.6 754.2l-5.3-45 8.4 2 5.2 45.5zM130.1 756.8l-5.2-45.5 8.4 2.1 5.2 45.8zM137.7 759.3l-5.2-45.8 8.4 2.1 5.2 46.2zM145.3 761.9l-5.2-46.2 8.4 2.1 5.2 46.5zM152.9 764.4l-5.2-46.5 8.3 2.1 5.3 46.9zM365.4 666.5l-5.2-15.7 8.3 1.5 5.2 15.9zM381.5 669.4l5.3 35.4-8.4-2-5.2-35.2zM160.5 767l-5.2-47 8.3 2.1 5.3 47.4zM373 668.5l-5.3-15.9 8.4 1.5 5.2 16zM168.1 769.6l-5.3-47.4 8.4 2.2 5.2 47.6zM175.7 772.1l-5.3-47.7 8.4 2.2 5.2 48zM183.2 774.7l-5.2-48.1 8.4 2.2 5.2 48.4zM190.8 777.2l-5.2-48.3 8.4 2.1 5.2 48.7zM287.1 667.2l5.3 17.5-8.4-1.7-5.2-17.4zM297.1 720.6l-5.3-36.5 8.4 1.8 5.2 36.8zM198.4 779.8l-5.2-48.7 8.4 2.1 5.2 49.1zM294.7 669l5.3 17.7-8.4-1.7-5.2-17.6zM206 782.4l-5.2-49.1 8.3 2.1 5.3 49.5zM213.6 784.9l-5.3-49.4 8.4 2.1 5.3 49.8z"/><path fill="#ee0" d="M46.7 729.2l-5.2-39.9 8.4 2.2 5.2 40.2zM54.3 731.8l-5.2-40.2 8.4 2.3 5.2 40.4zM61.9 734.4l-5.2-40.4 8.3 2.2 5.3 40.7zM69.5 737l-5.2-40.7 8.3 2.3 5.2 40.9zM77.1 739.6l-5.3-40.9 8.4 2.3 5.2 41.1zM479.4 784.5l5.1 45.6-8.3-3-5.2-45.3zM84.6 742.3l-5.2-41.2 8.4 2.2 5.2 41.5zM470.7 782.6l-1.8-19 8.4 2.6 1.8 19.1zM92.2 744.9l-5.2-41.5 8.4 2.3 5.2 41.7zM468.6 764.3l-3.1-30.2 8.4 2.5 3.1 30.4zM99.8 747.5l-5.2-41.7 8.4 2.3 5.2 41.9zM468.4 693.7l5.2 43.6-8.4-2.5-5.2-43.3zM107.4 750.1l-5.2-41.9 8.4 2.3 5.2 42.1zM459.8 692.3l-5.2-30.8 8.3 2.1 5.3 30.9zM115 752.7l-5.2-42.1 8.3 2.3 5.3 42.3zM457.5 651.3l5.2 13-8.3-1.9-5.3-12.9zM122.6 755.3l-5.3-42.3 8.4 2.3 5.2 42.5zM130.1 757.9l-5.2-42.5 8.4 2.2 5.2 42.9zM137.7 760.6l-5.2-42.9 8.4 2.3 5.2 43.1zM145.3 763.2l-5.2-43.1 8.4 2.3 5.2 43.3zM152.9 765.8l-5.2-43.3 8.4 2.3 5.2 43.5zM373 678.6l-5.2-14.4 8.3 1.8 5.2 14.5zM160.5 768.4l-5.2-43.5 8.3 2.3 5.3 43.7zM168.1 771l-5.2-43.7 8.3 2.3 5.2 43.9zM175.7 773.6l-5.3-43.9 8.4 2.3 5.2 44.2zM183.2 776.3l-5.2-44.2 8.4 2.3 5.2 44.4zM190.8 778.9l-5.2-44.4 8.4 2.3 5.2 44.6zM198.4 781.5l-5.2-44.6 8.4 2.3 5.2 44.8zM294.7 680.8l5.3 16-8.4-1.9-5.2-16zM206 784.1l-5.2-44.8 8.4 2.3 5.2 45zM213.6 786.7l-5.2-45 8.3 2.2 5.3 45.4z"/><path fill="#00e" d="M46.7 729.2l-5.2-39.9 8.4 2.4 5.2 40.1zM54.3 731.9l-5.2-40.1 8.4 2.4 5.2 40.2zM61.9 734.5l-5.2-40.2 8.3 2.4 5.3 40.3zM69.5 737.2l-5.2-40.4 8.3 2.3 5.2 40.6zM77.1 739.8l-5.3-40.6 8.4 2.4 5.2 40.7zM84.6 742.4l-5.2-40.7 8.4 2.4 5.2 40.9zM92.2 745.1l-5.2-40.9 8.4 2.3 5.2 41.1zM468.6 764.3l-3.1-29.3 8.4 2.5 3.1 29.4zM99.8 747.7l-5.2-41.1 8.4 2.4 5.2 41.3zM468.4 696.1l5.2 42.2-8.4-2.5-5.2-42.1zM107.4 750.4l-5.2-41.3 8.4 2.4 5.2 41.4zM459.8 694.5l-5.2-29.8 8.3 2.2 5.3 29.9zM115 753l-5.2-41.4 8.3 2.3 5.3 41.6zM457.5 655l5.2 12.5-8.3-1.9-5.2-12.5zM122.6 755.6l-5.3-41.6 8.4 2.4 5.2 41.8zM130.1 758.3l-5.2-41.8 8.4 2.4 5.2 41.9zM137.7 760.9l-5.2-41.9 8.4 2.3 5.2 42.2zM145.3 763.6l-5.2-42.2 8.4 2.4 5.2 42.3zM152.9 766.2l-5.2-42.3 8.4 2.4 5.2 42.4zM160.5 768.8l-5.2-42.4 8.3 2.3 5.3 42.7zM168.1 771.5l-5.2-42.7 8.3 2.4 5.2 42.8zM175.7 774.1l-5.3-42.8 8.4 2.3 5.2 43zM183.2 776.7l-5.2-43 8.4 2.4 5.2 43.2zM190.8 779.4l-5.2-43.2 8.4 2.3 5.2 43.4zM198.4 782l-5.2-43.4 8.4 2.4 5.2 43.5zM206 784.7l-5.2-43.6 8.4 2.3 5.2 43.8zM213.6 787.3l-5.2-43.8 8.3 2.4 5.3 43.9z"/><path fill="#00f" d="M398 763.8l-5.6 46.8-8.4-3 5.6-46.7zM386.2 848.2l5.7-38.5 8.3 3.1-5.6 38.6zM390.1 757.1l8.4 2.8-.7 4.6-8.4-2.8zM405.6 766.5l-5.6 47-8.4-3 5.6-46.8zM393.8 851.3l5.6-38.6 8.4 3-5.7 38.8zM397.7 759.9l8.3 2.8-.7 4.5-8.3-2.8zM410 856.8l-5.7 24.1-8.3-3.3 5.7-24zM413.2 769.2l-5.7 47.2-8.3-3 5.6-47zM401.4 854.4l5.6-38.8 8.4 3-5.7 38.9zM420.8 771.9l-5.7 47.4-8.4-3 5.7-47.2zM408.9 857.4l5.7-38.9 8.4 3-5.7 39.1zM412.8 765.3l8.4 2.8-.7 4.6-8.4-2.8zM405.2 762.6l8.4 2.8-.7 4.6-8.4-2.9zM428.4 774.7l-5.7 47.6-8.4-3.1 5.7-47.4zM420.4 768l8.4 2.8-.7 4.6-8.4-2.8zM302.6 818.6l5.7-47 8.4 2.8-5.7 47.2zM318.9 823.7l-5.7 39.6-8.4-3.2 5.7-39.4zM427.7 771.5l5.2-44.4 8.4 2.6-5.2 44.6zM310.2 821.5l5.7-47.2 8.3 2.8-5.6 47.4zM446.7 689.3l-5.6 41.2-8.4-2.7 5.6-40.9zM326.5 826.6l-5.7 39.7-8.4-3.1 5.7-39.6zM438.1 687.6l5.6-26.9 8.4 2.4-5.6 27zM457.4 655.4l-5.6 8.6-8.3-2.7 5.7-8.6zM314.6 890.8l5.7-25.4 8.4 3.3-5.7 25.4zM317.8 824.4l5.6-47.4 8.4 2.8-5.6 47.6zM334 829.5l-5.6 39.9-8.4-3.2 5.7-39.7zM325.4 827.3l5.6-47.6 8.4 2.8-5.6 47.8zM341.6 832.4l-5.7 40-8.3-3.1 5.6-39.9zM333 830.2l5.6-47.8 8.4 2.8-5.7 48zM234.9 788.8l-5.3 43.7-8.3-3 5.2-43.5zM223.5 871.9l5.6-40.3 8.4 3-5.7 40.4zM360 740.5l-5.7 48.2-8.4-2.8 5.7-48zM242.4 791.5l-5.2 43.8-8.4-2.9 5.3-43.7zM351.3 738.7l5.7-40.1 8.3 2.5-5.6 40.2zM231 874.9l5.7-40.4 8.4 3-5.7 40.6zM370.7 676.2l-5.6 25.7-8.4-2.5 5.7-25.6zM247.3 880.4l-5.7 26.8-8.4-3.3 5.7-26.7zM250 794.2l-5.2 44-8.4-2.9 5.3-43.9zM238.6 878l5.7-40.6 8.4 3-5.7 40.7zM257.6 796.9l-5.2 44.2-8.4-3 5.2-44zM246.2 881l5.7-40.7 8.4 3-5.7 40.9zM265.2 799.6l-5.2 44.4-8.4-3 5.2-44.2zM264.6 796.4l5.6-47.6 8.4 2.6-5.7 47.8zM284 712.9l-5.7 39.3-8.3-2.6 5.6-39.1zM275.4 711.2l5.6-24.2 8.4 2.4-5.7 24.3z"/><path fill="#0d0" d="M479.4 786.4l5.1 50.1-8.3-3.1-5.2-49.7zM470.7 784.4l-1.8-20.8 8.4 2.6 1.8 21z"/><path fill="#e00" d="M479.4 790.2l5.1 59.4-8.3-3.4-5.2-58.8zM470.7 788.1l-1.8-24.5 8.4 2.6 1.8 24.8zM387.2 861.2l-5.1-57.5 8.3 2.9 5.2 58.1zM387.9 777.9l2.2 29.5-8.3-2.9-2.3-29.2zM386.8 778.7l-2.7-34.3 8.4 2.3 2.7 34.7zM309.1 825.9l5.1 57.2-8.3-3.5-5.2-56.6zM300.4 823.7l-2.7-34 8.4 2.6 2.7 34.4zM305 793.2l-2.2-29.5 8.3 2.4 2.3 29.7zM224.5 898l-5.2-55.8 8.4 3 5.2 56.3zM224.3 806.8l3.1 39.1-8.4-3-3.1-38.8zM223.2 807.6l-1.8-24.6 8.4 2.5 1.8 24.7z"/><path fill="#1f1" d="M398.2 899.9l5.8-5.9 8.1 4.1-5.7 6zM405.8 903.5l5.8-5.9 8.1 4.1-5.7 6zM287 667.6l-5.6 6-8.1-2.5 5.6-5.9zM294.6 669.4l-5.6 6-8.1-2.4 5.6-6z"/><path fill="#0e0" d="M417.6 871.5l-5.7 27.1-8.4-3.7 5.8-27zM425.2 874.9l-5.7 27.3-8.4-3.7 5.8-27.2zM428 770.7l8.4 2.8-.7 5.1-8.4-2.8zM457.4 639.8l-5.6 9.6-8.3-2.3 5.6-9.5zM322.2 908l5.7-28.5 8.4 3.5-5.8 28.7zM254.9 894.4l-5.7 30.2-8.4-3.7 5.7-30z"/><path fill="#00f" d="M417.6 859.9l-5.7 24.2-8.4-3.4 5.7-24zM428 770.7l8.4 2.8-.7 4.6-8.4-2.8zM322.2 894l5.7-25.5 8.3 3.2-5.7 25.6zM235.5 914.7l5.7-8.5 8.2 3.6-5.7 8.5zM254.9 883.5l-5.7 26.9-8.4-3.3 5.7-26.8z"/><path fill="#22f" d="M398.2 885.2l5.8-5.4 8.1 3.8-5.7 5.4z"/><path fill="#e00" d="M395.9 863.9l5.2 43.1-8.4-3.8-5.1-42.7z"/><path fill="#ff2" d="M405.8 892l5.8-5.6 8.1 3.9-5.8 5.6z"/><path fill="#f00" d="M436 778.7l-5.7 63.7-8.4-3.4 5.7-63.1zM420.1 768.8l5.2-58.4 8.4 2.3-5.2 58.8zM439.1 659.2l-5.6 54.2-8.4-2.2 5.6-53.8zM349.2 851.3l-5.7 53.5-8.3-3.8 5.7-53zM340.5 848.7l5.7-63.6 8.4 2.8-5.7 64.2zM352.3 722.3l-5.6 63.7-8.4-2.8 5.7-63.1zM343.7 720.9l5.6-52.6 8.4 1.8-5.6 53zM253.8 911.8l5.7-54.1 8.4 3.3-5.7 54.6zM272.8 802.3l-5.2 59.4-8.4-3.3 5.2-58.9zM257 792.5l5.6-62.6 8.4 2.2-5.6 63.1zM276.3 681.1l-5.5 51.8-8.4-2.2 5.5-51.3zM267.8 680.1l5.5-31.5 8.4 1.4-5.6 31.9z"/><path fill="#0e0" d="M416.5 872.1l5.7-44.1 8.4 3.2-5.7 44.4zM436 777.9l-5.7 54.1-8.4-3.2 5.7-53.7zM329.8 911.5l5.7-28.7 8.4 3.6-5.8 28.9zM349.2 841.6l-5.7 45.5-8.3-3.5 5.6-45.1zM340.5 839.2l5.7-54.1 8.4 2.8-5.7 54.5zM262.5 897.7l-5.7 30.5-8.4-3.7 5.7-30.3zM253.8 895l5.7-46.1 8.4 3.1-5.7 46.4zM272.8 802.3l-5.2 50.4-8.4-3.1 5.2-50.1z"/><path fill="#ff0" d="M425.2 865.8l-5.7 25-8.4-3.4 5.7-24.9zM416.5 863.2l5.7-40.2 8.4 3-5.7 40.5zM436 777.5l-5.7 49.3-8.4-3.1 5.7-49zM427.7 771.5l5.2-45.8 8.4 2.6-5.2 46zM446.7 686.7l-5.6 42.4-8.4-2.6 5.6-42.2zM438.1 685l5.6-27.7 8.4 2.3-5.6 27.9zM457.4 651.7l-5.6 8.8-8.3-2.6 5.7-8.8zM329.8 900.5l5.7-26.3 8.3 3.3-5.7 26.5zM349.2 836.8l-5.7 41.5-8.3-3.3 5.6-41.2zM340.5 834.5l5.7-49.4 8.4 2.8-5.7 49.7zM359.9 739l-5.6 49.7-8.4-2.8 5.7-49.4zM351.3 737.2l5.6-41.2 8.4 2.3-5.6 41.5zM243 921.5l5.8-8.8 8.2 3.7-5.7 8.8zM262.5 889.2l-5.7 27.8-8.4-3.4 5.7-27.7zM253.8 886.7l5.7-42.2 8.3 3-5.6 42.4zM272.8 802.3l-5.2 46-8.4-3 5.2-45.8zM264.6 796.3l5.6-49 8.4 2.5-5.7 49.3zM284 710.1l-5.7 40.5-8.3-2.6 5.6-40.3z"/><path fill="#00f" d="M425.2 863l-5.7 24.3-8.4-3.4 5.7-24.2zM416.5 860.5l5.7-39.1 8.4 3-5.7 39.3zM435.9 777.4l-5.6 47.8-8.4-3 5.7-47.6zM329.8 897.1l5.7-25.5 8.3 3.2-5.7 25.7zM349.2 835.3l-5.7 40.2-8.3-3.2 5.6-40zM340.5 833.1l5.7-48 8.4 2.8-5.7 48.2zM243 917.9l5.8-8.6 8.2 3.6-5.7 8.6zM262.5 886.5l-5.7 27-8.4-3.3 5.7-26.9zM253.8 884.1l5.7-40.9 8.3 3-5.6 41zM272.8 802.3l-5.2 44.6-8.4-3 5.2-44.4z"/><path fill="#22f" d="M405.8 888.4l5.8-5.4 8.1 3.7-5.8 5.5z"/><path fill="#00e" d="M405.7 888.8l-5.1-15.4 8.3 2.9 5.2 15.4zM403.5 844.8l5.1 32.3-8.3-3-5.2-32.2zM394.8 842.7l-5.2-43.4 8.4 2.7 5.2 43.5zM395.5 780.6l2.2 22.2-8.4-2.7-2.2-22.1zM318.9 890.3l-5.2-30.9 8.4 2.8 5.2 31.1zM316.6 820.1l5.2 42.9-8.4-2.9-5.1-42.7zM308 818.1l-2.7-25.7 8.4 2.6 2.7 25.9zM243 918.3l-5.1-12.5 8.3 2.8 5.1 12.5zM240.8 879.6l5.1 29.9-8.4-3-5.1-29.8zM232.1 877.4l-5.2-42 8.4 2.7 5.2 42.2zM231.9 809.5l3.1 29.4-8.4-2.7-3.1-29.4z"/><path fill="#ee0" d="M405.7 892.4l-5.1-15.9 8.3 2.9 5.2 16zM403.5 846.9l5.1 33.3-8.3-3.1-5.2-33.1zM394.8 844.7l-5.2-44.7 8.4 2.7 5.2 45zM395.5 780.6l2.2 22.9-8.4-2.7-2.2-22.8zM316.6 820.9l5.2 44.3-8.4-3-5.1-44zM308 818.9l-2.7-26.5 8.4 2.6 2.7 26.7zM243 921.9l-5.1-12.9 8.3 2.9 5.1 12.9zM240.8 881.9l5.1 30.9-8.4-3.1-5.1-30.8zM232.1 879.7l-5.2-43.4 8.4 2.8 5.2 43.5zM231.9 809.5l3.1 30.3-8.4-2.7-3.1-30.3z"/><path fill="#0d0" d="M405.7 903.9l-5.1-17.5 8.4 3.2 5.1 17.6zM403.5 853.7l5.1 36.7-8.3-3.3-5.2-36.5zM394.8 851.3l-5.2-49.1 8.4 2.8 5.2 49.5zM395.5 780.6l2.2 25.2-8.4-2.8-2.2-25zM386.8 778.7l-2.7-29.1 8.4 2.5 2.7 29.3zM383.9 750.4l-5.3-48.4 8.4 2.1 5.3 48.7zM308 821.5l-2.7-29.1 8.4 2.6 2.7 29.3zM305 793.2l-2.2-25 8.4 2.4 2.2 25.2zM305.7 721.9l5.2 49.5-8.4-2.5-5.2-49.1zM232.1 886.9l-5.2-47.6 8.4 2.8 5.2 48zM231.9 809.5l3.1 33.4-8.4-2.9-3.1-33.2zM223.2 807.6l-1.8-20.8 8.4 2.4 1.8 21zM221.2 787.5l-5.3-49.8 8.4 2.2 5.2 50.1z"/><path fill="#e00" d="M403.5 867.5l5.1 43.4-8.3-3.8-5.2-43.1zM394.8 864.7l-5.2-58 8.4 2.9 5.2 58.6zM395.5 780.6l2.2 29.8-8.4-3-2.2-29.4zM231.9 809.5l3.1 39.5-8.4-3-3.1-39.2z"/><path fill="#0e0" d="M427.7 771.5l5.2-50.1 8.4 2.4-5.2 50.4zM446.7 678.1l-5.6 46.5-8.4-2.5 5.6-46.1zM438.1 676.7l5.6-30.3 8.4 2-5.6 30.5zM359.9 734.2l-5.6 54.5-8.4-2.8 5.7-54.1zM264.6 795.9l5.6-53.7 8.4 2.4-5.7 54.1z"/><path fill="#f00" d="M427.7 771.5l5.2-58.9 8.4 2.2-5.2 59.4zM446.6 660.9l-5.5 54.7-8.4-2.2 5.6-54.3zM438.1 659.9l5.5-35.5 8.4 1.5-5.5 35.8zM264.8 794.4l8.4 2.7-.7 6-8.4-2.8z"/><path fill="#f11" d="M449.8 614.5l-5.6 11-8.3-1.8 5.6-10.8zM457.4 615.8l-5.6 11-8.3-1.7 5.6-10.9zM354.6 636.4l5.6-8.8 8.2 1.7-5.5 8.9zM362.2 637.7l5.5-8.8 8.3 1.7-5.6 8.9zM287 644.3l-5.5 6.7-8.2-1.9 5.5-6.7zM294.6 645.6l-5.6 6.8-8.1-1.9 5.5-6.8z"/><path fill="#0f0" d="M330.8 911.1l-5.8 7.7-8.2-4.1 5.8-7.6zM338.4 914.7l-5.8 7.7-8.2-4.1 5.8-7.6zM362.2 660l5.6-7.8 8.2 2.3-5.6 7.8zM235.4 929.5l5.8-9.4 8.3 3.9-5.8 9.5zM243 933.1l5.8-9.5 8.2 4-5.7 9.5z"/><path fill="#11f" d="M330.8 896.7l-5.8 7-8.2-3.7 5.8-7z"/><path fill="#ee0" d="M386.8 778.8l-2.7-26.6 8.4 2.5 2.7 26.7zM383.9 753l-5.2-44.1 8.3 2.3 5.3 44.3zM381.6 679.8l5.2 32.1-8.4-2.2-5.2-32zM305 793.2l-2.2-22.8 8.4 2.5 2.2 22.9zM305.7 728.7l5.2 45-8.4-2.5-5.2-44.7zM297.1 727.2l-5.3-33.2 8.4 2.1 5.2 33.4zM223.2 807.6l-1.8-19 8.4 2.5 1.8 19.1zM221.2 789.4l-5.3-45.4 8.4 2.3 5.2 45.6z"/><path fill="#00e" d="M386.8 778.8l-2.7-25.8 8.4 2.5 2.7 25.9zM383.9 753.8l-5.2-42.7 8.3 2.3 5.3 42.9zM381.6 683l5.2 31.2-8.4-2.3-5.2-31zM373 681.7l-5.2-14 8.3 2 5.2 14zM305 793.2l-2.2-22.1 8.4 2.5 2.2 22.2zM305.7 730.8l5.2 43.6-8.4-2.6-5.2-43.3zM297.1 729.3l-5.3-32.2 8.4 2.2 5.2 32.3zM294.8 684.5l5.2 15.5-8.4-2-5.2-15.5zM223.2 807.6l-1.8-18.4 8.4 2.5 1.8 18.5zM221.2 789.9l-5.3-43.9 8.4 2.4 5.2 44.1z"/><path fill="#e00" d="M311.3 920.1l-5.1-41.2 8.4 3.5 5.1 41.5zM233.2 900.7l5.1 40-8.3-3.9-5.2-39.5z"/><path fill="#ff1" d="M338.4 903.4l-5.8 7.2-8.2-3.8 5.8-7.2z"/><path fill="#11f" d="M338.3 899.9l-5.7 7-8.2-3.7 5.8-7zM362.2 674.4l5.7-7.1 8.1 2.8-5.6 7z"/><path fill="#00e" d="M327.6 892.5l5.1 14-8.3-2.9-5.2-13.9z"/><path fill="#ee0" d="M327.6 895.7l5.1 14.5-8.3-3-5.2-14.4zM318.9 893.5l-5.2-32 8.4 2.9 5.2 32.2z"/><path fill="#0d0" d="M327.6 906.1l5.1 16-8.3-3.4-5.2-15.8zM318.9 903.6l-5.1-35.2 8.3 3.2 5.2 35.3zM316.7 823.6l5.1 48.7-8.4-3.1-5.1-48.4zM243 933.4l-5.1-14.1 8.3 3.2 5.1 14.2zM240.8 889.3l5.1 34-8.4-3.3-5.1-33.8z"/><path fill="#e00" d="M318.9 924l-5.1-41.5 8.4 3.4 5.1 42zM316.7 829l5.1 57.7-8.4-3.5-5.1-57.2zM308 826.7l-2.7-34.3 8.4 2.6 2.7 34.7zM240.8 904.3l5.1 40.3-8.4-3.8-5.1-39.9zM232.1 901.6l-5.2-56.3 8.4 3 5.2 56.8z"/><path fill="#ff0" d="M370.7 672.7l-5.6 26.4-8.4-2.4 5.6-26.3z"/><path fill="#0e0" d="M351.3 732.5l5.6-45.1 8.4 2.1-5.6 45.5z"/><path fill="#f00" d="M359.9 724.5l-5.6 64.2-8.4-2.8 5.6-63.6z"/><path fill="#ff1" d="M362.2 671l5.6-7.2 8.2 2.6-5.6 7.2z"/><path fill="#0e0" d="M370.7 661.4l-5.6 28.9-8.4-2.2 5.6-28.7z"/><path fill="#f00" d="M351.3 723l5.6-53 8.4 1.7-5.6 53.6zM370.6 638.6l-5.5 33.9-8.4-1.7 5.6-33.7z"/><path fill="#22f" d="M294.6 684.9l-5.6 5.5-8.1-2.9 5.6-5.4z"/><path fill="#ff2" d="M294.6 681.2l-5.6 5.6-8.1-2.7 5.6-5.6z"/><path fill="#ff0" d="M275.4 708.5l5.6-25 8.3 2.4-5.6 25z"/><path fill="#0e0" d="M283.9 701l-5.6 44.4-8.3-2.4 5.6-44.1zM275.4 699.6l5.6-27.2 8.3 2-5.6 27.4z"/><path fill="#f00" d="M264.6 795.2l5.6-63.2 8.3 2.2-5.6 63.7zM283.9 682.7l-5.6 52.2-8.3-2.1 5.5-51.8zM275.4 681.7l5.5-31.8 8.4 1.5-5.6 32.1z"/></g><path d="M275 601.4l-5.5 7.2-1.1 5M193.6 616l-5.4 5.8-1.7 6.9M112.2 630.8l-5.4 4.3-5.4 21.4-5.9 39M69.1 845l-5.5-10.6-5.4-26.3-5.5-37.4-10.9-81M110.5 653l-1.5 5.9-5.8 38.1M71.2 837.5l-.4-2M69.9 831.4l-.2-1M68.9 826.4l-3.1-15.3-5.5-37.5-10.9-81.5M116.8 660.3l-6 39.2M74.3 819l-1-4.9-5.4-37.7-11-81.8M124.4 662.7l-.2 .9M123.9 665.7l-5.4 35.3M81.9 822l-.2-1M81.3 819.1l-5.8-39.9-11-82.1M131 671.1l-.2 1M130.4 675.2l-.2 1M129.9 678.2l-3.7 24.3M88.9 822.1l-5.9-40.1-10.9-82.4M138 677.3l-.2 1M137.4 681.3l-.2 1M136.9 684.2l-2.9 19.8M96.5 825l-5.9-40.2-10.9-82.8M144.4 687.7l-.2 1M143.9 690.7l-2.2 14.9M103.4 824l-.7-5M102.4 817l-15.1-112.5M150.9 697.1l-1.6 11M110 819.9l-.3-2M109.4 815.8l-14.5-108.8M158.4 700.6l-.2 1M157.9 703.6l-.9 6M117.9 825.1l-.2-1M117.4 822.1l-.2-2M116.9 818.1l-14.4-108.7M165.9 703l-.1 1M165.5 706.1l-.8 5M125.5 828l-.2-1M124.9 824l-.1-.9M124.5 821.1l-14.5-109.2M172.9 709.6l-.4 3M131.9 823l-.1-1M131.5 820l-13.9-105.6M180.4 713.1l-.3 2M138.9 821.9l-.2-2M138.4 817.9l-13.2-101.1M187.9 715.7l-.1 1M146.9 827.8l-.1-1M146.4 823.8l-13.6-104.5M154 826.7l-13.6-104.9M161.9 832.1l-.1-1M161.5 829.1l-13.5-104.9M169.5 835l-.1-1M168.9 831l-.2-1.9M168.4 827.1l-12.9-100.4M176.4 833l-.1-1.1M176 829.9l-12.9-100.8M388.9 703.2l-.1 1M306.9 719.2l-.1 1M225.4 731.2l-.3 2M184 835.9l-.2-1.1M183.4 831.8l-12.7-100.2M437 795.8l-.3-2M436.4 791.8l-1.3-10.1M396.4 706.7l-.1 1.1M396 709.8l-4.1 34.4M355 808.5l-1.5-10.9M314.5 721.7l-4.4 37.2M273.4 824.7l-.1-1M273 821.7l-1.2-9M233 733.7l-4.9 40.9M191.4 837.7l-.1-1M190.9 833.7l-12.6-99.6M444.4 797.7l-.2-2M443.9 793.7l-5.3-42.5M404 709.2l-.2 1.1M403.4 713.3l-8.1 69.8M362.4 810.4l-.3-2M361.9 806.4l-5.2-41.2M321.9 725.3l-8.3 71.6M281 827.6l-.3-2M280.4 823.6l-5.4-43.4M240.4 737.2l-.3 2M239.9 741.2l-8.2 71M198.9 839.6l-.2-1M198.5 836.6l-12.6-100.1M451.9 799.6l-9.8-79M411.4 712.9l-.1 1M411 715.9l-11.7 100.2M370 813.3l-9.7-77.9M329.4 728.8l-11.9 101.2M287.9 825.4l-9.3-74.9M247.9 740.7l-12.3 104.2M206.4 842.2l-.1-1M205.9 838.2l-12.4-99.2M459.4 801.9l-.2-1M459 798.9l-8.4-68.7-4.9-37M419 715.4l-.3 2M418.4 719.4l-11.1 96.6-4.3 30M378 819.2l-.2-1M377.4 815.2l-13.4-106.6M336.9 731.3l-11 95.6-4.5 33M295.5 828.3l-13.3-105.3M255.4 743.2l-10.8 94.6-5 36.9M214 845l-.3-1.9M213.5 841.1l-12.4-99.7M467 804.8l-.3-2M466.5 800.8l-8.3-68.1-5.5-41-3.2-17M426.4 719l-.1 1M425.9 723l-11 95.9-5.4 38.2-2.4 10.2M385.4 821.1l-.1-1M384.9 817.1l-13.5-108.1-3.7-20.1M344.4 734.8l-10.9 95-5.4 39.2-3 13.8M302.9 829.8l-12.9-103.4-4.1-23.2M262.9 746.7l-.2 2.1M262.4 750.8l-10.3 89.9-5.3 40-3.2 15.1M221.4 846.9l-.1-1M220.9 842.9l-12.3-99M474.4 806.7l-.2-2M473.9 802.7l-8.1-67.4-5.5-41.2-5.5-29.1-1.8-3.9M433.9 722.5l-.2 1M433.5 725.5l-11 96.3-5.4 38.4-5.4 23.4M392.5 819.9l-.3-2M392 815.9l-13.1-104.5-5.4-30.2-2.3-5.7M352 737.3l-10.9 95.4-5.4 39.3-5.4 24.8-.7 .8M311 836.7l-.1-1M310.5 832.7l-12.9-103.9-5.5-31.4-2.9-7.8M270.5 749.2l-.4 3M269.9 754.2l-10.2 89.4-5.4 40.2-5.4 26.1-1.2 1.8M228.9 848.8l-.1-1M228.5 845.8l-12.3-99.5M484.3 827.7l-10.9-89.8-5.5-41.4-5.5-29.2-5.4-11.7-5.4 7.8-5.4 26.3-5.4 40.3-10.8 94.8-5.3 38.5-5.4 23.5-5.5 4.7-5.4-14.7-5.5-31.6-16.4-131.4-5.4-30.3-5.5-13.3-5.4 6.3-5.4 24.9-5.4 39.5-10.7 94.7-5.4 39.5-5.4 24.9-5.4 6.3-5.5-13.3-5.4-30.3-16.4-131.4-5.5-31.6-5.4-14.7-5.5 4.7-5.4 23.5-5.3 38.5-10.8 94.8-5.4 40.3-5.4 26.3-5.4 7.8-5.4-11.7-5.5-29.2-5.5-41.4-10.9-89.8M275 601.4l-5.5 7.2-1.1 5M193.6 616l-5.4 5.8-1.7 6.9M112.2 630.8l-5.4 4.3-5.4 21.4-5.9 39M69.1 845l-5.5-10.6-5.4-26.3-5.5-37.4-10.9-81M111 650.8l-2 7.8-5.8 38.2M70.4 833.9l-.6-2.9M69.4 829l-3.6-17.7-5.5-37.7-10.9-81.6M117.3 657.9l-.7 2.9-5.8 38.4M74.4 819.4l-1.1-4.9-5.4-38-11-82.2M124.4 662l-5.9 38.7M81.9 822.6l-1-5-5.4-38.2-11-82.7M131.5 667.3l-.3 1.9M130.9 671.2l-4.7 30.9M88.9 822.7l-5.9-40.4-10.9-83.3M138.4 673.5l-.1 1M138 676.5l-.3 2M137.4 680.5l-3.6 24M96.3 824.8l-5.7-39.6-10.9-83.8M145 682.8l-.3 2M144.4 686.9l-2.9 19.1M103.4 824.9l-5.2-36.9-10.9-84.2M152 689.2l-.3 2M151.4 693.2l-2.3 15.2M111 828l-.2-1M110.4 824l-.3-2M109.9 820l-15-113.9M159.5 692.1l-.2 .9M158.9 696l-.2 1M158.5 699l-1.6 10.9M118.4 830l-.2-2M117.9 826l-.2-1M117.5 823l-15-114.5M166.5 698.4l-.2 1M165.9 702.4l-1.3 8.9M125.5 829.1l-.3-2.1M124.9 825l-14.9-114.1M173.5 704.8l-.3 2M172.9 708.8l-.7 5M132.9 831.3l-.1-1M132.4 827.3l-14.8-114M180.9 708.2l-1 7M140 830.3l-.3-2M139.4 826.3l-14.2-110.6M188.5 710.6l-.3 2M187.9 714.6l-.4 3M147.4 832.3l-.1-1M146.9 828.3l-14.1-110.2M195.9 714l-.1 1M195.4 718l-.2 1.1M154.5 831.3l-.3-2M153.9 827.3l-13.5-106.8M203.5 716.6l-.3 2M162.5 837.7l-.1-1M162 833.7l-.3-2M161.4 829.7l-13.4-106.8M210.9 720l-.1 1M169.9 839.7l-.1-1M169.4 835.7l-.3-2M168.9 831.7l-13.4-106.5M176.9 837.7l-13.8-110.1M389.4 698.1l-.1 1M388.9 702.2l-.4 3M307.4 714l-.2 2M306.9 718l-.3 2M226 725.9l-.2 1M225.4 729.9l-.5 4M185 844.7l-.1-1M184.5 840.6l-.3-2M183.9 836.6l-13.2-106.6M437.4 800.4l-.1-1M436.9 796.4l-1.8-14.1M396.5 704.6l-4.6 38.9M355.9 817.1l-.1-1M355.4 813.1l-1.9-14.9M314.9 717.4l-4.9 41.5M274 830.4l-.1-1M273.5 826.4l-1.9-14.1M233.4 729.3l-.1 1M233 732.4l-4.9 42.1M191.9 842.6l-.3-2M191.4 838.6l-13.1-106.2M445 803.4l-.3-2M444.5 799.4l-5.9-48.4M404.5 704l-.2 1M403.9 708.1l-8.6 75.2M363.5 820.1l-.3-2M363 816.1l-6.3-50.9M322.4 720l-8.9 77.6M281.4 832.4l-.1-1M280.9 828.4l-5.9-48.1M241 731.9l-.2 1M240.4 735.9l-8.7 76.3M199.9 849.1l-.1-1M199.4 845.1l-.2-2M198.9 841.1l-13-106.3M453 809.6l-.2-1M452.5 805.6l-10.4-85.9M411.4 711.7l-12 104.8M370.9 822.1l-.1-1M370.4 818l-9.9-82.3M329.9 723.5l-12.4 107.8M288.4 830.3l-9.9-81.5M248.4 735.3l-.1 1M248 738.3l-12.2 106.8M206.9 847l-13.4-109.8M460.4 811.6l-.1-1M459.9 807.6l-9.3-78.3-4.7-36.1M419.5 710.2l-.1 1M419 714.2l-11.7 103.3-4 29.1M378.4 824l-.1-1M377.9 820l-.1-1M377.4 815.9l-13.4-109.4M337.5 725.9l-11.6 102.4-4.3 32.1M296.4 836.8l-.1-1M295.9 832.8l-13.5-110.8M256 737.8l-.3 2M255.4 741.8l-10.8 97.3-4.9 37M215 854l-.1-1M214.5 850l-.3-2M213.9 846l-12.9-106.4M467.4 809.6l-.3-2M466.9 805.5l-8.7-73.6-5.5-42.4-3.1-16.9M426.9 713.6l-.1 1M426.4 717.6l-11.5 102.8-5.4 39.4-2.3 10M385.4 822.4l-.2-2M384.9 818.4l-13.5-111.5-3.4-19M344.9 729.4l-11.4 101.8-5.4 40.3-2.5 11.8M304 839.7l-.3-2M303.5 835.7l-13.5-111.3-3.9-23.2M263.4 741.2l-.2 2M262.9 745.2l-10.8 96.8-5.3 41.2-3 14.9M221.9 852l-.1-1.1M221.4 847.9l-12.8-105.9M475.5 816.6l-.2-1M475 812.5l-.3-2M474.5 808.5l-8.7-74.1-5.5-42.6-5.1-28M434 720.1l-11.5 103.3-5.4 39.5-4.8 21.2M393.5 829.3l-.1-1M393 825.3l-14.1-116-5.4-31.3M372.7 676.1l-.4-1M352.4 732.8l-11.3 101.4-5.4 40.5-5 23.6M311.4 841.7l-.1-1M310.9 837.6l-13.3-110.8-5.5-32.4-1.7-4.8M270.9 744.6l-11.2 100.3-5.4 41.4-5 25M229 850.9l-12.8-106.5M484.3 829.7l-10.9-92.7-5.5-42.8-5.5-30.2-5.4-12.1-5.4 8-5.4 27.1-5.4 41.6-10.8 97.8-5.3 39.7-5.4 24.3-5.5 4.8-5.4-15.3-5.5-32.6-16.4-135.7-5.4-31.4-5.5-13.7-5.4 6.5-5.4 25.7-5.4 40.7-10.7 97.7-5.4 40.7-5.4 25.7-5.4 6.5-5.5-13.7-5.4-31.4-16.4-135.7-5.5-32.6-5.4-15.3-5.5 4.8-5.4 24.3-5.3 39.7-10.8 97.8-5.4 41.6-5.4 27.1-5.4 8-5.4-12.1-5.5-30.2-5.5-42.8-10.9-92.7M275 601.4l-5.5 7.2-1.1 5M193.6 616l-5.4 5.8-1.7 6.9M112.2 630.8l-5.4 4.3-5.4 21.4-5.9 39M69.1 845l-5.5-10.6-5.4-26.3-5.5-37.4-10.9-81M277.1 609l-1.1 5.1M195.8 622.1l-1.7 7.1M114.4 635.4l-5.4 21.9-5.9 39.8M71.2 839.4l-5.4-27-5.5-38.3-10.9-83.1M284.5 611.2l-.2 1M117.8 653.8l-1.2 5-5.9 40.3M78 839.5l-.2-1.1M77.4 836.4l-4.1-20.3-5.4-38.9-11-84.3M125.3 655.6l-1.1 4.9-5.8 39.7M84.4 837.5l-.2-.9M83.8 834.6l-2.9-14.9-5.4-39.4-11-85.5M132.5 659.2l-.7 3-5.8 40.2M90.5 833.2l-.2-1M89.9 830.2l-1.4-7-5.5-39.9-10.9-86.5M139.8 662l-6.2 42.5M97.5 833.8l-1.4-7.1-5.5-40.4-10.9-87.4M147.4 663.8l-6.1 41.9M104.8 836l-1.1-5.9-5.5-40.8-10.9-88.3M155 665.7l-6.1 42.3M112.4 839.5l-1.1-6-5.5-41.2-10.9-89.2M162.3 668.6l-5.7 40.6M119.4 839.9l-6-44.6-11-90.1M169.9 670.5l-.2 1M169.4 673.5l-5.2 38M127 843.2l-6-44.9-11-91M177.5 672.4l-.2 1M177 675.4l-.3 2M176.4 679.5l-4.6 34.2M134.9 848.6l-.1-1M134.4 845.6l-5.8-44.3-11-91.8M184.4 678.3l-.2 2M183.9 682.3l-4.4 32.7M142 849l-5.9-44.8-10.9-92.5M191.9 681.3l-.1 1M191.5 684.3l-.3 2M190.9 688.3l-3.9 29M149.4 851.3l-5.7-44.1-10.9-93.4M199.5 683.3l-.2 1M198.9 687.3l-.2 2.1M198.4 691.4l-3.8 28.2M157.5 857.5l-6.2-47.4-10.9-94.1M206.4 690.4l-.2 1M206 693.4l-.3 2.1M205.4 697.5l-3.1 23.3M164.4 856.9l-5.5-43.8-10.9-94.9M214 692.2l-.1 1M213.5 696.2l-.3 2M212.9 700.2l-3 23M172.5 863.2l-.2-1M172 860.2l-5.5-44.1-11-95.7M385.5 662l-.1 1M385 666.1l-.3 2M303.5 678.6l-.1 1M303 682.6l-.3 2M221.4 695.3l-.1 1M220.9 699.3l-.2 2M220.4 703.3l-.3 2M219.9 707.3l-2.4 18.1M179.9 865.5l-.7-5M178.9 858.5l-4.8-39.5-11-96.4M393 665.1l-.2 1M392.5 669.1l-.3 2.1M392 673.2l-3.9 31.4M310.9 681.7l-.1 1M310.4 685.7l-.1 1M309.9 689.8l-.2 2M309.4 693.8l-3.3 26.4M269 852.2l-.2-1M228.4 702.4l-.2 1M228 705.5l-3.5 27.2M187.5 868.8l-.2-1M186.9 864.8l-.3-2M186.4 860.8l-4.7-38.8-11-97.2M438.8 817l-3.7-32.2M399.9 672.1l-.1 1M399.4 676.1l-4.1 33.9-3.5 33.8M357.9 837.8l-4.8-39.5M317.9 688.6l-.1 1M317.4 692.6l-.2 2M316.9 696.6l-3 23.9-3.9 37.3M276.4 854.5l-.2-1M276 851.5l-4.4-37M235.9 705.2l-.1 1M235.5 708.2l-3 22.9-4.5 43.1M194.9 871.1l-.2-1M194.5 868.1l-5.3-43.2-10.9-97.9M446.4 820.2l-7.9-69.6M407.4 675.2l-.1 1M406.9 679.2l-.2 2M406.4 683.2l-3.5 29.1-7.3 70.4M365.5 841l-8.7-76M325.4 691.7l-.1 1M324.9 695.7l-.3 2M324.4 699.7l-2.9 23.1-8 76.8M284 857.8l-.3-2.1M283.4 853.7l-8.3-73.3M243.5 707.3l-.2 1M243 711.3l-.3 2M242.4 715.3l-2.3 18.1-8.2 79.6M202.5 874.4l-.2-1M201.9 870.3l-.2-2M201.4 866.3l-4.6-38.4-10.9-98.7M454 823.4l-11.6-104.4M415 677.3l-.1 1M414.5 681.3l-.3 2.1M414 685.4l-3.6 29.3-10.8 105.4M372.9 843.2l-12.3-109.9M333 693.8l-.2 1M332.5 697.9l-.3 2M332 701.9l-2.9 23.3-11.1 107.5M291.4 860l-.2-1M290.9 856l-12.1-108.2M250.9 710.4l-.1 1M250.4 714.5l-.2 2M249.9 718.5l-2.2 17.2-11.6 111.5M209.9 876.7l-.1-1M209.4 872.7l-5-41.9-10.9-99.4M461.5 826.6l-15.2-136.3M422.5 680.2l-.2 1M422 684.2l-.3 2M421.4 689.2l-3.4 27.9-10.7 105.1-3.3 25.9M380.5 846.5l-15.8-140.5M340.5 696.7l-.2 1M340 700.6l-.3 2M339.5 704.6l-2.8 22.9-10.8 105.2-3.6 29.9M299 863.2l-16-142.4M258.4 713.2l-.1 1M257.9 717.1l-.2 2M257.4 721.1l-2.1 16.9-10.7 105.2-4.2 34.8M217.5 879.9l-.2-1M217 875.9l-.4-3M216.4 870.9l-15.4-137.3M469.1 829.8l-10.9-100.8-4.8-40.5M429.9 683.4l-.1 1M429.4 687.4l-.2 2M429 691.4l-3.4 28-10.7 105.9-4.2 33.1M387.9 848.7l-16.1-144.5M347.9 699.8l-.1 1M347.4 703.8l-.2 2M346.9 707.8l-2.6 22-10.8 106-4.3 35.1M306.4 865.5l-.1-1M305.9 861.5l-15.6-140.5M265.4 720.3l-.1 1M264.9 724.3l-2 16-10.8 105.9-4.4 37.1M224.9 882.2l-.2-2M224.5 878.2l-4.9-41.5-11-100.9M476.7 833l-10.9-101.5-4.9-41.9M454.4 650.6l-1.1-2.9M436.9 690.5l-.2 2M436.4 694.6l-3.2 27.2-10.7 106.6-3.8 30.3M418.5 860.7l-.2 1M412.3 895.2l-.6 3M395.4 850.9l-.3-2M394.9 846.9l-15.3-138.5M372.5 665.1l-1.4-3.8M368.4 653.8l-.4-.9M354.9 707l-.1 1M354.4 711l-2.6 21.2-10.7 106.7-4.3 35.3M330.7 909.3l-.4 2-.7 .8M314 868.8l-.4-3.1M313.4 863.7l-15.3-138.5M297.9 723.2l-.1-1M290.5 679.5l-1.3-3.9M287 668.7l-.3-1M273.5 718.5l-.2 1M273 722.5l-.3 2M272.5 726.5l-2 16.1-10.8 106.7-4.4 37.3M249 924.2l-1.7 2.6M232.4 884.5l-.2-2M231.9 880.5l-4.7-40.9-11-101.5M484.3 836.2l-11-102.3-5.4-47.2-5.5-33.2-5.4-13.5-5.4 8.8-5.4 29.7-5.4 45.7-10.8 107.3-5.3 43.7-5.4 26.6-5.5 5.2-5.4-16.9-5.5-35.9-16.4-149.7-5.4-34.6-5.5-15.2-5.4 7-5.4 28.2-5.4 44.6-10.7 107.5-5.4 44.6-5.4 28.2-5.4 7-5.5-15.2-5.4-34.6-16.4-149.7-5.5-35.9-5.4-16.9-5.5 5.2-5.4 26.6-5.3 43.7-10.8 107.3-5.4 45.7-5.4 29.7-5.4 8.8-5.4-13.5-5.5-33.2-5.4-47.2-11-102.3M275 601.4l-5.5 7.2-1.1 5M193.6 616l-5.4 5.8-1.7 6.9M112.2 630.8l-5.4 4.3-5.4 21.4-5.9 39M69.1 845l-5.5-10.6-5.4-26.3-5.5-37.4-10.9-81M283 597.1l-.5-1-5.4 7.7-2.3 10.8M201.2 610.8l-5.4 6.1-2.7 12.2M119.8 625.5l-5.4 4.6-5.4 23-6.1 43.6M76.7 855.7l-5.5-11.4-5.4-28.4-5.5-40.4-10.9-87.5M290.5 596.1l-.4-.9-5.4 7.9-2.5 12.2M209.2 610.8l-.4-.9-5.5 6.3-3 14M127.4 624.7l-5.4 4.7-5.4 23.7-6.2 45.8M84.8 861.1l-.6 .9-5.4-11.8-5.5-29.4-5.4-41.7-11-90.3M298.1 596l-.4-.9-5.4 8-2.6 13M216.7 610.7l-.4-1-5.4 6.5-3.3 15.8M135.3 625.5l-.3-1-5.4 4.8-5.4 24.3-6.2 46.7M92.4 866.7l-.6 .9-5.4-12.1-5.5-30.2-5.4-42.7-11-92.7M305.7 596.2l-.4-.9-5.4 8.2-2.7 13.8M224.3 610.9l-.4-1-5.4 6.6-3.3 16.1M142.9 625.7l-.3-1-5.5 4.9-5.4 24.8-6.2 48.6M99.4 872.8l-5.4-12.4-5.5-30.8-5.4-43.7-11-94.7M313.3 596.7l-.4-1-5.4 8.3-2.7 14.1M231.9 611.3l-.4-1-5.4 6.7-3.4 16.8M150.5 626.1l-.4-1-5.4 5-5.4 25.2-6.1 48.3M107 877.8l-5.4-12.7-5.5-31.3-5.5-44.6-10.9-96.5M320.8 597.2l-.3-.9-5.5 8.4-2.8 14.8M239.5 611.9l-.4-1-5.4 6.8-3.4 17.1M158 626.7l-.3-1-5.4 5.1-5.4 25.6-6.2 50M115.1 881.8l-.5 .9-5.4-13-5.5-31.9-5.5-45.3-10.9-98.2M328.4 597.9l-.4-.9-5.4 8.6-2.8 15M247 612.6l-.3-1-5.4 6.9-3.5 17.7M165.6 627.4l-.3-.9-5.4 5.1-5.4 26-6.2 50.6M122.7 886.5l-.5 .9-5.5-13.2-5.4-32.4-5.5-46.1-10.9-99.8M336 598.7l-.4-.9-5.4 8.7-2.8 15.2M254.6 613.4l-.3-1-5.5 7-3.4 18M173.2 628.3l-.3-1-5.4 5.2-5.4 26.3-6.1 50.3M130.3 891.1l-.5 .9-5.5-13.3-5.4-33-5.5-46.8-9.3-86.4M103.9 710.5l-1.5-13M343.6 599.6l-.4-1-5.4 8.9-2.9 15.9M262.2 614.3l-.4-1-5.4 7.1-3.3 17.2M180.8 629.2l-.3-1-5.4 5.2-5.4 26.8-6.1 50.9M137.9 895.7l-.6 .9-5.4-13.6-5.4-33.5-5.5-47.4-8.9-83.6M111.9 716.5l-.1-1M111.5 712.4l-1.5-13.1M351.2 600.6l-.4-1-5.4 8.9-2.9 16.1M269.8 615.2l-.4-.9-5.4 7.1-3.3 17.8M188.4 630.1l-.3-1-5.5 5.3-5.4 27.1-6.1 52.5M145.5 900.1l-.6 .9-5.4-13.7-5.5-33.9-5.4-48.2-8.9-85.1M119.5 718.1l-.3-2M119 714.1l-1.4-13.1M358.8 601.6l-.4-1-5.4 9-3 16.8M277.3 616.2l-.3-.9-5.4 7.2-3.5 19M195.9 631.1l-.3-1-5.4 5.4-5.4 27.4-6.1 53M153.1 904.6l-.6 .9-5.4-14-5.5-34.3-5.5-48.8-8.4-82.6M127.4 723.8l-.1-1M126.7 716.8l-1.5-14M366.3 602.5l-.3-.9-5.5 9.1-2.7 16M284.9 617.3l-.3-1-5.4 7.3-3.4 18.2M203.5 632.1l-.3-1-5.4 5.5-5.4 27.7-6.1 52.7M160.7 908.9l-.6 1-5.4-14.2-5.5-34.8-5.5-49.4-8-79.6M135.5 729.9l-.3-2M134.5 720.8l-1.7-16.2M373.9 603.6l-.4-.9-5.4 9.2-2.8 16.2M292.5 618.3l-.3-.9-5.4 7.3-3.5 18.9M211.1 633.2l-.3-1-5.4 5.5-5.4 28.1-6.1 53.1M168.2 913.3l-.5 .9-5.4-14.3-5.5-35.3-5.5-49.9-8.5-85.2M141.9 721.5l-1.5-15.1M381.5 604.7l-.4-.9-5.4 9.3-2.9 16.9M300.1 619.4l-.3-.9-5.5 7.4-3.4 19.1M218.7 634.4l-.3-1-5.4 5.5-5.4 28.4-6.1 53.6M175.8 917.6l-.5 .9-5.5-14.5-5.4-35.6-5.5-50.6-8.2-82.6M150.4 732.2l-.1-1M149.5 723.2l-1.6-15M389.1 605.9l-.4-1-5.4 9.4-4.6 27.1M346.4 892.4l-.8 .8-.6-1.9M307.7 620.6l-.4-1-5.4 7.5-4.8 27.4M264.8 907.3l-.6 .8-.9-2.9M226.3 635.5l-.3-1-5.4 5.6-5.4 28.7-6.1 54.2M183.4 921.9l-.5 .9-5.5-14.7-5.4-36-5.5-51.2-7.8-79.5M158.4 738.3l-.1-1M157.1 725.2l-1.6-15.1M396.6 607.1l-.3-1-5.4 9.5-5.4 32.4-2 18M354 896.7l-.8 .8-5.5-18.6-1.1-8.1M315.2 621.8l-.3-1-5.4 7.6-5.4 30.7-2.4 21.9M272.4 911.5l-.6 .8-5.4-16.7-1.3-9M233.8 636.6l-.2-.9-5.5 5.6-5.4 29-6 54.7M191 926.1l-.5 1-5.5-14.9-5.4-36.5-5.5-51.7-7.8-81M164.7 728l-1.6-16.1M404.2 608.3l-.3-1-5.4 9.6-5.4 32.7-5.6 52.5M361.5 900.9l-.7 .8-5.5-18.8-5.7-42.8M322.8 623l-.3-1-5.4 7.6-5.4 31.1-5.7 53.3M280 915.7l-.6 .9-5.4-16.9-6-43.4M241.4 637.9l-.3-1-5.4 5.6-5.4 29.4-6.3 58.1M198.5 930.4l-.5 .9-5.4-15-5.5-36.9-5.4-52.3-7.6-78.8M173.9 746.2l-.1-1M172.3 730l-1.6-16.2M438.8 828.3l-4.1-41.2M411.8 609.4l-.3-.9-5.5 9.7-5.4 33-5.3 51-3.8 42.2M369.1 905.1l-.7 .8-5.5-19-5.5-40.3-4.3-43.4M330.4 624.2l-.3-1-5.4 7.7-5.4 31.4-5.4 49.8-3.9 43.9M287.6 919.9l-.6 .9-5.5-17.1-5.4-38.8-5.1-49.8M249 639.1l-.3-1-5.4 5.7-5.4 29.6-5.4 48.6-4.4 49.4M206.1 934.6l-.5 .9-5.4-15.2-5.5-37.2-5.5-52.9-7.4-79.3M181.5 747.9l-.1-1M180 732.8l-1.7-17.1M446.4 831.8l-7.9-81.8M419.4 610.6l-.4-.9-5.4 9.8-5.4 33.4-5.3 51.4-7.4 83M376.7 909.3l-.8 .8-5.4-19.2-5.5-40.7-8.2-85.1M338 625.4l-.3-1-5.4 7.8-5.4 31.7-5.4 50.3-7.6 85.7M295.2 924.1l-.6 .9-5.5-17.3-5.4-39.2-8.6-88.2M256.6 640.3l-.3-1-5.4 5.8-5.4 29.9-5.4 49.1-8.1 91M213.7 938.8l-.5 .9-5.4-15.3-5.5-37.7-5.5-53.4-7.6-81.8M189 749.5l-.1-1M187.5 734.6l-1.6-17M454 835.3l-10.9-115.9M427 611.9l-.4-1-5.4 9.9-5.4 33.7-5.4 52-9.3 106M401 814.5l-.1 1M384.3 913.4l-.8 .9-5.4-19.4-5.5-41.2-11.6-122.1M345.6 626.6l-.3-.9-5.5 7.8-5.4 32-5.3 50.8-9.8 111.2M302.8 928.3l-.6 .9-5.5-17.5-5.4-39.6-5.5-54.9-6.5-70.6M264.2 641.5l-.3-.9-5.4 5.8-5.4 30.2-5.4 49.6-10 114M221.3 943l-.5 .9-5.4-15.5-5.5-38.1-5.5-53.9-7.2-78.6M197 755.8l-.1-1M195.2 737.7l-1.8-18.2M461.6 838.8l-11.3-121M450 714.7l-.1-1M434.5 613.2l-.3-1-5.4 10-5.4 34-5.4 52.5-9.3 107.2M391.9 917.6l-.8 .8-5.4-19.6-5.5-41.5-11.5-122.4M368.4 731.9l-.1-1M353.1 627.9l-.3-1-5.4 7.9-5.4 32.3-5.3 51.3-9.9 113.3M310.4 932.4l-.7 .9-5.4-17.6-5.5-40-12.1-128.6M286.4 744.1l-.1-1M271.8 642.8l-.3-1-5.4 5.9-5.4 30.5-5.4 50.1-10 115.3M228.9 947.1l-.5 1-5.5-15.7-5.4-38.5-5.5-54.4-7.2-79.1M204.5 757.4l-.1-1M202.9 740.4l-1.9-19M469.1 842.3l-10.9-119.2M458 721.1l-.2-2M442.5 615.4l-.7-1.9-5.4 10-5.4 34.4-5.4 52.9-9 104.6M416.4 817.4l-.1 2M399.4 921.8l-.7 .8-5.4-19.8-5.5-42-11.6-124.4M360.7 629.2l-.3-1-5.4 8-5.4 32.6-5.4 51.8-9.6 111.4M334.5 834.1l-.1 1M317.9 936.6l-.6 .9-5.4-17.9-5.5-40.4-12.2-130.5M279.3 644.1l-.2-1-5.5 5.9-5.4 30.8-5.3 50.5-9.8 113.4M252.9 845.7l-.1 1M236.5 951.3l-.5 .9-5.5-15.8-5.4-38.8-5.5-55.1-6.9-76.7M212.5 763.7l-.2-2M212 758.7l-.1-1M210.4 742.5l-1.8-19.1M476.7 845.8l-10.9-120.3M456.1 639.8l-1.3-9.1-2-6M449.7 615.7l-.3-1-5.4 10.2-5.4 34.7-5.4 53.4-9.1 106.5M423.9 821.5l0 1.1M414.1 906.7l-2.4 14M407 925.9l-.7 .8-5.5-20-5.4-42.4-11.3-122.6M383.9 739.7l-.2-2M374.4 654.4l-.9-6.9-2.8-9M368.3 630.5l-.3-1-5.4 8-5.4 32.9-5.4 52.3-9.6 112.7M332.3 921.6l-2 11.9-.6 .9M325.5 940.7l-.6 .9-5.4-18-5.5-40.8-5.5-56.5-6.3-71.3M302 753l-.1-1M292.6 668.4l-.5-4-3.3-12M286.9 645.4l-.3-1-5.4 6-5.4 31-5.3 51-9.8 114.6M250.4 937.3l-1.4 8.9-1.5 2.8M244.1 955.4l-.5 .9-5.5-15.9-5.4-39.2-5.5-55.6-7-78.2M220 765.4l-.1-1M218 744.3l-1.8-19M484.3 849.3l-11-121.5-5.4-56.1-5.5-39.5-5.4-16.2-5.5 10.3-5.4 35-5.3 53.9-10.7 126.8-5.4 51.4-5.4 31.4-5.4 6-5.5-20.2-5.4-42.7-16.5-177.8-5.5-41.2-5.4-18.1-5.4 8.1-5.4 33.2-5.4 52.7-10.7 126.9-5.4 52.7-5.4 33.2-5.4 8.1-5.4-18.1-5.5-41.2-16.5-177.8-5.4-42.7-5.5-20.2-5.4 6-5.4 31.4-5.4 51.4-10.7 126.8-5.3 53.9-5.4 35-5.5 10.3-5.4-16.2-5.5-39.5-5.4-56.1-11-121.5" fill="none" stroke="#100" stroke-width="0.95" stroke-linejoin="round" stroke-linecap="round"/><path d="M482.4 827l1.9 .7M441.1 726.9l32.3 11M453 664.5l9.4 2.8M269.5 608.6l5.7 1.7M449.7 662.8l1.9 .6M389.6 712.9l51.2 17.1M399.7 813.1l30.3 11.7M411.7 883.6l7.6 3.2M406.5 876l1.9 .8M354.8 786.7l42.7 15.8M365.7 707.2l20.8 6.6M373.7 669.7l1.9 .5M362.9 700.8l1.9 .6M311.4 773l42.6 15.2M323.4 867l19.9 8.1M330.6 905.5l1.9 .8M319.7 861.9l1.9 .8M277.5 762.6l33.1 11.4M288.3 696.3l11.4 3.4M106.8 635.1l3.8 1.2M287 689.1l1.8 .6M96 691.4l43.6 14.5M226.9 734.8l13.2 4.4M243.9 740.5l3.8 1.2M253.4 743.6l3.8 1.3M261 746.1l3.8 1.3M270.5 749.2l7.6 2.5M234.1 833.8l33.2 12.7M246.1 908.7l10.4 4.4M63.6 834.4l7.6 3.1M243.8 908.4l1.9 .8M52.7 770.7l182 67.9M41.8 689.7l182 59.1M483.3 829.4l1 .3M442.1 726.4l31.3 10.6M460.5 663.5l1.9 .5M269.5 608.6l5.7 1.5M449.7 659.4l1.9 .5M389.6 711.8l51.2 16.8M399.7 814.5l30.3 11.9M417.4 889.5l1.9 .9M406.5 879.1l1.9 .8M354.8 787.3l42.7 15.9M365.7 705.1l20.8 6.5M369.9 664.9l5.7 1.6M362.9 698.1l1.9 .6M311.4 773l42.6 15.2M323.4 869.6l19.9 8.2M327.7 907.9l4.8 2.1M319.7 864.1l1.9 .8M277.4 762l33.2 11.3M290.2 693.8l1.9 .6M295.9 695.5l3.8 1.1M106.8 635.1l3.8 1M286.9 685.6l1.9 .5M96 691.4l53.1 17M225 733l53.1 17.1M235.1 835.4l32.2 12.5M254.6 915.7l1.9 .9M63.6 834.4l6.7 3M243.8 911.7l1.9 .8M52.7 770.7l182 68.8M41.8 689.7l182 57.1M433.1 814.6l51.2 21.6M443 724l30.3 9.9M458.6 652.5l3.8 1M269.5 608.6l3.8-.1 9.5 1.3M449.7 648.3l1.9 .5M389.6 708.2l51.2 16M399.7 819.1l30.3 12.4M411.7 898.2l7.6 3.6M405.6 888.8l2.8 1.3M354.8 789.2l42.7 16.2M368 652.9l7.6 1.8M362.9 689.3l1.9 .6M311.4 773l42.6 15.2M342.4 886.2l.9 .4M326.8 919.1l5.7 2.7M269.4 849.6l5.7 2.5M278 853.3l7.6 3.3M287.4 857.4l4.8 2M296 861l4.7 2.1M305.5 865.1l5.7 2.4M314 868.8l7.6 3.2M278.4 760.3l32.2 10.8M295.9 685.4l3.8 1M106.8 635.1l3.8-.1 5.7 .7M285 673.8l3.8 .9M96 691.4l7.6 1.7 20.9 5.7 72 21.3M225 728.8l53.1 16.2M235.1 839.4l32.2 12.9M246.1 922.9l10.4 4.8M63.6 834.4l3.8 2.8 6.7 3.8M76 842l4.7 2.5M242.8 921.7l2.9 1.3M52.7 770.7l15.2 6.5 34.1 13.6 132.8 51.8M41.8 689.7l3.8 .5 11.3 2.7 34.2 9.1 132.7 38.3M432.2 825.2l52.1 24.1M444.9 719l13.3 4.1M462 724.3l5.7 1.8M471.4 727.2l1.9 .6M451 630l11.4 2.2M269.5 608.6l1.9-3 1.9-.9 7.6-1.4 13.3-.1 18.9 1.3 24.7 3 30.3 4.4 37.9 6.3 45.5 8.1M387.7 700.1l53.1 15.1M429.1 841.6l1 .4M411.7 920.7l7.6 4.1M346.8 878.4l61.6 32.2M353.9 792.8l43.6 17.2M384.6 689.7l1.9 .4M193.6 616l1.9-3.2 1.9-1 7.6-1.6 13.2-.5 19 1.1 24.6 2.5 30.4 4.1 37.9 5.8 45.5 7.6M298.4 657.9l66.4 14.2M311.4 773l42.6 15.2M340.5 903l2.8 1.4M263.3 907.6l69.2 38.1M267.5 860.8l54.1 25.6M278.4 756.1l32.2 10.4M288.3 663.6l11.4 2.3M106.8 635.1l1.9-3 1.9-1 7.6-1.5 13.3-.2 18.9 1.2 24.7 2.8 30.3 4.3 37.9 6.1 45.5 7.9M96 691.4l1.9-1 1.9 0 7.6 .8 13.3 2.5 18.9 4.2 55 14 83.4 22.6M266.4 860.9l.9 .4M246.1 944.7l10.5 5.5M63.6 834.4l1.9 4.2 1.9 2.1 7.6 6.6 13.3 9.4 19 11.9 24.6 14.4 30.4 16.9 83.4 44.4M52.7 770.7l3.8 2.8 7.6 3.8 32.2 14.4 55 23 83.5 34M41.8 689.7l1.9-1.5 1.9-.2 7.5 .3 13.3 1.9 19 3.7 55 12.5 83.4 20.8" fill="none" stroke="#100" stroke-width="0.95" stroke-linejoin="round" stroke-linecap="round"/><path d="M438.1 752.8 439 753.1 440 753.5 440.9 753.8 441.8 754.1 442.8 754.5 443.7 754.8 444.7 755.2 445.6 755.5 446.6 755.8 447.5 756.2 448.4 756.5 449.4 756.8 450.3 757.2 451.3 757.5 452.2 757.9 453.2 758.2 454.1 758.5 455 758.9 456 759.2 456.9 759.5 457.9 759.9 458.8 760.2 459.8 760.6 460.7 760.9 461.7 761.2 462.6 761.6 463.5 761.9 464.5 762.2 465.4 762.6 466.4 762.9 467.3 763.2 468.3 763.6 469.2 763.9 470.1 764.3 471.1 764.6 472 764.9 473 765.3 473.9 765.6 474.9 765.9 475.8 766.3 476.7 766.6M393.4 758.7 394.3 759 395.3 759.3 396.2 759.7 397.2 760 398.1 760.3 399.1 760.7 400 761 400.9 761.4 401.9 761.7 402.8 762 403.8 762.4 404.7 762.7 405.7 763 406.6 763.4 407.5 763.7 408.5 764.1 409.4 764.4 410.4 764.7 411.3 765.1 412.3 765.4 413.2 765.7 414.2 766.1 415.1 766.4 416 766.8 417 767.1 417.9 767.4 418.9 767.8 419.8 768.1 420.8 768.4 421.7 768.8 422.6 769.1 423.6 769.4 424.5 769.8 425.5 770.1 426.4 770.5 427.4 770.8 428.3 771.1 429.2 771.5 430.2 771.8 431.1 772.1 432.1 772.5 433 772.8 434 773.2 434.9 773.5 435.8 773.8M357.2 767.6 358.2 767.9 359.1 768.2 360 768.6 361 768.9 361.9 769.2 362.9 769.6 363.8 769.9 364.8 770.3 365.7 770.6 366.7 770.9 367.6 771.3 368.5 771.6 369.5 771.9 370.4 772.3 371.4 772.6 372.3 773 373.3 773.3 374.2 773.6 375.1 774 376.1 774.3 377 774.6 378 775 378.9 775.3 379.9 775.6 380.8 776 381.7 776.3 382.7 776.7 383.6 777 384.6 777.3 385.5 777.7 386.5 778 387.4 778.3 388.3 778.7 389.3 779 390.2 779.4 391.2 779.7 392.1 780 393.1 780.4 394 780.7 394.9 781M311.6 773.1 312.5 773.4 313.5 773.8 314.4 774.1 315.4 774.4 316.3 774.8 317.3 775.1 318.2 775.4 319.2 775.8 320.1 776.1 321 776.5 322 776.8 322.9 777.1 323.9 777.5 324.8 777.8 325.8 778.1 326.7 778.5 327.6 778.8 328.6 779.1 329.5 779.5 330.5 779.8 331.4 780.2 332.4 780.5 333.3 780.8 334.2 781.2 335.2 781.5 336.1 781.8 337.1 782.2 338 782.5 339 782.9 339.9 783.2 340.8 783.5 341.8 783.9 342.7 784.2 343.7 784.5 344.6 784.9 345.6 785.2 346.5 785.6 347.4 785.9 348.4 786.2 349.3 786.6 350.3 786.9 351.2 787.2 352.2 787.6 353.1 787.9 354 788.2M275.4 782 276.4 782.3 277.3 782.7 278.3 783 279.2 783.3 280.1 783.7 281.1 784 282 784.3 283 784.7 283.9 785 284.9 785.3 285.8 785.7 286.7 786 287.7 786.4 288.6 786.7 289.6 787 290.5 787.4 291.5 787.7 292.4 788 293.3 788.4 294.3 788.7 295.2 789.1 296.2 789.4 297.1 789.7 298.1 790.1 299 790.4 299.9 790.7 300.9 791.1 301.8 791.4 302.8 791.8 303.7 792.1 304.7 792.4 305.6 792.8 306.5 793.1 307.5 793.4 308.4 793.8 309.4 794.1 310.3 794.4 311.3 794.8 312.2 795.1 313.2 795.5M229.8 787.5 230.8 787.8 231.7 788.2 232.6 788.5 233.6 788.9 234.5 789.2 235.5 789.5 236.4 789.9 237.4 790.2 238.3 790.5 239.2 790.9 240.2 791.2 241.1 791.5 242.1 791.9 243 792.2 244 792.6 244.9 792.9 245.8 793.2 246.8 793.6 247.7 793.9 248.7 794.2 249.6 794.6 250.6 794.9 251.5 795.3 252.4 795.6 253.4 795.9 254.3 796.3 255.3 796.6 256.2 796.9 257.2 797.3 258.1 797.6 259 798 260 798.3 260.9 798.6 261.9 799 262.8 799.3 263.8 799.6 264.7 800 265.7 800.3 266.6 800.6 267.5 801 268.5 801.3 269.4 801.7 270.4 802 271.3 802.3 272.3 802.7M49.3 744.8 50.3 745.2 51.2 745.5 52.1 745.8 53.1 746.2 54 746.5 55 746.9 55.9 747.2 56.9 747.5 57.8 747.9 58.8 748.2 59.7 748.5 60.6 748.9 61.6 749.2 62.5 749.5 63.5 749.9 64.4 750.2 65.4 750.6 66.3 750.9 67.2 751.2 68.2 751.6 69.1 751.9 70.1 752.2 71 752.6 72 752.9 72.9 753.3 73.8 753.6 74.8 753.9 75.7 754.3 76.7 754.6 77.6 754.9 78.6 755.3 79.5 755.6 80.4 756 81.4 756.3 82.3 756.6 83.3 757 84.2 757.3 85.2 757.6 86.1 758 87 758.3 88 758.6 88.9 759 89.9 759.3 90.8 759.7 91.8 760 92.7 760.3 93.6 760.7 94.6 761 95.5 761.3 96.5 761.7 97.4 762 98.4 762.4 99.3 762.7 100.3 763 101.2 763.4 102.1 763.7 103.1 764 104 764.4 105 764.7 105.9 765.1 106.9 765.4 107.8 765.7 108.7 766.1 109.7 766.4 110.6 766.7 111.6 767.1 112.5 767.4 113.5 767.7 114.4 768.1 115.3 768.4 116.3 768.8 117.2 769.1 118.2 769.4 119.1 769.8 120.1 770.1 121 770.4 121.9 770.8 122.9 771.1 123.8 771.5 124.8 771.8 125.7 772.1 126.7 772.5 127.6 772.8 128.5 773.1 129.5 773.5 130.4 773.8 131.4 774.2 132.3 774.5 133.3 774.8 134.2 775.2 135.2 775.5 136.1 775.8 137 776.2 138 776.5 138.9 776.8 139.9 777.2 140.8 777.5 141.8 777.9 142.7 778.2 143.6 778.5 144.6 778.9 145.5 779.2 146.5 779.5 147.4 779.9 148.4 780.2 149.3 780.6 150.2 780.9 151.2 781.2 152.1 781.6 153.1 781.9 154 782.2 155 782.6 155.9 782.9 156.8 783.3 157.8 783.6 158.7 783.9 159.7 784.3 160.6 784.6 161.6 784.9 162.5 785.3 163.4 785.6 164.4 785.9 165.3 786.3 166.3 786.6 167.2 787 168.2 787.3 169.1 787.6 170 788 171 788.3 171.9 788.6 172.9 789 173.8 789.3 174.8 789.7 175.7 790 176.7 790.3 177.6 790.7 178.5 791 179.5 791.3 180.4 791.7 181.4 792 182.3 792.4 183.3 792.7 184.2 793 185.1 793.4 186.1 793.7 187 794 188 794.4 188.9 794.7 189.9 795 190.8 795.4 191.7 795.7 192.7 796.1 193.6 796.4 194.6 796.7 195.5 797.1 196.5 797.4 197.4 797.7 198.3 798.1 199.3 798.4 200.2 798.8 201.2 799.1 202.1 799.4 203.1 799.8 204 800.1 204.9 800.4 205.9 800.8 206.8 801.1 207.8 801.5 208.7 801.8 209.7 802.1 210.6 802.5 211.5 802.8 212.5 803.1 213.4 803.5 214.4 803.8 215.3 804.2 216.3 804.5 217.2 804.8 218.2 805.2 219.1 805.5 220 805.8 221 806.2 221.9 806.5 222.9 806.8 223.8 807.2 224.8 807.5 225.7 807.9 226.6 808.2 227.6 808.5 228.5 808.9 229.5 809.2 230.4 809.5 231.4 809.9" fill="none" stroke="#ff0" stroke-width="2.2" stroke-dasharray="2 2.5"/><g stroke="#000" stroke-width="2.3" stroke-linecap="round"><line x1="42" y1="900.2" x2="41.7" y2="592.1"/><line x1="42" y1="900.2" x2="224" y2="965.3"/><line x1="41.7" y1="592.1" x2="302" y2="546.2"/><line x1="41.7" y1="592.1" x2="223.7" y2="657.1"/><line x1="302" y1="546.2" x2="484.1" y2="611.2"/><line x1="224" y1="965.3" x2="223.7" y2="657.1"/><line x1="224" y1="965.3" x2="484.4" y2="919.3"/><line x1="223.7" y1="657.1" x2="484.1" y2="611.2"/><line x1="484.4" y1="919.3" x2="484.1" y2="611.2"/></g><g stroke="#000" stroke-width="2"><line x1="42" y1="891.5" x2="35.5" y2="891.5"/><line x1="42" y1="881.1" x2="35.5" y2="881.1"/><line x1="42" y1="870.7" x2="35.5" y2="870.7"/><line x1="41.9" y1="860.4" x2="35.4" y2="860.4"/><line x1="41.9" y1="850" x2="29.4" y2="850"/><line x1="41.9" y1="839.6" x2="35.4" y2="839.6"/><line x1="41.9" y1="829.2" x2="35.4" y2="829.2"/><line x1="41.9" y1="818.8" x2="35.4" y2="818.8"/><line x1="41.9" y1="808.4" x2="35.4" y2="808.4"/><line x1="41.9" y1="798.1" x2="29.4" y2="798.1"/><line x1="41.9" y1="787.7" x2="35.4" y2="787.7"/><line x1="41.9" y1="777.3" x2="35.4" y2="777.3"/><line x1="41.9" y1="766.9" x2="35.4" y2="766.9"/><line x1="41.8" y1="756.5" x2="35.3" y2="756.5"/><line x1="41.8" y1="746.2" x2="29.3" y2="746.2"/><line x1="41.8" y1="735.8" x2="35.3" y2="735.8"/><line x1="41.8" y1="725.4" x2="35.3" y2="725.4"/><line x1="41.8" y1="715" x2="35.3" y2="715"/><line x1="41.8" y1="704.6" x2="35.3" y2="704.6"/><line x1="41.8" y1="694.2" x2="29.3" y2="694.2"/><line x1="41.8" y1="683.9" x2="35.3" y2="683.9"/><line x1="41.8" y1="673.5" x2="35.3" y2="673.5"/><line x1="41.7" y1="663.1" x2="35.2" y2="663.1"/><line x1="41.7" y1="652.7" x2="35.2" y2="652.7"/><line x1="41.7" y1="642.3" x2="29.2" y2="642.3"/><line x1="41.7" y1="631.9" x2="35.2" y2="631.9"/><line x1="41.7" y1="621.6" x2="35.2" y2="621.6"/><line x1="41.7" y1="611.2" x2="35.2" y2="611.2"/><line x1="41.7" y1="600.8" x2="35.2" y2="600.8"/><line x1="42" y1="900.2" x2="42" y2="912.7"/><line x1="60.2" y1="906.7" x2="60.2" y2="913.2"/><line x1="78.4" y1="913.2" x2="78.4" y2="925.7"/><line x1="96.6" y1="919.7" x2="96.6" y2="926.2"/><line x1="114.8" y1="926.2" x2="114.8" y2="938.7"/><line x1="133" y1="932.7" x2="133" y2="939.2"/><line x1="151.2" y1="939.2" x2="151.2" y2="951.7"/><line x1="169.4" y1="945.7" x2="169.4" y2="952.2"/><line x1="187.6" y1="952.2" x2="187.6" y2="964.7"/><line x1="205.8" y1="958.7" x2="205.8" y2="965.2"/><line x1="224" y1="965.3" x2="224" y2="977.7"/><line x1="237" y1="963" x2="237" y2="969.5"/><line x1="250.1" y1="960.7" x2="250.1" y2="967.2"/><line x1="263.1" y1="958.4" x2="263.1" y2="964.9"/><line x1="276.1" y1="956.1" x2="276.1" y2="962.6"/><line x1="289.1" y1="953.8" x2="289.1" y2="966.3"/><line x1="302.1" y1="951.5" x2="302.1" y2="958"/><line x1="315.2" y1="949.2" x2="315.2" y2="955.7"/><line x1="328.2" y1="946.9" x2="328.2" y2="953.4"/><line x1="341.2" y1="944.6" x2="341.2" y2="951.1"/><line x1="354.2" y1="942.3" x2="354.2" y2="954.8"/><line x1="367.2" y1="940" x2="367.2" y2="946.5"/><line x1="380.2" y1="937.7" x2="380.2" y2="944.2"/><line x1="393.3" y1="935.4" x2="393.3" y2="941.9"/><line x1="406.3" y1="933.1" x2="406.3" y2="939.6"/><line x1="419.3" y1="930.8" x2="419.3" y2="943.3"/><line x1="432.3" y1="928.5" x2="432.3" y2="935"/><line x1="445.3" y1="926.2" x2="445.3" y2="932.7"/><line x1="458.4" y1="923.9" x2="458.4" y2="930.4"/><line x1="471.4" y1="921.6" x2="471.4" y2="928.1"/><line x1="484.4" y1="919.3" x2="484.4" y2="931.8"/></g><g font-family="Liberation Serif, serif" font-size="20" fill="#000"><text x="28.4" y="858.2" text-anchor="end">−1</text><text x="28.4" y="806.3" text-anchor="end">−0.5</text><text x="28.3" y="754.4" text-anchor="end">0</text><text x="28.3" y="702.5" text-anchor="end">0.5</text><text x="28.2" y="650.6" text-anchor="end">1</text><text x="42" y="933" text-anchor="middle">0</text><text x="78.4" y="946" text-anchor="middle">0.02</text><text x="114.8" y="959" text-anchor="middle">0.04</text><text x="151.2" y="972" text-anchor="middle">0.06</text><text x="187.6" y="985" text-anchor="middle">0.08</text><text x="224.1" y="998" text-anchor="middle">10</text><text x="289.1" y="986.5" text-anchor="middle">5</text><text x="354.2" y="975.1" text-anchor="middle">0</text><text x="419.3" y="963.6" text-anchor="middle">−5</text><text x="484.4" y="952.1" text-anchor="middle">−10</text></g><g font-family="Liberation Serif, serif" font-size="20" fill="#000"><text x="132.2" y="1004.5" text-anchor="middle" font-style="italic">t</text><text x="354.2" y="1012.2" text-anchor="middle" font-style="italic">x</text></g><text x="5.2" y="555.2" font-family="Liberation Sans, Arial, sans-serif" font-weight="bold" font-size="38.5">D</text><g stroke="#000" stroke-width="2" stroke-linecap="round"><line x1="735.6" y1="925.7" x2="996" y2="880.7"/><line x1="996" y1="880.7" x2="995.6" y2="572.4"/><line x1="996" y1="880.7" x2="1178" y2="944.8"/></g><g><path fill="#f00" d="M957.5 658.8l5-24.5 8.4-4.7-5 26.3zM964.9 655.8l5.4-26.4 8.4-.6-5.4 27.2zM972.5 655.9l5.4-27.2 8.4 .1-5.4 27.8zM980.1 656.5l5.4-27.9 8.4 .5-5.5 28.4zM987.6 657.3l5.5-28.4 8.4 .7-5.5 28.9zM889.5 642.4l-5 25-8.4 3.1 5.1-23.3zM995.2 658.3l5.5-28.9 8.4 .9-5.5 29.3zM1002.8 659.5l5.5-29.4 8.3 .9-5.4 29.9zM897.3 641.6l-5.4 25.9-8.3-.2 5.3-25.1zM1010.4 660.7l5.5-29.8 8.3 1-5.5 30.3zM904.9 641.5l-5.4 26.5-8.4-.7 5.4-25.9zM1017.9 662l5.5-30.2 8.4 1.1-5.5 30.6zM912.5 641.8l-5.4 27-8.4-1 5.4-26.4zM1025.5 663.4l5.5-30.7 8.4 1.2-5.5 31zM920.1 642.3l-5.5 27.5-8.3-1.2 5.4-27zM783.7 760l5.5-43.5 8.4-.7-5.5 46.7zM802.8 678.3l-5.2 38.3-8.3 .7 5.1-35.7zM1033.1 664.8l5.5-31.1 8.4 1.2-5.5 31.4zM794.8 682.3l5-22.1 8.4-4.8-5.1 23.6zM927.7 642.9l-5.5 27.9-8.4-1.2 5.5-27.5zM791.3 762.4l5.6-46.7 8.3 1.2-5.5 48.1zM810.6 678.2l-5.5 39.5-8.3-1.2 5.4-38.4zM1040.7 666.2l5.5-31.4 8.4 1.2-5.5 31.8zM935.3 643.7l-5.5 28.3-8.4-1.3 5.5-27.9zM798.9 764.9l5.6-48.1 8.3 1.5-5.5 49.3zM802.2 678.9l5.4-23.8 8.3-.6-5.3 24.5zM818.2 678.6l-5.5 40.5-8.4-1.5 5.5-39.5zM1048.3 667.6l5.5-31.7 8.4 1.2-5.6 32.2zM942.9 644.5l-5.5 28.8-8.4-1.4 5.5-28.4zM806.5 767.5l5.6-49.3 8.3 1.7-5.5 50.3zM809.8 678.8l5.4-24.5 8.3 .1-5.4 25.1zM825.8 679.4l-5.5 41.3-8.4-1.7 5.5-40.5zM1055.8 669.1l5.6-32.1 8.3 1.3-5.5 32.5zM814.1 770.1l5.5-50.3 8.4 1.8-5.6 51.2zM950.4 645.5l-5.5 29.1-8.3-1.5 5.5-28.7zM817.3 679.3l5.5-25.1 8.3 .5-5.4 25.5zM833.4 680.3l-5.6 42-8.3-1.7 5.5-41.3zM1063.4 670.7l5.6-32.5 8.3 1.3-5.5 32.8zM821.6 772.7l5.6-51.2 8.4 1.8-5.6 52.1zM958 646.4l-5.5 29.5-8.3-1.5 5.5-29.1zM824.9 680l5.5-25.5 8.3 .6-5.4 26zM1079.5 673.1l-5.5 50.7-8.4-2.2 5.6-50.2zM1068.2 778l5.2-55.1 8.4 2.2-5.2 55.6zM840.9 681.3l-5.5 42.8-8.3-1.9 5.5-42zM1071 672.2l5.5-32.9 8.4 1.4-5.5 33.2zM829.2 775.3l5.6-52.1 8.4 1.9-5.6 52.9zM965.6 647.5l-5.5 29.8-8.4-1.5 5.5-29.5zM832.5 680.9l5.5-25.9 8.3 .7-5.5 26.5zM1087.1 674.6l-5.5 51.3-8.4-2.2 5.6-50.7zM1075.8 780.6l5.2-55.6 8.4 2.2-5.2 56.2zM848.5 682.5l-5.5 43.4-8.4-1.9 5.6-42.8zM1078.6 673.8l5.5-33.2 8.4 1.3-5.5 33.6zM836.8 777.9l5.6-52.9 8.4 1.9-5.6 53.7zM973.2 648.6l-5.5 30.1-8.4-1.5 5.5-29.9zM840 682l5.5-26.4 8.4 .9-5.5 26.8zM1094.7 676.2l-5.5 51.8-8.4-2.2 5.5-51.2zM1083.4 783.3l5.2-56.2 8.4 2.2-5.2 56.7zM856.1 683.7l-5.5 44-8.4-1.9 5.5-43.4zM1086.2 675.3l5.5-33.5 8.4 1.4-5.6 33.8zM844.4 780.5l5.6-53.7 8.4 2-5.6 54.4zM980.8 649.7l-5.5 30.5-8.4-1.6 5.5-30.2zM847.6 683.1l5.5-26.8 8.4 1-5.5 27.2zM1102.3 677.8l-5.6 52.3-8.3-2.2 5.5-51.7zM1091 786l5.2-56.7 8.3 2.1-5.1 57.3zM1111.3 914.6l-5.8 31.8-8.3-4.2 5.7-31.5zM863.7 684.9l-5.5 44.7-8.4-2 5.5-44zM852 783.1l5.6-54.4 8.4 2-5.6 55.1zM1093.8 676.9l5.5-33.9 8.4 1.4-5.6 34.2zM988.4 650.8l-5.6 30.9-8.3-1.6 5.5-30.6zM855.2 684.3l5.5-27.1 8.4 1-5.5 27.6zM1109.9 679.4l-5.6 52.8-8.4-2.2 5.6-52.2zM1098.6 788.6l5.1-57.2 8.4 2.2-5.1 57.8zM1118.9 918.3l-5.8 32.1-8.3-4.2 5.7-31.7zM871.3 686.3l-5.5 45.2-8.4-2 5.5-44.6zM859.6 785.7l5.6-55.1 8.3 2-5.6 55.8zM1101.3 678.5l5.6-34.2 8.3 1.4-5.5 34.6zM996 652l-5.6 31.2-8.3-1.7 5.5-30.8zM1110.2 915.2l5.7-51.7 8.3 3.3-5.7 52.2zM862.8 685.6l5.5-27.5 8.4 1.1-5.5 27.9zM1117.5 681.1l-5.6 53.2-8.4-2.2 5.6-52.7zM1106.2 791.3l5.1-57.8 8.4 2.2-5.2 58.3zM984.2 731.3l5.6-49 8.4 1.6-5.6 49.6zM1000.4 734.7l-5.6 60.1-8.4-2.7 5.6-59.5zM878.9 687.6l-5.6 45.8-8.3-2 5.5-45.2zM867.2 788.3l5.5-55.8 8.4 2.1-5.6 56.4zM1108.9 680.1l5.6-34.5 8.3 1.4-5.5 34.9zM1003.5 653.2l-5.5 31.5-8.4-1.7 5.6-31.2zM870.4 686.9l5.5-27.9 8.3 1.2-5.5 28.2zM1125 682.7l-5.5 53.8-8.4-2.2 5.6-53.3zM1008 736.8l-5.6 60.7-8.4-2.7 5.6-60.1zM886.5 689l-5.6 46.3-8.4-2 5.6-45.8zM874.7 790.9l5.6-56.4 8.4 2-5.6 57.1zM1116.5 681.8l5.5-34.9 8.4 1.5-5.5 35.1zM1011.1 654.4l-5.5 31.8-8.4-1.6 5.6-31.6zM991.8 733.4l5.6-49.6 8.4 1.6-5.6 50.1zM877.9 688.3l5.6-28.3 8.3 1.3-5.5 28.5zM999.4 735.4l5.6-50.1 8.3 1.7-5.5 50.6zM1015.6 738.9l-5.6 61.3-8.4-2.8 5.6-60.7zM894 690.4l-5.5 46.9-8.4-2.1 5.6-46.3zM882.3 793.5l5.6-57.1 8.4 2.1-5.6 57.7zM1124.1 683.4l5.5-35.2 8.4 1.5-5.5 35.5zM1018.7 655.6l-5.5 32.2-8.4-1.7 5.5-31.8zM885.5 689.7l5.5-28.6 8.4 1.3-5.5 28.8zM1007 737.5l5.5-50.6 8.4 1.6-5.5 51.2zM1023.2 740.9l-5.6 61.9-8.4-2.7 5.6-61.3zM901.6 691.9l-5.5 47.4-8.4-2.1 5.6-46.9zM1015.8 954.7l5.8-33.3 8.3 3.9-5.7 33.6zM889.9 796.2l5.6-57.8 8.4 2.1-5.6 58.4zM1026.3 656.9l-5.5 32.5-8.4-1.7 5.5-32.2zM893.1 691.1l5.5-28.9 8.4 1.3-5.5 29.2zM1014.6 739.6l5.5-51.1 8.4 1.6-5.5 51.6zM1030.8 743l-5.6 62.5-8.4-2.7 5.6-61.9zM909.2 693.3l-5.5 47.9-8.4-2 5.5-47.4zM1023.4 958.8l5.7-33.6 8.4 3.8-5.7 33.9zM897.5 798.8l5.6-58.4 8.4 2.1-5.6 59zM1033.9 658.2l-5.6 32.7-8.3-1.7 5.5-32.4zM900.7 692.5l5.5-29.2 8.4 1.3-5.5 29.5zM1022.2 741.6l5.5-51.6 8.4 1.7-5.6 52.1zM1038.3 745.1l-5.6 63.1-8.3-2.8 5.6-62.4zM916.8 694.8l-5.5 48.4-8.4-2 5.5-48zM905.1 801.4l5.6-59 8.3 2.1-5.5 59.6zM1041.5 659.4l-5.6 33.1-8.3-1.7 5.5-32.8zM908.3 694l5.5-29.5 8.4 1.3-5.6 29.8zM1029.7 743.7l5.6-52.1 8.4 1.7-5.6 52.6zM924.4 696.3l-5.6 48.9-8.3-2.1 5.5-48.4zM912.7 804l5.5-59.6 8.4 2.1-5.6 60.2zM1049 660.7l-5.5 33.4-8.4-1.7 5.6-33.1zM920.5 805.9l8.4 2.7-.7 5.7-8.4-2.7zM915.9 695.5l5.5-29.8 8.4 1.3-5.6 30.1zM932 697.8l-5.6 49.5-8.4-2.1 5.6-49zM920.2 806.6l5.6-60.2 8.4 2.1-5.6 60.8zM1056.6 662.1l-5.5 33.6-8.4-1.7 5.6-33.4zM928.1 808.5l8.4 2.7-.7 5.8-8.4-2.8zM923.4 697l5.6-30.1 8.3 1.3-5.5 30.5zM939.6 699.4l-5.6 49.9-8.4-2.1 5.6-49.4zM927.8 809.3l5.6-60.9 8.4 2.1-5.6 61.5zM948.6 935.9l-5.8 35.4-8.4-4.2 5.8-35.1zM935.7 811.1l8.4 2.7-.7 5.8-8.4-2.7zM931 698.5l5.6-30.4 8.3 1.4-5.5 30.7zM947.1 700.9l-5.5 50.4-8.4-2.1 5.6-49.9zM935.4 811.9l5.6-61.4 8.4 2.1-5.6 62zM956.1 939.6l-5.7 35.7-8.4-4.2 5.8-35.4zM943.3 813.8l8.3 2.6-.7 5.9-8.3-2.7zM938.6 700l5.5-30.7 8.4 1.4-5.5 31zM954.7 702.5l-5.5 50.8-8.4-2.1 5.5-50.4zM943 814.5l5.6-62 8.4 2.1-5.6 62.6zM950.8 816.4l8.4 2.7-.7 5.9-8.3-2.8zM946.2 701.6l5.5-31 8.4 1.4-5.5 31.3zM962.3 704.1l-5.5 51.3-8.4-2.1 5.5-50.9zM953.8 703.2l5.5-31.3 8.4 1.4-5.6 31.6z"/><path fill="#f11" d="M976.2 622.1l-4.9 8.3-8.3 4.4 5-7.8zM984 621.1l-5.3 8.7-8.3 .2 5.4-8.4zM991.6 620.9l-5.4 8.8-8.2-.4 5.4-8.7zM999.2 621l-5.4 9-8.3-.7 5.5-8.9zM1006.8 621.4l-5.4 9.1-8.3-.9 5.5-9zM881.7 647.7l5-6.4 8.1-4.8-4.9 6.8zM1014.4 621.9l-5.5 9.3-8.2-1.1 5.5-9.1zM889.1 642.8l5.3-6.9 8.2-.4-5.3 7.1zM1022 622.6l-5.5 9.4-8.2-1.2 5.4-9.3zM896.6 642.1l5.4-7.1 8.2 .3-5.4 7.2zM1029.6 623.3l-5.5 9.5-8.3-1.3 5.5-9.3zM1037.2 624.2l-5.5 9.6-8.3-1.4 5.5-9.5zM904.2 642l5.4-7.2 8.2 .6-5.4 7.4zM1044.8 625.1l-5.6 9.7-8.2-1.4 5.5-9.6zM911.8 642.3l5.4-7.4 8.2 .9-5.4 7.5zM813.4 651l-4.9 5.3-8.1 4.4 5-5zM1052.3 626l-5.5 9.8-8.2-1.4 5.5-9.7zM919.3 642.8l5.5-7.5 8.2 1.1-5.5 7.5zM1059.9 627l-5.5 9.9-8.3-1.5 5.6-9.8zM926.9 643.4l5.5-7.5 8.2 1.1-5.5 7.7zM1067.5 628l-5.5 10.1-8.3-1.6 5.5-9.9zM934.5 644.2l5.5-7.7 8.2 1.3-5.5 7.7zM1075.1 629.1l-5.5 10.1-8.3-1.6 5.5-10zM942.1 645l5.5-7.7 8.2 1.3-5.5 7.8zM1082.7 630.2l-5.5 10.2-8.3-1.6 5.5-10.1zM949.6 645.9l5.6-7.8 8.2 1.4-5.5 7.9zM1090.3 631.3l-5.6 10.3-8.2-1.6 5.5-10.2zM957.2 646.9l5.5-7.9 8.3 1.5-5.6 7.9zM1097.9 632.5l-5.6 10.3-8.3-1.6 5.6-10.3zM964.8 648l5.5-8 8.2 1.5-5.5 8zM1105.4 633.6l-5.5 10.5-8.3-1.7 5.6-10.3zM972.4 649l5.5-8 8.2 1.5-5.5 8.1zM1091.8 947.9l5.8-6.6 8.2 4.6-5.8 6.6zM1113 634.8l-5.5 10.6-8.3-1.7 5.5-10.5zM980 650.1l5.5-8.1 8.2 1.6-5.5 8.2zM1099.4 952l5.8-6.7 8.2 4.6-5.8 6.7zM1120.6 636l-5.5 10.7-8.3-1.7 5.5-10.6zM987.5 651.3l5.6-8.2 8.2 1.6-5.5 8.2zM1128.2 637.2l-5.6 10.8-8.2-1.7 5.5-10.7zM995.1 652.5l5.6-8.3 8.2 1.6-5.6 8.3zM1135.8 638.4l-5.6 10.9-8.3-1.7 5.6-10.8zM1002.7 653.7l5.5-8.4 8.3 1.6-5.6 8.4zM1010.3 654.9l5.5-8.4 8.3 1.6-5.6 8.5zM1024.5 958.3l-5.8 8.8-8.3-4.5 5.8-8.7zM1017.9 656.1l5.5-8.5 8.2 1.7-5.5 8.5zM1032.1 962.4l-5.8 8.8-8.3-4.6 5.8-8.7zM1025.4 657.4l5.6-8.6 8.2 1.7-5.5 8.6zM1033 658.7l5.6-8.7 8.2 1.7-5.5 8.7zM1040.6 659.9l5.5-8.7 8.3 1.7-5.6 8.8zM942.7 662.7l-5.6 6.5-8.2-1.7 5.6-6.5zM929.1 977l5.7-10.7 8.3 4.4-5.8 10.8zM950.2 663.9l-5.5 6.6-8.2-1.8 5.6-6.5zM936.6 981.1l5.8-10.8 8.3 4.4-5.8 10.9zM957.8 665.1l-5.5 6.6-8.2-1.8 5.6-6.5zM965.4 666.4l-5.5 6.6-8.2-1.8 5.5-6.6zM973 667.6l-5.6 6.7-8.1-1.8 5.5-6.7z"/><path fill="#d00" d="M762 870.9l-4.8-11 8.3 9.4 4.8 12zM769.7 881.7l-5-12.1 8.3 5.5 5 12.5z"/><path fill="#e00" d="M760.1 840.9l4.8 29-8.4-9.6-4.8-26.9zM767.6 845.8l5 30.1-8.4-5.8-5-29.1zM777.3 888l-5-12.6 8.3 5 5 12.8zM751.1 833.9l-5-38 8.4 4.6 5 41zM775.2 850.3l5 30.8-8.4-5.1-5-30.1zM784.9 893.5l-5-12.8 8.3 4.6 5 13.1zM1031.1 915l-5.1-18.9 8.4 3.8 5 19.1zM758.8 841.7l-5.1-41.1 8.4 3.5 5 42.4zM751 772.5l3.1 28.7-8.4-4.7-3-26.6zM1127.5 798.1l5.2 56.1-8.4-3.4-5.2-55.5zM782.7 854.5l5.1 31.5-8.4-4.7-5-30.9zM792.5 898.7l-5.1-13.1 8.4 4.4 5 13.4zM1038.7 919.2l-5.1-19.1 8.3 3.8 5.1 19.3zM766.4 846.6l-5.1-42.4 8.3 3.3 5.1 43.5zM1135.1 801l5.1 56.7-8.3-3.4-5.2-56.1zM790.3 858.6l5.1 32.1-8.4-4.5-5.1-31.5zM800 903.7l-5-13.4 8.4 4.2 5 13.7zM740.4 754.6l-5.5-39.9 8.4-1.8 5.4 43zM1046.2 923.4l-5-19.3 8.3 3.8 5.1 19.5zM774 851.1l-5.2-43.5 8.4 3.2 5.1 44.4zM1036.5 864.5l5.1 40.2-8.4-3.9-5.1-39.8zM766.2 777.8l3.1 30.4-8.4-3.3-3.1-29.7zM1142.6 803.9l5.2 57.3-8.4-3.4-5.1-56.7zM1126.4 799l-1.8-23.5 8.4 2.6 1.8 23.7zM797.9 862.6l5.1 32.7-8.4-4.4-5.1-32.1zM807.6 908.5l-5-13.7 8.3 4.2 5.1 13.8zM1053.8 927.6l-5-19.5 8.3 3.7 5.1 19.7zM747.9 756l-5.3-43 8.4 .6 5.3 44.4zM1044 868l5.2 40.6-8.4-3.8-5.1-40.2zM781.6 855.3l-5.2-44.4 8.4 3.1 5.1 45.3zM773.8 780.5l3.1 31-8.4-3.2-3.1-30.4zM1150.2 806.8l5.2 57.8-8.4-3.4-5.2-57.2zM1134 801.9l-1.8-23.7 8.3 2.6 1.9 23.9zM805.5 866.5l5.1 33.3-8.4-4.4-5.1-32.6zM815.2 913.1l-5-13.8 8.3 4.1 5.1 14zM1061.4 931.8l-5.1-19.8 8.4 3.8 5.1 19.9zM1051.6 871.5l5.2 41.1-8.4-3.9-5.1-40.6zM789.1 859.4l-5.1-45.3 8.4 3.1 5.1 46.1zM755.5 758.1l-5.3-44.4 8.4 1 5.3 45.5zM781.4 783.1l3.1 31.7-8.4-3.2-3.1-31zM1157.8 809.7l5.2 58.4-8.4-3.4-5.2-57.8zM1035.3 865.3l-5.1-54.2 8.3 2.9 5.2 54.7zM1141.6 804.8l-1.9-23.9 8.4 2.6 1.8 24.1zM813.1 870.4l5 33.7-8.3-4.2-5.1-33.2zM822.8 917.7l-5-14 8.3 4 5 14.2zM1069 935.9l-5.1-19.9 8.4 3.7 5.1 20.1zM1059.2 875.1l5.1 41.4-8.3-3.8-5.2-41.1zM796.7 863.4l-5.1-46.1 8.4 3.1 5.1 46.9zM763.1 760.3l-5.3-45.5 8.4 1.2 5.3 46.5zM789 785.8l3.1 32.2-8.4-3.1-3.1-31.7zM953 916.3l5 17.3-8.3-4-5.1-17.1zM1165.4 812.6l5.2 58.9-8.4-3.3-5.2-58.4zM1042.9 868.8l-5.2-54.7 8.4 2.8 5.2 55.4zM1149.1 807.7l-1.8-24.1 8.4 2.6 1.8 24.3zM820.6 874.2l5.1 34.2-8.3-4.1-5.1-33.8zM830.4 922.2l-5-14.2 8.3 3.9 5 14.5zM1076.6 940l-5.1-20.1 8.4 3.7 5 20.3zM1066.8 878.6l5.1 41.9-8.4-3.9-5.1-41.4zM804.3 867.4l-5.1-46.9 8.4 3.1 5.1 47.5zM770.7 762.6l-5.3-46.6 8.3 1.4 5.3 47.4zM960.6 920.3l5 17.5-8.3-4-5.1-17.3zM796.5 788.5l3.2 32.7-8.4-3.1-3.1-32.2zM1050.5 872.4l-5.2-55.4 8.4 2.9 5.2 55.9zM1156.7 810.6l-1.8-24.4 8.4 2.6 1.8 24.6zM828.2 878l5.1 34.7-8.4-4.1-5-34.2zM838 926.7l-5.1-14.5 8.4 3.9 5 14.7zM1084.2 944.2l-5.1-20.4 8.4 3.7 5 20.6zM1074.4 882.1l5.1 42.3-8.4-3.8-5.1-41.9zM811.9 871.2l-5.1-47.5 8.3 3 5.2 48.3zM778.2 764.9l-5.2-47.4 8.3 1.4 5.3 48.2zM968.2 924.3l5 17.7-8.3-4-5.1-17.4zM804.1 791.2l3.1 33.1-8.3-3-3.1-32.7zM951.8 917.2l-5.1-38.3 8.4 3.5 5.1 38.7zM1058.1 875.9l-5.2-55.9 8.4 2.9 5.2 56.4zM835.8 881.8l5.1 35.1-8.4-4.1-5.1-34.7zM845.6 931.1l-5.1-14.7 8.4 3.9 5 14.8zM1091.8 948.3l-5.1-20.6 8.3 3.7 5.1 20.7zM1051.2 792.3l2.2 28.3-8.4-2.8-2.2-28.1zM1082 885.6l5.1 42.7-8.4-3.8-5.1-42.3zM819.5 875.1l-5.2-48.3 8.4 3 5.2 49zM785.8 767.2l-5.3-48.2 8.4 1.5 5.3 49zM975.7 928.3l5.1 17.8-8.3-3.9-5.1-17.6zM959.4 921.2l-5.1-38.7 8.4 3.4 5.1 39.2zM811.7 793.8l3.1 33.7-8.3-3.1-3.2-33.2zM1065.7 879.4l-5.2-56.5 8.4 2.9 5.2 57zM1162.2 789.6l-3.1-39.2 8.4 2.2 3.1 39.6zM843.4 885.5l5.1 35.6-8.4-4.1-5.1-35.1zM853.2 935.4l-5.1-14.8 8.3 3.8 5.1 15zM1099.3 952.4l-5-20.8 8.3 3.7 5.1 20.9zM1058.7 794.9l2.3 28.7-8.4-2.9-2.2-28.4zM827.1 878.8l-5.2-48.9 8.4 3.1 5.2 49.5zM983.3 932.3l5.1 18-8.4-3.9-5-17.8zM793.4 769.6l-5.3-49 8.4 1.5 5.3 49.8zM967 925.2l-5.1-39.2 8.4 3.5 5.1 39.6zM819.3 796.5l3.1 34.1-8.4-3-3.1-33.7zM1073.3 882.9l-5.2-57 8.4 2.8 5.1 57.6zM860.8 939.7l-5.1-15 8.3 3.8 5.1 15.2zM851 889.2l5.1 36-8.4-4-5.1-35.6zM957.2 832.7l5.1 54-8.3-3.5-5.2-53.4zM1066.3 797.6l2.3 28.9-8.4-2.8-2.3-28.7zM834.7 882.6l-5.2-49.6 8.4 3.1 5.1 50.1zM1161.9 696.5l5.3 56.9-8.4-2.2-5.2-56.4zM990.9 936.2l5.1 18.2-8.4-3.9-5-18zM801 771.9l-5.3-49.7 8.4 1.6 5.3 50.4zM974.6 929.2l-5.1-39.6 8.4 3.5 5.1 40zM826.9 799.2l3.1 34.5-8.4-3-3.1-34.1zM1145.8 693.8l-5.3-39.6 8.4 1.2 5.3 40.1zM868.3 944l-5-15.2 8.3 3.8 5.1 15.4zM858.6 892.9l5.1 36.4-8.4-4-5.1-36zM964.8 835.7l5.1 54.5-8.4-3.4-5.1-54zM1073.9 800.3l2.3 29.2-8.4-2.9-2.3-28.9zM842.3 886.3l-5.2-50.2 8.4 3 5.1 50.8zM998.5 940.2l5.1 18.4-8.4-3.9-5-18.2zM982.2 933.2l-5.1-40 8.3 3.4 5.2 40.4zM808.6 774.3l-5.3-50.4 8.4 1.6 5.3 51.1zM834.5 801.8l3.1 35-8.4-3-3.1-34.6zM875.9 948.2l-5-15.4 8.3 3.8 5.1 15.6zM866.2 896.5l5.1 36.8-8.4-3.9-5.1-36.4zM1153.4 695.6l-5.3-40 8.3 1.3 5.4 40.4zM1143.4 639.4l5.3 16.8-8.3-1.2-5.4-16.6zM972.3 838.7l5.2 55.1-8.4-3.5-5.1-54.5zM849.8 890l-5.1-50.8 8.4 3 5.1 51.4zM1006.1 944.1l5.1 18.6-8.4-3.9-5.1-18.4zM989.8 937.1l-5.2-40.4 8.4 3.5 5.1 40.7zM816.2 776.7l-5.3-51.1 8.4 1.6 5.2 51.8zM842.1 804.5l3.1 35.4-8.4-3-3.1-35zM883.5 952.5l-5-15.6 8.3 3.7 5.1 15.8zM873.7 900.2l5.1 37.2-8.3-3.9-5.1-36.9zM1151 640.6l5.3 17-8.4-1.2-5.3-16.8zM979.9 841.7l5.2 55.7-8.4-3.5-5.2-55.1zM857.4 893.7l-5.1-51.4 8.3 3 5.2 51.9zM1013.7 948l5 18.8-8.3-3.9-5.1-18.6zM963.7 836.6l-2.7-32.8 8.4 2.6 2.6 33.1zM997.4 941.1l-5.2-40.8 8.4 3.4 5.1 41.2zM823.7 779.1l-5.2-51.8 8.3 1.7 5.3 52.4zM849.6 807.2l3.2 35.8-8.4-3-3.1-35.4zM891.1 956.7l-5.1-15.8 8.4 3.8 5 15.9zM881.3 903.8l5.1 37.6-8.3-3.9-5.2-37.2zM987.5 844.7l5.2 56.2-8.4-3.5-5.2-55.6zM865 897.3l-5.2-51.9 8.4 3 5.2 52.5zM1021.3 951.9l5 18.9-8.3-3.8-5.1-18.7zM971.3 839.6l-2.7-33.1 8.3 2.6 2.7 33.4zM857.2 809.9l3.1 36.1-8.3-2.9-3.2-35.8zM831.3 781.5l-5.2-52.5 8.3 1.7 5.3 53.1zM898.7 960.8l-5.1-15.9 8.4 3.7 5 16.1zM888.9 907.4l5.1 38-8.4-3.9-5.1-37.6zM995.1 847.7l5.2 56.7-8.4-3.4-5.2-56.2zM872.6 901l-5.2-52.5 8.4 2.9 5.2 53.1zM978.8 842.6l-2.7-33.5 8.4 2.6 2.7 33.8zM1077.5 770.2l-5.3-57.3 8.4 1.7 5.3 57.8zM864.8 812.5l3.1 36.6-8.4-3-3.1-36.2zM838.9 783.9l-5.3-53.1 8.4 1.7 5.3 53.8zM906.3 965l-5.1-16.1 8.3 3.7 5.1 16.3zM896.5 911l5.1 38.4-8.4-3.8-5.1-38.1zM1067.5 671.9l5.3 41.7-8.4-1.8-5.3-41.2zM880.2 904.6l-5.2-53.1 8.4 3 5.2 53.6zM986.4 845.5l-2.7-33.7 8.4 2.6 2.7 34.1zM872.4 815.2l3.1 37-8.4-3-3.1-36.6zM846.5 786.3l-5.3-53.7 8.4 1.7 5.3 54.4zM913.9 969.1l-5.1-16.2 8.3 3.7 5.1 16.4zM904.1 914.6l5.1 38.8-8.4-3.9-5.1-38.4zM1075.1 673.4l5.3 42-8.4-1.7-5.3-41.7zM1059 671.5l-5.3-18.7 8.3 1 5.3 18.8zM887.8 908.2l-5.2-53.6 8.4 2.9 5.2 54.2zM880 817.9l3.1 37.3-8.4-2.9-3.1-37zM921.4 973.2l-5-16.4 8.3 3.7 5.1 16.6zM854.1 788.8l-5.3-54.4 8.4 1.8 5.3 54.9zM911.7 918.2l5.1 39.2-8.4-3.9-5.1-38.8zM1066.6 672.9l-5.3-18.8 8.3 1 5.3 19zM895.4 911.8l-5.2-54.2 8.4 3 5.1 54.7zM887.6 820.5l3.1 37.8-8.4-3-3.1-37.4zM929 977.4l-5-16.6 8.3 3.7 5.1 16.7zM919.2 921.7l5.2 39.6-8.4-3.8-5.1-39.2zM861.7 791.2l-5.3-55 8.4 1.8 5.2 55.5zM902.9 915.4l-5.1-54.7 8.4 2.9 5.1 55.3zM936.6 981.5l-5.1-16.8 8.4 3.7 5.1 16.9zM895.1 823.2l3.2 38.1-8.4-2.9-3.1-37.8zM869.2 793.6l-5.2-55.5 8.4 1.8 5.2 56.1zM910.5 919l-5.1-55.3 8.3 3 5.2 55.8zM902.7 825.9l3.2 38.5-8.4-3-3.2-38.1zM999.2 732.8l5.3 58.7-8.4-2.3-5.3-58.2zM876.8 796l-5.2-56.1 8.3 1.8 5.3 56.7zM983.1 730l-5.3-42.8 8.3 1.3 5.3 43.2zM910.3 828.5l3.1 38.9-8.3-3-3.2-38.5zM884.4 798.5l-5.3-56.7 8.4 1.8 5.3 57.2zM990.6 731.8l-5.3-43.2 8.4 1.4 5.3 43.6zM980.7 668.5l5.3 20.8-8.4-1.3-5.3-20.6zM892 800.9l-5.3-57.2 8.4 1.8 5.3 57.8zM988.2 669.7l5.4 21-8.4-1.2-5.3-20.8zM899.6 803.4l-5.3-57.9 8.4 1.8 5.3 58.4zM907.2 805.8l-5.3-58.4 8.4 1.8 5.2 59zM914.8 808.2l-5.3-58.9 8.4 1.8 5.2 59.5z"/><path fill="#00e" d="M751 772.5l3.2 26.8-8.4-2.7-3.1-26.7zM742.4 770.6l-1.8-16.8 8.4 2.5 1.8 16.9zM750 773.3l-1.8-16.9 8.3 2.5 1.9 17zM757.6 776l-1.9-17 8.4 2.5 1.8 17.1zM1124.3 776.3l-3.1-28.7 8.4 2.4 3.1 28.9zM765.1 778.7l-1.8-17.1 8.4 2.5 1.8 17.1zM1131.9 779l-3.1-28.9 8.3 2.5 3.2 29zM772.7 781.3l-1.8-17.1 8.4 2.5 1.8 17.2zM1139.5 781.7l-3.2-29 8.4 2.4 3.2 29.1zM1131.7 711.8l5.2 41.5-8.4-2.4-5.2-41.4zM780.3 784l-1.8-17.2 8.4 2.5 1.8 17.3zM1147.1 784.3l-3.2-29.1 8.4 2.5 3.1 29.2zM1139.2 714.1l5.3 41.8-8.4-2.5-5.2-41.5zM1173 809.3l5.2 44.1-8.4-2.8-5.2-44zM787.9 786.7l-1.8-17.3 8.4 2.5 1.8 17.3zM1154.7 787l-3.2-29.3 8.4 2.5 3.1 29.4zM1146.8 716.5l5.3 41.9-8.4-2.4-5.3-41.8zM1164.3 807.4l-1.8-18.5 8.4 2.6 1.8 18.5zM795.5 789.3l-1.8-17.3 8.3 2.5 1.9 17.4zM1154.4 718.9l5.2 42.1-8.3-2.5-5.3-41.9zM1042.5 790.4l-2.7-25.2 8.4 2.5 2.7 25.3zM1138.2 715l-5.2-29.6 8.4 2.1 5.2 29.8zM803.1 792l-1.9-17.4 8.4 2.5 1.8 17.5zM1050.1 793.1l-2.7-25.3 8.4 2.4 2.7 25.5zM1145.8 717.4l-5.2-29.7 8.3 2.1 5.3 29.8zM810.7 794.7l-1.9-17.5 8.4 2.5 1.8 17.5zM1057.7 795.8l-2.7-25.5 8.4 2.5 2.7 25.6zM1143.5 678l5.2 12.4-8.3-1.9-5.2-12.4zM1047.1 768.5l-5.2-42 8.4 2.3 5.2 42.2zM818.2 797.3l-1.8-17.5 8.4 2.5 1.8 17.6zM1065.3 798.5l-2.7-25.6 8.3 2.5 2.7 25.6zM1054.7 771.1l-5.2-42.2 8.4 2.3 5.2 42.4zM825.8 800l-1.8-17.6 8.4 2.5 1.8 17.7zM1072.9 801.1l-2.7-25.6 8.3 2.4 2.7 25.8zM1062.3 773.7l-5.2-42.4 8.4 2.3 5.2 42.5zM833.4 802.7l-1.8-17.7 8.4 2.5 1.8 17.8zM1069.9 776.2l-5.2-42.5 8.3 2.2 5.3 42.8zM960.7 804.6l-2.2-21.7 8.3 2.5 2.3 21.7zM1060 703.4l5.2 30.9-8.4-2.2-5.2-30.8zM841 805.4l-1.8-17.8 8.3 2.5 1.9 17.8zM968.3 807.2l-2.3-21.7 8.4 2.5 2.3 21.8zM1067.6 705.6l5.2 31.1-8.4-2.3-5.2-30.9zM848.6 808l-1.8-17.8 8.3 2.5 1.9 17.9zM975.9 809.9l-2.3-21.8 8.4 2.5 2.3 21.9zM1059 704.4l-5.2-14 8.3 1.9 5.2 14zM968.9 745.9l5.3 42.8-8.4-2.5-5.2-42.6zM856.2 810.7l-1.9-17.9 8.4 2.5 1.8 18zM983.5 812.6l-2.3-22 8.4 2.5 2.2 22.1zM976.5 748.3l5.2 43-8.3-2.5-5.3-42.8zM863.7 813.4l-1.8-18 8.4 2.5 1.8 18zM991.1 815.2l-2.3-22 8.4 2.5 2.2 22.1zM984.1 750.7l5.2 43.2-8.4-2.5-5.2-43zM871.3 816l-1.8-18 8.4 2.5 1.8 18.1zM967.9 746.8l-5.2-31.8 8.3 2.1 5.3 31.9zM991.7 753.1l5.2 43.4-8.4-2.5-5.2-43.2zM878.9 818.7l-1.8-18.1 8.4 2.5 1.8 18.2zM975.5 749.2l-5.2-32 8.3 2.1 5.3 32.1zM886.5 821.4l-1.8-18.2 8.4 2.5 1.8 18.2zM983.1 751.6l-5.3-32.1 8.4 2.1 5.2 32.2zM894.1 824l-1.8-18.2 8.3 2.5 1.9 18.3zM980.7 706.8l5.3 15.5-8.4-2-5.2-15.4zM901.7 826.7l-1.9-18.3 8.4 2.5 1.8 18.4zM909.3 829.4l-1.9-18.4 8.4 2.5 1.8 18.5z"/><path fill="#f22" d="M821.2 650l-5.3 5.5-8.1 .2 5.3-5.4zM828.8 649.8l-5.4 5.6-8.1-.5 5.4-5.5zM836.4 650l-5.4 5.7-8.1-.9 5.4-5.6zM844 650.4l-5.4 5.7-8.2-1 5.5-5.7zM851.6 650.9l-5.5 5.9-8.1-1.3 5.5-5.7zM859.2 651.6l-5.5 5.9-8.1-1.3 5.5-5.9zM866.8 652.4l-5.5 5.9-8.1-1.4 5.5-5.9zM874.4 653.2l-5.5 6-8.2-1.5 5.5-5.9zM882 654.1l-5.6 6.1-8.1-1.5 5.5-6.1zM889.6 655.1l-5.6 6.1-8.1-1.6 5.5-6.1zM897.1 656.1l-5.5 6.2-8.1-1.7 5.5-6.1zM904.7 657.1l-5.5 6.3-8.2-1.7 5.6-6.2zM912.3 658.2l-5.5 6.3-8.2-1.7 5.6-6.3zM919.9 659.3l-5.5 6.3-8.2-1.7 5.5-6.3zM927.5 660.4l-5.6 6.4-8.1-1.7 5.5-6.4zM935.1 661.6l-5.6 6.4-8.1-1.7 5.5-6.4z"/><path fill="#e00" d="M758.6 775.1l3.1 29.7-8.4-3.5-3.1-28.7z"/><path fill="#0d0" d="M740.3 754.6l-5.3-39.9 8.4 1.2 5.3 40.9zM747.9 756.9l-5.3-40.9 8.4 1.7 5.3 41.5zM755.5 759.3l-5.3-41.5 8.4 1.8 5.3 42zM763.1 761.7l-5.3-42 8.4 1.8 5.3 42.6zM770.7 764.2l-5.3-42.6 8.4 2 5.2 43zM778.2 766.7l-5.2-43 8.4 1.9 5.2 43.5zM785.8 769.2l-5.2-43.5 8.4 2 5.2 43.9zM1162.2 789.7l-3.1-33.3 8.4 2.4 3.1 33.4zM793.4 771.7l-5.2-43.9 8.3 2 5.3 44.3zM1162 711.5l5.2 48-8.4-2.3-5.2-47.7zM801 774.2l-5.3-44.3 8.4 2 5.3 44.7zM1143.4 662.8l5.3 14.2-8.3-1.6-5.3-14.1zM808.6 776.7l-5.3-44.7 8.4 2 5.3 45.1zM1153.4 710.3l-5.3-33.9 8.4 1.8 5.3 34zM1151 664.6l5.3 14.3-8.4-1.6-5.2-14.2zM816.2 779.2l-5.3-45.1 8.4 2 5.2 45.5zM823.7 781.7l-5.2-45.5 8.4 2 5.2 45.9zM831.3 784.2l-5.2-45.9 8.4 2.1 5.2 46.2zM838.9 786.7l-5.2-46.2 8.3 2 5.3 46.6zM846.5 789.2l-5.2-46.6 8.3 2.1 5.3 47zM1059 691.5l-5.3-15.8 8.4 1.5 5.2 15.9zM1075.1 694.3l5.3 35.4-8.4-2-5.2-35.2zM854.1 791.8l-5.3-47.1 8.4 2.1 5.3 47.4zM1066.6 693.4l-5.3-15.9 8.4 1.5 5.2 16zM861.7 794.3l-5.3-47.4 8.4 2.1 5.2 47.7zM869.2 796.8l-5.2-47.7 8.4 2 5.2 48.1zM876.8 799.3l-5.2-48.1 8.4 2.1 5.2 48.5zM884.4 801.8l-5.2-48.4 8.3 2.1 5.3 48.8zM980.7 691.7l5.3 17.6-8.4-1.6-5.2-17.5zM990.7 745.3l-5.3-36.6 8.4 1.8 5.2 36.8zM892 804.4l-5.2-48.8 8.3 2.1 5.3 49.1zM988.3 693.5l5.3 17.7-8.4-1.6-5.2-17.6zM899.6 806.9l-5.3-49.2 8.4 2.1 5.3 49.5zM907.2 809.4l-5.3-49.5 8.4 2.1 5.2 49.9z"/><path fill="#ee0" d="M740.3 754.6l-5.2-39.9 8.4 2.1 5.2 40.2zM747.9 757.2l-5.2-40.3 8.3 2.2 5.3 40.5zM755.5 759.7l-5.2-40.5 8.3 2.2 5.3 40.8zM763.1 762.3l-5.3-40.8 8.4 2.2 5.2 41zM770.7 764.8l-5.3-41 8.4 2.3 5.2 41.2zM1173 809.8l5.2 45.6-8.4-2.9-5.2-45.3zM778.2 767.4l-5.2-41.2 8.4 2.2 5.2 41.5zM1164.3 807.9l-1.8-19 8.4 2.6 1.8 19.1zM785.8 770l-5.2-41.5 8.4 2.2 5.2 41.8zM1162.2 789.7l-3.1-30.3 8.4 2.4 3.1 30.4zM793.4 772.6l-5.2-41.7 8.4 2.2 5.2 41.9zM1162 718.9l5.2 43.7-8.4-2.5-5.2-43.4zM801 775.1l-5.2-41.9 8.3 2.2 5.3 42.2zM1153.4 717.5l-5.3-30.8 8.4 2 5.3 31zM808.6 777.7l-5.3-42.2 8.4 2.3 5.3 42.4zM1151 676.5l5.3 12.9-8.3-1.8-5.3-12.9zM816.2 780.3l-5.3-42.4 8.4 2.2 5.2 42.7zM823.7 782.9l-5.2-42.7 8.4 2.3 5.2 42.8zM831.3 785.4l-5.2-42.8 8.4 2.2 5.2 43.1zM838.9 788l-5.2-43.1 8.4 2.3 5.2 43.3zM846.5 790.6l-5.2-43.3 8.3 2.2 5.3 43.6zM1066.6 703.5l-5.2-14.5 8.3 1.8 5.2 14.6zM854.1 793.2l-5.3-43.6 8.4 2.3 5.3 43.7zM861.7 795.7l-5.3-43.7 8.4 2.2 5.2 44zM869.2 798.3l-5.2-44 8.4 2.3 5.2 44.2zM876.8 800.9l-5.2-44.2 8.4 2.2 5.2 44.5zM884.4 803.5l-5.2-44.5 8.4 2.3 5.2 44.7zM892 806.1l-5.2-44.7 8.3 2.2 5.3 44.9zM988.3 705.3l5.2 16.1-8.3-1.9-5.2-16zM899.6 808.6l-5.2-44.9 8.3 2.3 5.3 45.1zM907.2 811.2l-5.3-45.1 8.4 2.2 5.2 45.4z"/><path fill="#00e" d="M740.3 754.6l-5.2-39.9 8.4 2.3 5.2 40.1zM747.9 757.2l-5.2-40.1 8.4 2.3 5.2 40.3zM755.5 759.8l-5.2-40.3 8.3 2.4 5.3 40.4zM763.1 762.4l-5.3-40.4 8.4 2.3 5.2 40.6zM770.7 765l-5.3-40.6 8.4 2.3 5.2 40.8zM778.2 767.6l-5.2-40.8 8.4 2.3 5.2 41zM785.8 770.2l-5.2-40.9 8.4 2.3 5.2 41.1zM1162.2 789.7l-3.1-29.4 8.4 2.5 3.1 29.4zM793.4 772.8l-5.2-41.1 8.4 2.3 5.2 41.3zM1162 721.3l5.2 42.2-8.4-2.4-5.2-42.1zM801 775.4l-5.2-41.3 8.3 2.3 5.3 41.5zM1153.4 719.8l-5.2-29.9 8.3 2.1 5.3 30zM808.6 778l-5.2-41.5 8.3 2.4 5.3 41.6zM1151 680.2l5.3 12.5-8.3-1.9-5.3-12.5zM816.2 780.6l-5.3-41.6 8.4 2.3 5.2 41.8zM823.7 783.2l-5.2-41.8 8.4 2.3 5.2 42zM831.3 785.8l-5.2-42 8.4 2.3 5.2 42.2zM838.9 788.4l-5.2-42.2 8.4 2.3 5.2 42.4zM846.5 791l-5.2-42.4 8.3 2.4 5.3 42.5zM854.1 793.6l-5.2-42.5 8.3 2.3 5.3 42.7zM861.7 796.2l-5.3-42.7 8.4 2.3 5.2 42.9zM869.2 798.8l-5.2-42.9 8.4 2.3 5.2 43.1zM876.8 801.4l-5.2-43.1 8.4 2.3 5.2 43.3zM884.4 804l-5.2-43.3 8.4 2.3 5.2 43.5zM892 806.6l-5.2-43.5 8.4 2.4 5.2 43.6zM899.6 809.2l-5.2-43.6 8.3 2.3 5.3 43.8zM907.2 811.8l-5.3-43.8 8.4 2.3 5.2 44z"/><path fill="#00f" d="M1091.6 789.1l-5.6 46.9-8.4-3 5.7-46.7zM1079.8 873.6l5.7-38.5 8.4 3-5.7 38.6zM1083.7 782.5l8.4 2.8-.7 4.5-8.4-2.7zM1099.2 791.8l-5.6 47-8.4-2.9 5.6-46.9zM1087.4 876.6l5.7-38.6 8.3 3-5.6 38.8zM1091.3 785.2l8.3 2.8-.7 4.5-8.3-2.7zM1103.6 882.1l-5.7 24.1-8.3-3.3 5.7-24zM1106.8 794.5l-5.6 47.2-8.4-3 5.6-47zM1095 879.6l5.6-38.7 8.4 2.9-5.6 39zM1098.8 787.9l8.4 2.7-.7 4.6-8.3-2.8zM1114.4 797.2l-5.7 47.4-8.3-3 5.6-47.2zM1102.6 882.7l5.6-39 8.4 3-5.7 39.1zM1106.4 790.5l8.4 2.8-.7 4.6-8.4-2.8zM1122 799.8l-5.7 47.7-8.4-3 5.7-47.4zM1114 793.2l8.4 2.8-.7 4.6-8.4-2.8zM996.2 843.7l5.7-47 8.4 2.7-5.7 47.2zM1012.5 848.7l-5.7 39.6-8.4-3.1 5.7-39.4zM1121.3 796.6l5.2-44.4 8.4 2.6-5.2 44.6zM1003.8 846.5l5.7-47.2 8.3 2.8-5.6 47.4zM1140.3 714.5l-5.6 41.1-8.4-2.6 5.6-41zM1020.1 851.6l-5.7 39.7-8.4-3.1 5.7-39.6zM1131.7 712.8l5.6-27 8.4 2.4-5.7 27.1zM1151 680.5l-5.6 8.6-8.3-2.6 5.7-8.6zM1008.2 915.8l5.7-25.4 8.4 3.2-5.7 25.5zM1011.4 849.4l5.6-47.4 8.4 2.8-5.6 47.5zM1027.7 854.5l-5.7 39.8-8.4-3.1 5.7-39.7zM1019 852.2l5.6-47.5 8.4 2.7-5.6 47.8zM1035.2 857.3l-5.6 40.1-8.4-3.2 5.7-39.8zM1026.6 855.1l5.6-47.8 8.4 2.8-5.6 48zM928.5 813.5l-5.3 43.7-8.3-2.9 5.2-43.5zM917.1 896.7l5.6-40.3 8.4 2.9-5.7 40.5zM1053.5 765.4l-5.6 48.1-8.4-2.7 5.7-48zM936 816.2l-5.2 43.9-8.4-3 5.3-43.6zM1044.9 763.5l5.6-40 8.4 2.4-5.6 40.2zM924.7 899.7l5.6-40.5 8.4 3-5.7 40.6zM1064.3 701l-5.6 25.7-8.4-2.5 5.6-25.6zM940.9 905.1l-5.7 26.8-8.4-3.3 5.7-26.7zM943.6 818.9l-5.2 44-8.4-2.9 5.2-43.9zM932.2 902.7l5.7-40.6 8.4 2.9-5.7 40.8zM951.2 821.6l-5.2 44.2-8.4-3 5.2-44zM939.8 905.7l5.7-40.8 8.4 3-5.7 40.9zM958.8 824.2l-5.2 44.4-8.4-2.9 5.2-44.2zM958.2 821l5.6-47.6 8.4 2.6-5.7 47.8zM977.5 737.5l-5.6 39.2-8.4-2.5 5.7-39.2zM968.9 735.8l5.7-24.2 8.3 2.3-5.6 24.4z"/><path fill="#0d0" d="M1173 811.7l5.2 50.2-8.4-3.1-5.2-49.8zM1164.3 809.8l-1.8-20.9 8.4 2.6 1.8 21z"/><path fill="#e00" d="M1173 815.5l5.2 59.5-8.4-3.4-5.2-58.9zM1164.3 813.5l-1.8-24.6 8.4 2.6 1.8 24.8zM1080.8 886.4l-5.1-57.6 8.3 2.9 5.2 58.1zM1081.5 803l2.3 29.4-8.4-2.8-2.3-29.2zM1080.4 803.8l-2.7-34.4 8.4 2.3 2.7 34.7zM1002.7 850.7l5.2 57.3-8.4-3.5-5.2-56.7zM994 848.5l-2.7-34 8.4 2.6 2.7 34.4zM998.6 817.9l-2.2-29.5 8.3 2.3 2.3 29.8zM918.1 922.6l-5.2-55.9 8.4 3 5.2 56.3zM917.9 831.2l3.1 39.2-8.4-2.9-3.1-38.9zM916.8 832l-1.8-24.5 8.4 2.3 1.8 24.8z"/><path fill="#1f1" d="M1091.9 925.1l5.7-5.9 8.2 4.1-5.8 5.9zM1099.4 928.7l5.8-5.9 8.1 4.1-5.7 5.9zM980.6 692.2l-5.6 5.9-8.1-2.4 5.6-5.9zM988.2 693.9l-5.6 6-8.1-2.4 5.6-5.9z"/><path fill="#0e0" d="M1111.3 896.7l-5.8 27.2-8.3-3.7 5.7-27zM1118.8 900l-5.7 27.4-8.4-3.7 5.8-27.2zM1151 664.9l-5.6 9.6-8.3-2.3 5.6-9.5zM1015.8 932.9l5.7-28.5 8.4 3.5-5.7 28.7zM948.5 919l-5.7 30.3-8.4-3.7 5.7-30z"/><path fill="#00f" d="M1111.2 885.1l-5.7 24.2-8.3-3.3 5.7-24.1zM1015.8 918.9l5.7-25.4 8.4 3.2-5.7 25.5zM929.1 939.3l5.7-8.5 8.2 3.6-5.7 8.5zM948.5 908.1l-5.7 26.9-8.4-3.3 5.7-26.8z"/><path fill="#22f" d="M1091.9 910.4l5.7-5.4 8.1 3.8-5.7 5.4z"/><path fill="#e00" d="M1089.6 889.1l5.1 43.1-8.4-3.8-5.1-42.7z"/><path fill="#ff2" d="M1099.5 917.1l5.7-5.5 8.1 3.8-5.7 5.6z"/><path fill="#f00" d="M1129.6 803.8l-5.7 63.7-8.4-3.3 5.7-63.2zM1113.7 794l5.2-58.4 8.4 2.2-5.2 58.9zM1121.6 795.9l8.4 2.7-.7 6-8.4-2.8zM1132.6 684.3l-5.5 54.3-8.4-2.2 5.6-53.8zM1042.9 876.2l-5.7 53.5-8.4-3.8 5.7-53zM1034.2 873.6l5.6-63.6 8.4 2.8-5.7 64.2zM1045.9 747.2l-5.6 63.6-8.4-2.7 5.6-63.1zM1037.3 745.8l5.6-52.6 8.4 1.7-5.6 53.1zM947.4 936.5l5.7-54.2 8.4 3.3-5.7 54.7zM966.4 826.9l-5.2 59.4-8.4-3.3 5.2-58.9zM950.6 817.1l5.6-62.6 8.3 2.1-5.5 63.2zM969.9 705.6l-5.6 51.8-8.3-2.1 5.5-51.3zM961.3 704.7l5.6-31.5 8.4 1.4-5.6 31.8z"/><path fill="#0e0" d="M1110.1 897.3l5.7-44.1 8.4 3.2-5.7 44.3zM1129.6 803l-5.7 54.1-8.4-3.1 5.7-53.7zM1023.4 936.5l5.7-28.7 8.4 3.4-5.7 28.9zM1042.8 866.5l-5.6 45.4-8.4-3.4 5.7-45.1zM1034.2 864.1l5.6-54.1 8.4 2.8-5.7 54.4zM956.1 922.3l-5.7 30.5-8.4-3.7 5.7-30.2zM947.4 919.6l5.7-46.1 8.4 3.1-5.7 46.4zM966.4 826.9l-5.2 50.4-8.4-3.1 5.2-50.1z"/><path fill="#ff0" d="M1118.8 891l-5.7 25-8.4-3.4 5.8-24.9zM1110.1 888.4l5.7-40.2 8.4 3-5.7 40.5zM1129.6 802.6l-5.7 49.3-8.4-3 5.7-49zM1121.3 796.6l5.2-45.7 8.4 2.5-5.2 46zM1140.3 711.8l-5.6 42.4-8.4-2.6 5.6-42.1zM1131.7 710.2l5.6-27.7 8.4 2.2-5.7 27.9zM1151 676.8l-5.6 8.9-8.3-2.6 5.7-8.8zM1023.4 925.4l5.7-26.3 8.4 3.3-5.8 26.4zM1042.8 861.7l-5.6 41.4-8.4-3.2 5.6-41.2zM1034.2 859.4l5.6-49.4 8.4 2.8-5.7 49.6zM1053.5 763.9l-5.6 49.6-8.4-2.7 5.7-49.5zM1044.9 762.1l5.6-41.3 8.4 2.4-5.6 41.4zM936.7 946.1l5.7-8.8 8.2 3.7-5.7 8.8zM956.1 913.8l-5.7 27.8-8.4-3.4 5.7-27.7zM947.4 911.3l5.7-42.2 8.4 3-5.7 42.4zM966.4 826.9l-5.2 46-8.4-3 5.2-45.8zM958.4 820.2l8.4 2.7-.7 4.7-8.4-2.7zM958.2 820.9l5.6-49.1 8.4 2.5-5.7 49.3zM977.5 734.6l-5.6 40.5-8.4-2.5 5.7-40.3z"/><path fill="#00f" d="M1118.8 888.1l-5.7 24.3-8.3-3.3 5.6-24.2zM1110.1 885.7l5.7-39.1 8.4 3-5.7 39.2zM1129.6 802.5l-5.7 47.8-8.4-2.9 5.7-47.7zM1121.6 795.9l8.4 2.7-.7 4.7-8.4-2.8zM1023.4 922l5.7-25.5 8.3 3.2-5.7 25.6zM1042.8 860.2l-5.6 40.2-8.4-3.1 5.6-40.1zM1034.2 858l5.6-48 8.4 2.8-5.7 48.1zM936.7 942.5l5.7-8.5 8.2 3.5-5.7 8.6zM956.1 911.1l-5.7 27-8.4-3.3 5.7-26.9zM947.4 908.7l5.7-40.9 8.3 2.9-5.6 41.1zM966.4 826.9l-5.2 44.6-8.4-3 5.2-44.4z"/><path fill="#22f" d="M1099.5 913.6l5.7-5.4 8.1 3.7-5.7 5.4z"/><path fill="#00e" d="M1099.3 914l-5.1-15.4 8.3 2.8 5.2 15.5zM1097.1 869.9l5.2 32.3-8.4-3-5.2-32.2zM1088.4 867.8l-5.2-43.4 8.4 2.7 5.2 43.5zM1089.1 805.6l2.2 22.2-8.3-2.7-2.3-22.1zM1012.5 915.2l-5.1-31 8.3 2.8 5.2 31.2zM1010.2 844.8l5.2 43-8.3-2.9-5.2-42.7zM1001.6 842.9l-2.7-25.7 8.4 2.5 2.7 25.9zM936.6 942.9l-5.1-12.5 8.3 2.8 5.1 12.5zM934.4 904.1l5.1 29.9-8.3-2.9-5.2-29.9zM925.7 902l-5.2-42.1 8.4 2.7 5.2 42.2zM925.5 833.9l3.1 29.5-8.4-2.7-3.1-29.4z"/><path fill="#ee0" d="M1099.3 917.6l-5.1-16 8.3 2.9 5.2 16.1zM1097.1 872l5.2 33.3-8.4-3-5.2-33.2zM1088.4 869.8l-5.2-44.7 8.4 2.7 5.2 44.9zM1089.1 805.6l2.2 22.9-8.3-2.7-2.3-22.8zM1010.2 845.7l5.2 44.3-8.3-2.9-5.2-44.1zM1001.6 843.7l-2.7-26.5 8.4 2.5 2.7 26.7zM936.6 946.5l-5.1-12.9 8.3 2.9 5.1 12.9zM934.4 906.4l5.1 30.9-8.3-3-5.2-30.8zM925.7 904.2l-5.2-43.4 8.4 2.7 5.2 43.6zM925.5 833.9l3.1 30.4-8.4-2.7-3.1-30.3z"/><path fill="#0d0" d="M1099.3 929.1l-5.1-17.5 8.4 3.1 5.1 17.7zM1097.1 878.8l5.2 36.7-8.4-3.3-5.2-36.5zM1088.4 876.5l-5.2-49.2 8.4 2.7 5.2 49.6zM1089.1 805.6l2.2 25.2-8.3-2.8-2.3-25zM1080.4 803.8l-2.7-29.2 8.4 2.4 2.7 29.4zM1077.5 775.4l-5.3-48.5 8.4 2.1 5.3 48.8zM1001.6 846.3l-2.7-29.1 8.4 2.5 2.7 29.4zM998.6 817.9l-2.2-25 8.3 2.4 2.3 25.2zM999.2 746.5l5.3 49.6-8.4-2.4-5.2-49.2zM925.7 911.5l-5.2-47.7 8.4 2.8 5.2 48zM925.5 833.9l3.1 33.4-8.4-2.8-3.1-33.2zM916.8 832l-1.8-20.8 8.4 2.4 1.8 21zM914.8 811.9l-5.3-49.8 8.4 2.1 5.2 50.2z"/><path fill="#e00" d="M1097.1 892.5l5.2 43.6-8.4-3.8-5.1-43.1zM1088.4 889.9l-5.2-58.1 8.4 2.8 5.2 58.7zM1089.1 805.6l2.2 29.8-8.3-2.9-2.3-29.5zM925.5 833.9l3.1 39.6-8.4-3-3.1-39.2z"/><path fill="#0e0" d="M1121.3 796.6l5.2-50.1 8.4 2.5-5.2 50.4zM1140.3 703.2l-5.6 46.5-8.4-2.4 5.6-46.2zM1131.7 701.9l5.6-30.3 8.3 2-5.6 30.4zM1053.5 759l-5.6 54.5-8.4-2.7 5.6-54.2zM958.2 820.5l5.6-53.7 8.4 2.4-5.7 54z"/><path fill="#f00" d="M1121.3 796.6l5.2-58.8 8.4 2.2-5.2 59.4zM1140.2 686l-5.5 54.7-8.4-2.2 5.5-54.2zM1131.7 685l5.5-35.4 8.4 1.4-5.6 35.8zM958.4 819l8.4 2.7-.7 5.9-8.4-2.7z"/><path fill="#f11" d="M1143.4 639.7l-5.6 10.9-8.3-1.7 5.6-10.8zM1150.9 640.9l-5.5 11-8.3-1.7 5.6-10.9zM1048.2 661.2l5.5-8.7 8.3 1.7-5.6 8.8zM1055.8 662.6l5.5-8.9 8.3 1.7-5.6 8.9zM980.6 668.8l-5.6 6.8-8.2-1.9 5.6-6.6zM988.2 670.1l-5.6 6.8-8.2-1.9 5.6-6.7z"/><path fill="#0f0" d="M1024.4 936.1l-5.7 7.6-8.2-4 5.7-7.7zM1032 939.6l-5.7 7.7-8.3-4 5.8-7.7zM1055.8 684.8l5.6-7.7 8.2 2.3-5.6 7.7zM929.1 954.1l5.7-9.4 8.3 4-5.8 9.4zM936.6 957.7l5.8-9.5 8.3 4-5.8 9.5z"/><path fill="#11f" d="M1024.4 921.6l-5.7 7-8.2-3.6 5.7-7z"/><path fill="#ee0" d="M1080.4 803.8l-2.7-26.6 8.4 2.5 2.7 26.7zM1077.5 778l-5.3-44.1 8.4 2.2 5.3 44.3zM1075.2 704.7l5.2 32.2-8.4-2.2-5.2-32.1zM998.6 817.9l-2.2-22.8 8.4 2.5 2.2 22.9zM999.3 753.4l5.2 44.9-8.4-2.4-5.2-44.8zM990.7 751.9l-5.3-33.2 8.4 2 5.2 33.4zM916.8 832l-1.8-19 8.4 2.5 1.8 19.1zM914.8 813.8l-5.3-45.4 8.4 2.3 5.2 45.6z"/><path fill="#00e" d="M1080.4 803.8l-2.7-25.8 8.4 2.5 2.7 25.9zM1077.5 778.8l-5.2-42.8 8.3 2.3 5.3 43zM1075.2 707.9l5.2 31.2-8.4-2.3-5.2-31zM1066.6 706.6l-5.2-14 8.3 1.9 5.2 14.1zM998.6 817.9l-2.2-22.1 8.4 2.5 2.2 22.2zM999.3 755.5l5.2 43.5-8.4-2.4-5.2-43.4zM990.7 754l-5.3-32.3 8.4 2.2 5.2 32.3zM988.3 709l5.2 15.6-8.3-2-5.2-15.5zM916.8 832l-1.8-18.4 8.4 2.5 1.8 18.5zM914.8 814.4l-5.3-44 8.4 2.3 5.2 44.1z"/><path fill="#e00" d="M1004.9 945l-5.1-41.2 8.4 3.4 5.1 41.6zM926.8 925.3l5.2 40-8.4-3.9-5.1-39.6z"/><path fill="#ff1" d="M1032 928.3l-5.8 7.2-8.2-3.8 5.8-7.2z"/><path fill="#11f" d="M1032 924.8l-5.8 7-8.1-3.7 5.7-7zM1055.8 699.2l5.6-7 8.2 2.7-5.6 7.1z"/><path fill="#00e" d="M1021.2 917.3l5.1 14.1-8.3-2.9-5.2-14z"/><path fill="#ee0" d="M1021.2 920.6l5.1 14.5-8.3-3-5.1-14.4zM1012.5 918.3l-5.1-32 8.3 2.9 5.2 32.2z"/><path fill="#0d0" d="M1021.2 931l5.1 15.9-8.3-3.3-5.1-15.8zM1012.5 928.4l-5.1-35.1 8.3 3.1 5.2 35.4zM1010.3 848.3l5.1 48.8-8.3-3.1-5.2-48.4zM936.6 958l-5.1-14.1 8.3 3.2 5.1 14.2zM934.4 913.8l5.1 34.1-8.3-3.3-5.2-33.9z"/><path fill="#e00" d="M1012.5 948.9l-5.1-41.6 8.4 3.4 5.1 42zM1010.3 853.7l5.1 57.8-8.3-3.5-5.2-57.2zM1001.6 851.5l-2.7-34.3 8.4 2.6 2.7 34.6zM934.4 928.9l5.1 40.3-8.3-3.8-5.2-40zM925.7 926.1l-5.2-56.3 8.4 2.9 5.2 56.9z"/><path fill="#ff0" d="M1064.3 697.5l-5.6 26.5-8.4-2.4 5.6-26.4z"/><path fill="#0e0" d="M1044.9 757.4l5.6-45.2 8.4 2.1-5.6 45.5z"/><path fill="#f00" d="M1053.5 749.3l-5.6 64.2-8.4-2.7 5.6-63.7z"/><path fill="#ff1" d="M1055.8 695.8l5.6-7.2 8.2 2.6-5.6 7.3z"/><path fill="#0e0" d="M1064.3 686.2l-5.6 28.9-8.4-2.1 5.6-28.8z"/><path fill="#f00" d="M1044.9 747.9l5.6-53.1 8.3 1.7-5.5 53.6zM1064.2 663.4l-5.5 33.9-8.4-1.7 5.5-33.7z"/><path fill="#22f" d="M988.2 709.5l-5.6 5.4-8.1-2.8 5.6-5.4z"/><path fill="#ff2" d="M988.2 705.8l-5.6 5.6-8.1-2.7 5.6-5.6z"/><path fill="#ff0" d="M968.9 733l5.7-24.9 8.3 2.3-5.6 25z"/><path fill="#0e0" d="M977.5 725.5l-5.6 44.4-8.4-2.4 5.6-44.1zM968.9 724.2l5.6-27.2 8.4 1.9-5.6 27.4z"/><path fill="#f00" d="M958.2 819.8l5.5-63.2 8.4 2.1-5.6 63.7zM977.5 707.2l-5.6 52.3-8.4-2.2 5.6-51.8zM968.9 706.3l5.6-31.8 8.3 1.4-5.5 32.1z"/></g><path d="M968.6 627.5l-5.5 7.2-.9 4M887.2 641.9l-5.4 5.7-1.4 5.9M805.8 656.3l-.9 .7M803.1 658.5l-2.7 2.1-5.4 21.4-5.9 38.9M762.7 870.5l-5.5-10.6-5.4-26.3-5.5-37.4-10.9-81.2M803.8 679.5l-1.2 4.9-5.8 38M764.4 861l-.2-.9M763.8 858.1l-.6-2.9M762.8 853.2l-.6-2.9M761.8 848.3l-2.4-11.8-5.5-37.6-10.9-81.5M810.9 683.8l-.7 2.9-5.7 37.2M768 844.4l-1-4.9-5.5-37.8-11-81.8M817.8 689l-5.5 36.4M774.9 844.4l-5.8-39.9-11-82.2M824.4 697.5l-.1 1M824 700.5l-.3 2M823.3 704.6l-3.5 23.3M782.3 846.4l-5.6-39.1-11-82.6M831.4 703.6l-.1 1M831 706.6l-.3 2M830.4 710.5l-2.9 18.9M789.9 849.3l-.2-1M789.4 846.3l-5.2-36.2-10.9-82.9M838 712.9l-.2 1M837.4 716.9l-2.1 13.9M796.9 848.2l-.2-1M796.4 845.2l-4.6-32.4-10.9-83.2M845 719.3l-.2 1M844.4 723.3l-1.4 9M804.5 851.2l-.2-1M803.9 847.1l-15.4-115.1M851.9 725.8l-1.2 8M811.5 850.2l-.2-1M810.9 846.2l-.3-2M810.4 842.3l-14.4-107.9M859.4 729.2l-.2 1M858.9 732.2l-.6 4M818.4 848.1l-.2-1M817.9 845.1l-14.3-108.2M867 731.6l-.2 1M866.4 735.7l-.5 3M826 851l-.3-2M825.4 847l-14.2-107.7M873.9 738.1l-.1 1M833 849.9l-.3-2M832.4 845.9l-13.6-104.2M840.4 851.8l-.1-1M840 848.8l-13.6-104.7M847.9 853.7l-.2-1.1M847.4 850.6l-13.4-104M855 853l-13.5-104M862.4 854.9l-.3-2M861.9 850.9l-12.8-99.5M870 857.7l-13.3-103.9M1082.4 729.6l-.3 2.1M919 756l-.4 3M878 863.6l-.1-1M877.4 859.6l-13.1-103.4M1130.4 820.4l-.2-2M1129.9 816.4l-1-8.1M1090 732.1l-.3 2M1089.4 736.2l-3.8 32.3M1049 836.8l-.2-1M1048.4 832.8l-1.1-9M1007.9 747.8l-4.4 37.2M966.9 848.7l-.2-1M966.5 845.7l-1.4-10.1M926.4 759.5l-4.6 38.9M884.9 861.4l-.1-1M884.5 858.4l-12.6-99.8M1137.9 822.3l-.3-2.1M1137.4 818.2l-5.3-42.5M1097.4 735.6l-.2 2M1096.9 739.6l-7.9 67.9M1056.4 838.6l-.1-1M1055.9 834.6l-5.6-44.2M1015.4 751.3l-8.4 71.7M974.5 851.5l-.3-2M973.9 847.5l-.2-2M973.4 843.5l-4.8-38.4M933.9 763l-8.6 73.9M892.5 864.3l-.3-2M891.9 860.2l-12.4-99.1M1145.4 824.5l-9.9-79.5M1105 738.2l-12 102.2M1063.5 837.5l-.3-2M1063 833.5l-9.1-72.9M1023 753.8l-11.9 101.2M981.9 853.4l-.1-1M981.4 849.3l-9.3-74.9M941.5 765.4l-12.3 104.2M899.9 865.8l-.2-1M899.5 862.8l-12.4-99.3M1153 827.4l-8.8-71.9-4.9-36.9M1112.4 741.7l-.2 2M1111.9 745.7l-11 95.6-4.2 30M1071.4 843.4l-.1-1.1M1070.9 839.3l-13.3-105.7M1031 753.3l-.2 1M1030.4 757.3l-10.9 94.6-4.4 32M989.5 856.2l-.3-2M989 852.2l-13.2-104.5M948.9 768.9l-10.7 93.6-5 36.9M907.5 868.6l-.3-2M906.9 864.6l-12.3-98.7M1161 833.2l-.2-1M1160.5 829.2l-8.7-71.1-5.5-41.2-3.2-16.9M1119.9 745.2l-11.4 99-5.4 38.2-2.6 11.1M1078.9 845.2l-.1-1M1078.4 841.2l-13.5-107.2-3.6-20.1M1038.4 756.7l-.1 1M1038 759.7l-10.9 95.1-5.4 39.1-2.8 12.9M996.9 857.6l-.1-1M996.5 854.6l-12.9-103.5-4.1-23.2M956.5 771.4l-.4 3M955.9 776.4l-10.2 89-5.3 40-3.4 16M914.9 870.5l-.1-1M914.4 866.5l-12.2-98.2M1168.4 835.1l-.1-1M1167.9 831.1l-8.5-70.5-5.5-41.3-5.5-29.1-1.8-3.9M1127.5 747.6l-11.4 99.4-5.4 38.4-5.4 23.4M1086.5 848.1l-.3-2.1M1086 844l-.3-2M1085.4 839.9l-12.9-103.5-5.4-30.3-2.4-5.7M1046 759.2l-.2 1M1045.4 763.2l-10.7 94.4-5.4 39.3-5.4 24.9-.7 .7M1004.5 860.5l-.2-1M1004 856.5l-12.8-103-5.5-31.4-2.9-7.9M963.9 774.8l-10.6 93.4-5.4 40.2-5.3 26.1-1.2 1.8M922.5 873.3l-.3-2M922 869.3l-12.2-98.6M1177.9 853.1l-10.9-89.9-5.5-41.5-5.5-29.2-5.4-11.8-5.4 7.8-5.4 26.3-5.4 40.3-10.7 94.8-5.4 38.5-5.4 23.6-5.4 4.7-5.5-14.8-5.4-31.6-16.5-131.5-5.4-30.5-5.5-13.2-5.4 6.2-5.4 24.9-5.4 39.5-10.7 94.8-5.4 39.5-5.4 24.9-5.4 6.2-5.5-13.2-5.4-30.5-16.5-131.5-5.4-31.6-5.5-14.8-5.4 4.7-5.4 23.6-5.4 38.5-10.7 94.8-5.4 40.3-5.4 26.3-5.4 7.8-5.4-11.8-5.5-29.2-5.5-41.5-10.9-89.9M968.6 627.5l-5.5 7.2-.9 4M887.2 641.9l-5.4 5.7-1.4 5.9M805.8 656.3l-.9 .7M803.1 658.5l-2.7 2.1-5.4 21.4-5.9 38.9M762.7 870.5l-5.5-10.6-5.4-26.3-5.5-37.4-10.9-81.2M803.8 679.2l-1.2 4.9-5.8 38.2M764.4 861.3l-.2-.9M763.4 856.4l-.2-1M762.8 853.5l-3.4-16.7-5.5-37.8-10.9-81.8M810.9 683.3l-.7 3-5.7 37.4M768.4 846.8l-1.4-6.9-5.5-38-11-82.4M817.8 688.4l-5.5 36.7M775.4 846.9l-6.3-42.2-11-82.8M824.9 693.6l-.2 1M824.4 696.6l-4.6 30.8M782.9 850l-6.2-42.5-11-83.3M832.5 695.8l-.2 1M831.9 699.8l-.2 1M831.4 702.8l-3.9 26M789.9 850.1l-5.7-39.7-10.9-83.9M838.4 709.1l-.1 1M838 712.1l-2.9 19.2M797.3 852.1l-.1-1M796.9 849.1l-5.1-35.9-10.9-84.4M845.4 715.4l-.1 1M845 718.5l-2.1 14.1M804.9 855.2l-.2-1M804.5 852.2l-.3-2.1M803.9 848.1l-15.4-116.9M852.9 718.2l-.1 1M852.5 721.2l-.3 2M851.9 725.2l-1.3 8.9M812.5 858.2l-.2-1M811.9 854.2l-.1-1M811.5 851.1l-15.5-117.6M859.9 724.5l-.1 1M859.5 727.5l-1.3 9M819.5 857.2l-.1-1M818.9 853.1l-.2-2M818.4 849.1l-14.8-113.2M866.9 730.9l-1.1 8M826.4 855.3l-.1-1M826 852.4l-.3-2M825.4 848.4l-14.2-110.2M874.4 734.2l-.9 6.1M834 858.3l-.1-1M833.4 854.3l-.2-2M832.9 850.3l-14.1-109.7M881.9 736.6l-.2 2M881.4 740.7l-.2 1M840.9 856.3l-.1-1M840.5 853.3l-14.1-110.4M889.4 740l-.5 3M848.5 859.3l-.3-2.1M847.9 855.2l-13.9-109.9M896.9 742.6l-.2 2M856 861.6l-.3-2M855.4 857.6l-13.9-110M904.4 746l-.2 1M863.4 863.5l-.2-2M862.9 859.5l-13.8-109.5M912 748.3l-.2 1M870.5 862.5l-.3-2M869.9 858.5l-13.2-106.2M1082.9 724.5l-.1 1.1M1082.4 728.6l-.4 3M1000.9 740.1l-.4 3M919.4 751.7l-1.1 8.1M877.9 864.4l-.2-2M877.4 860.4l-13.1-105.7M1131.4 829.1l-.1-1M1130.9 825l-2.2-17.2M1090.5 726.9l-.1 1M1090 731l-4.5 37.9M1048.9 837.4l-1.7-12.9M1008.5 742.5l-5 42.5M967.5 854.4l-.2-1M966.9 850.4l-1.8-14.1M927 754.1l-.3 2M926.4 758.2l-4.6 40.1M885.4 866.3l-.2-1M885 863.3l-13.1-106.3M1139 832.2l-.1-1M1138.5 828.2l-6.4-52.7M1097.9 730.3l-.1 1.1M1097.4 734.4l-8.4 73.3M1057 844.4l-.2-1M1056.5 840.3l-6.1-50M1015.9 746.1l-8.9 77.5M974.9 856.4l-.1-1.1M974.4 852.3l-5.9-48.1M934.4 757.6l-.3 2M933.9 761.6l-8.6 75.4M892.9 868.8l-.3-2M892.4 864.8l-12.9-105.4M1146.5 834.2l-.2-1M1146 830.2l-10.3-85M1105.5 733l-.3 2M1105 737l-12 104.8M1064.4 846.3l-.1-1M1063.9 842.3l-9.8-81.3M1023.5 748.5l-12.4 107.9M982.4 858.7l-.2-2M981.9 854.7l-9.8-81M942 760l-12.6 109.8M900.5 871.7l-13.5-110M1153.9 836.1l-.1-1M1153.4 832.1l-9.2-77.4-4.7-36.2M1112.9 736.4l-.1 1M1112.4 740.4l-11.5 102.3-3.9 28.2M1071.9 848.2l-.1-1M1071.4 844.2l-13.8-112.6M1030.9 751.9l-11.4 101.4-4.4 33.1M989.9 860.6l-.3-2M989.4 856.6l-13.3-108.8M949.4 763.4l-.2 2M948.9 767.4l-10.7 96.4-4.8 36M908.5 877.6l-.2-1M907.9 873.6l-13.3-109.5M1161.4 838l-.1-1M1160.9 834l-.1-1M1160.4 830l-8.6-72.8-5.5-42.4-2.9-16M1120.4 739.8l-.1 1M1119.9 743.8l-11.4 101.9-5.4 39.3-2 9M1078.9 846.5l-14-114.6-3.3-19.1M1038.4 755.3l-11.3 100.9-5.4 40.3-2.7 12.7M998 867.6l-.1-1M997.5 863.6l-13.9-114.5-3.8-22.2M956.9 766.8l-11.2 99.9-5.3 41.2-3 14.9M915.9 879.5l-.1-1M915.4 875.5l-.1-1M914.9 871.5l-12.7-105.1M1168.5 836.9l-.3-2M1168 832.8l-8.6-73.1-5.5-42.6-5.5-30.1M1128 742.2l-.3 2M1127.5 746.3l-11.4 102.3-5.4 39.5-5 22.2M1087 853.4l-.1-1M1086.5 849.4l-14-115.2-5.3-30.2M1066.3 701l-.4-1M1046 757.7l-11.3 101.4-5.4 40.5-5 23.6M1004.9 865.5l-.1-1M1004.4 861.4l-13.2-109.9-5.5-32.5-1.7-4.8M964.5 769.2l-11.2 100.3-5.3 41.5-5.2 25.9M923 878.4l-.3-2M922.5 874.3l-12.7-105.5M1177.9 855.1l-10.9-92.9-5.5-42.8-5.5-30.2-5.4-12.2-5.4 8.1-5.4 27-5.4 41.7-10.7 97.7-5.4 39.7-5.4 24.3-5.4 4.8-5.5-15.3-5.4-32.6-16.5-135.9-5.5-31.4-5.4-13.7-5.4 6.4-5.4 25.7-5.4 40.7-10.7 97.8-5.4 40.7-5.4 25.7-5.4 6.4-5.4-13.7-5.5-31.4-16.5-135.9-5.4-32.6-5.5-15.3-5.4 4.8-5.4 24.3-5.4 39.7-10.7 97.7-5.4 41.7-5.4 27-5.4 8.1-5.4-12.2-5.5-30.2-5.5-42.8-10.9-92.9M968.6 627.5l-5.5 7.2-.9 4M887.2 641.9l-5.4 5.7-1.4 5.9M805.8 656.3l-.9 .7M803.1 658.5l-2.7 2.1-5.4 21.4-5.9 38.9M762.7 870.5l-5.5-10.6-5.4-26.3-5.5-37.4-10.9-81.2M970.7 635l-.9 4.1M889.4 647.9l-1.7 7.1M808 660.9l-5.4 21.9-5.8 38.7M765.3 865.7l-.5-.9-5.4-27-5.5-38.3-10.9-83.2M811.4 679.2l-1.2 5-5.8 39.3M771.4 863.9l-.2-1.1M770.8 860.8l-3.8-19.3-5.5-39-11-84.4M818.9 681l-1.1 4.8-5.8 39.8M777.5 859.9l-.2-.9M776.9 857l-.6-3M775.9 852l-1.4-6.9-5.4-39.5-11-85.6M825.8 685.6l-6.2 42.1M784.5 860.6l-.2-1M783.9 857.6l-1.8-9.1-5.4-39.9-11-86.6M833.4 687.3l-6.1 41.5M791.5 861.1l-.2-1M790.9 858l-1.2-6.1-5.5-40.4-10.9-87.5M841 689.1l-6.1 41.9M798.4 861.3l-1.1-6-5.5-40.8-10.9-88.5M848.3 691.9l-5.7 40.3M805.8 863.7l-6.4-46.2-10.9-89.4M855.9 693.8l-5.7 40.6M813.4 867.1l-6.4-46.7-11-90.2M863.5 695.6l-5.7 41M821 870.3l-.2-1M820.4 867.3l-5.8-44-11-91M870.8 698.5l-.1 1M870.4 701.5l-.2 2.1M869.9 705.6l-4.4 32.2M828.4 872.7l-.2-1M827.8 869.7l-5.6-43.4-11-91.9M878.4 700.4l-.1 1M877.9 704.4l-.1 1M877.5 707.4l-4.5 32.7M836 876l-.2-1M835.4 873l-5.6-43.8-11-92.7M885.5 706.3l-.2 1M884.9 710.3l-.2 2M884.4 714.3l-3.8 28M843.4 878.3l-6.1-46.2-10.9-93.4M892.9 709.3l-.1 1M892.4 713.3l-.2 1M892 716.3l-3.7 27.2M850.9 881.5l-6-46.5-10.9-94.2M900 715.3l-.3 2.1M899.4 719.4l-.2 2M898.9 723.5l-3 22.3M858.3 883.8l-5.8-45.8-11-95.1M907.4 718.1l-.1 1M906.9 722.1l-.2 2M906.4 726.1l-2.8 21M865.9 887.1l-5.8-46.2-11-95.8M1079 688.5l-.2 1M1078.5 692.5l-.3 2M996.9 704.8l-.1 1M996.4 708.8l-.1 1M914.9 721.1l-.1 1.1M914.4 725.2l-.2 1M914 728.2l-2.8 21.1M873.3 889.4l-.1-1.1M872.9 886.3l-5.2-42.5-11-96.6M1086.4 691.5l-.1 1M1085.9 695.5l-.2 2.1M1085.4 699.6l-3.9 31.4M1003.9 711.9l-.1 1M1003.4 715.9l-3.5 27.4M922.5 723.2l-.1 1M922 727.2l-.3 2.1M921.4 731.3l-3.4 27.3M880.9 892.6l-5.6-45.9-11-97.3M1132.4 842.6l-3.8-33.2M1093.4 698.4l-.1 1M1092.9 702.4l-.2 2M1092.4 706.4l-3.5 28.9-3.4 32.9M1051.4 862.1l-4.5-37.8M1011.4 714.7l-.1 .9M1010.9 718.6l-.3 2M1010.4 722.6l-2.9 23-4 38.3M969.9 878.5l-4.9-40M930 726l-.2 1M929.5 729.9l-.3 2M929 733.9l-2.9 21.9-4.4 42.2M888.5 895.8l-.3-2M888 891.8l-5.2-42.2-10.9-98M1140 845.8l-8-70.8M1101 700.5l-.3 2M1100.5 704.5l-.4 3M1099.9 709.5l-3.4 28.1-7.4 71.5M1058.9 865.3l-8.5-75.1M1019 716.7l-.3 2M1018.5 720.7l-3.4 27.2-7.8 75.8M977.4 881.7l-8.8-77.4M936.9 733l-.1 1M936.4 737l-.2 2.1M935.9 741.1l-2.2 17-8.1 78.6M895.9 898.1l-.2-2M895.4 894l-.2-2M894.9 890l-15.4-136.3M1147.6 848.9l-11.6-104.5M1108.4 703.6l-.1 1M1108 707.6l-4 32.4-10.7 104.5M1066.4 867.5l-12.3-109.9M1026.4 719.8l-.1 1M1025.9 723.9l-.2 2M1025.4 727.9l-2.7 22.3-11.1 107.5M984.9 883.9l-.2-.9M984.4 880l-12-107.4M944.4 736.1l-.2 1M944 739.2l-2.7 21.2-11.7 112.6M903.5 901.3l-.2-2M902.9 896.3l-.2-2M902.4 892.3l-15.4-136.4M1155.2 852.1l-15.3-136.4M1115.9 706.5l-.1 1M1115.4 710.5l-.2 1.9M1115 714.4l-3.4 27.9-10.7 105.2-3.4 26.9M1074.4 873.7l-.1-1M1074 870.7l-15.7-139.7M1033.9 722.6l-.1 1M1033.4 726.6l-.2 2M1032.9 730.6l-2.6 21.9-10.8 105.2-3.6 29.9M992.4 887.2l-15.8-141.7M951.9 738.8l-.1 1M951.4 742.8l-.3 2M950.9 746.8l-2 15.9-10.7 105.2-4.2 34.8M911 903.6l-5.4-45.3-11-100.2M1162.8 855.3l-11-101-4.7-39.5M1123.4 709.6l-.1 1M1122.9 713.6l-.2 2M1122.4 717.6l-3.2 27-10.7 106-4.1 33M1081.4 872.9l-15.8-141.7M1065.4 729.2l-.1-1M1040.9 729.7l-.2 2M1040.4 733.7l-2.6 21.1-10.7 106-4.3 35M999.9 889.4l-.2-2M999.4 885.3l-15.6-140.6M959.5 740.9l-.2 1M959 744.9l-.3 2M958.5 748.9l-2 16-10.8 106-4.4 37.1M918.4 905.8l-.2-2M917.9 901.7l-4.7-40.5-11-100.9M1170.3 858.4l-10.9-101.7-4.7-39.9M1148 675.8l-1.1-2.9M1131 711.6l-.1 1.1M1130.5 715.7l-.4 3M1129.9 720.7l-3.1 26.3-10.7 106.6-3.9 31.3M1105.9 920.4l-.6 3M1089.4 879l-16.2-145.8M1073 731.2l-.1-.9M1066 690l-1.3-3.8M1061.9 678.7l-.3-1M1049 727.8l-.2 1M1048.5 731.8l-.3 2.1M1048 735.9l-2.6 21.2-10.7 106.7-4 33.3M1024.3 934.2l-.4 2-.6 .9M1007.9 895.6l-.1-1M1007.5 892.6l-15.8-142.7M991.5 747.8l-.1-1M984.1 704.1l-1.3-3.9M980.6 693.3l-.4-1M966.9 744l-.1 1M966.4 748.1l-.2 2M965.9 752.1l-1.8 15.1-10.8 106.7-4.1 35.3M942.6 948.8l-1.1 1.8M926.4 912l-.2-1M925.9 908l-.2-2M925.4 904.1l-4.6-40-11-101.7M1177.9 861.6l-11-102.4-5.4-47.3-5.5-33.3-5.4-13.5-5.5 8.8-5.3 29.7-5.4 45.7-10.7 107.4-5.4 43.6-5.4 26.6-5.4 5.3-5.5-17-5.4-36-16.5-149.8-5.5-34.7-5.4-15.2-5.4 7-5.4 28.2-5.4 44.7-10.7 107.4-5.4 44.7-5.4 28.2-5.4 7-5.4-15.2-5.5-34.7-16.5-149.8-5.4-36-5.5-17-5.4 5.3-5.4 26.6-5.4 43.6-10.7 107.4-5.4 45.7-5.3 29.7-5.5 8.8-5.4-13.5-5.5-33.3-5.4-47.3-11-102.4M968.6 627.5l-5.5 7.2-.9 4M887.2 641.9l-5.4 5.7-1.4 5.9M805.8 656.3l-.9 .7M803.1 658.5l-2.7 2.1-5.4 21.4-5.9 38.9M762.7 870.5l-5.5-10.6-5.4-26.3-5.5-37.4-10.9-81.2M976.6 623.2l-.5-1-5.4 7.7-2.1 9.8M895.2 637.5l-.4-1-5.4 6.2-2.7 12.1M813.8 652l-.4-1-5.4 4.6-5.4 23-6.1 43.5M770.3 881.2l-5.5-11.5-5.4-28.4-5.5-40.4-11-87.6M984.1 622.2l-.4-.9-5.4 7.8-2.5 12.2M902.7 636.6l-.3-1-5.5 6.3-3 14.1M821 650.1l-5.4 4.7-5.4 23.7-6.1 44.8M778.5 886.6l-.6 .9-5.5-11.9-5.4-29.4-5.5-41.7-11-90.5M991.7 622l-.4-1-5.4 8.1-2.6 13M910.3 636.4l-.4-1-5.4 6.4-3.1 14.9M828.9 650.9l-.3-1-5.5 4.8-5.3 24.3-6.2 46.7M785.5 893l-5.5-12.2-5.4-30.1-5.5-42.8-11-92.8M999.3 622.2l-.4-1-5.4 8.2-2.7 13.8M917.9 636.5l-.4-.9-5.4 6.5-3.1 15.1M836.5 651l-.4-.9-5.4 4.9-5.4 24.7-6.1 47.6M793 898.2l-5.4-12.4-5.5-30.9-5.4-43.7-11-94.8M1006.9 622.6l-.4-1-5.5 8.3-2.6 14.1M925.5 636.9l-.4-.9-5.4 6.6-3.2 15.8M844.1 651.5l-.4-1-5.4 4.9-5.4 25.2-6.1 48.4M801.2 902.2l-.6 1-5.4-12.7-5.5-31.5-5.5-44.6-10.9-96.6M1014.4 623l-.4-.9-5.4 8.5-2.8 14.8M933 637.5l-.3-1-5.4 6.8-3.2 16M851.6 652l-.3-1-5.4 5.1-5.4 25.6-6.1 49M808.8 907.1l-.6 .9-5.4-13-5.5-32-5.5-45.3-10.9-98.4M1022 623.7l-.4-.9-5.4 8.6-2.8 15M940.6 638.2l-.3-1-5.5 6.8-3.2 16.7M859.2 652.7l-.3-1-5.4 5.1-5.4 26-6.1 49.7M816.3 911.8l-.5 .8-5.4-13.1-5.5-32.5-5.5-46.2-11-99.9M1029.6 624.5l-.4-1-5.4 8.7-2.8 15.3M948.2 638.9l-.4-1-5.4 7-3.2 16.9M866.8 653.5l-.3-1-5.4 5.1-5.4 26.4-6.1 50.3M823.9 916.4l-.5 .8-5.5-13.3-5.4-33.1-5.5-46.8-11-101.5M1037.2 625.3l-.4-.9-5.4 8.8-2.7 14.9M955.8 639.7l-.4-.9-5.4 7-3.3 17.2M874.4 654.3l-.3-1-5.5 5.2-5.4 26.8-6 50.9M831 921.7l-5.5-13.5-5.4-33.5-5.5-47.6-9.3-88M805 737.1l-1.4-12.9M1044.8 626.2l-.4-.9-5.4 8.9-2.7 15.1M963.3 640.6l-.3-.9-5.4 7.1-3.2 16.8M881.9 655.2l-.3-1-5.4 5.3-5.4 27.1-6 51.5M839.1 925.3l-.5 .9-5.5-13.8-5.4-34-5.5-48.1-9-86.3M812.9 742l-1.7-16.1M1052.3 627.2l-.3-1-5.5 9-2.7 15.8M970.9 641.6l-.3-1-5.4 7.2-3.4 18M889.5 656.1l-.3-.9-5.4 5.3-5.4 27.5-6 52M846.7 929.7l-.5 .9-5.5-14-5.5-34.4-5.4-48.8-8.7-83.7M820.9 747.7l-.1-1M820.5 743.6l-1.7-16M1059.9 628.1l-.4-.9-5.4 9.1-2.8 16M978.5 642.6l-.3-1-5.4 7.3-3.2 17.2M897.1 657.2l-.3-1-5.4 5.4-5.4 27.8-6.1 52.6M854.3 934l-.6 .9-5.4-14.1-5.5-34.9-5.5-49.4-8.1-80.8M828.9 753.7l-.2-2M828 744.6l-1.6-15.2M1067.5 629.2l-.4-1-5.4 9.3-2.8 16.1M986.1 643.6l-.3-1-5.5 7.4-3.2 17.8M904.7 658.2l-.3-1-5.4 5.5-5.4 28.1-6.1 53.1M861.9 938.3l-.6 .9-5.4-14.3-5.5-35.3-5.5-50-7.8-78.2M836.9 759.3l-.2-2M836.5 755.3l-.1-1M835.4 745.3l-1.5-14.1M1075.1 630.3l-.4-1-5.4 9.3-2.7 15.9M993.7 644.7l-.4-1-5.4 7.4-3.2 18.1M912.3 659.3l-.3-1-5.5 5.5-5.3 28.4-6.1 53.6M869.5 942.6l-.6 .9-5.4-14.5-5.5-35.7-5.5-50.7-7.9-79.7M844.4 760.9l-.1-1M843.1 747.9l-1.6-14.9M1082.6 631.4l-.3-1-5.4 9.4-4.4 26.1M1039.2 918.7l-.5-1.9M1001.2 645.8l-.3-1-5.4 7.5-4.8 27.4M958.5 932.5l-.6 .8-1.3-3.9M919.8 660.4l-.2-1-5.5 5.6-5.4 28.7-6 54.2M877 946.8l-.5 1-5.4-14.7-5.5-36.2-5.5-51.2-8-81.6M851.9 762.1l-.1-1.1M851.5 758l-.1-1M850.7 749.9l-1.6-15.1M1090.2 632.5l-.3-1-5.4 9.5-5.4 32.4-2.1 19M1047.6 922.2l-.8 .8-5.4-18.6-1-7.1M1008.8 646.9l-.3-1-5.4 7.6-5.4 30.7-2.3 21M966.1 936.7l-.7 .8-5.4-16.7-1.4-10M927.4 661.5l-.3-1-5.4 5.6-5.4 29.1-6 54.6M884.6 951l-.5 1-5.5-14.9-5.4-36.5-5.5-51.8-8-82.1M858.3 752.6l-1.6-16M1097.8 633.7l-.4-1-5.4 9.6-5.4 32.7-5.4 51.5M1055.2 926.3l-.8 .8-5.4-18.8-5.7-41.9M1016.4 648.1l-.3-1-5.4 7.6-5.4 31.1-5.8 53.3M973.6 940.9l-.6 .8-5.4-16.9-6-43.5M935 662.7l-.3-1-5.4 5.6-5.4 29.4-6.3 58.1M892.2 955.3l-.5 .9-5.5-15.1-5.4-36.9-5.5-52.4-7.6-79.5M867.5 770.3l-.1-1M866 755.4l-1.7-17M1132.4 853.9l-4-40.3M1105.4 634.8l-.4-1-5.4 9.7-5.4 33.1-5.3 51-3.6 40.2M1062.8 930.5l-.8 .8-5.5-19-5.4-40.3-4.5-44.5M1024 649.3l-.3-1-5.5 7.7-5.3 31.3-5.4 49.9-3.9 43.9M981.2 945l-.6 .9-5.4-17.1-5.5-38.9-5-48.8M942.6 663.9l-.3-1-5.4 5.7-5.4 29.6-5.4 48.6-4.5 50.4M899.7 959.5l-.4 .8-5.5-15.2-5.5-37.3-5.4-52.9-7.6-80.4M873.6 757.4l-1.7-17.1M1140 857.4l-8-82.9M1113 636l-.4-1-5.4 9.8-5.4 33.4-5.3 51.5-7.3 81.9M1070.3 934.6l-.7 .9-5.5-19.3-5.4-40.7-8.3-85.2M1031.6 650.4l-.4-1-5.4 7.8-5.4 31.7-5.3 50.3-7.5 84.8M988.8 949.2l-.6 .9-5.4-17.3-5.5-39.3-8.7-89.3M950.2 665.1l-.3-1.1-5.4 5.8-5.4 29.9-5.4 49.1-8.2 92.1M907.3 963.6l-.5 .9-5.4-15.4-5.5-37.7-5.5-53.5-7.6-81.8M882.5 773.1l-.1-1M881.1 759.1l-1.7-17M1147.6 860.8l-11-117M1120.5 637.2l-.3-1-5.4 9.9-5.4 33.7-5.4 52-9.3 107M1094.5 840.8l-.1 1M1077.9 938.8l-.7 .8-5.5-19.4-5.5-41.2-11.5-121.3M1039.1 651.6l-.3-1-5.4 7.9-5.4 32-5.3 50.8-9.6 109.2M1012.9 852.5l-.1 1M996.4 953.3l-.6 .9-5.5-17.5-5.4-39.7-5.5-54.9-6.4-69.6M957.7 666.2l-.2-.9-5.5 5.8-5.3 30.2-5.4 49.6-10.1 115.1M914.9 967.7l-.5 .9-5.4-15.5-5.5-38.1-5.5-54-7.2-78.7M890.5 779.3l-.1-1M888.8 762.2l-1.8-18.2M1155.2 864.3l-11.4-122.2M1143.5 739.1l-.1-1M1128.5 639.4l-.7-2-5.4 10-5.4 34-5.4 52.5-9.4 108.3M1085.5 942.9l-.8 .8-5.4-19.6-5.5-41.6-11.6-123.5M1046.7 652.8l-.3-.9-5.4 7.9-5.4 32.3-5.4 51.3-9.5 110.3M1004 957.4l-.6 .9-5.5-17.7-5.4-40-12.2-128.7M980 768.9l-.1-1M965.3 667.5l-.3-1-5.4 5.8-5.4 30.5-5.3 50.1-9.8 112.3M939 867.3l-.2 2M922.5 971.9l-.5 .9-5.4-15.7-5.5-38.5-5.5-54.6-6.9-76.1M898.5 785.9l-.2-2M896.3 763.9l-1.7-18M1162.8 867.8l-11-119.4M1151.5 745.4l-.1-1M1135.7 639.6l-.3-1-5.5 10.1-5.3 34.4-5.4 52.9-9.1 105.6M1110 843.6l-.2 2M1093 947.1l-.7 .7-5.4-19.8-5.5-42-11.3-121.6M1069.9 762.4l-.2-2M1054.3 654.1l-.3-1-5.4 8-5.4 32.6-5.4 51.8-9.5 111.5M1011.6 961.5l-.6 .9-5.5-17.8-5.5-40.5-5.4-56-6.4-70.7M988 775.4l-.2-2M972.9 668.7l-.3-1-5.4 5.9-5.4 30.8-5.3 50.6-9.9 114.4M946.4 871.4l0 1M930.1 976l-.5 .9-5.4-15.9-5.5-38.8-5.5-55.1-7.1-77.9M906 787.2l-.2-2M903.9 766l-1.7-18.2M1170.4 871.2l-11.1-121.5M1159 746.7l-.1-1M1149.7 665l-1.3-9.1-2.1-6M1143.3 640.9l-.4-1-5.4 10.1-5.4 34.7-5.3 53.5-9.2 107.5M1117.5 847.8l-.1 1M1107.6 932.9l-2.3 13M1100.6 951.2l-.7 .7-5.4-20-5.5-42.4-11.4-123.8M1077.4 763.7l-.1-1M1067.8 678.3l-.8-5.9-2.7-9M1061.9 655.3l-.3-1-5.4 8.1-5.4 32.9-5.4 52.3-9.6 112.7M1025.9 946.5l-1.9 12-.6 .9M1019.2 965.6l-.6 .9-5.5-18-5.5-40.9-5.5-56.5-6.4-72.4M995.5 776.7l-.2-2M986.2 693l-.5-4-3-11M980.5 670l-.3-1-5.4 5.9-5.4 31.1-5.4 51-9.8 115.6M944 961.9l-1.4 9-1.5 2.7M937.7 980.1l-.5 .9-5.5-16-5.4-39.3-5.5-55.6-7.1-79.3M913.5 788.8l-.1-1M911.6 768.7l-1.8-19M1177.9 874.6l-11-121.5-5.5-56.2-5.4-39.6-5.5-16.2-5.4 10.2-5.4 35-5.3 54-10.7 126.8-5.4 51.5-5.4 31.4-5.4 6-5.4-20.2-5.5-42.8-16.5-178-5.5-41.2-5.4-18.2-5.5 8.1-5.3 33.2-5.4 52.7-10.7 127-5.4 52.7-5.3 33.2-5.5 8.1-5.4-18.2-5.5-41.2-16.5-178-5.5-42.8-5.4-20.2-5.4 6-5.4 31.4-5.4 51.5-10.7 126.8-5.3 54-5.4 35-5.4 10.2-5.5-16.2-5.4-39.6-5.5-56.2-11-121.5" fill="none" stroke="#100" stroke-width="0.95" stroke-linejoin="round" stroke-linecap="round"/><path d="M1177 852.7l.9 .4M1135.7 752.7l31.3 10.5M1146.5 689.7l9.5 2.8M963.1 634.7l5.7 1.7M1143.3 688l1.9 .5M1083.2 738.3l51.2 16.8M1093.3 838.4l30.4 11.5M1105.3 908.8l7.6 3.2M1100.1 901.1l1.9 .8M1048.4 812l42.7 15.5M1059.3 732.2l20.8 6.6M1067.3 694.5l1.9 .6M1056.5 725.7l1.9 .5M1005.9 798.4l41.7 14.7M1016 891.7l20.9 8.3M1024.2 930.4l1.9 .7M1013.3 886.7l1.9 .7M971 787.4l33.2 11.3M981.9 720.9l11.4 3.4M800.4 660.6l3.8 1.2M980.5 713.7l1.9 .5M789.6 717l39.8 13M918.6 759l7.5 2.5M929.9 762.7l5.7 1.9M939.4 765.8l3.8 1.3M947 768.3l5.7 1.8M956.5 771.4l3.8 1.2M966 774.4l5.6 1.9M928.7 859l32.2 12.1M939.7 933.4l10.4 4.3M757.2 859.9l7.6 3.1M937.4 932.9l1.9 .8M746.3 796.2l182 66.8M735.4 715l182 58.1M1176 854.3l1.9 .8M1136.6 752.2l30.4 10M1154.1 688.7l1.9 .5M963.1 634.7l5.7 1.4M1143.3 684.5l1.9 .6M1083.2 737.2l51.2 16.6M1093.3 839.8l30.4 11.7M1110 914.3l2.9 1.2M1100.1 904.2l1.9 .8M1048.4 812.5l42.7 15.7M1059.3 730.2l20.8 6.3M1063.5 689.8l5.7 1.6M1056.5 722.9l1.9 .6M1005.9 798.4l41.7 14.7M1017 894.6l19.9 8.1M1021.4 932.8l4.7 2M1013.3 888.9l1.9 .8M971 786.8l33.2 11.2M983.8 718.5l9.5 2.7M800.4 660.6l3.8 1M980.5 710.2l1.9 .5M789.6 717l49.3 15.5M918.6 757.8l53 16.9M928.7 860.2l32.2 12.2M948.2 940.3l1.9 .8M757.2 859.9l8.6 3.8M937.4 936.2l1.9 .8M746.3 796.2l182 67.8M735.4 715l182 56.1M1126.7 840.2l51.2 21.4M1136.6 749.4l30.3 9.8M1152.2 677.7l3.8 .9M963.1 634.7l3.8-.1 5.7 .7M976.4 635.9l1.9 .3M1143.2 673.4l1.9 .5M1083.2 733.6l51.2 15.7M1093.3 844.5l30.4 12.2M1105.3 923.4l7.6 3.5M1099.2 913.9l2.8 1.3M1048.4 814.5l42.7 16M1061.6 677.7l7.6 1.8M1056.5 714.2l1.9 .5M1005.9 798.4l41.7 14.7M1035 910.7l1.9 .8M1020.4 944l5.7 2.7M963.1 874.7l8.5 3.6M973.5 879.1l5.7 2.4M983 883.1l5.7 2.5M991.5 886.8l6.6 2.8M1001 890.8l4.7 2M1010.5 894.8l4.7 2M972 785.1l32.2 10.6M991.4 710.5l1.9 .5M800.4 660.6l3.8-.1 5.7 .7M978.6 698.3l3.8 1M789.6 717l7.6 1.5 20.9 5.7 68.2 19.8M918.6 753.6l53 15.9M928.7 864.1l32.2 12.8M940.7 947.9l9.5 4.4M757.2 859.9l3.8 2.7 7.6 4.3M771.5 868.4l2.8 1.5M936.5 946.3l2.8 1.3M746.3 796.2l15.2 6.3 34.1 13.5 132.8 51M735.4 715l3.8 .5 11.3 2.6 34.2 9 132.7 37.5M1125.8 850.8l52.1 23.8M1140.4 745l20.9 6.3M1165 752.5l1.9 .6M1144.6 655.2l11.4 2.1M963.1 634.7l1.9-3 1.9-.9 7.6-1.4 13.3-.3 18.9 1.3 24.7 2.8 30.3 4.3 37.9 6 45.5 7.8M1081.3 725.5l53.1 14.8M1122.7 866.7l1 .4M1105.3 945.9l7.6 4.1M1040.4 903.9l61.7 31.9M1047.5 818.1l43.6 16.9M1078.2 714.6l1.9 .4M887.2 641.9l1.9-3.2 1.9-1.1 7.6-1.6 13.2-.6 19 1 24.6 2.4 30.4 3.8 37.9 5.7 45.5 7.3M992 683.1l66.4 13.8M1005.9 798.4l41.7 14.7M1034.1 927.9l2.8 1.4M956.9 932.8l69.2 37.8M961.2 885.9l54 25.3M972 781l32.2 10.2M981.9 688.3l11.3 2.1M800.4 660.6l1.9-3 1.9-1 7.6-1.5 13.2-.3 19 1.1 24.6 2.6 30.4 4.2 37.9 5.9 45.5 7.6M789.6 717l1.9-1.1 1.9 0 7.6 .7 13.3 2.4 18.9 4.2 55 13.7 83.4 22.2M960 885.5l.9 .4M939.8 969.3l10.4 5.6M757.2 859.9l1.9 4.2 1.9 2.1 7.6 6.6 13.3 9.3 19 11.8 24.6 14.3 30.4 16.7 83.4 44M746.3 796.2l3.8 2.7 7.6 3.8 32.2 14.2 55 22.7 83.5 33.5M735.4 715l1.9-1.5 1.9-.2 7.5 .3 13.3 1.8 19 3.5 54.9 12.3 83.5 20.4" fill="none" stroke="#100" stroke-width="0.95" stroke-linejoin="round" stroke-linecap="round"/><path d="M1132.4 778.6 1133.4 778.9 1134.3 779.2 1135.3 779.6 1136.2 779.9 1137.2 780.2 1138.1 780.6 1139.1 780.9 1140 781.2 1141 781.6 1141.9 781.9 1142.9 782.2 1143.8 782.6 1144.8 782.9 1145.7 783.2 1146.6 783.6 1147.6 783.9 1148.5 784.2 1149.5 784.6 1150.4 784.9 1151.4 785.2 1152.3 785.6 1153.3 785.9 1154.2 786.2 1155.2 786.6 1156.1 786.9 1157.1 787.2 1158 787.6 1159 787.9 1159.9 788.2 1160.9 788.6 1161.8 788.9 1162.8 789.2 1163.7 789.6 1164.7 789.9 1165.6 790.2 1166.6 790.6 1167.5 790.9 1168.5 791.2 1169.4 791.6 1170.3 791.9M1086.8 784 1087.7 784.3 1088.7 784.6 1089.6 785 1090.6 785.3 1091.5 785.6 1092.5 786 1093.4 786.3 1094.4 786.6 1095.3 787 1096.3 787.3 1097.2 787.6 1098.2 788 1099.1 788.3 1100.1 788.6 1101 789 1102 789.3 1102.9 789.6 1103.9 790 1104.8 790.3 1105.7 790.6 1106.7 791 1107.6 791.3 1108.6 791.6 1109.5 792 1110.5 792.3 1111.4 792.6 1112.4 793 1113.3 793.3 1114.3 793.6 1115.2 794 1116.2 794.3 1117.1 794.6 1118.1 795 1119 795.3 1120 795.6 1120.9 796 1121.9 796.3 1122.8 796.6 1123.8 797 1124.7 797.3 1125.7 797.6 1126.6 798 1127.6 798.3 1128.5 798.6 1129.4 799M1050.6 792.7 1051.6 793 1052.5 793.4 1053.5 793.7 1054.4 794 1055.4 794.4 1056.3 794.7 1057.3 795 1058.2 795.4 1059.2 795.7 1060.1 796 1061.1 796.4 1062 796.7 1063 797 1063.9 797.4 1064.8 797.7 1065.8 798 1066.7 798.4 1067.7 798.7 1068.6 799 1069.6 799.4 1070.5 799.7 1071.5 800 1072.4 800.4 1073.4 800.7 1074.3 801 1075.3 801.4 1076.2 801.7 1077.2 802 1078.1 802.4 1079.1 802.7 1080 803 1081 803.4 1081.9 803.7 1082.9 804 1083.8 804.4 1084.8 804.7 1085.7 805 1086.7 805.4 1087.6 805.7 1088.5 806M1005.9 798.4 1006.9 798.7 1007.8 799.1 1008.8 799.4 1009.7 799.8 1010.7 800.1 1011.6 800.4 1012.6 800.8 1013.5 801.1 1014.5 801.4 1015.4 801.8 1016.4 802.1 1017.3 802.4 1018.3 802.8 1019.2 803.1 1020.2 803.4 1021.1 803.8 1022.1 804.1 1023 804.4 1023.9 804.8 1024.9 805.1 1025.8 805.4 1026.8 805.8 1027.7 806.1 1028.7 806.4 1029.6 806.8 1030.6 807.1 1031.5 807.4 1032.5 807.8 1033.4 808.1 1034.4 808.4 1035.3 808.8 1036.3 809.1 1037.2 809.4 1038.2 809.8 1039.1 810.1 1040.1 810.4 1041 810.8 1042 811.1 1042.9 811.4 1043.9 811.8 1044.8 812.1 1045.8 812.4 1046.7 812.8 1047.6 813.1M968.8 806.8 969.8 807.1 970.7 807.5 971.7 807.8 972.6 808.2 973.6 808.5 974.5 808.8 975.5 809.2 976.4 809.5 977.4 809.8 978.3 810.2 979.3 810.5 980.2 810.8 981.2 811.2 982.1 811.5 983 811.8 984 812.2 984.9 812.5 985.9 812.8 986.8 813.2 987.8 813.5 988.7 813.8 989.7 814.2 990.6 814.5 991.6 814.8 992.5 815.2 993.5 815.5 994.4 815.8 995.4 816.2 996.3 816.5 997.3 816.8 998.2 817.2 999.2 817.5 1000.1 817.8 1001.1 818.2 1002 818.5 1003 818.8 1003.9 819.2 1004.9 819.5 1005.8 819.8 1006.8 820.2M923.2 812.2 924.1 812.5 925.1 812.9 926 813.2 927 813.5 927.9 813.9 928.9 814.2 929.8 814.5 930.8 814.9 931.7 815.2 932.7 815.5 933.6 815.9 934.6 816.2 935.5 816.6 936.5 816.9 937.4 817.2 938.4 817.6 939.3 817.9 940.3 818.2 941.2 818.6 942.1 818.9 943.1 819.2 944 819.6 945 819.9 945.9 820.2 946.9 820.6 947.8 820.9 948.8 821.2 949.7 821.6 950.7 821.9 951.6 822.2 952.6 822.6 953.5 822.9 954.5 823.2 955.4 823.6 956.4 823.9 957.3 824.2 958.3 824.6 959.2 824.9 960.2 825.2 961.1 825.6 962.1 825.9 963 826.2 964 826.6 964.9 826.9 965.9 827.2M742.9 770.2 743.9 770.6 744.8 770.9 745.8 771.2 746.7 771.6 747.7 771.9 748.6 772.2 749.6 772.6 750.5 772.9 751.5 773.2 752.4 773.6 753.4 773.9 754.3 774.2 755.3 774.6 756.2 774.9 757.1 775.2 758.1 775.6 759 775.9 760 776.2 760.9 776.6 761.9 776.9 762.8 777.2 763.8 777.6 764.7 777.9 765.7 778.2 766.6 778.6 767.6 778.9 768.5 779.2 769.5 779.6 770.4 779.9 771.4 780.2 772.3 780.6 773.3 780.9 774.2 781.2 775.2 781.6 776.1 781.9 777.1 782.2 778 782.6 779 782.9 779.9 783.2 780.8 783.6 781.8 783.9 782.7 784.2 783.7 784.6 784.6 784.9 785.6 785.2 786.5 785.6 787.5 785.9 788.4 786.2 789.4 786.6 790.3 786.9 791.3 787.2 792.2 787.6 793.2 787.9 794.1 788.2 795.1 788.6 796 788.9 797 789.2 797.9 789.6 798.9 789.9 799.8 790.2 800.8 790.6 801.7 790.9 802.7 791.2 803.6 791.6 804.5 791.9 805.5 792.2 806.4 792.6 807.4 792.9 808.3 793.2 809.3 793.6 810.2 793.9 811.2 794.2 812.1 794.6 813.1 794.9 814 795.2 815 795.6 815.9 795.9 816.9 796.2 817.8 796.6 818.8 796.9 819.7 797.3 820.7 797.6 821.6 797.9 822.6 798.3 823.5 798.6 824.5 798.9 825.4 799.3 826.4 799.6 827.3 799.9 828.3 800.3 829.2 800.6 830.1 800.9 831.1 801.3 832 801.6 833 801.9 833.9 802.3 834.9 802.6 835.8 802.9 836.8 803.3 837.7 803.6 838.7 803.9 839.6 804.3 840.6 804.6 841.5 804.9 842.5 805.3 843.4 805.6 844.4 805.9 845.3 806.3 846.3 806.6 847.2 806.9 848.2 807.3 849.1 807.6 850.1 807.9 851 808.3 852 808.6 852.9 808.9 853.8 809.3 854.8 809.6 855.7 809.9 856.7 810.3 857.6 810.6 858.6 810.9 859.5 811.3 860.5 811.6 861.4 811.9 862.4 812.3 863.3 812.6 864.3 812.9 865.2 813.3 866.2 813.6 867.1 813.9 868.1 814.3 869 814.6 870 814.9 870.9 815.3 871.9 815.6 872.8 815.9 873.8 816.3 874.7 816.6 875.7 816.9 876.6 817.3 877.5 817.6 878.5 817.9 879.4 818.3 880.4 818.6 881.3 818.9 882.3 819.3 883.2 819.6 884.2 819.9 885.1 820.3 886.1 820.6 887 820.9 888 821.3 888.9 821.6 889.9 821.9 890.8 822.3 891.8 822.6 892.7 822.9 893.7 823.3 894.6 823.6 895.6 823.9 896.5 824.3 897.5 824.6 898.4 824.9 899.4 825.3 900.3 825.6 901.3 826 902.2 826.3 903.1 826.6 904.1 827 905 827.3 906 827.6 906.9 828 907.9 828.3 908.8 828.6 909.8 829 910.7 829.3 911.7 829.6 912.6 830 913.6 830.3 914.5 830.6 915.5 831 916.4 831.3 917.4 831.6 918.3 832 919.3 832.3 920.2 832.6 921.2 833 922.1 833.3 923.1 833.6 924 834 925 834.3" fill="none" stroke="#ff0" stroke-width="2.2" stroke-dasharray="2 2.5"/><g stroke="#000" stroke-width="2.3" stroke-linecap="round"><line x1="735.6" y1="925.7" x2="735.2" y2="617.4"/><line x1="735.6" y1="925.7" x2="917.6" y2="989.8"/><line x1="735.2" y1="617.4" x2="995.6" y2="572.4"/><line x1="735.2" y1="617.4" x2="917.3" y2="681.4"/><line x1="995.6" y1="572.4" x2="1177.6" y2="636.4"/><line x1="917.6" y1="989.8" x2="917.3" y2="681.4"/><line x1="917.6" y1="989.8" x2="1178" y2="944.8"/><line x1="917.3" y1="681.4" x2="1177.6" y2="636.4"/><line x1="1178" y1="944.8" x2="1177.6" y2="636.4"/></g><g stroke="#000" stroke-width="2"><line x1="735.6" y1="917" x2="729.1" y2="917"/><line x1="735.6" y1="906.6" x2="729.1" y2="906.6"/><line x1="735.6" y1="896.2" x2="729.1" y2="896.2"/><line x1="735.6" y1="885.8" x2="729.1" y2="885.8"/><line x1="735.6" y1="875.4" x2="723.1" y2="875.4"/><line x1="735.6" y1="865" x2="729.1" y2="865"/><line x1="735.5" y1="854.6" x2="729" y2="854.6"/><line x1="735.5" y1="844.2" x2="729" y2="844.2"/><line x1="735.5" y1="833.8" x2="729" y2="833.8"/><line x1="735.5" y1="823.5" x2="723" y2="823.5"/><line x1="735.5" y1="813.1" x2="729" y2="813.1"/><line x1="735.5" y1="802.7" x2="729" y2="802.7"/><line x1="735.5" y1="792.3" x2="729" y2="792.3"/><line x1="735.5" y1="781.9" x2="729" y2="781.9"/><line x1="735.4" y1="771.5" x2="722.9" y2="771.5"/><line x1="735.4" y1="761.1" x2="728.9" y2="761.1"/><line x1="735.4" y1="750.7" x2="728.9" y2="750.7"/><line x1="735.4" y1="740.3" x2="728.9" y2="740.3"/><line x1="735.4" y1="730" x2="728.9" y2="730"/><line x1="735.4" y1="719.6" x2="722.9" y2="719.6"/><line x1="735.4" y1="709.2" x2="728.9" y2="709.2"/><line x1="735.3" y1="698.8" x2="728.8" y2="698.8"/><line x1="735.3" y1="688.4" x2="728.8" y2="688.4"/><line x1="735.3" y1="678" x2="728.8" y2="678"/><line x1="735.3" y1="667.6" x2="722.8" y2="667.6"/><line x1="735.3" y1="657.2" x2="728.8" y2="657.2"/><line x1="735.3" y1="646.8" x2="728.8" y2="646.8"/><line x1="735.3" y1="636.5" x2="728.8" y2="636.5"/><line x1="735.3" y1="626.1" x2="728.8" y2="626.1"/><line x1="735.6" y1="925.7" x2="735.6" y2="938.2"/><line x1="753.8" y1="932.1" x2="753.8" y2="938.6"/><line x1="772" y1="938.5" x2="772" y2="951"/><line x1="790.2" y1="944.9" x2="790.2" y2="951.4"/><line x1="808.4" y1="951.3" x2="808.5" y2="963.8"/><line x1="826.6" y1="957.7" x2="826.6" y2="964.2"/><line x1="844.8" y1="964.1" x2="844.9" y2="976.6"/><line x1="863" y1="970.5" x2="863.1" y2="977"/><line x1="881.2" y1="976.9" x2="881.3" y2="989.4"/><line x1="899.4" y1="983.3" x2="899.5" y2="989.8"/><line x1="917.6" y1="989.8" x2="917.7" y2="1002.2"/><line x1="930.7" y1="987.5" x2="930.7" y2="994"/><line x1="943.7" y1="985.3" x2="943.7" y2="991.8"/><line x1="956.7" y1="983" x2="956.7" y2="989.5"/><line x1="969.7" y1="980.8" x2="969.7" y2="987.3"/><line x1="982.7" y1="978.5" x2="982.8" y2="991"/><line x1="995.8" y1="976.3" x2="995.8" y2="982.8"/><line x1="1008.8" y1="974" x2="1008.8" y2="980.5"/><line x1="1021.8" y1="971.8" x2="1021.8" y2="978.3"/><line x1="1034.8" y1="969.5" x2="1034.8" y2="976"/><line x1="1047.8" y1="967.3" x2="1047.9" y2="979.8"/><line x1="1060.9" y1="965" x2="1060.9" y2="971.5"/><line x1="1073.9" y1="962.8" x2="1073.9" y2="969.3"/><line x1="1086.9" y1="960.5" x2="1086.9" y2="967"/><line x1="1099.9" y1="958.3" x2="1099.9" y2="964.8"/><line x1="1112.9" y1="956" x2="1112.9" y2="968.5"/><line x1="1125.9" y1="953.8" x2="1126" y2="960.3"/><line x1="1139" y1="951.5" x2="1139" y2="958"/><line x1="1152" y1="949.3" x2="1152" y2="955.8"/><line x1="1165" y1="947" x2="1165" y2="953.5"/><line x1="1178" y1="944.8" x2="1178" y2="957.3"/></g><g font-family="Liberation Serif, serif" font-size="20" fill="#000"><text x="722.1" y="883.7" text-anchor="end">−1</text><text x="722" y="831.7" text-anchor="end">−0.5</text><text x="721.9" y="779.8" text-anchor="end">0</text><text x="721.9" y="727.8" text-anchor="end">0.5</text><text x="721.8" y="675.9" text-anchor="end">1</text><text x="735.7" y="958.4" text-anchor="middle">0</text><text x="772.1" y="971.2" text-anchor="middle">0.02</text><text x="808.5" y="984.1" text-anchor="middle">0.04</text><text x="844.9" y="996.9" text-anchor="middle">0.06</text><text x="881.3" y="1009.7" text-anchor="middle">0.08</text><text x="917.7" y="1022.5" text-anchor="middle">10</text><text x="982.8" y="1011.3" text-anchor="middle">5</text><text x="1047.9" y="1000" text-anchor="middle">0</text><text x="1113" y="988.8" text-anchor="middle">−5</text><text x="1178.1" y="977.5" text-anchor="middle">−10</text></g><g font-family="Liberation Serif, serif" font-size="20" fill="#000"><text x="826.9" y="1028.2" text-anchor="middle" font-style="italic">t</text><text x="1050.2" y="1035.9" text-anchor="middle" font-style="italic">x</text></g><text x="758.5" y="555.2" font-family="Liberation Sans, Arial, sans-serif" font-weight="bold" font-size="38.5">E</text><g stroke="#000" stroke-width="2" stroke-linecap="round"><line x1="1299.8" y1="940.6" x2="1522.3" y2="846.8"/><line x1="1522.3" y1="846.8" x2="1518.2" y2="554.4"/><line x1="1522.3" y1="846.8" x2="1750.3" y2="933.1"/></g><g><path fill="#22f" d="M1515 694.3l4.5-23.5 10.3 2.4-4.5 24.5zM1524.5 697.6l4.5-24.5 10.3 2.4-4.5 25.4zM1534 700.8l4.5-25.4 10.3 2.4-4.6 26.3zM1543.5 704l4.5-26.4 10.2 2.3-4.5 27.4zM1460.3 701l-4.6 24.2-10.3-3.3 4.6-23.3zM1449.8 699.3l4.6-18 10.2 1.8-4.5 18.7zM1469.1 673.5l-4.6 10.5-10.2-2 4.6-10.2zM1469.7 703.2l-4.5 25.1-10.3-3.3 4.6-24.2zM1459.3 701.6l4.6-18.7 10.2 1.7-4.5 19.4zM1478.6 674.7l-4.6 10.8-10.2-1.9 4.6-10.4zM1479.2 705.4l-4.5 26-10.3-3.2 4.6-25.1zM1468.8 703.8l4.5-19.4 10.3 1.7-4.6 20.1zM1488.1 675.8l-4.7 11.1-10.2-1.7 4.7-10.8zM1488.7 707.5l-4.5 27-10.3-3.2 4.5-26.1zM1478.3 706l4.5-20.1 10.3 1.5-4.6 20.9zM1497.5 676.8l-4.6 11.5-10.2-1.7 4.6-11.1zM1498.2 709.5l-4.5 28.1-10.3-3.2 4.5-27.1zM1487.7 708.1l4.6-20.8 10.2 1.4-4.5 21.6zM1507 677.7l-4.6 11.9-10.2-1.6 4.6-11.5zM1497.2 710.1l4.5-21.5 10.3 1.3-4.5 22.4zM1516.4 678.5l-4.5 12.2-10.2-1.4 4.5-11.9zM1506.7 712.1l4.5-22.4 10.2 1.3-4.4 23.2zM1525.9 679.2l-4.6 12.6-10.2-1.3 4.6-12.3zM1375.9 749.4l4.6-23 10.2 2.4-4.5 23.8zM1395.1 711.4l-4.6 18.2-10.2-2.5 4.6-17.4zM1516.2 714l4.4-23.2 10.3 1.1-4.5 24.1zM1535.4 679.7l-4.6 13.1-10.2-1.3 4.5-12.6zM1385.4 752.5l4.5-23.9 10.3 2.3-4.5 24.8zM1707.3 924.5l5-17.5 10.3 8.9-4.9 18.1zM1717.2 869.7l-4.7 38.1-10.3-8.6 4.6-36.6zM1404.6 712.9l-4.6 18.8-10.2-2.3 4.5-18.2zM1525.7 715.9l4.4-24.1 10.3 1-4.5 25zM1394.2 712l4.7-9.8 10.2 1.6-4.7 10zM1716.9 933.8l4.9-18.1 10.4 9.1-5 18.8zM1696.8 856.3l4.4-48.6 10.3 5.1-4.4 50.5zM1544.8 680.1l-4.5 13.5-10.2-1.1 4.5-13.1zM1726.7 876.9l-4.6 39.5-10.4-8.7 4.7-38.1zM1394.9 755.6l4.5-24.8 10.3 2.2-4.5 25.7zM1414.1 714.4l-4.6 19.4-10.2-2.3 4.5-18.7zM1736.3 884.2l-4.6 41.2-10.4-9 4.6-39.6zM1535.1 717.6l4.5-25 10.2 .9-4.4 25.9zM1403.7 713.5l4.7-10.1 10.1 1.5-4.6 10.3zM1706.3 863.2l4.4-50.5 10.3 5.1-4.3 52.5zM1705.9 754.4l-4.3 54.1-10.3-4.9 4.3-52zM1554.3 680.4l-4.6 13.9-10.2-.9 4.5-13.6zM1404.4 758.6l4.5-25.7 10.3 2.1-4.5 26.7zM1715.9 870.3l4.4-52.6 10.3 5.1-4.4 54.7zM1423.5 715.7l-4.5 20.1-10.3-2.2 4.6-19.4zM1685.8 749.5l4.2-46.9 10.3 1-4.2 48.8zM1544.6 719.3l4.4-25.9 10.3 .7-4.4 26.9zM1413.2 714.9l4.6-10.3 10.2 1.3-4.6 10.6zM1715.3 757.2l-4.1 56.3-10.4-5 4.3-54.1zM1563.7 680.5l-4.5 14.5-10.2-.9 4.5-14zM1413.9 761.6l4.5-26.7 10.2 2.1-4.4 27.7zM1725.4 877.4l4.4-54.6 10.3 5.1-4.3 56.9zM1433 716.9l-4.5 20.9-10.3-2.1 4.5-20.2zM1695.3 752.4l4.2-48.8 10.2 .9-4.1 50.7zM1724.8 759.9l-4.1 58.6-10.3-5.1 4.1-56.3zM1554.1 720.9l4.4-26.9 10.2 .6-4.3 28zM1422.7 716.2l4.6-10.6 10.2 1.2-4.6 11zM1423.4 764.6l4.4-27.7 10.3 2-4.5 28.8zM1573.1 680.5l-4.4 14.9-10.3-.7 4.5-14.4zM1734.3 762.6l-4.1 60.9-10.3-5.1 4.1-58.5zM1442.4 718l-4.5 21.7-10.2-2.1 4.5-20.9zM1704.8 755.2l4.1-50.8 10.3 .8-4.1 52.8zM1563.6 722.4l4.3-27.9 10.3 .4-4.4 29.1zM1432.1 717.4l4.6-11 10.2 1.1-4.6 11.4zM1312.6 804.6l-4.7 24.4-10.3-5 4.7-23.5zM1582.6 680.3l-4.5 15.5-10.2-.6 4.5-15zM1743.8 765.3l-4.1 63.3-10.3-5.1 4.1-60.9zM1451.9 719l-4.5 22.5-10.2-2 4.5-21.6zM1714.3 757.9l4.1-52.8 10.2 .7-4 54.9zM1302 801.2l4.6-25 10.3 3.1-4.6 26zM1573 723.9l4.4-29.1 10.2 .3-4.3 30.2zM1441.6 718.6l4.6-11.4 10.2 1-4.6 11.7zM1322.1 808.6l-4.6 25.3-10.3-5 4.6-24.4zM1321.2 756.6l-4.6 23.5-10.2-3.1 4.5-22.7zM1592 680l-4.4 16-10.2-.4 4.4-15.5zM1310.8 755l4.5-16.9 10.3 1.8-4.6 17.5zM1330.1 731.8l-4.7 8.9-10.1-1.9 4.6-8.7zM1311.5 805.2l4.6-26 10.3 3.1-4.6 27zM1461.4 719.9l-4.5 23.4-10.3-1.9 4.5-22.5zM1723.8 760.6l4-54.9 10.3 .5-4 57.2zM1582.5 725.2l4.3-30.2 10.3 .2-4.3 31.4zM1451.1 719.6l4.5-11.7 10.2 .8-4.5 12.1zM1331.6 812.5l-4.6 26.4-10.3-5.1 4.6-25.4zM1653.1 943l-5 20-10.3-9.5 4.9-19.3zM1330.7 758.7l-4.6 24.4-10.2-3.1 4.5-23.6zM1632.6 926.4l4.7-38 10.3 7-4.6 39.5zM1601.5 679.5l-4.5 16.6-10.2-.3 4.5-16zM1321 809.2l4.6-27 10.3 3.1-4.6 28zM1320.2 757.2l4.6-17.6 10.3 1.7-4.6 18.2zM1339.6 732.9l-4.7 9.3-10.2-1.9 4.7-8.9zM1733.3 763.3l4-57.1 10.2 .4-3.9 59.4zM1470.8 720.7l-4.4 24.3-10.3-1.9 4.5-23.3zM1341.1 816.6l-4.6 27.3-10.3-5.2 4.6-26.3zM1662.7 951.8l-5 20.7-10.3-9.7 4.9-20zM1592 726.4l4.3-31.3 10.2 0-4.3 32.6zM1460.5 720.5l4.6-12.1 10.2 .7-4.6 12.5zM1641.9 837.9l-4.3 51.3-10.4-6.8 4.4-49.4zM1642.2 934.8l4.6-39.5 10.3 7.2-4.6 41zM1340.1 760.7l-4.5 25.3-10.3-3 4.6-24.5zM1610.9 678.8l-4.4 17.2-10.2-.2 4.4-16.5zM1330.5 813.2l4.6-28 10.3 3-4.6 29.1zM1329.7 759.3l4.6-18.2 10.2 1.6-4.5 18.8zM1350.6 820.6l-4.6 28.3-10.3-5.1 4.6-27.4zM1349 734l-4.6 9.6-10.2-1.8 4.6-9.2zM1480.3 721.4l-4.4 25.1-10.3-1.7 4.4-24.2zM1651.7 943.4l4.7-41 10.3 7.2-4.6 42.7zM1651.5 842.7l-4.4 53.4-10.3-7 4.4-51.3zM1601.5 727.6l4.2-32.6 10.2-.1-4.2 33.8zM1470 721.3l4.5-12.5 10.2 .6-4.5 12.9zM1621.8 829l4.2-52 10.3 2.7-4.2 54.1zM1349.6 762.7l-4.5 26.3-10.3-3.1 4.6-25.3zM1340 817.2l4.6-29.1 10.2 3-4.5 30.2zM1360.1 824.6l-4.6 29.5-10.3-5.3 4.6-28.4zM1620.3 678l-4.3 17.7-10.3 .1 4.4-17.2zM1339.2 761.3l4.5-18.8 10.3 1.5-4.5 19.5zM1358.5 735l-4.7 9.8-10.1-1.6 4.6-9.5zM1489.7 722l-4.4 26-10.2-1.6 4.4-25.1zM1630.7 729.6l-4.1 48.2-10.3-2.7 4.2-46.3zM1631.3 833.7l4.2-54.1 10.3 2.7-4.2 56.3zM1610.9 728.6l4.2-33.8 10.3-.3-4.2 35.1zM1479.5 722l4.5-12.9 10.2 .4-4.5 13.3zM1359.1 764.6l-4.5 27.3-10.3-3.1 4.5-26.3zM1349.5 821.2l4.6-30.2 10.2 3-4.5 31.3zM1369.6 828.7l-4.5 30.6-10.4-5.3 4.6-29.5zM1348.7 763.3l4.5-19.5 10.2 1.3-4.5 20.3zM1629.8 676.9l-4.4 18.4-10.2 .2 4.3-17.7zM1367.9 735.9l-4.6 10.1-10.2-1.5 4.7-9.8zM1499.2 722.4l-4.4 27.1-10.3-1.6 4.4-26.1zM1640.2 730.3l-4.1 50.1-10.3-2.6 4.1-48.2zM1640.8 838.5l4.2-56.3 10.2 2.6-4.1 58.6zM1368.6 766.4l-4.5 28.3-10.3-3 4.5-27.3zM1620.4 729.5l4.2-35.1 10.2-.5-4.2 36.6zM1488.9 722.6l4.5-13.4 10.2 .3-4.5 13.7zM1359 825.2l4.5-31.3 10.3 2.9-4.5 32.6zM1379.2 832.7l-4.6 31.8-10.3-5.3 4.6-30.6zM1358.2 765.2l4.5-20.2 10.2 1.2-4.5 21zM1377.4 736.7l-4.6 10.4-10.2-1.4 4.6-10.1zM1649.6 730.9l-4.1 52.1-10.2-2.6 4.1-50.1zM1639.2 675.7l-4.3 19.1-10.3 .3 4.4-18.4zM1508.6 722.7l-4.3 28.1-10.3-1.5 4.4-27zM1378 768.1l-4.4 29.5-10.3-3 4.5-28.3zM1388.7 836.8l-4.6 33.1-10.3-5.5 4.6-31.8zM1368.5 829.3l4.5-32.6 10.3 2.9-4.5 33.9zM1498.4 723l4.5-13.8 10.2 .1-4.5 14.2zM1629.9 730.4l4.1-36.6 10.2-.6-4.1 37.9zM1367.6 767l4.5-21 10.3 1.2-4.5 21.7zM1659.1 731.3l-4.1 54.3-10.2-2.6 4-52.2zM1386.9 737.3l-4.6 10.8-10.2-1.3 4.6-10.5zM1518.1 722.8l-4.3 29.2-10.3-1.3 4.3-28.2zM1648.6 674.2l-4.3 19.8-10.2 .6 4.3-19.1zM1398.2 841l-4.6 34.3-10.3-5.5 4.6-33.1zM1387.5 769.8l-4.4 30.6-10.3-2.9 4.4-29.5zM1378 833.4l4.5-33.9 10.3 2.9-4.5 35.2zM1507.8 723.3l4.5-14.3 10.2-.1-4.5 14.8zM1639.3 731.1l4.1-38 10.3-.9-4.1 39.5zM1377.1 768.8l4.5-21.8 10.2 1-4.4 22.6zM1407.7 845.1l-4.6 35.7-10.3-5.6 4.6-34.3zM1396.3 737.8l-4.6 11.1-10.2-1.2 4.6-10.7zM1527.5 722.8l-4.3 30.3-10.2-1.2 4.3-29.2zM1387.6 837.5l4.4-35.2 10.3 2.8-4.4 36.6zM1397 771.4l-4.4 31.8-10.3-2.9 4.4-30.6zM1658 672.6l-4.3 20.5-10.2 .7 4.3-19.7zM1568.3 982.3l4.9-21.1 10.3 8.7-4.9 21.8zM1517.3 723.4l4.4-14.7 10.2-.3-4.4 15.3zM1648.8 731.6l4.1-39.4 10.2-1.1-4.1 41.1zM1578 921.1l-4.6 40.8-10.3-8.4 4.6-39.2zM1386.6 770.4l4.4-22.5 10.3 .9-4.5 23.4zM1417.2 849.3l-4.5 37-10.3-5.6 4.5-35.7zM1577.8 991.6l4.9-21.9 10.4 8.9-4.9 22.7zM1405.8 738.2l-4.6 11.5-10.2-1.1 4.6-11.1zM1397.1 841.6l4.4-36.6 10.3 2.8-4.4 38zM1537 722.7l-4.3 31.5-10.3-1.2 4.3-30.3zM1406.4 772.9l-4.3 33-10.3-2.9 4.4-31.7zM1587.6 928l-4.6 42.4-10.4-8.5 4.6-40.9zM1557.7 908.3l4.4-50 10.3 4.6-4.4 52.1zM1667.4 670.7l-4.2 21.3-10.2 .9 4.2-20.5zM1526.7 723.4l4.5-15.2 10.2-.5-4.4 15.8zM1426.7 853.5l-4.5 38.5-10.3-5.8 4.5-37zM1396.1 772l4.4-23.4 10.2 .8-4.4 24.3zM1597.1 935l-4.5 44.2-10.4-8.8 4.6-42.5zM1406.6 845.7l4.4-38 10.3 2.8-4.4 39.5zM1415.2 738.5l-4.5 11.8-10.2-.9 4.5-11.5zM1567.2 914.9l4.4-52 10.3 4.7-4.3 54.1zM1415.9 774.3l-4.3 34.3-10.3-2.8 4.3-33zM1546.4 722.3l-4.2 32.8-10.3-1.1 4.3-31.4zM1566.7 804.9l-4.2 54.2-10.3-4.7 4.2-52zM1436.2 857.7l-4.5 40-10.3-5.8 4.5-38.5zM1536.2 723.3l4.4-15.8 10.2-.6-4.4 16.3zM1405.5 773.5l4.4-24.2 10.3 .6-4.4 25.2zM1416.1 849.9l4.4-39.5 10.2 2.7-4.3 41.1zM1546.7 800.7l4.2-45.7 10.2 .7-4.1 47.5zM1425.4 775.6l-4.4 35.7-10.2-2.8 4.3-34.3zM1424.7 738.6l-4.6 12.2-10.2-.8 4.6-11.8zM1576.2 807.3l-4.2 56.4-10.3-4.7 4.2-54.1zM1555.8 721.9l-4.2 34-10.2-.9 4.2-32.8zM1445.7 861.9l-4.4 41.7-10.4-6 4.5-40zM1545.6 723l4.4-16.4 10.2-.8-4.3 16.9zM1425.6 854.1l4.3-41.1 10.3 2.7-4.3 42.7zM1415 775l4.4-25.2 10.2 .5-4.3 26.1zM1556.2 803.2l4.1-47.5 10.3 .6-4.1 49.4zM1585.7 809.7l-4.2 58.6-10.3-4.7 4.2-56.3zM1434.8 776.8l-4.3 37.1-10.3-2.7 4.4-35.7zM1434.1 738.5l-4.5 12.6-10.2-.6 4.5-12.2zM1455.2 866.2l-4.4 43.3-10.3-6 4.4-41.7zM1565.3 721.2l-4.2 35.3-10.3-.7 4.2-34zM1435.1 858.3l4.3-42.7 10.3 2.6-4.3 44.4zM1555.1 722.5l4.4-16.9 10.2-1.1-4.4 17.6zM1424.5 776.3l4.3-26.2 10.3 .4-4.4 27.1zM1565.7 805.6l4.1-49.4 10.2 .5-4 51.4zM1464.7 870.5l-4.4 45-10.3-6.1 4.4-43.3zM1444.3 777.9l-4.3 38.6-10.3-2.7 4.3-37.1zM1443.5 738.3l-4.5 13.1-10.2-.5 4.5-12.7zM1574.7 720.4l-4.2 36.7-10.2-.7 4.2-35.3zM1444.6 862.6l4.3-44.4 10.3 2.5-4.3 46.2zM1474.3 874.8l-4.4 46.8-10.4-6.2 4.4-45zM1433.9 777.5l4.4-27.1 10.2 .2-4.3 28.2zM1575.2 808.1l4-51.5 10.3 .4-4 53.5zM1564.5 721.9l4.4-17.6 10.2-1.2-4.3 18.1zM1453.8 779l-4.3 40-10.3-2.6 4.3-38.5zM1453 738l-4.5 13.5-10.2-.4 4.5-13zM1584.1 719.4l-4.1 38.1-10.2-.5 4.1-36.7zM1454.1 866.8l4.3-46.1 10.3 2.5-4.3 48zM1483.8 879.2l-4.4 48.7-10.3-6.3 4.4-46.9zM1443.4 778.6l4.3-28.1 10.3 0-4.3 29.3zM1463.2 779.9l-4.2 41.6-10.3-2.6 4.3-40zM1574 721l4.3-18.1 10.2-1.5-4.3 18.8zM1462.4 737.5l-4.4 13.9-10.2-.2 4.4-13.5zM1463.6 871.1l4.3-48 10.3 2.5-4.3 49.9zM1493.3 883.6l-4.4 50.6-10.3-6.4 4.4-48.7zM1593.5 718.2l-4 39.6-10.3-.4 4.1-38.1zM1472.7 780.7l-4.2 43.2-10.3-2.5 4.2-41.6zM1452.9 779.7l4.3-29.3 10.2-.1-4.3 30.4zM1583.4 720l4.3-18.8 10.2-1.7-4.3 19.5zM1502.8 888l-4.3 52.7-10.4-6.5 4.4-50.7zM1473.1 875.5l4.3-50 10.2 2.4-4.2 52zM1471.8 736.8l-4.4 14.4-10.2-.1 4.5-13.9zM1482.1 781.3l-4.1 45-10.3-2.4 4.2-43.3zM1462.4 780.6l4.2-30.4 10.3-.3-4.3 31.6zM1512.3 892.5l-4.3 54.8-10.3-6.7 4.3-52.7zM1482.6 879.8l4.2-51.9 10.3 2.3-4.2 54.1zM1481.3 735.9l-4.4 14.9-10.2 .1 4.4-14.4zM1491.6 781.9l-4.2 46.8-10.2-2.4 4.1-45zM1471.8 781.4l4.3-31.6 10.2-.4-4.2 32.8zM1492.1 884.2l4.2-54 10.3 2.3-4.1 56.2zM1490.7 734.8l-4.4 15.4-10.2 .3 4.4-14.9zM1501 782.3l-4.1 48.7-10.3-2.4 4.2-46.8zM1501.7 888.7l4.1-56.3 10.3 2.2-4.1 58.6zM1481.3 782l4.2-32.7 10.2-.7-4.2 34.1zM1500.1 733.5l-4.3 16-10.2 .5 4.3-15.4zM1510.5 782.6l-4.1 50.6-10.3-2.3 4.1-48.7zM1490.7 782.6l4.2-34.1 10.2-.8-4.1 35.4zM1509.6 732.1l-4.4 16.5-10.2 .7 4.4-16zM1519.9 782.7l-4 52.7-10.3-2.2 4.1-50.7zM1500.2 783l4.1-35.4 10.3-1-4.1 36.8zM1519 730.4l-4.3 17.1-10.2 .9 4.3-16.6zM1509.7 783.3l4.1-36.8 10.2-1.2-4.1 38.3zM1528.4 728.5l-4.3 17.7-10.2 1.1 4.3-17.1z"/><path fill="#33c" d="M1459.2 672.4l4.8-1 9.4 2.2-4.7 .9z"/><path fill="#22c" d="M1468.7 673.7l4.7-.9 9.5 2.1-4.8 .8zM1478.1 674.9l4.8-.8 9.5 2-4.8 .8zM1487.6 676.1l4.8-.8 9.4 1.9-4.7 .7z"/><path fill="#22b" d="M1497.1 677.1l4.7-.7 9.5 1.8-4.8 .6zM1506.6 678l4.7-.6 9.4 1.7-4.7 .4zM1403.9 703.5l-4.8 .1-9.4-2.1 4.8-.2z"/><path fill="#118" d="M1659.6 881.6l-4.2-5.3 10.1 7.4 4.2 5.6zM1653.4 966.7l4.2 5.5-9.6-9.6-4.1-5.2z"/><path fill="#119" d="M1669.1 889.8l-4.2-5.5 10.2 7.6 4.2 5.8zM1678.7 898.3l-4.2-5.8 10.1 7.8 4.3 6.1zM1688.2 906.9l-4.2-6.1 10.2 8.1 4.2 6.4zM1697.8 915.8l-4.2-6.4 10.2 8.2 4.2 6.8zM1707.4 924.9l-4.2-6.8 10.2 8.5 4.2 7.1zM1716.9 934.2l-4.1-7.1 10.2 8.8 4.2 7.4zM1633.7 948.9l5.3 3.8 9.6 9.3-5.3-4zM1686.1 665.8l4.9 3.7-9.9 2.8-4.9-3.4zM1611.6 702.9l-5-5.3 10-3 4.9 5.7z"/><path fill="#11a" d="M1670.1 867.7l4.5 25-10.3-8-4.5-23.9zM1679.7 875l4.5 26.1-10.3-8.2-4.5-25zM1689.3 882.4l4.5 27.2-10.4-8.4-4.5-26.1zM1698.8 889.9l4.5 28.5-10.3-8.6-4.5-27.3zM1708.4 897.7l4.5 29.7-10.3-8.9-4.6-28.4zM1717.9 905.6l4.6 31-10.4-9.1-4.5-29.7zM1594.8 915.3l-4.5-22.6 10.4 7 4.4 23.6zM1604.4 923.5l-4.5-23.6 10.3 7.2 4.5 24.6zM1613.9 931.9l-4.5-24.6 10.4 7.3 4.5 25.7zM1623.5 940.5l-4.5-25.7 10.3 7.5 4.5 26.9zM1633.1 949.3l-4.5-26.9 10.3 7.7 4.5 28.1zM1642.6 958.4l-4.5-28.1 10.4 7.9 4.5 29.3zM1531.2 931.6l4.4 22.2-10.3-8.1-4.4-21.2zM1540.7 939.1l4.5 23.1-10.3-8.2-4.5-22.2zM1550.3 946.7l4.5 24.2-10.4-8.5-4.4-23.1zM1559.9 954.5l4.4 25.3-10.3-8.7-4.5-24.2zM1588.2 1001l-5.3-2.3-9.2-10.1 5.3 2.1zM1569.4 962.5l4.5 26.4-10.3-8.9-4.5-25.3zM1579 970.7l4.5 27.5-10.4-9.1-4.4-26.4zM1547.1 723.6l5 7.6-10.1 2.5-4.9-7.3z"/><path fill="#22f" d="M1384.8 710.4l4.6-9.5 10.2 1.7-4.6 9.7z"/><path fill="#11b" d="M1659.3 861.4l-4.7-38 10.3 5.3 4.8 39.7zM1668.9 868.5l-4.8-39.7 10.3 5.4 4.8 41.4zM1678.4 875.7l-4.8-41.4 10.4 5.5 4.8 43.2zM1688 883.1l-4.8-43.2 10.3 5.6 4.8 45.1zM1697.5 890.7l-4.8-45.1 10.3 5.6 4.9 47.1zM1669 785.5l5 49.4-10.3-5.4-5-47.3zM1707.1 898.4l-4.9-47.1 10.4 5.8 4.8 49.1zM1678.5 788.9l5.1 51.6-10.4-5.5-5-49.4zM1688 792.3l5.1 53.9-10.3-5.6-5.1-51.6zM1697.5 795.7l5.1 56.2-10.3-5.7-5.1-53.8zM1595.4 861.7l4.8 38.7-10.4-7.1-4.7-37.1zM1707 799.1l5.1 58.6-10.3-5.7-5.1-56.2zM1667.9 786.4l-5.1-48.8 10.3 1.2 5.1 50.9zM1605 867.3l4.7 40.5-10.3-7.3-4.8-38.7zM1677.4 789.8l-5.1-50.9 10.2 1.1 5.2 53.1zM1614.5 873.1l4.8 42.2-10.4-7.4-4.7-40.5zM1686.9 793.2l-5.2-53.1 10.3 1 5.2 55.4zM1624 878.9l4.8 44-10.3-7.5-4.8-42.2zM1633.6 884.8l4.8 46-10.4-7.8-4.8-44zM1696.4 796.6l-5.2-55.4 10.3 .9 5.2 57.8zM1594.2 862.5l-4.9-47.1 10.3 3.5 5 49.1zM1643.1 890.8l4.9 48-10.4-7.9-4.8-46zM1677.2 697.7l5.2 43.1-10.2-1.1-5.2-41.3zM1603.8 868.1l-5-49.1 10.3 3.5 5 51.3zM1686.6 696.9l5.3 45-10.3-1-5.2-43.1zM1613.3 873.8l-5-51.2 10.3 3.5 5 53.5zM1622.8 879.7l-5-53.5 10.3 3.5 5 55.8zM1696.1 695.9l5.3 47-10.3-.9-5.3-45zM1632.3 885.6l-5-55.8 10.3 3.5 5.1 58.2zM1520.4 925.1l-4.7-36.1 10.3 5.6 4.7 37.7zM1603.6 772l5.2 51.3-10.3-3.5-5.2-49.2zM1676.5 698.6l-5.2-25.4 10.3-2.1 5.1 26.6zM1529.9 932.4l-4.7-37.7 10.3 5.7 4.8 39.4zM1613.1 773.4l5.2 53.5-10.3-3.5-5.2-51.3zM1685.9 697.8l-5.1-26.5 10.2-2.3 5.1 27.7zM1539.5 939.9l-4.8-39.4 10.3 5.8 4.8 41.1zM1622.5 774.6l5.3 55.9-10.3-3.5-5.2-53.6zM1549 947.5l-4.7-41.1 10.3 5.9 4.8 42.9zM1558.6 955.3l-4.8-42.9 10.3 6 4.8 44.8zM1632 775.8l5.3 58.3-10.3-3.6-5.3-55.8zM1530.1 852.4l5 48.7-10.3-5.7-5-46.7zM1568.1 963.3l-4.8-44.8 10.4 6.1 4.8 46.7zM1602.7 772.9l-5.2-42.4 10.2-.5 5.3 44.1zM1539.6 856.1l5 50.9-10.3-5.9-5-48.7zM1549.1 859.9l5.1 53-10.4-5.9-5-50.8zM1612.2 774.2l-5.3-44.1 10.3-.8 5.2 46.1zM1558.6 863.7l5.1 55.3-10.3-6-5.1-53zM1621.6 775.5l-5.2-46.1 10.2-.9 5.3 48.1zM1568.1 867.5l5.1 57.7-10.3-6.1-5.1-55.3zM1529 853.2l-5.1-49.5 10.3 1.5 5.1 51.7zM1612.1 701.8l5.1 28.3-10.2 .8-5.1-27.1zM1538.5 857l-5.1-51.7 10.2 1.5 5.2 53.8zM1621.5 699.7l5.2 29.5-10.3 1-5.1-28.3zM1548 860.7l-5.2-53.8 10.3 1.3 5.2 56.2zM1557.5 864.5l-5.2-56.2 10.3 1.3 5.2 58.6zM1538.3 762.3l5.2 45.3-10.3-1.5-5.2-43.3zM1547.7 761.8l5.3 47.2-10.3-1.3-5.2-45.3zM1557.1 761.1l5.3 49.3-10.2-1.3-5.3-47.2zM1537.5 763.2l-5.1-28.6 10.2-2 5.1 30zM1547 762.7l-5.2-29.9 10.2-2.2 5.2 31.3z"/><path fill="#22f" d="M1661 847.6l-4.3 55.5-10.4-7.1 4.4-53.4zM1670.5 852.5l-4.3 57.8-10.3-7.3 4.3-55.5zM1650.3 843.3l4.1-58.6 10.3 2.6-4.1 61zM1659.8 848.2l4.1-61 10.3 2.5-4.1 63.5zM1668.5 731.6l-4 56.5-10.3-2.6 4.1-54.2zM1678 731.8l-4 58.7-10.3-2.5 4-56.4zM1658.2 732.1l4.1-41.1 10.2-1.2-4 42.7zM1676.8 668.6l-4.2 22-10.2 1.2 4.2-21.3zM1667.7 732.4l4-42.7 10.2-1.4-4 44.3zM1576.8 921.7l4.3-54.2 10.3 4.8-4.3 56.3zM1686.3 666.2l-4.2 22.9-10.2 1.4 4.2-22.1zM1586.3 928.5l4.3-56.3 10.3 4.8-4.2 58.6zM1595.1 812l-4.1 61-10.3-4.7 4.2-58.7zM1604.6 814.3l-4 63.4-10.4-4.8 4.1-60.9zM1584.7 810.4l4-53.5 10.2 .2-4 55.7zM1594.2 812.7l3.9-55.6 10.3 0-4 57.9zM1603 716.7l-4.1 41.3-10.2-.3 4-39.6zM1592.9 718.8l4.2-19.5 10.2-1.9-4.2 20.2zM1612.4 715.1l-4 42.9-10.3-.1 4.1-41.2zM1521.8 897l-4.3 57-10.3-6.8 4.3-54.8zM1602.3 717.4l4.2-20.2 10.2-2.2-4.2 20.9zM1531.3 901.5l-4.2 59.4-10.4-6.9 4.3-57.1zM1511.2 893.1l4.1-58.5 10.3 2.2-4.1 60.9zM1520.7 897.6l4.1-60.9 10.2 2.1-4 63.4zM1529.4 782.7l-4 54.8-10.3-2.1 4-52.7zM1538.8 782.6l-3.9 57-10.3-2.1 4-54.8zM1519.1 783.5l4.1-38.3 10.2-1.4-4 39.8zM1537.8 726.3l-4.3 18.4-10.2 1.3 4.3-17.7zM1528.6 783.5l4-39.8 10.2-1.6-4 41.3zM1547.2 723.9l-4.2 19-10.2 1.6 4.2-18.4z"/></g><path d="M1519.8 671.2l-1.3 7M1463.9 672.2l-4.6 .2-4.6 9.4-4.4 17.2-1.6 8.2M1393.2 701.9l-3.5-.4-4.5 8.7-4.4 16.7-2 10.1M1321.4 731l-1.2-.3-4.5 7.9-4.5 16.1-13 69.1M1529.3 673.6l-1.1 5.9M1473.4 673.6l-4.7 .1-4.5 9.7-4.4 17.9-1.3 7.1M1403.9 703.5l-1.2-.2M1400.4 703l-1.2-.2-4.5 8.9-4.5 17.4-1.5 8M1330.9 732.3l-1.2-.3-4.6 8.1-4.4 16.8-13 71.7M1538.8 675.8l-.7 4M1482.8 674.9l-4.6 0-4.5 10-5.3 23.7M1411 704.4l-2.3-.4-4.6 9.2-4.4 18-1.1 6M1340.3 733.5l-1.1-.3-4.6 8.4-4.4 17.4-13 74.5M1548.3 678.1l-.4 2M1492.3 676.1l-1.2 0M1488.8 676.1l-1.1 0-4.6 10.3-4.9 22.3M1419.3 705.3l-1.2-.2-4.5 9.6-5.3 23.6M1349.8 734.7l-1.2-.4-4.5 8.7-4.4 18-12.9 77.5M1501.8 677.2l-1.2 0M1498.3 677.1l-1.2 0-4.5 10.7-4.5 21M1428.8 706.4l-1.2-.3-4.5 9.9-4.9 22.4M1359 735.6l-.9-.4-4.6 9.1-4.4 18.7-12.8 80.5M1507.7 678l-1.1 0-4.5 11-4.2 19.8M1438.2 707.3l-1.1-.3-4.6 10.2-4.5 21.1M1368.5 736.5l-1-.4-4.5 9.4-4.4 19.4-12.8 83.6M1519.5 679l-3.5-.3-4.5 11.5-3.7 18.7M1447.7 708.1l-1.2-.3-4.5 10.5-4.2 19.9M1377.9 737.3l-.9-.4-4.5 9.6-4.4 20.2-12.8 87M1526.7 679.5l-1.2-.1-4.5 11.9-3.4 17.3M1457.1 708.8l-1.1-.4-4.5 11-3.8 18.7M1387.4 738l-.9-.5-4.6 10-4.3 21-12.7 90.4M1536.1 680.1l-1.1-.1-4.5 12.2-3.1 16.3M1466.6 709.4l-1.2-.4-4.5 11.3-3.3 17.4M1396.9 738.6l-1-.5-4.5 10.3-4.4 21.7-12.6 94M1545.6 680.5l-1.2-.1-4.5 12.7-2.7 15.1M1476.1 709.8l-1.2-.4-4.5 11.7-3 16.3M1406.3 739l-.9-.5-4.5 10.6-4.4 22.6-12.6 97.8M1555 680.8l-1.1-.2-4.5 13.2-2.3 13.1M1485.3 710l-1-.4-4.4 12.1-2.6 14.2M1415.8 739.3l-1-.6-4.5 11-4.3 23.5-12.6 101.7M1564.5 681l-1.2-.2-4.5 13.6-1.8 11.1M1494.7 710.2l-.9-.5-4.5 12.6-2.2 13.1M1425.2 739.5l-.9-.7-4.5 11.4-4.3 24.4-12.5 105.8M1573.9 681l-1.1-.2-4.5 14.1-1.6 10.1M1504.2 710.2l-1-.5-4.4 13-1.9 11.1M1434.7 739.5l-1-.7-4.5 11.8-4.3 25.4-12.4 109.9M1583.4 680.9l-1.2-.3-4.4 14.7-1.3 8M1513.6 710l-.9-.5-4.5 13.5-1.4 9.1M1444.1 739.3l-.9-.7-4.5 12.2-4.3 26.4-12.4 114.4M1592.8 680.6l-1.1-.3-4.5 15.2-.9 6.1M1523.1 709.7l-1-.5-4.4 14-1.1 7.1M1453.4 738.9l-.8-.7-4.5 12.7-4.2 27.4-12.4 119M1602.3 680.1l-1.2-.3-4.4 15.8-.6 4M1532.5 709.2l-.9-.5-4.5 14.5-.7 5M1462.8 738.4l-.7-.7-4.5 13.2-4.3 28.4-12.2 123.9M1611.7 679.5l-1.2-.4-4.7 18.4M1542 708.6l-1-.6-4.4 15-.5 3.1M1472.3 737.8l-.8-.8-4.5 13.6-4.2 29.6-12.2 128.9M1621.1 678.7l-1.1-.4-4.4 16.9M1551.4 707.8l-.9-.7-4.6 16.6M1481.7 736.9l-.8-.7-4.4 14.1-4.3 30.7-12.1 134.1M1669.7 889.2l-1.6-1.6M1630.3 677.6l-.9-.4-4.4 17.6-2 16.2M1560.8 706.8l-.9-.7-4.4 16.1-2.3 18.1M1491.2 735.9l-.8-.8-4.5 14.6-4.2 32-12 139.6M1699.8 704l-1.3 16M1677.9 896.2l-3.4-3.7-5.4-27.4M1639.8 676.4l-1-.4-4.4 18.3-4.1 35.7-1.7 20.2M1606.9 924.5l-1.9-1.4-5-23-.8-6M1570.3 705.6l-1-.8-4.4 16.8-4.2 34.5-2 23.4M1536.5 954l-1-.4-4.9-21.6-1-7M1500.5 734.6l-.7-.8-4.4 15.2-4.2 33.3-12 145.2M1709.3 704.8l-5.3 68.1M1688.8 906.4l-4.7-5.6-5-25.4-7.1-57M1649.2 675l-.9-.4-4.4 18.9-4.2 37.2-5.6 72.5M1615.4 932.1l-.8-.6-5-24-5.2-39.8-2.4-21.1M1579.5 704l-.7-.6-4.5 17.3-4.1 35.9-6 75.9M1546 962.5l-.9-.5-5-22.5-5.2-38.7-2.6-23M1509.9 733.1l-.7-.8-4.4 15.8-4.2 34.6-11.9 151.2M1718.8 705.5l-9.3 125.5M1698.4 915.2l-4.8-5.8-5-26.6-5.2-42.6-7.9-73.9M1658.6 673.4l-.9-.5-4.4 19.7-4.1 38.7-9.6 130.2M1624.9 940.8l-.7-.7-5.1-25.1-5.2-41.5-8.4-78.8M1589 702.4l-.8-.7-4.4 18-4.2 37.4-9.9 133.4M1555.6 971.2l-.9-.5-5-23.6-5.3-40.4-8.8-83.1M1519.3 731.5l-.6-.8-4.5 16.3-4.1 36-11.8 157.3M1728.2 706.1l-7.7 112-4 51.9-1.4 13.1M1708 924.3l-4.8-6.1-5-27.9-5.3-44.4-10.8-105.5-3-24.1M1668.1 671.5l-1-.5-4.4 20.5-4 40.2-11.7 164-1.9 17.9M1634.5 949.7l-.8-.8-5-26.2-5.3-43.4-10.8-105.5-3.5-29.3M1598.4 700.5l-.8-.7-4.4 18.7-4.1 38.9-11.7 164-2.3 22.1M1565.2 980.1l-1-.5-5-24.7-5.2-42.2-10.8-105.5-3.9-32.3M1528.8 729.6l-.7-.9-4.4 17-4.2 37.4-11.7 163.8M1737.7 706.6l-11.6 170.6-4.1 38.9-1.8 6.8M1717.5 933.7l-4.7-6.5-5.1-29.2-5.3-46.4-10.9-110.1-5.2-44.1-3.1-15.9M1677.5 669.4l-1-.5-4.3 21.3-4.1 41.8-11.6 170.7-4.1 40.5-2.1 9.2M1644.9 959.5l-1.6-1.5-5-27.5-5.3-45.3-10.9-110.1-5.3-45.4-3.6-19.3M1607.8 698.4l-.8-.7-4.4 19.4-4.1 40.4-11.6 170.7-4 41.9-2.3 11.1M1574.7 989.2l-.9-.5-5-25.8-5.3-44.2-10.9-110-5.3-46.5-3.8-22.1M1538.1 727.4l-.6-.8-4.4 17.6-4.1 38.9-11.6 170.6M1747.1 706.9l-11.5 177.6-4.1 40.5-4.4 18.2-4.7-6.8-5.1-30.5-5.4-48.5-10.9-114.9-5.3-46.1-5-27-4.7-2.8-4.4 22-4 43.6-11.5 177.7-4.1 42.1-4.4 20.1-4.7-4.8-5.1-28.7-5.3-47.4-10.9-115-5.4-47.3-5-28.7-4.8-4.9-4.3 20.2-4.1 42-11.5 177.8-4.1 43.5-4.3 22.1-4.7-2.9-5.1-26.9-5.3-46.2-10.9-114.9-5.3-48.5-5.1-30.4-4.8-6.9-4.4 18.2-4.1 40.6-11.5 177.5" fill="none" stroke="#100" stroke-width="0.85" stroke-linejoin="round" stroke-linecap="round"/><path d="M1519.8 671.2l38 9.1M1697.5 703.8l26 2.1 23.6 1M1708.6 811.8l30.9 16.5M1718.8 913.2l12.7 11.8M1668.1 887l27.9 24.6 26.4 24.8M1671.4 833.3l40.5 24.1M1677.3 739.8l23.7 2.7M1463.9 672.2l22.5 3.2M1488.8 675.7l5.9 .7M1497 676.7l2.4 .2M1501.8 677.2l2.3 .3M1506.5 677.7l2.4 .3M1511.2 678.2l2.4 .2M1517.2 678.8l2.3 .2M1523.1 679.3l2.3 .2M1686 670.5l4.7-1.1M1454.7 681.8l33.2 5.3 30.7 3.9 30.8 2.8 28.4 1.5 28.3 .2 26-1.1 25.9-2.3 23.6-3.5M1632.2 779.1l41.5 11M1643.4 893.1l22.7 16.8M1652 966.5l5.6 5.6M1600 900.1l23.9 18.7 23.9 19.8M1603.8 821.1l33.2 12.6M1610.9 730.2l15.3-1.3M1389.7 701.5l33.2 4.1 30.7 2.7 30.7 1.3 28.4-.1 28.3-1.5 26-2.8 25.9-4.4 23.5-5.5M1380.8 726.9l28.4 6.4 26.1 5.5M1557.2 755.8l24.8 1.4 26 .3M1567 861l33.3 16.3M1578.1 965.8l14.3 13M1528.3 947.4l28.7 25.5 26.4 25.1M1531.3 898.6l41.7 26.3M1537.2 806.3l24.9 3.7M1545.8 732.4l5.9-1.3M1315.7 738.6l33.1 5 30.8 3.7 30.7 2.4 28.4 1.1 28.3-.2 26-1.4 25.9-2.9 23.6-3.9M1306.9 776.7l64 19.7 59.3 17.1 54.6 14.2 49.7 11.5M1298.2 823.8l33.3 17.1 31 16.7 30.9 17.3 28.6 16.7 28.6 17.5 26.2 16.8 26.3 17.7 23.8 16.9" fill="none" stroke="#100" stroke-width="0.85" stroke-linejoin="round" stroke-linecap="round"/><g stroke="#000" stroke-width="2.3" stroke-linecap="round"><line x1="1299.8" y1="940.6" x2="1295.7" y2="648.1"/><line x1="1299.8" y1="940.6" x2="1527.8" y2="1026.8"/><line x1="1295.7" y1="648.1" x2="1518.2" y2="554.4"/><line x1="1295.7" y1="648.1" x2="1523.7" y2="734.4"/><line x1="1518.2" y1="554.4" x2="1746.2" y2="640.6"/><line x1="1527.8" y1="1026.8" x2="1523.7" y2="734.4"/><line x1="1527.8" y1="1026.8" x2="1750.3" y2="933.1"/><line x1="1523.7" y1="734.4" x2="1746.2" y2="640.6"/><line x1="1750.3" y1="933.1" x2="1746.2" y2="640.6"/></g><g stroke="#000" stroke-width="2"><line x1="1299.7" y1="929.5" x2="1293.2" y2="929.5"/><line x1="1299.3" y1="902.4" x2="1286.8" y2="902.4"/><line x1="1298.9" y1="875.4" x2="1292.4" y2="875.4"/><line x1="1298.6" y1="848.4" x2="1286.1" y2="848.4"/><line x1="1298.2" y1="821.4" x2="1291.7" y2="821.4"/><line x1="1297.8" y1="794.4" x2="1285.3" y2="794.4"/><line x1="1297.4" y1="767.3" x2="1290.9" y2="767.3"/><line x1="1297" y1="740.3" x2="1284.5" y2="740.3"/><line x1="1296.7" y1="713.3" x2="1290.2" y2="713.3"/><line x1="1296.3" y1="686.3" x2="1283.8" y2="686.3"/><line x1="1295.9" y1="659.2" x2="1289.4" y2="659.2"/><line x1="1299.8" y1="940.6" x2="1300" y2="953.1"/><line x1="1322.6" y1="949.2" x2="1322.7" y2="955.7"/><line x1="1345.4" y1="957.8" x2="1345.6" y2="970.3"/><line x1="1368.2" y1="966.5" x2="1368.3" y2="973"/><line x1="1391" y1="975.1" x2="1391.2" y2="987.6"/><line x1="1413.8" y1="983.7" x2="1413.9" y2="990.2"/><line x1="1436.6" y1="992.3" x2="1436.8" y2="1004.8"/><line x1="1459.4" y1="1001" x2="1459.5" y2="1007.5"/><line x1="1482.2" y1="1009.6" x2="1482.4" y2="1022.1"/><line x1="1505" y1="1018.2" x2="1505.1" y2="1024.7"/><line x1="1527.8" y1="1026.8" x2="1528" y2="1039.3"/><line x1="1539" y1="1022.1" x2="1539.1" y2="1028.6"/><line x1="1550.1" y1="1017.5" x2="1550.2" y2="1024"/><line x1="1561.2" y1="1012.8" x2="1561.3" y2="1019.3"/><line x1="1572.3" y1="1008.1" x2="1572.4" y2="1014.6"/><line x1="1583.5" y1="1003.4" x2="1583.6" y2="1015.9"/><line x1="1594.6" y1="998.7" x2="1594.7" y2="1005.2"/><line x1="1605.7" y1="994" x2="1605.8" y2="1000.5"/><line x1="1616.8" y1="989.3" x2="1616.9" y2="995.8"/><line x1="1628" y1="984.6" x2="1628" y2="991.1"/><line x1="1639.1" y1="980" x2="1639.3" y2="992.5"/><line x1="1650.2" y1="975.3" x2="1650.3" y2="981.8"/><line x1="1661.3" y1="970.6" x2="1661.4" y2="977.1"/><line x1="1672.4" y1="965.9" x2="1672.5" y2="972.4"/><line x1="1683.6" y1="961.2" x2="1683.7" y2="967.7"/><line x1="1694.7" y1="956.5" x2="1694.9" y2="969"/><line x1="1705.8" y1="951.8" x2="1705.9" y2="958.3"/><line x1="1716.9" y1="947.1" x2="1717" y2="953.6"/><line x1="1728.1" y1="942.5" x2="1728.1" y2="949"/><line x1="1739.2" y1="937.8" x2="1739.3" y2="944.3"/><line x1="1750.3" y1="933.1" x2="1750.5" y2="945.6"/></g><g font-family="Liberation Serif, serif" font-size="20" fill="#000"><text x="1285.8" y="910.7" text-anchor="end">−2</text><text x="1285.1" y="856.7" text-anchor="end">−1</text><text x="1284.3" y="802.6" text-anchor="end">0</text><text x="1283.5" y="748.6" text-anchor="end">1</text><text x="1282.8" y="694.5" text-anchor="end">2</text><text x="1300.2" y="973.3" text-anchor="middle">0</text><text x="1345.8" y="990.6" text-anchor="middle">0.2</text><text x="1391.4" y="1007.8" text-anchor="middle">0.4</text><text x="1437" y="1025.1" text-anchor="middle">0.6</text><text x="1482.6" y="1042.3" text-anchor="middle">0.8</text><text x="1528.2" y="1059.6" text-anchor="middle">10</text><text x="1583.8" y="1036.1" text-anchor="middle">5</text><text x="1639.4" y="1012.7" text-anchor="middle">0</text><text x="1695.1" y="989.3" text-anchor="middle">−5</text><text x="1750.7" y="965.8" text-anchor="middle">−10</text></g><g font-family="Liberation Serif, serif" font-size="20" fill="#000"><text x="1397.4" y="1040.8" text-anchor="middle" font-style="normal">ψ</text><text x="1640.1" y="1053.5" text-anchor="middle" font-style="normal">ζ</text></g><text x="1266.5" y="555.2" font-family="Liberation Sans, Arial, sans-serif" font-weight="bold" font-size="38.5">F</text><rect x="541.1" y="126" width="83.9" height="38.8" fill="#3f48cc"/><rect x="541.1" y="164.8" width="83.9" height="35.1" fill="#fff200"/><rect x="541.1" y="199.9" width="83.9" height="31.2" fill="#22b14c"/><rect x="541.1" y="231.1" width="83.9" height="28.7" fill="#ed1c24"/><g stroke="#000" stroke-width="1.6"><line x1="541.1" y1="126" x2="625" y2="126"/><line x1="541.1" y1="164.8" x2="625" y2="164.8"/><line x1="541.1" y1="199.9" x2="625" y2="199.9"/><line x1="541.1" y1="231.1" x2="625" y2="231.1"/><line x1="541.1" y1="259.8" x2="625" y2="259.8"/><line x1="625" y1="126" x2="625" y2="259.8"/><line x1="541.1" y1="126" x2="541.1" y2="259.8"/></g><text x="636.7" y="151.2" fill="#3f48cc" font-family="Liberation Serif, serif" font-size="27.5" textLength="36" lengthAdjust="spacingAndGlyphs"><tspan font-weight="bold" font-style="italic">δ</tspan>=1</text><text x="636.7" y="193.1" fill="#fff200" font-family="Liberation Serif, serif" font-size="27.5" textLength="55" lengthAdjust="spacingAndGlyphs"><tspan font-weight="bold" font-style="italic">δ</tspan>=0.9</text><text x="636.7" y="221.1" fill="#1aa866" font-family="Liberation Serif, serif" font-size="27.5" textLength="55" lengthAdjust="spacingAndGlyphs"><tspan font-weight="bold" font-style="italic">δ</tspan>=0.7</text><text x="640.7" y="258.4" fill="#ed1c24" font-family="Liberation Serif, serif" font-size="27.5" textLength="54" lengthAdjust="spacingAndGlyphs"><tspan font-weight="bold" font-style="italic">δ</tspan>=0.5</text><rect x="546.3" y="695.1" width="53" height="38.9" fill="#3f48cc"/><rect x="546.3" y="734" width="53" height="35.3" fill="#fff200"/><rect x="546.3" y="769.3" width="53" height="31.5" fill="#22b14c"/><rect x="546.3" y="800.8" width="53" height="28.3" fill="#ed1c24"/><g stroke="#000" stroke-width="1.6"><line x1="546.3" y1="695.1" x2="599.3" y2="695.1"/><line x1="546.3" y1="734" x2="599.3" y2="734"/><line x1="546.3" y1="769.3" x2="599.3" y2="769.3"/><line x1="546.3" y1="800.8" x2="599.3" y2="800.8"/><line x1="546.3" y1="829.1" x2="599.3" y2="829.1"/><line x1="599.3" y1="695.1" x2="599.3" y2="829.1"/></g><text x="611.3" y="720.4" fill="#3f48cc" font-family="Liberation Serif, serif" font-size="27.5" textLength="36" lengthAdjust="spacingAndGlyphs"><tspan font-weight="bold" font-style="italic">δ</tspan>=1</text><text x="611.3" y="762.5" fill="#fff200" font-family="Liberation Serif, serif" font-size="27.5" textLength="55" lengthAdjust="spacingAndGlyphs"><tspan font-weight="bold" font-style="italic">δ</tspan>=0.9</text><text x="611.3" y="791.1" fill="#1aa866" font-family="Liberation Serif, serif" font-size="27.5" textLength="55" lengthAdjust="spacingAndGlyphs"><tspan font-weight="bold" font-style="italic">δ</tspan>=0.7</text><text x="615.1" y="827.6" fill="#ed1c24" font-family="Liberation Serif, serif" font-size="27.5" textLength="54" lengthAdjust="spacingAndGlyphs"><tspan font-weight="bold" font-style="italic">δ</tspan>=0.5</text></svg></body></html>
